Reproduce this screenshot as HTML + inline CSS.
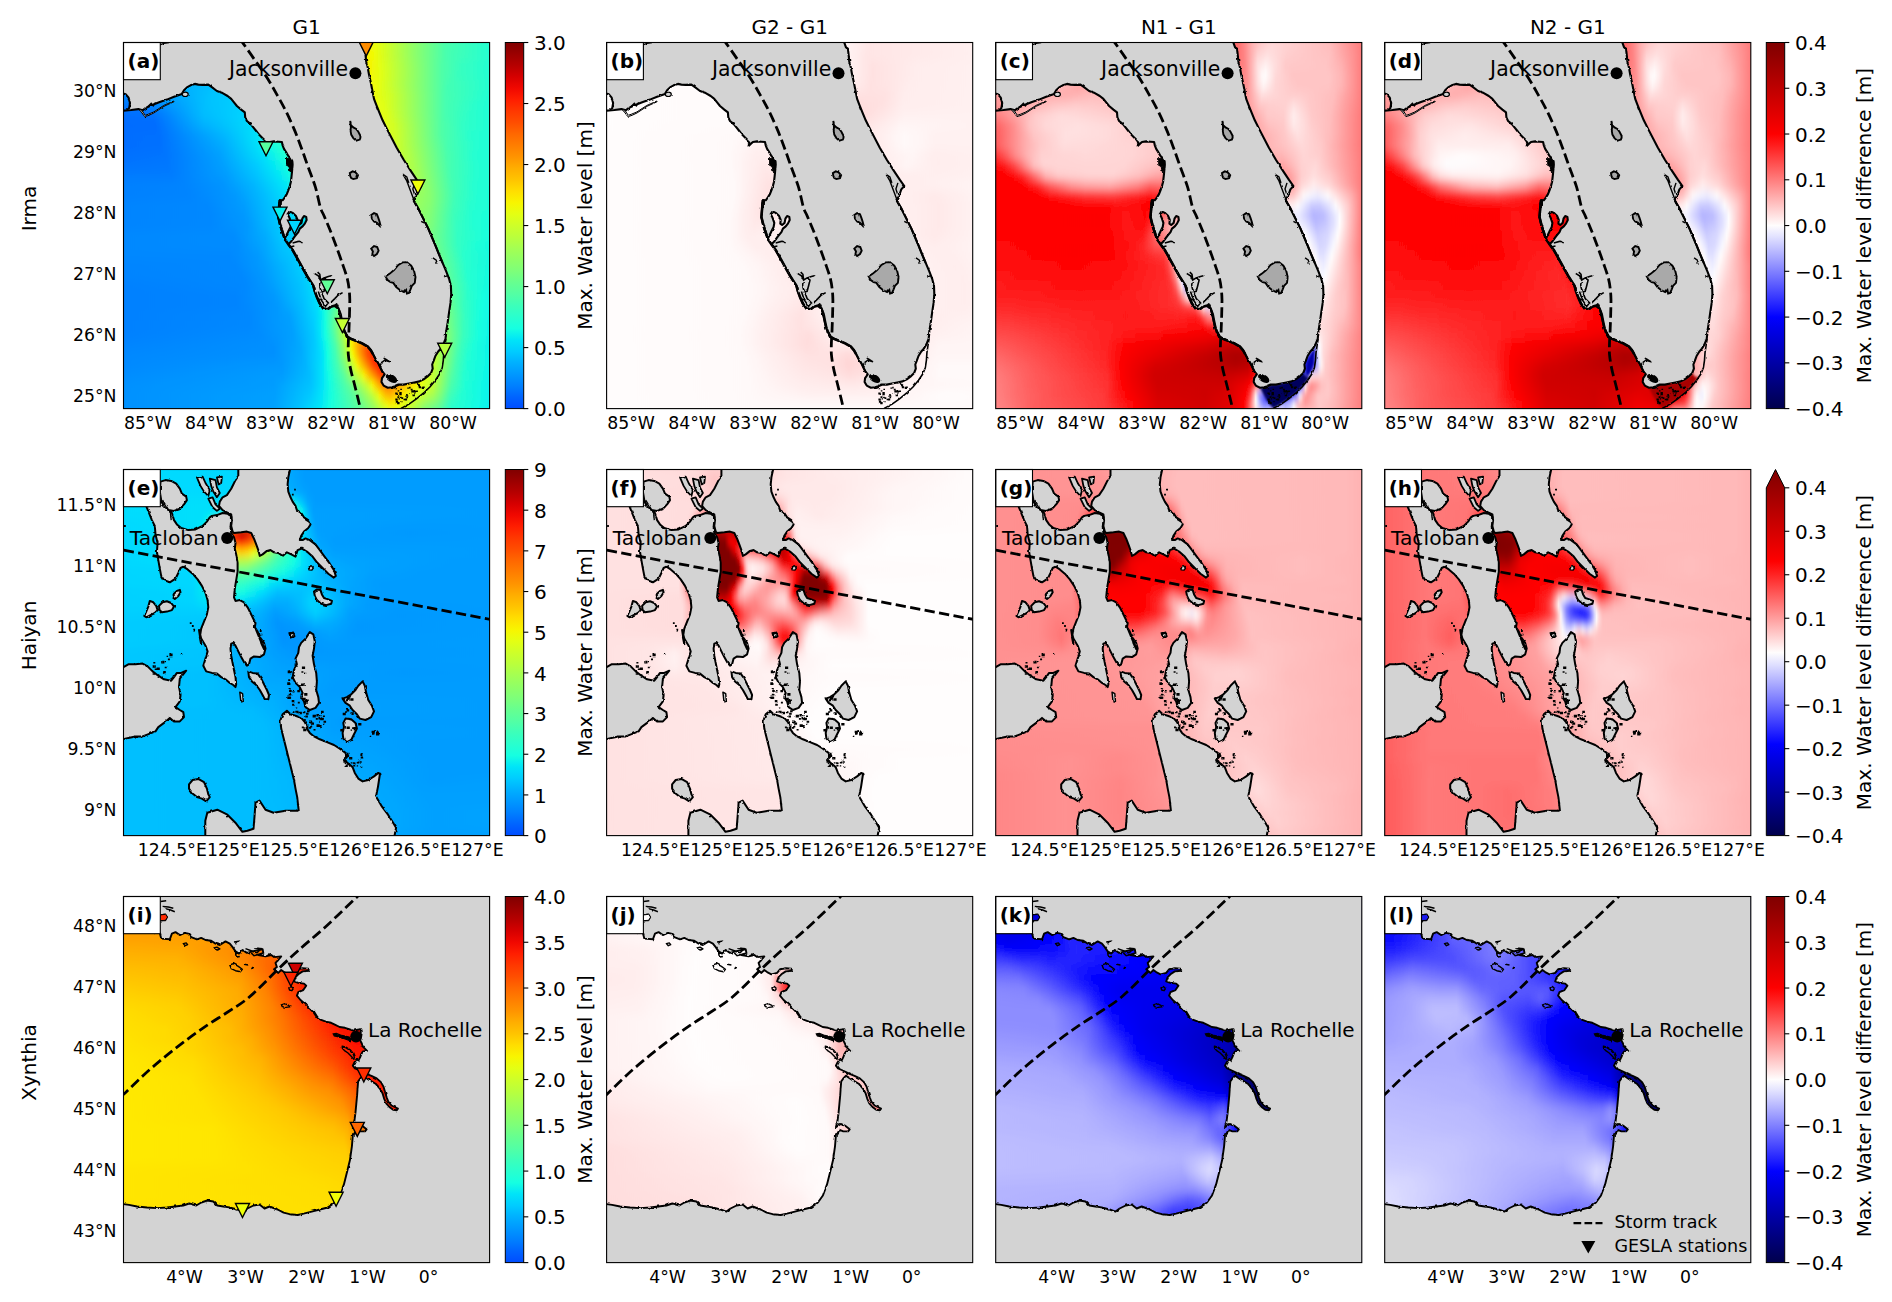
<!DOCTYPE html>
<html><head><meta charset="utf-8"><title>Max water level comparison</title>
<style>html,body{margin:0;padding:0;background:#fff}svg{display:block}text{font-family:"DejaVu Sans","Liberation Sans",sans-serif;fill:#000}</style></head><body>
<svg width="1892" height="1302" viewBox="0 0 1892 1302">
<rect width="1892" height="1302" fill="#fff"/>
<defs>
<linearGradient id="gjet" x1="0" y1="1" x2="0" y2="0"><stop offset="0.0000" stop-color="#004cff"/><stop offset="0.0312" stop-color="#0064ff"/><stop offset="0.0625" stop-color="#0080ff"/><stop offset="0.0938" stop-color="#0098ff"/><stop offset="0.1250" stop-color="#00b0ff"/><stop offset="0.1562" stop-color="#00ccff"/><stop offset="0.1875" stop-color="#00e4f8"/><stop offset="0.2188" stop-color="#16ffe1"/><stop offset="0.2500" stop-color="#29ffce"/><stop offset="0.2812" stop-color="#3cffba"/><stop offset="0.3125" stop-color="#53ffa4"/><stop offset="0.3438" stop-color="#66ff90"/><stop offset="0.3750" stop-color="#7dff7a"/><stop offset="0.4062" stop-color="#90ff66"/><stop offset="0.4375" stop-color="#a4ff53"/><stop offset="0.4688" stop-color="#baff3c"/><stop offset="0.5000" stop-color="#ceff29"/><stop offset="0.5312" stop-color="#e4ff13"/><stop offset="0.5625" stop-color="#f8f500"/><stop offset="0.5938" stop-color="#ffde00"/><stop offset="0.6250" stop-color="#ffc400"/><stop offset="0.6562" stop-color="#ffae00"/><stop offset="0.6875" stop-color="#ff9400"/><stop offset="0.7188" stop-color="#ff7e00"/><stop offset="0.7500" stop-color="#ff6800"/><stop offset="0.7812" stop-color="#ff4e00"/><stop offset="0.8125" stop-color="#ff3800"/><stop offset="0.8438" stop-color="#ff1e00"/><stop offset="0.8750" stop-color="#f10800"/><stop offset="0.9062" stop-color="#d60000"/><stop offset="0.9375" stop-color="#b60000"/><stop offset="0.9688" stop-color="#9b0000"/><stop offset="1.0000" stop-color="#800000"/></linearGradient>
<linearGradient id="gseis" x1="0" y1="1" x2="0" y2="0"><stop offset="0.0000" stop-color="#00004c"/><stop offset="0.0312" stop-color="#000063"/><stop offset="0.0625" stop-color="#000079"/><stop offset="0.0938" stop-color="#000090"/><stop offset="0.1250" stop-color="#0000a6"/><stop offset="0.1562" stop-color="#0000bc"/><stop offset="0.1875" stop-color="#0000d3"/><stop offset="0.2188" stop-color="#0000e9"/><stop offset="0.2500" stop-color="#0101ff"/><stop offset="0.2812" stop-color="#2121ff"/><stop offset="0.3125" stop-color="#4141ff"/><stop offset="0.3438" stop-color="#6161ff"/><stop offset="0.3750" stop-color="#8181ff"/><stop offset="0.4062" stop-color="#a1a1ff"/><stop offset="0.4375" stop-color="#c1c1ff"/><stop offset="0.4688" stop-color="#e1e1ff"/><stop offset="0.5000" stop-color="#fffdfd"/><stop offset="0.5312" stop-color="#ffdddd"/><stop offset="0.5625" stop-color="#ffbdbd"/><stop offset="0.5938" stop-color="#ff9d9d"/><stop offset="0.6250" stop-color="#ff7d7d"/><stop offset="0.6562" stop-color="#ff5d5d"/><stop offset="0.6875" stop-color="#ff3d3d"/><stop offset="0.7188" stop-color="#ff1d1d"/><stop offset="0.7500" stop-color="#fe0000"/><stop offset="0.7812" stop-color="#ee0000"/><stop offset="0.8125" stop-color="#de0000"/><stop offset="0.8438" stop-color="#ce0000"/><stop offset="0.8750" stop-color="#be0000"/><stop offset="0.9062" stop-color="#ae0000"/><stop offset="0.9375" stop-color="#9e0000"/><stop offset="0.9688" stop-color="#8e0000"/><stop offset="1.0000" stop-color="#800000"/></linearGradient>
<filter id="vb" x="-10%" y="-10%" width="120%" height="120%"><feGaussianBlur stdDeviation="0 4"/></filter>
<filter id="b1" x="-20%" y="-20%" width="140%" height="140%"><feGaussianBlur stdDeviation="1"/></filter>
<clipPath id="pc"><rect x="0" y="0" width="366.1" height="366.1"/></clipPath>
<filter id="rough" x="-5%" y="-5%" width="110%" height="110%"><feTurbulence type="fractalNoise" baseFrequency="0.2" numOctaves="2" seed="4"/><feDisplacementMap in="SourceGraphic" scale="2.4" xChannelSelector="R" yChannelSelector="G"/></filter><g id="fl_land"><g filter="url(#rough)"><path d="M-5 -5 237.7 -2.2 237.7 0.1 239.4 4.9 241.3 6.1 242 12.1 242.7 19.2 244.1 24.2 245.5 32.1 247.4 40.6 249.1 49.2 250.5 56.4 252.7 62.1 255.5 69.2 259.1 77.8 263.4 86.4 273.2 105.2 280.2 117.3 287.3 128.4 293.3 137.4 297.7 143.5 294.7 146.9 292.7 152.5 289.8 157.5 294.8 166.1 299.8 176.1 304.8 186.1 308.4 194.6 312 203.2 315.5 211.8 319.1 220.4 322.7 228.9 325.5 236.1 327.4 243.2 327.7 251.8 327 260.4 325.5 270.4 324.1 280.4 322.7 288.9 322 296.8 321.9 296.6 319.8 301.9 317.2 306.1 314.5 309.3 311.9 313.5 310.3 317.8 308.7 322 309.2 326.2 307.6 330.4 304.5 333.6 300.2 336.8 296 338.9 290.7 340 285.5 341 280.2 342.1 275.9 342.1 271.7 343.7 268.5 344.7 264.3 345.2 260.1 343.1 258 339.4 258.5 335.7 261.1 332 259 329.4 256.9 325.2 254.8 320.9 252.2 316.7 249.5 311.4 247.4 307.7 244.2 304 238.9 300.8 233.7 298.7 228.4 296.6 224.1 294.5 221 289.2 218.9 282.9 217.3 275.5 215.7 268.1 213 261.7 211.3 263.2 207.7 263.9 204.1 266.8 199.8 266.1 196.3 261.1 193.4 254.6 191.3 248.9 189.8 243.2 187 238.9 183.4 233.2 179.8 226.8 176.3 220.4 172.7 213.9 169.1 207.5 164.8 201.8 167.7 198.9 171.3 193.9 174.8 189.6 176.3 186.1 179.1 183.9 181.3 181.1 183.1 177.5 182.7 174.4 180.5 173.5 178.8 176.1 178 180.4 175.5 182.5 173.7 181.1 174.1 177.5 172.3 173.2 169.1 170.4 166 168.9 164.1 171.5 166 175.4 167.7 180.4 167 184.6 165.1 188.2 163.1 192.5 161.3 196.1 159.8 191.8 157 183.2 154.8 174.6 155.5 166.1 156.3 157.5 159.1 157.8 161.3 154.9 163.4 151.4 164.8 147.8 166.3 143.5 167.4 139.2 168 134.2 168.5 129.2 169.1 122.1 168.8 118.5 167 115.6 164.8 113.5 162.7 109.9 160.5 106.4 159.1 102.8 158.4 99.5 154.8 99.2 150.5 98.9 146.3 99.5 144.1 101.4 142 103.5 142.7 100.6 141.3 97.8 138.4 94.9 135.5 92.1 132.7 88.5 129.8 84.9 127 81.4 123.4 78.5 121.7 74.9 121.3 69.9 117.7 67.1 113.4 63.5 110.5 59.9 107.7 56.4 104.1 53.5 99.1 50.6 93.4 48.5 87.7 44.2 84.8 42.1 79.1 42.4 74.8 42.1 71.3 41.4 67 42.8 63.4 44.9 60.5 47.8 58.4 51.4 50.5 54.2 43.4 57.1 36.3 59.5 30.5 61.8 26.3 63.5 22 65.6 19.1 67.8 14.8 66.6 7.7 67.5 -0 68.1 -5 69ZM-2.3 50.6 2.3 51.8 5.1 55.2 6.5 60.6 5.7 65.6 3.4 67.8 -2.3 68.4Z" fill="#d3d3d3" stroke="#000" stroke-width="2.1" stroke-linejoin="round" fill-rule="evenodd"/><path d="M14.8 66.6 17 68.5 21.3 74.2 25.5 72.8 30.5 70.4 40.5 63.8 50.5 59.2 50.3 58.5 40.3 62.9 30.3 69.4 25.1 71.6 21.7 72.8 18.3 67.8Z" fill="#d3d3d3" stroke="#000" stroke-width="1"/><path d="M226.7 78.5 227.7 82.8 229.8 84.9 232.7 86.4 234.8 89.2 237 93.5 236.3 97.1 232.7 98.1 229.8 95.6 227.7 92.1 227 87.8 227.4 84.9Z" fill="#a9a9a9" stroke="#000" stroke-width="1.9"/><path d="M226.3 130.6 229.1 128.9 232 129.9 234.5 132.8 233.4 135.6 229.8 136.6 227.7 135.6 226.7 133.5Z" fill="#a9a9a9" stroke="#000" stroke-width="1.9"/><path d="M247.7 172.5 250.5 170.6 253.4 171.8 254.8 175.4 256 178.9 257.4 184.6 255.5 182.5 253.4 180.4 250.5 178.9 248.4 176.1Z" fill="#a9a9a9" stroke="#000" stroke-width="1.9"/><path d="M247.7 206.1 250.5 203.5 253.7 204.6 255.1 208.2 253.4 211.5 250.5 213.5 248.8 211.8 249.4 208.9Z" fill="#a9a9a9" stroke="#000" stroke-width="1.9"/><path d="M262 233.9 266.3 231.1 270.5 227.5 274.8 222.5 279.1 219.9 283.4 219.6 287.7 223.2 290.5 228.2 292 234.6 291.3 240.4 288.4 243.2 287 246.8 285.5 250.4 283.4 251.1 282.7 247.5 280.5 249.6 276.3 247.5 272.7 244.6 269.8 240.4 267 239.6 264.1 237.5Z" fill="#a9a9a9" stroke="#000" stroke-width="1.9"/><path d="M277.5 365.9 285.5 361.6 292.9 356.3 300.2 350.5 306.6 344.2 311.9 337.8 316.1 331.5 318.7 325.2 319.8 317.8 320.3 310.4 321.4 303 322.4 296.6" fill="none" stroke="#000" stroke-width="1.6"/><ellipse cx="268.0" cy="335.9" rx="6.3" ry="3.6" transform="rotate(32 268.0 335.9)" fill="#000"/><path d="M221 289.2 224.1 294.5 228.4 296.8 233.7 298.9 238.9 301.1 244.2 304.2 247.4 307.9 249.5 311.6" fill="none" stroke="#000" stroke-width="2.6" stroke-linejoin="round"/><path d="M249.5 311.6 252.2 316.7 254.8 320.9 256.9 325.2 259 329.4 261.1 332" fill="none" stroke="#000" stroke-width="1.8"/><path d="M256.9 320.9 261.1 317.8 266.4 319.3 262.2 316.7 260.1 315.6" fill="none" stroke="#000" stroke-width="1.5"/><path d="M156.3 157.5 155.5 166.1 154.8 174.6 157 183.2 159.8 191.8 161.3 196.8 164.8 201.8 169.1 207.5 172.7 213.9 176.3 220.4 179.8 226.8 183.4 233.2 187 238.9 189.8 243.2 191.3 248.9 193.4 254.6 196.3 261.1 199.8 266.1 204.1 266.8 207.7 263.9 211.3 263.2 214.8 266.1 217 271.8 218.4 278.9 219.8 285.4 222 291.1 224.1 295.4" fill="none" stroke="#000" stroke-width="2.6" stroke-linejoin="round"/><path d="M207.7 259.6 211.3 256.1 214.8 252.5 219.1 250.1M190.5 230.6 194.8 233.2 197 237.5 200.5 235.4 203.4 237.5 202 243.2 200.5 248.9 197.7 249.6 196.3 244.6 197.7 239.6M194.8 248.9 197.7 257.5 202 263.9 204.8 260.4 200.5 256.1 198.4 250.4M200.5 235.4 204.8 233.9 207.7 233.2M197 237.5 196.3 231.8 194.1 229.6" fill="none" stroke="#000" stroke-width="1.6"/><path d="M162 116.4 167 115.2 169.1 119.2 168.8 127.8 166.5 129.2 165.5 124.2 162 122.1Z" fill="#000" stroke="#000" stroke-width="1"/><path d="M154.8 174.6 156.3 183.2 159.1 191.8 162 198.2M169.1 200.4 174.8 198.9 179.1 200.4M166.3 204.6 170.8 203.5M157 157.8 155.5 160.6 156.3 164.2" fill="none" stroke="#000" stroke-width="1.5"/><path d="M279.2 131.4 283.3 138.4 286.3 146.5 289.3 154.5 292.3 162.6M291.3 140.4 289.3 146.5 291.3 152.5M280.2 132.4 283.3 134.4 285.3 140.4" fill="none" stroke="#000" stroke-width="1.4"/><path d="M289.8 157.5 294.8 166.1 299.8 176.1 304.8 186.1 308.4 194.6 312 203.2 315.5 211.8 319.1 220.4" fill="none" stroke="#000" stroke-width="2"/><path d="M309.4 215.4 313.4 218.2 312 221.1M297.7 178.9 300.5 180.4M320.5 234.6 324.1 233.2" fill="none" stroke="#000" stroke-width="1.4"/><path d="M276.0 351.4h1.6v1.3h-1.6zM272.2 345.8h1.3v1.0h-1.3zM277.8 358.7h1.3v1.0h-1.3zM295.2 343.8h2.4v2.0h-2.4zM285.5 344.7h1.6v1.3h-1.6zM274.2 347.7h1.6v1.3h-1.6zM271.8 356.1h2.4v2.0h-2.4zM290.0 348.0h1.9v1.6h-1.9zM272.4 358.5h1.6v1.3h-1.6zM293.7 341.2h1.9v1.6h-1.9zM292.5 347.9h1.9v1.6h-1.9zM287.2 346.3h1.9v1.6h-1.9zM275.8 350.7h2.4v2.0h-2.4zM289.0 351.8h2.4v2.0h-2.4zM289.9 347.5h1.6v1.3h-1.6zM290.7 348.5h1.9v1.6h-1.9zM293.8 341.3h1.9v1.6h-1.9zM281.2 355.9h2.4v2.0h-2.4zM280.0 356.2h1.9v1.6h-1.9zM273.3 351.5h1.3v1.0h-1.3zM283.8 345.0h1.6v1.3h-1.6zM273.1 351.3h1.6v1.3h-1.6zM271.7 350.0h2.4v2.0h-2.4zM295.1 343.1h1.3v1.0h-1.3zM285.8 344.2h1.3v1.0h-1.3zM286.0 350.6h1.3v1.0h-1.3zM290.6 350.2h1.3v1.0h-1.3zM282.6 351.6h1.6v1.3h-1.6zM282.9 354.5h1.6v1.3h-1.6zM283.2 352.9h1.6v1.3h-1.6zM283.0 352.8h1.3v1.0h-1.3zM294.2 341.8h2.4v2.0h-2.4zM272.3 358.3h2.4v2.0h-2.4zM274.2 359.6h1.9v1.6h-1.9zM290.6 348.4h1.3v1.0h-1.3zM273.6 359.7h2.4v2.0h-2.4zM298.8 344.0h2.4v2.0h-2.4zM277.8 354.8h1.9v1.6h-1.9zM275.8 349.4h2.4v2.0h-2.4zM273.9 353.8h1.9v1.6h-1.9zM288.1 348.0h2.4v2.0h-2.4zM298.2 344.4h2.4v2.0h-2.4zM281.7 353.3h1.3v1.0h-1.3zM276.8 346.2h1.6v1.3h-1.6zM275.0 355.8h1.6v1.3h-1.6zM276.5 354.2h1.6v1.3h-1.6zM272.8 357.1h1.3v1.0h-1.3z" fill="#000"/><path d="M27 0.9 29.1 3.8 31.7 4.9 34.8 2.4 36.3 0.4M36.3 2.4 40.5 0.9 45.5 0.1" fill="none" stroke="#000" stroke-width="1.2"/><ellipse cx="61.7" cy="51.8" rx="3" ry="2.2" fill="#d3d3d3" stroke="#000" stroke-width="1.2"/><path d="M23.4 64.9 27.7 60.6 29.8 63.5 32 59.9" fill="none" stroke="#000" stroke-width="1.2"/></g></g><g id="fl_over"><path d="M116.3 -4.2C116.7 -3.5 116.7 -3.4 119.1 0.1C121.5 3.5 126.5 10.5 130.5 16.4C134.6 22.2 139.6 29.0 143.4 34.9C147.2 40.9 150.3 46.6 153.4 52.1C156.5 57.5 159.1 62.1 162.0 67.8C164.8 73.5 167.9 80.2 170.5 86.4C173.2 92.5 175.3 98.5 177.7 104.9C180.1 111.4 182.4 118.3 184.8 124.9C187.2 131.6 189.9 138.2 192.0 144.9C194.0 151.7 195.5 160.6 197.0 165.4C198.4 170.1 198.8 169.0 200.5 173.2C202.3 177.4 205.4 184.6 207.7 190.4C209.9 196.1 212.2 202.3 214.1 207.5C216.0 212.7 217.6 217.3 219.1 221.8C220.7 226.3 222.3 230.6 223.4 234.6C224.5 238.7 225.1 242.3 225.5 246.1C226.0 249.9 226.2 253.2 226.3 257.5C226.3 261.8 226.1 267.0 226.0 271.8C225.9 276.5 225.7 281.3 225.5 286.1C225.4 290.8 224.9 296.1 224.8 300.4C224.7 304.6 224.5 307.5 224.8 311.8C225.2 316.1 226.0 321.4 227.0 326.1C227.9 330.8 229.3 335.2 230.5 340.0C231.7 344.7 233.0 350.1 234.2 354.8C235.3 359.4 236.8 365.8 237.4 368.0" fill="none" stroke="#000" stroke-width="2.78" stroke-dasharray="10.3 4.4"/><circle cx="231.9" cy="30.7" r="6" fill="#000"/></g>
<g id="hy_land"><g filter="url(#rough2)"><path d="M37 12.1 42 10.6 47.7 11.4 52.7 14.2 56.3 19.2 58.4 24.2 62.7 27.1 63.4 30.6 60.5 34.9 56.3 39.2 50.5 41.4 44.8 40.6 40.5 36.4 37.7 30.6 36.3 22.1ZM22.7 36.4 25.5 43.5 28.4 50.6 31.3 56.4 32 64.9 34.1 73.5 33.4 82.1 34.8 90.6 36.3 99.2 37.7 106.4 40.5 110.6 46.3 112.8 52 109.2 54.8 103.5 57 98.5 59.8 97.1 64.1 99.9 69.1 104.2 74.1 109.9 78.4 116.4 82 123.5 84.1 130.6 84.8 137.8 83.4 144.9 80.5 152.1 77.7 159.2 76.3 167.8 77.7 174.9 75.5 160.5 77.7 169.1 82 176.2 84.1 181.9 82 189.1 79.8 196.2 82.7 201.9 88.4 203.4 93.4 204.1 97.7 207.6 102 209.8 106.3 213.4 109.8 215.5 112 217.6 112.7 214.8 112 207.6 110.5 200.5 109.1 193.4 107.7 186.2 107 179.1 107.7 174.1 109.8 173.4 112 176.2 114.8 181.9 117.7 187.6 120.5 192.6 123.4 196.2 125.5 194.8 127 189.1 130.5 186.9 136.3 187.6 140.5 184.8 142 179.1 140.5 173.4 136.3 167.6 132.7 160.5 140.5 179.5 137.7 173.5 136.3 167.8 134.1 162.1 131.3 157.8 132 153.5 129.8 149.2 127 143.5 124.1 137.8 120.5 132.8 116.3 130.6 112 131.4 110.5 127.8 111.3 119.2 112.7 110.6 114.1 102.1 114.1 93.5 112.7 84.9 111.3 79.2 112 73.5 110.5 67.8 107.7 63.5 107 57.8 107.7 50.6 107 46.4 104.1 44.2 99.1 43.5 93.4 45.6 88.4 46.4 86.3 47.8 83.4 52.1 79.1 56.4 72 59.9 64.8 60.6 57.7 58.5 53.4 54.9 50.5 50.6 48.4 43.5 44.8 40.6 40.5 36.4 36.3 32.1 29.1 34.9ZM114.8 -2.2 114.8 6.4 112 10.6 107.7 19.2 103.4 25.6 99.1 27.8 96.3 32.1 95.5 36.4 99.1 40.6 103.4 42.8 107.7 44.9 108.4 50.6 107.7 56.4 109.1 62.1 110.5 63.5 117.7 62.8 123.4 62.1 127.7 63.5 130.5 69.2 132.7 74.9 134.8 80.6 136.3 86.4 139.1 84.9 143.4 81.4 147 80.6 150.5 82.8 154.8 83.5 159.1 86.4 163.4 82.8 167.7 84.9 172 87.1 174.1 80.6 177.7 79.2 178.4 79.2 183.4 82.1 189.1 87.1 193.4 92.8 199.1 98.5 204.8 104.2 210.3 108.1 212.3 106.4 210.5 100.6 206.3 94.2 200.5 86.4 196.3 80.6 192 74.9 186.3 70.6 182 68.9 179.1 70.6 176.3 70.6 177.7 66.4 180.5 62.1 184.8 58.5 187 54.9 184.8 50.6 180.5 47.8 177.7 43.5 173.4 40.6 172 36.4 169.1 32.1 167 27.8 164.8 22.1 164.1 14.9 164.8 7.8 167 -2.2ZM190.5 122.1 193.4 119.9 197 120.6 198.4 124.9 200.5 128.5 204.8 129.9 208.4 131.4 207.7 134.2 202.7 135.6 197.7 134.2 193.4 130.6 191.3 126.4ZM124.8 201.9 129.1 203.4 134.1 204.1 137.7 209.1 140.5 214.8 143.4 220.5 145.5 225.5 144.8 229.8 141.3 229.8 139.1 225.5 136.3 220.5 132.7 215.5 128.4 211.9 125.5 207.6ZM-3.7 198.4 -0 197.6 4.8 194.8 12 194.8 19.1 194.1 24.1 196.9 29.1 201.9 34.8 206.2 40.5 209.8 47.7 211.2 50.5 207.6 53.4 203.4 57.7 203.4 62.7 201.2 56.3 209.1 55.5 217.6 57 224.8 56.3 231.9 52 237.6 56.3 240.5 59.8 242.6 60.5 247.6 56.3 251.9 50.5 251.9 46.3 248.4 40.5 253.4 34.8 257.6 32 261.9 26.3 264.1 19.1 266.9 12 266.9 4.8 268.4 -3.7 270.5ZM177.7 173.4 182 169.1 186.3 162.6 189.8 164.8 191.3 171.9 190.5 179.1 189.1 186.2 190.5 194.8 192.7 203.4 193.4 211.9 192.7 220.5 194.8 227.6 195.5 233.4 192 238.4 186.3 240.5 182 237.6 180.5 231.9 177.7 227.6 179.1 223.4 176.3 217.6 172 213.4 169.1 207.6 170.5 200.5 173.4 194.8 172 189.1 174.8 183.4 175.5 177.6ZM239.1 211.9 241.3 216.2 242.7 223.4 244.8 230.5 248.4 236.2 250.5 241.9 247.7 247.6 242 250.5 236.3 249.1 233.4 244.8 229.1 240.5 226.3 236.2 222 233.4 219.1 229.1 223.4 227.6 227.7 224.8 232 220.5 234.8 216.2ZM222 249.1 227.7 249.8 232 253.4 233.4 259.1 230.5 264.8 227.7 270.5 223.4 272.6 219.8 269.1 219.1 263.4 220.5 257.6 219.8 253.4ZM65.5 314.8 69.1 310.5 74.8 309.4 80.5 312.6 83.4 319.1 84.8 324.8 86.3 327.6 82.7 331.9 78.4 329.1 73.4 327.6 68.4 323.4 65.5 319.1ZM163.4 241.2 167 244.8 172 246.2 177.7 248.4 182 253.4 183.4 259.1 186.3 263.4 190.5 266.9 196.3 269.8 203.4 272.6 210.5 275.5 216.3 279.1 222 283.4 223.4 287.6 220.5 290.5 224.8 294.1 229.1 297.6 231.3 303.4 234.8 309.1 239.1 311.9 244.8 310.5 250.5 306.9 254.8 303.4 257 304.8 256.5 304 254.5 317.1 252.5 327.1 258.5 337.2 264.5 345.2 269.6 353.2 272.6 358.2 270.6 368.3 81.8 368.3 81.8 351.2 83.8 343.2 93.8 340.2 103.9 345.2 111.9 353.2 118.9 362.3 123.9 361.3 130 359.3 131 347.2 132 333.1 136 331.1 142 340.2 150.1 343.2 162.1 341.2 173.2 341.2 175.2 341.2 173.7 327.6 172 319.1 170.5 310.5 168.4 301.9 166.3 293.4 164.1 284.8 162 276.2 159.8 267.6 157.7 259.1 157 250.5 159.1 244.8ZM26.3 131.4 29.8 132.8 32.7 136.4 34.1 140.6 31.3 143.5 27 145.6 22.7 147.8 20.8 146.4 22.7 142.1 24.8 137.1ZM35.5 136.4 39.1 132.8 43.4 131.8 47.7 133.5 50.5 137.1 48.4 140.6 43.4 142.1 38.4 142.8 36 140.6ZM49.1 127.8 50.5 124.2 53.4 121.4 56.3 120.4 57 122.8 54.8 126.4 51.3 129.5Z" fill="#d3d3d3" stroke="#000" stroke-width="2" stroke-linejoin="round"/><path d="M184.8 97.1 187.7 96.1 189.8 98.5 188.4 100.6 185.5 100.4ZM165.5 163.4 169.8 162.6 171.3 166.9 167 168.4ZM116.3 222.6 119.1 224.1 119.8 231.9 117.4 232.6ZM167 163.5 170.5 164.2 170.3 167.8 167.4 167.5Z" fill="#d3d3d3" stroke="#000" stroke-width="1.4" stroke-linejoin="round"/><path d="M73.4 7.8 79.1 7.1 82 13.5 86.3 20.6 84.8 26.4 80.5 22.1 77 16.4Z" fill="#d3d3d3" stroke="#000" stroke-width="1.8" stroke-linejoin="round"/><path d="M86.3 9.2 92 10.6 93.4 17.8 96.3 23.5 93.4 27.8 89.8 22.1 87.7 16.4Z" fill="#d3d3d3" stroke="#000" stroke-width="1.8" stroke-linejoin="round"/><path d="M84.8 29.2 89.1 27.8 92 34.9 96.3 39.2 93.4 41.4 89.1 37.8Z" fill="#d3d3d3" stroke="#000" stroke-width="1.8" stroke-linejoin="round"/><path d="M93.4 7.8 98.4 7.1 97.7 13.5 95.1 14.9Z" fill="#d3d3d3" stroke="#000" stroke-width="1.8" stroke-linejoin="round"/><path d="M39.1 30.6 47 43.5 47.7 50.6" fill="none" stroke="#000" stroke-width="1.3"/><path d="M29.1 195.7h3.2v2.6h-3.2zM29.1 203.7h2.0v1.6h-2.0zM39.8 202.0h1.5v1.2h-1.5zM34.3 204.7h1.5v1.2h-1.5zM37.7 191.3h3.2v2.6h-3.2zM41.2 197.2h2.0v1.6h-2.0zM39.4 203.1h1.5v1.2h-1.5zM29.8 192.5h2.0v1.6h-2.0zM33.1 197.9h3.2v2.6h-3.2zM41.3 191.5h1.5v1.2h-1.5zM44.4 189.1h2.0v1.6h-2.0zM43.1 186.3h1.5v1.2h-1.5zM39.7 201.6h2.6v2.1h-2.6zM57.3 184.2h1.5v1.2h-1.5zM31.2 199.0h2.0v1.6h-2.0zM45.9 184.1h3.2v2.6h-3.2zM167.7 207.6h2.6v2.1h-2.6zM167.1 246.0h1.5v1.2h-1.5zM164.2 201.1h3.2v2.6h-3.2zM168.6 234.2h2.6v2.1h-2.6zM180.0 213.8h1.5v1.2h-1.5zM165.2 224.2h2.0v1.6h-2.0zM163.7 212.8h3.2v2.6h-3.2zM165.9 224.4h2.0v1.6h-2.0zM180.7 203.0h2.0v1.6h-2.0zM169.6 205.4h2.0v1.6h-2.0zM177.9 201.7h2.0v1.6h-2.0zM177.1 213.9h3.2v2.6h-3.2zM175.5 215.6h1.5v1.2h-1.5zM165.6 220.4h2.6v2.1h-2.6zM168.2 230.6h2.6v2.1h-2.6zM171.8 241.2h3.2v2.6h-3.2zM169.3 202.6h1.5v1.2h-1.5zM165.9 218.7h1.5v1.2h-1.5zM169.0 241.8h2.0v1.6h-2.0zM178.4 197.0h3.2v2.6h-3.2zM172.3 196.6h2.0v1.6h-2.0zM169.0 221.4h2.0v1.6h-2.0zM165.2 200.7h3.2v2.6h-3.2zM177.2 224.2h2.0v1.6h-2.0zM175.2 242.2h3.2v2.6h-3.2zM181.6 230.4h1.5v1.2h-1.5zM163.8 227.0h3.2v2.6h-3.2zM164.7 209.8h2.0v1.6h-2.0zM174.3 232.3h2.0v1.6h-2.0zM179.3 241.7h2.6v2.1h-2.6zM165.1 218.4h1.5v1.2h-1.5zM180.8 215.4h1.5v1.2h-1.5zM180.7 223.6h3.2v2.6h-3.2zM171.0 194.0h1.5v1.2h-1.5zM165.0 227.2h2.6v2.1h-2.6zM181.0 231.8h3.2v2.6h-3.2zM182.1 230.0h3.2v2.6h-3.2zM172.2 237.7h1.5v1.2h-1.5zM173.8 220.6h2.6v2.1h-2.6zM175.4 218.8h2.0v1.6h-2.0zM179.0 228.2h3.2v2.6h-3.2zM183.5 240.7h2.6v2.1h-2.6zM181.0 252.7h2.0v1.6h-2.0zM194.9 247.4h3.2v2.6h-3.2zM189.1 245.3h3.2v2.6h-3.2zM192.9 244.5h3.2v2.6h-3.2zM196.1 255.6h2.0v1.6h-2.0zM197.8 248.2h2.6v2.1h-2.6zM182.5 243.2h2.6v2.1h-2.6zM196.8 257.5h1.5v1.2h-1.5zM199.4 246.0h2.0v1.6h-2.0zM180.3 249.9h2.0v1.6h-2.0zM196.7 248.2h3.2v2.6h-3.2zM193.0 254.8h3.2v2.6h-3.2zM185.0 257.1h2.6v2.1h-2.6zM197.6 241.3h2.6v2.1h-2.6zM190.7 246.7h1.5v1.2h-1.5zM192.3 248.6h2.0v1.6h-2.0zM178.3 257.1h2.0v1.6h-2.0zM195.5 256.4h1.5v1.2h-1.5zM187.9 253.1h2.6v2.1h-2.6zM199.6 254.2h2.0v1.6h-2.0zM196.5 245.6h1.5v1.2h-1.5zM194.9 251.2h1.5v1.2h-1.5zM181.8 245.9h2.6v2.1h-2.6zM190.0 259.4h2.0v1.6h-2.0zM186.7 256.3h2.0v1.6h-2.0zM179.7 259.2h3.2v2.6h-3.2zM180.7 249.6h1.5v1.2h-1.5zM186.3 251.9h2.6v2.1h-2.6zM188.3 253.5h2.0v1.6h-2.0zM179.9 257.8h1.5v1.2h-1.5zM182.6 258.5h1.5v1.2h-1.5zM200.0 251.2h2.6v2.1h-2.6zM183.7 254.9h1.5v1.2h-1.5zM223.2 227.7h3.2v2.6h-3.2zM223.1 239.8h2.6v2.1h-2.6zM226.0 225.8h1.5v1.2h-1.5zM224.8 226.0h2.6v2.1h-2.6zM230.0 257.5h3.2v2.6h-3.2zM219.2 243.2h3.2v2.6h-3.2zM220.7 243.6h2.6v2.1h-2.6zM219.5 243.2h2.6v2.1h-2.6zM222.5 238.4h2.0v1.6h-2.0zM222.3 229.8h2.6v2.1h-2.6zM227.0 242.8h3.2v2.6h-3.2zM216.8 259.4h3.2v2.6h-3.2zM227.1 260.1h1.5v1.2h-1.5zM226.1 249.5h1.5v1.2h-1.5zM234.7 253.4h3.2v2.6h-3.2zM221.6 241.7h2.0v1.6h-2.0zM223.1 257.0h3.2v2.6h-3.2zM226.8 228.7h3.2v2.6h-3.2zM228.6 257.8h2.0v1.6h-2.0zM230.3 259.7h1.5v1.2h-1.5zM223.0 285.5h2.6v2.1h-2.6zM225.6 287.5h3.2v2.6h-3.2zM221.2 293.4h1.5v1.2h-1.5zM236.2 291.7h2.0v1.6h-2.0zM233.1 295.7h1.5v1.2h-1.5zM226.6 288.4h2.0v1.6h-2.0zM229.9 295.5h2.0v1.6h-2.0zM229.7 295.3h2.0v1.6h-2.0zM223.8 293.6h2.6v2.1h-2.6zM237.2 286.9h2.6v2.1h-2.6zM236.9 285.0h2.0v1.6h-2.0zM236.9 284.0h2.0v1.6h-2.0zM221.8 283.3h3.2v2.6h-3.2zM221.1 295.0h3.2v2.6h-3.2zM230.0 293.0h2.0v1.6h-2.0zM227.2 292.7h1.5v1.2h-1.5zM221.0 290.9h2.6v2.1h-2.6zM237.3 297.1h1.5v1.2h-1.5zM233.2 291.9h2.6v2.1h-2.6zM229.2 292.7h2.0v1.6h-2.0zM235.2 289.5h1.5v1.2h-1.5zM219.9 290.6h3.2v2.6h-3.2zM222.0 284.8h2.0v1.6h-2.0zM222.6 284.4h2.6v2.1h-2.6zM237.7 283.4h1.5v1.2h-1.5zM246.2 266.3h1.5v1.2h-1.5zM252.5 263.3h3.2v2.6h-3.2zM249.1 263.5h2.0v1.6h-2.0zM250.8 260.6h1.5v1.2h-1.5zM253.3 262.1h3.2v2.6h-3.2zM248.4 263.7h2.0v1.6h-2.0zM250.9 261.3h1.5v1.2h-1.5zM248.1 261.2h3.2v2.6h-3.2z" fill="#000"/><path d="M66.3 152.8h1.8v1.8h-1.8zM68.4 155.6h1.8v1.8h-1.8zM69.8 159.2h1.8v1.8h-1.8zM136.3 160.6h1.8v1.8h-1.8zM137.0 164.2h1.8v1.8h-1.8zM168.4 24.2h1.8v1.8h-1.8zM170.5 19.2h1.8v1.8h-1.8zM0.5 55.6h1.8v1.8h-1.8z" fill="#000"/></g></g><filter id="rough2" x="-5%" y="-5%" width="110%" height="110%"><feTurbulence type="fractalNoise" baseFrequency="0.2" numOctaves="2" seed="9"/><feDisplacementMap in="SourceGraphic" scale="2.4" xChannelSelector="R" yChannelSelector="G"/></filter><g id="hy_over"><path d="M0.2 80.7L367 149.9" fill="none" stroke="#000" stroke-width="2.78" stroke-dasharray="10.3 4.4"/><circle cx="103.7" cy="68.4" r="6" fill="#000"/></g>
<filter id="rough3" x="-5%" y="-5%" width="110%" height="110%"><feTurbulence type="fractalNoise" baseFrequency="0.2" numOctaves="2" seed="2"/><feDisplacementMap in="SourceGraphic" scale="2.5" xChannelSelector="R" yChannelSelector="G"/></filter><g id="xy_land"><g filter="url(#rough3)"><path d="M-5 -5 371 -5 371 371 -5 371 -6.6 307.2 0 307.6 5.5 308.4 13.5 310 23.5 311 33.6 311.6 43.6 311 51.6 310 59.7 309 65.7 307 72.7 309 77.8 306 83.8 304 89.8 305 93.8 309 99.8 310 105.9 311 113.9 313 119.9 315.1 123.9 312 130 309 136 308 141 312 146 310 154.1 313 160.1 316.1 166.1 317.7 174.2 318.5 180.2 317.1 188.2 315.1 196.3 313 204.3 311 211.3 306 216.3 299 220.4 287.9 223.4 275.9 226.4 263.8 228.4 249.8 229.4 237.7 230.9 237 233 233.3 236.7 234.9 241.5 234.9 243.1 232.8 238.3 229.1 234.1 227.5 229.3 230.7 230.9 224.3 232 215.8 232.8 207.4 233.6 198.9 234.1 191.5 234.6 185.1 236.7 181.9 239.4 179.3 242.6 181.4 246.8 184.1 252.1 187.2 256.3 192 259 196.8 260.6 202.1 262.7 206.8 265.9 210.5 269.6 213.2 273.3 213.7 274.4 212.1 271.2 210.5 268 209 264.8 205.2 263.2 201 261.6 195.7 260.1 190.4 257.4 185.6 253.2 181.9 247.9 179.3 243.6 177.7 239.4 175.6 235.1 173.5 231.4 171.9 229.3 169.2 230.9 166 233 162.9 235.1 163.9 236.7 160.7 237.8 157.6 239.4 154.9 243.6 154.4 239.4 150.1 238.3 147 236.7 143.8 237.8 139.5 238.3 135.3 237.8 132.6 234.1 133.2 229.8 134.2 225.6 132.6 221.4 131.3 216.1 130.5 211.8 128.4 207.6 126.3 202.3 125.2 197 123.1 193.8 120.5 190.6 115.2 193.4 120.6 190.5 116.4 186.3 112.1 182 107.8 177 103.5 173.4 99.2 174.8 95.6 179.8 93.5 182.7 89.2 180.5 87.1 174.8 86.4 170.5 84.9 172 80.6 174.8 77.8 179.1 74.9 185.5 74.2 184.8 72.1 179.1 71.8 173.4 72.8 170.5 76.4 164.8 77.8 160.5 75.6 157.7 73.5 154.8 76.4 150.5 72.8 153.4 70.6 152 66.4 154.8 63.5 157.7 59.9 150.5 60.6 147.7 58.5 142 59.9 134.8 58.5 139.8 56.4 139.1 52.8 134.8 53.5 129.1 54.9 123.4 56.4 119.1 53.5 115.5 57.1 112 54.9 109.1 50.6 106.3 47.1 102 44.9 96.3 48.5 92 47.1 87.7 44.2 82 43.5 77.7 41.4 73.4 42.8 67.7 40.6 64.8 37.1 61.3 36.4 56.3 38.5 52 35.6 48.4 37.1 46.3 42.8 37.7 42.1 36.3 36.4 -5 30Z" fill="#d3d3d3" stroke="#000" stroke-width="1.9" stroke-linejoin="round"/><path d="M106.3 68.5 109.8 67.1 114.8 69.9 118.8 72.8 117 75.2 112 74.2 107.7 72.1ZM90.5 51.4 93.4 50.6 96.3 52.4 94.1 53.5 91.3 52.8ZM59.8 47.1 62.7 46.4 64.1 48.1 61.7 49.2ZM165.3 91.4 167.7 89.9 169.8 92.1 168.4 94.2 166 93.5ZM157.8 108.3 161.5 107.2 165.2 108.8 166.3 110.4 162.5 110.9 158.8 110.1ZM218.7 149.6 222.4 150.7 226.7 153.3 229.3 156.5 230.9 160.7 230.4 162.9 227.7 159.7 224.5 156.5 221.4 154.4 219.3 152.3Z" fill="none" stroke="#000" stroke-width="1.4" stroke-linejoin="round"/><path d="M209.7 137.4 212.9 136.9 217.1 138.5 221.4 139.5 225.6 140.6 228.3 142.2 226.7 144.3 222.4 142.7 218.2 141.1 214 140.1 210.8 139.5Z" fill="#000" stroke="#000" stroke-width="1.2"/><path d="M37 4.9 42.7 4.2M39.1 9.9 44.8 10.6 49.8 11.8M42 12.1 47 13.5 51.3 15.2M37 18.5 42 17.8 43.7 20.6 42 23.8 37.4 24.2M112 47.8 114.8 44.9 110.5 45.6M122 52.1 127.7 54.2 133.4 56.4 137.7 52.1 130.5 51.4M112 54.9 112.7 60.6 116.3 59.9M127.7 56.4 130.5 59.2 136.3 57.8M120.5 67.8 124.8 68.5M127.7 70.6 130.5 71.4" fill="none" stroke="#000" stroke-width="1.5"/></g></g><g id="xy_over"><path d="M240.3 -5.0C238.8 -3.8 237.8 -3.5 231.4 2.4C224.9 8.4 211.1 22.1 201.6 30.7C192.2 39.2 182.8 46.8 174.9 53.9C167.0 60.9 160.5 67.0 154.1 73.2C147.6 79.4 141.7 85.9 136.2 91.0C130.8 96.2 126.8 100.0 121.4 104.1C115.9 108.3 110.0 111.8 103.5 116.0C97.1 120.2 89.6 124.7 82.7 129.4C75.8 134.1 68.8 139.1 61.9 144.3C55.0 149.5 48.0 154.9 41.1 160.6C34.1 166.3 26.7 172.6 20.3 178.5C13.8 184.3 6.6 191.7 2.4 195.7C-1.8 199.7 -3.8 201.4 -5.0 202.5" fill="none" stroke="#000" stroke-width="2.78" stroke-dasharray="10.3 4.4"/><circle cx="232.5" cy="140.1" r="5.8" fill="#000"/></g>
</defs>
<g transform="translate(123.5,42.5)"><g clip-path="url(#pc)">
<defs><linearGradient id="fa1"><stop offset="0" stop-color="#009cff"/><stop offset="0.143" stop-color="#00a8ff"/><stop offset="0.184" stop-color="#00b0ff"/><stop offset="0.291" stop-color="#00bcff"/><stop offset="0.342" stop-color="#00e0fb"/><stop offset="0.388" stop-color="#1cffdb"/><stop offset="0.434" stop-color="#3cffba"/><stop offset="0.449" stop-color="#5aff9d"/><stop offset="0.469" stop-color="#94ff63"/><stop offset="0.49" stop-color="#adff49"/><stop offset="0.592" stop-color="#f1fc06"/><stop offset="0.628" stop-color="#ffe200"/><stop offset="0.653" stop-color="#feed00"/><stop offset="0.679" stop-color="#e7ff0f"/><stop offset="0.755" stop-color="#9dff5a"/><stop offset="0.837" stop-color="#56ffa0"/><stop offset="0.893" stop-color="#39ffbe"/><stop offset="0.99" stop-color="#1cffdb"/><stop offset="1" stop-color="#19ffde"/></linearGradient><linearGradient id="fa2"><stop offset="0" stop-color="#009cff"/><stop offset="0.291" stop-color="#00bcff"/><stop offset="0.337" stop-color="#00dcfe"/><stop offset="0.367" stop-color="#16ffe1"/><stop offset="0.607" stop-color="#eeff09"/><stop offset="0.628" stop-color="#feed00"/><stop offset="0.648" stop-color="#feed00"/><stop offset="0.673" stop-color="#ebff0c"/><stop offset="0.765" stop-color="#94ff63"/><stop offset="0.852" stop-color="#49ffad"/><stop offset="0.995" stop-color="#1cffdb"/><stop offset="1" stop-color="#1cffdb"/></linearGradient><linearGradient id="fa3"><stop offset="0" stop-color="#0098ff"/><stop offset="0.0663" stop-color="#00a0ff"/><stop offset="0.281" stop-color="#00bcff"/><stop offset="0.337" stop-color="#00d0ff"/><stop offset="0.367" stop-color="#09f0ee"/><stop offset="0.388" stop-color="#1cffdb"/><stop offset="0.612" stop-color="#ebff0c"/><stop offset="0.638" stop-color="#feed00"/><stop offset="0.668" stop-color="#f1fc06"/><stop offset="0.776" stop-color="#8aff6d"/><stop offset="0.857" stop-color="#46ffb1"/><stop offset="1" stop-color="#1cffdb"/></linearGradient><linearGradient id="fa4"><stop offset="0" stop-color="#008cff"/><stop offset="0.138" stop-color="#00acff"/><stop offset="0.291" stop-color="#00c0ff"/><stop offset="0.347" stop-color="#00d0ff"/><stop offset="0.372" stop-color="#02e8f4"/><stop offset="0.393" stop-color="#16ffe1"/><stop offset="0.587" stop-color="#caff2c"/><stop offset="0.628" stop-color="#f1fc06"/><stop offset="0.653" stop-color="#fbf100"/><stop offset="0.684" stop-color="#e4ff13"/><stop offset="0.842" stop-color="#50ffa7"/><stop offset="0.893" stop-color="#36ffc1"/><stop offset="1" stop-color="#1cffdb"/></linearGradient><linearGradient id="fa5"><stop offset="0" stop-color="#0084ff"/><stop offset="0.143" stop-color="#00acff"/><stop offset="0.347" stop-color="#00ccff"/><stop offset="0.378" stop-color="#00e0fb"/><stop offset="0.408" stop-color="#19ffde"/><stop offset="0.638" stop-color="#f1fc06"/><stop offset="0.653" stop-color="#f8f500"/><stop offset="0.689" stop-color="#e1ff16"/><stop offset="0.842" stop-color="#50ffa7"/><stop offset="0.883" stop-color="#39ffbe"/><stop offset="1" stop-color="#1cffdb"/></linearGradient><linearGradient id="fa6"><stop offset="0" stop-color="#0084ff"/><stop offset="0.199" stop-color="#00b4ff"/><stop offset="0.311" stop-color="#00c8ff"/><stop offset="0.378" stop-color="#00d8ff"/><stop offset="0.398" stop-color="#06ecf1"/><stop offset="0.423" stop-color="#1cffdb"/><stop offset="0.648" stop-color="#f1fc06"/><stop offset="0.673" stop-color="#eeff09"/><stop offset="0.776" stop-color="#8dff6a"/><stop offset="0.857" stop-color="#43ffb4"/><stop offset="1" stop-color="#1cffdb"/></linearGradient><linearGradient id="fa7"><stop offset="0" stop-color="#0080ff"/><stop offset="0.0663" stop-color="#0088ff"/><stop offset="0.255" stop-color="#00c4ff"/><stop offset="0.372" stop-color="#00d4ff"/><stop offset="0.398" stop-color="#00e4f8"/><stop offset="0.423" stop-color="#19ffde"/><stop offset="0.638" stop-color="#e4ff13"/><stop offset="0.663" stop-color="#f1fc06"/><stop offset="0.714" stop-color="#ceff29"/><stop offset="0.852" stop-color="#46ffb1"/><stop offset="0.974" stop-color="#1fffd7"/><stop offset="1" stop-color="#19ffde"/></linearGradient><linearGradient id="fa8"><stop offset="0" stop-color="#0078ff"/><stop offset="0.0765" stop-color="#0078ff"/><stop offset="0.179" stop-color="#00a4ff"/><stop offset="0.24" stop-color="#00c0ff"/><stop offset="0.332" stop-color="#00d0ff"/><stop offset="0.383" stop-color="#00dcfe"/><stop offset="0.403" stop-color="#09f0ee"/><stop offset="0.423" stop-color="#1cffdb"/><stop offset="0.587" stop-color="#b7ff40"/><stop offset="0.663" stop-color="#ebff0c"/><stop offset="0.694" stop-color="#e1ff16"/><stop offset="0.77" stop-color="#97ff60"/><stop offset="0.852" stop-color="#46ffb1"/><stop offset="0.929" stop-color="#29ffce"/><stop offset="1" stop-color="#19ffde"/></linearGradient><linearGradient id="fa9"><stop offset="0" stop-color="#006cff"/><stop offset="0.107" stop-color="#0070ff"/><stop offset="0.235" stop-color="#00bcff"/><stop offset="0.342" stop-color="#00d4ff"/><stop offset="0.372" stop-color="#00dcfe"/><stop offset="0.398" stop-color="#0cf4eb"/><stop offset="0.413" stop-color="#19ffde"/><stop offset="0.531" stop-color="#87ff70"/><stop offset="0.663" stop-color="#e1ff16"/><stop offset="0.699" stop-color="#e1ff16"/><stop offset="0.781" stop-color="#8dff6a"/><stop offset="0.852" stop-color="#46ffb1"/><stop offset="0.913" stop-color="#2cffca"/><stop offset="1" stop-color="#19ffde"/></linearGradient><linearGradient id="fa10"><stop offset="0" stop-color="#006cff"/><stop offset="0.112" stop-color="#006cff"/><stop offset="0.235" stop-color="#00b0ff"/><stop offset="0.372" stop-color="#00e0fb"/><stop offset="0.403" stop-color="#16ffe1"/><stop offset="0.505" stop-color="#6dff8a"/><stop offset="0.689" stop-color="#e1ff16"/><stop offset="0.719" stop-color="#d4ff23"/><stop offset="0.842" stop-color="#50ffa7"/><stop offset="0.898" stop-color="#30ffc7"/><stop offset="1" stop-color="#19ffde"/></linearGradient><linearGradient id="fa11"><stop offset="0" stop-color="#006cff"/><stop offset="0.122" stop-color="#0070ff"/><stop offset="0.291" stop-color="#00b8ff"/><stop offset="0.367" stop-color="#00e0fb"/><stop offset="0.403" stop-color="#19ffde"/><stop offset="0.607" stop-color="#a4ff53"/><stop offset="0.699" stop-color="#dbff1c"/><stop offset="0.724" stop-color="#d1ff26"/><stop offset="0.842" stop-color="#50ffa7"/><stop offset="0.913" stop-color="#29ffce"/><stop offset="1" stop-color="#19ffde"/></linearGradient><linearGradient id="fa12"><stop offset="0" stop-color="#006cff"/><stop offset="0.122" stop-color="#0070ff"/><stop offset="0.286" stop-color="#00acff"/><stop offset="0.372" stop-color="#00e0fb"/><stop offset="0.408" stop-color="#16ffe1"/><stop offset="0.699" stop-color="#d1ff26"/><stop offset="0.73" stop-color="#caff2c"/><stop offset="0.857" stop-color="#46ffb1"/><stop offset="0.929" stop-color="#26ffd1"/><stop offset="1" stop-color="#19ffde"/></linearGradient><linearGradient id="fa13"><stop offset="0" stop-color="#0070ff"/><stop offset="0.133" stop-color="#0074ff"/><stop offset="0.276" stop-color="#00a0ff"/><stop offset="0.388" stop-color="#00e0fb"/><stop offset="0.434" stop-color="#1cffdb"/><stop offset="0.663" stop-color="#adff49"/><stop offset="0.73" stop-color="#c7ff30"/><stop offset="0.76" stop-color="#b1ff46"/><stop offset="0.857" stop-color="#49ffad"/><stop offset="0.923" stop-color="#26ffd1"/><stop offset="1" stop-color="#19ffde"/></linearGradient><linearGradient id="fa14"><stop offset="0" stop-color="#0074ff"/><stop offset="0.143" stop-color="#0078ff"/><stop offset="0.245" stop-color="#0094ff"/><stop offset="0.286" stop-color="#00a0ff"/><stop offset="0.372" stop-color="#00ccff"/><stop offset="0.408" stop-color="#00e4f8"/><stop offset="0.449" stop-color="#19ffde"/><stop offset="0.617" stop-color="#83ff73"/><stop offset="0.74" stop-color="#baff3c"/><stop offset="0.77" stop-color="#aaff4d"/><stop offset="0.862" stop-color="#46ffb1"/><stop offset="0.929" stop-color="#26ffd1"/><stop offset="1" stop-color="#19ffde"/></linearGradient><linearGradient id="fa15"><stop offset="0" stop-color="#007cff"/><stop offset="0.153" stop-color="#007cff"/><stop offset="0.235" stop-color="#0090ff"/><stop offset="0.291" stop-color="#009cff"/><stop offset="0.372" stop-color="#00c4ff"/><stop offset="0.423" stop-color="#00e4f8"/><stop offset="0.464" stop-color="#19ffde"/><stop offset="0.597" stop-color="#66ff90"/><stop offset="0.755" stop-color="#adff49"/><stop offset="0.781" stop-color="#a4ff53"/><stop offset="0.867" stop-color="#43ffb4"/><stop offset="0.929" stop-color="#26ffd1"/><stop offset="1" stop-color="#19ffde"/></linearGradient><linearGradient id="fa16"><stop offset="0" stop-color="#0080ff"/><stop offset="0.184" stop-color="#0084ff"/><stop offset="0.286" stop-color="#0094ff"/><stop offset="0.362" stop-color="#00b4ff"/><stop offset="0.434" stop-color="#00e0fb"/><stop offset="0.485" stop-color="#19ffde"/><stop offset="0.765" stop-color="#a0ff56"/><stop offset="0.796" stop-color="#97ff60"/><stop offset="0.867" stop-color="#46ffb1"/><stop offset="0.923" stop-color="#26ffd1"/><stop offset="1" stop-color="#19ffde"/></linearGradient><linearGradient id="fa17"><stop offset="0" stop-color="#0080ff"/><stop offset="0.199" stop-color="#0084ff"/><stop offset="0.316" stop-color="#0098ff"/><stop offset="0.388" stop-color="#00bcff"/><stop offset="0.449" stop-color="#00e0fb"/><stop offset="0.505" stop-color="#16ffe1"/><stop offset="0.781" stop-color="#9aff5d"/><stop offset="0.811" stop-color="#8aff6d"/><stop offset="0.878" stop-color="#3cffba"/><stop offset="0.934" stop-color="#23ffd4"/><stop offset="1" stop-color="#19ffde"/></linearGradient><linearGradient id="fa18"><stop offset="0" stop-color="#0084ff"/><stop offset="0.245" stop-color="#0088ff"/><stop offset="0.337" stop-color="#009cff"/><stop offset="0.388" stop-color="#00b8ff"/><stop offset="0.459" stop-color="#00e0fb"/><stop offset="0.49" stop-color="#09f0ee"/><stop offset="0.526" stop-color="#19ffde"/><stop offset="0.786" stop-color="#94ff63"/><stop offset="0.811" stop-color="#87ff70"/><stop offset="0.872" stop-color="#40ffb7"/><stop offset="0.918" stop-color="#26ffd1"/><stop offset="1" stop-color="#19ffde"/></linearGradient><linearGradient id="fa19"><stop offset="0" stop-color="#0084ff"/><stop offset="0.25" stop-color="#0088ff"/><stop offset="0.337" stop-color="#0098ff"/><stop offset="0.403" stop-color="#00bcff"/><stop offset="0.444" stop-color="#00d4ff"/><stop offset="0.49" stop-color="#02e8f4"/><stop offset="0.536" stop-color="#19ffde"/><stop offset="0.791" stop-color="#8dff6a"/><stop offset="0.816" stop-color="#7dff7a"/><stop offset="0.872" stop-color="#3cffba"/><stop offset="0.923" stop-color="#23ffd4"/><stop offset="1" stop-color="#16ffe1"/></linearGradient><linearGradient id="fa20"><stop offset="0" stop-color="#0084ff"/><stop offset="0.255" stop-color="#0088ff"/><stop offset="0.347" stop-color="#0098ff"/><stop offset="0.413" stop-color="#00c0ff"/><stop offset="0.454" stop-color="#00d0ff"/><stop offset="0.495" stop-color="#00e4f8"/><stop offset="0.546" stop-color="#19ffde"/><stop offset="0.796" stop-color="#87ff70"/><stop offset="0.816" stop-color="#7aff7d"/><stop offset="0.878" stop-color="#36ffc1"/><stop offset="0.923" stop-color="#23ffd4"/><stop offset="1" stop-color="#13fce4"/></linearGradient><linearGradient id="fa21"><stop offset="0" stop-color="#0088ff"/><stop offset="0.311" stop-color="#008cff"/><stop offset="0.393" stop-color="#00acff"/><stop offset="0.434" stop-color="#00c8ff"/><stop offset="0.48" stop-color="#00d4ff"/><stop offset="0.52" stop-color="#06ecf1"/><stop offset="0.561" stop-color="#19ffde"/><stop offset="0.801" stop-color="#80ff77"/><stop offset="0.842" stop-color="#5aff9d"/><stop offset="0.883" stop-color="#33ffc4"/><stop offset="0.974" stop-color="#16ffe1"/><stop offset="1" stop-color="#13fce4"/></linearGradient><linearGradient id="fa22"><stop offset="0" stop-color="#0088ff"/><stop offset="0.321" stop-color="#008cff"/><stop offset="0.393" stop-color="#00a8ff"/><stop offset="0.439" stop-color="#00c4ff"/><stop offset="0.485" stop-color="#00d0ff"/><stop offset="0.526" stop-color="#02e8f4"/><stop offset="0.577" stop-color="#19ffde"/><stop offset="0.796" stop-color="#7dff7a"/><stop offset="0.816" stop-color="#77ff80"/><stop offset="0.883" stop-color="#33ffc4"/><stop offset="0.929" stop-color="#1fffd7"/><stop offset="1" stop-color="#0ff8e7"/></linearGradient><linearGradient id="fa23"><stop offset="0" stop-color="#0088ff"/><stop offset="0.301" stop-color="#0088ff"/><stop offset="0.372" stop-color="#0098ff"/><stop offset="0.434" stop-color="#00bcff"/><stop offset="0.48" stop-color="#00ccff"/><stop offset="0.526" stop-color="#02e8f4"/><stop offset="0.577" stop-color="#19ffde"/><stop offset="0.73" stop-color="#63ff94"/><stop offset="0.786" stop-color="#87ff70"/><stop offset="0.821" stop-color="#77ff80"/><stop offset="0.898" stop-color="#29ffce"/><stop offset="1" stop-color="#0ff8e7"/></linearGradient><linearGradient id="fa24"><stop offset="0" stop-color="#0084ff"/><stop offset="0.316" stop-color="#0088ff"/><stop offset="0.388" stop-color="#009cff"/><stop offset="0.444" stop-color="#00b8ff"/><stop offset="0.495" stop-color="#00d4ff"/><stop offset="0.541" stop-color="#09f0ee"/><stop offset="0.582" stop-color="#1cffdb"/><stop offset="0.679" stop-color="#4dffaa"/><stop offset="0.75" stop-color="#8dff6a"/><stop offset="0.791" stop-color="#8aff6d"/><stop offset="0.837" stop-color="#6dff8a"/><stop offset="0.903" stop-color="#29ffce"/><stop offset="0.99" stop-color="#0ff8e7"/><stop offset="1" stop-color="#0cf4eb"/></linearGradient><linearGradient id="fa25"><stop offset="0" stop-color="#0084ff"/><stop offset="0.332" stop-color="#0088ff"/><stop offset="0.388" stop-color="#0098ff"/><stop offset="0.49" stop-color="#00ccff"/><stop offset="0.52" stop-color="#00e4f8"/><stop offset="0.577" stop-color="#19ffde"/><stop offset="0.643" stop-color="#43ffb4"/><stop offset="0.719" stop-color="#90ff66"/><stop offset="0.75" stop-color="#9aff5d"/><stop offset="0.842" stop-color="#6dff8a"/><stop offset="0.908" stop-color="#26ffd1"/><stop offset="0.974" stop-color="#13fce4"/><stop offset="1" stop-color="#0cf4eb"/></linearGradient><linearGradient id="fa26"><stop offset="0" stop-color="#0080ff"/><stop offset="0.342" stop-color="#0088ff"/><stop offset="0.398" stop-color="#0098ff"/><stop offset="0.485" stop-color="#00c4ff"/><stop offset="0.526" stop-color="#00e4f8"/><stop offset="0.566" stop-color="#19ffde"/><stop offset="0.643" stop-color="#63ff94"/><stop offset="0.699" stop-color="#9dff5a"/><stop offset="0.724" stop-color="#a7ff50"/><stop offset="0.842" stop-color="#70ff87"/><stop offset="0.913" stop-color="#26ffd1"/><stop offset="0.98" stop-color="#0ff8e7"/><stop offset="1" stop-color="#09f0ee"/></linearGradient><linearGradient id="fa27"><stop offset="0" stop-color="#0080ff"/><stop offset="0.316" stop-color="#0084ff"/><stop offset="0.413" stop-color="#0098ff"/><stop offset="0.495" stop-color="#00c8ff"/><stop offset="0.526" stop-color="#00e0fb"/><stop offset="0.546" stop-color="#16ffe1"/><stop offset="0.668" stop-color="#a4ff53"/><stop offset="0.699" stop-color="#b1ff46"/><stop offset="0.837" stop-color="#7dff7a"/><stop offset="0.908" stop-color="#2cffca"/><stop offset="0.949" stop-color="#16ffe1"/><stop offset="1" stop-color="#09f0ee"/></linearGradient><linearGradient id="fa28"><stop offset="0" stop-color="#0080ff"/><stop offset="0.321" stop-color="#0084ff"/><stop offset="0.423" stop-color="#0098ff"/><stop offset="0.485" stop-color="#00bcff"/><stop offset="0.526" stop-color="#00e0fb"/><stop offset="0.541" stop-color="#13fce4"/><stop offset="0.577" stop-color="#5dff9a"/><stop offset="0.643" stop-color="#adff49"/><stop offset="0.673" stop-color="#baff3c"/><stop offset="0.755" stop-color="#aaff4d"/><stop offset="0.806" stop-color="#a7ff50"/><stop offset="0.837" stop-color="#8dff6a"/><stop offset="0.898" stop-color="#36ffc1"/><stop offset="0.944" stop-color="#16ffe1"/><stop offset="1" stop-color="#09f0ee"/></linearGradient><linearGradient id="fa29"><stop offset="0" stop-color="#0080ff"/><stop offset="0.352" stop-color="#0088ff"/><stop offset="0.454" stop-color="#00a0ff"/><stop offset="0.52" stop-color="#00d4ff"/><stop offset="0.536" stop-color="#06ecf1"/><stop offset="0.546" stop-color="#1cffdb"/><stop offset="0.582" stop-color="#83ff73"/><stop offset="0.617" stop-color="#b4ff43"/><stop offset="0.653" stop-color="#caff2c"/><stop offset="0.709" stop-color="#caff2c"/><stop offset="0.765" stop-color="#e1ff16"/><stop offset="0.796" stop-color="#ceff29"/><stop offset="0.852" stop-color="#7dff7a"/><stop offset="0.903" stop-color="#33ffc4"/><stop offset="0.944" stop-color="#16ffe1"/><stop offset="1" stop-color="#06ecf1"/></linearGradient><linearGradient id="fa30"><stop offset="0" stop-color="#0080ff"/><stop offset="0.352" stop-color="#0088ff"/><stop offset="0.459" stop-color="#00a0ff"/><stop offset="0.515" stop-color="#00ccff"/><stop offset="0.531" stop-color="#00e4f8"/><stop offset="0.546" stop-color="#19ffde"/><stop offset="0.566" stop-color="#5aff9d"/><stop offset="0.592" stop-color="#adff49"/><stop offset="0.612" stop-color="#d1ff26"/><stop offset="0.663" stop-color="#f1fc06"/><stop offset="0.694" stop-color="#ffe200"/><stop offset="0.73" stop-color="#ffc800"/><stop offset="0.765" stop-color="#ffe200"/><stop offset="0.781" stop-color="#f1fc06"/><stop offset="0.898" stop-color="#39ffbe"/><stop offset="0.934" stop-color="#19ffde"/><stop offset="1" stop-color="#06ecf1"/></linearGradient><linearGradient id="fa31"><stop offset="0" stop-color="#0080ff"/><stop offset="0.378" stop-color="#008cff"/><stop offset="0.464" stop-color="#00a0ff"/><stop offset="0.515" stop-color="#00c8ff"/><stop offset="0.531" stop-color="#00e0fb"/><stop offset="0.546" stop-color="#16ffe1"/><stop offset="0.566" stop-color="#4dffaa"/><stop offset="0.607" stop-color="#e4ff13"/><stop offset="0.612" stop-color="#f4f802"/><stop offset="0.617" stop-color="#ffea00"/><stop offset="0.643" stop-color="#ffb200"/><stop offset="0.679" stop-color="#ff8900"/><stop offset="0.704" stop-color="#ff8200"/><stop offset="0.735" stop-color="#ff9f00"/><stop offset="0.781" stop-color="#feed00"/><stop offset="0.791" stop-color="#eeff09"/><stop offset="0.852" stop-color="#8aff6d"/><stop offset="0.898" stop-color="#39ffbe"/><stop offset="0.939" stop-color="#16ffe1"/><stop offset="1" stop-color="#06ecf1"/></linearGradient><linearGradient id="fa32"><stop offset="0" stop-color="#0084ff"/><stop offset="0.413" stop-color="#0090ff"/><stop offset="0.48" stop-color="#00a8ff"/><stop offset="0.52" stop-color="#00ccff"/><stop offset="0.536" stop-color="#00e4f8"/><stop offset="0.551" stop-color="#19ffde"/><stop offset="0.571" stop-color="#49ffad"/><stop offset="0.592" stop-color="#97ff60"/><stop offset="0.607" stop-color="#e1ff16"/><stop offset="0.612" stop-color="#fbf100"/><stop offset="0.628" stop-color="#ffa300"/><stop offset="0.648" stop-color="#ff5d00"/><stop offset="0.663" stop-color="#ff3f00"/><stop offset="0.689" stop-color="#ff3f00"/><stop offset="0.745" stop-color="#ff9100"/><stop offset="0.796" stop-color="#feed00"/><stop offset="0.806" stop-color="#ebff0c"/><stop offset="0.857" stop-color="#80ff77"/><stop offset="0.893" stop-color="#39ffbe"/><stop offset="0.923" stop-color="#1cffdb"/><stop offset="1" stop-color="#02e8f4"/></linearGradient><linearGradient id="fa33"><stop offset="0" stop-color="#0088ff"/><stop offset="0.413" stop-color="#0090ff"/><stop offset="0.485" stop-color="#00acff"/><stop offset="0.531" stop-color="#00d8ff"/><stop offset="0.541" stop-color="#02e8f4"/><stop offset="0.551" stop-color="#16ffe1"/><stop offset="0.571" stop-color="#40ffb7"/><stop offset="0.597" stop-color="#9aff5d"/><stop offset="0.612" stop-color="#e1ff16"/><stop offset="0.617" stop-color="#f8f500"/><stop offset="0.633" stop-color="#ffa300"/><stop offset="0.653" stop-color="#ff4a00"/><stop offset="0.673" stop-color="#ff1600"/><stop offset="0.694" stop-color="#ff1600"/><stop offset="0.73" stop-color="#ff5200"/><stop offset="0.786" stop-color="#ffcc00"/><stop offset="0.801" stop-color="#fbf100"/><stop offset="0.806" stop-color="#eeff09"/><stop offset="0.852" stop-color="#87ff70"/><stop offset="0.883" stop-color="#43ffb4"/><stop offset="0.908" stop-color="#23ffd4"/><stop offset="0.959" stop-color="#0ff8e7"/><stop offset="1" stop-color="#02e8f4"/></linearGradient><linearGradient id="fa34"><stop offset="0" stop-color="#0088ff"/><stop offset="0.434" stop-color="#0098ff"/><stop offset="0.495" stop-color="#00b4ff"/><stop offset="0.536" stop-color="#00e0fb"/><stop offset="0.551" stop-color="#13fce4"/><stop offset="0.577" stop-color="#46ffb1"/><stop offset="0.597" stop-color="#80ff77"/><stop offset="0.622" stop-color="#e4ff13"/><stop offset="0.628" stop-color="#fbf100"/><stop offset="0.668" stop-color="#ff3f00"/><stop offset="0.684" stop-color="#ff1300"/><stop offset="0.694" stop-color="#f60b00"/><stop offset="0.709" stop-color="#ff1e00"/><stop offset="0.796" stop-color="#fbf100"/><stop offset="0.806" stop-color="#e4ff13"/><stop offset="0.847" stop-color="#8dff6a"/><stop offset="0.878" stop-color="#46ffb1"/><stop offset="0.908" stop-color="#1fffd7"/><stop offset="0.959" stop-color="#0ff8e7"/><stop offset="1" stop-color="#02e8f4"/></linearGradient><linearGradient id="fa35"><stop offset="0" stop-color="#008cff"/><stop offset="0.434" stop-color="#009cff"/><stop offset="0.505" stop-color="#00bcff"/><stop offset="0.536" stop-color="#00e0fb"/><stop offset="0.556" stop-color="#16ffe1"/><stop offset="0.592" stop-color="#56ffa0"/><stop offset="0.638" stop-color="#e1ff16"/><stop offset="0.643" stop-color="#f4f802"/><stop offset="0.648" stop-color="#ffe200"/><stop offset="0.684" stop-color="#ff4e00"/><stop offset="0.694" stop-color="#ff3400"/><stop offset="0.704" stop-color="#ff3000"/><stop offset="0.719" stop-color="#ff4e00"/><stop offset="0.786" stop-color="#fbf100"/><stop offset="0.796" stop-color="#ebff0c"/><stop offset="0.837" stop-color="#a0ff56"/><stop offset="0.867" stop-color="#53ffa4"/><stop offset="0.898" stop-color="#26ffd1"/><stop offset="0.954" stop-color="#0ff8e7"/><stop offset="1" stop-color="#02e8f4"/></linearGradient><linearGradient id="fa36"><stop offset="0" stop-color="#0090ff"/><stop offset="0.413" stop-color="#009cff"/><stop offset="0.51" stop-color="#00c4ff"/><stop offset="0.536" stop-color="#00e0fb"/><stop offset="0.556" stop-color="#13fce4"/><stop offset="0.607" stop-color="#5dff9a"/><stop offset="0.648" stop-color="#beff39"/><stop offset="0.663" stop-color="#eeff09"/><stop offset="0.668" stop-color="#feed00"/><stop offset="0.689" stop-color="#ff9400"/><stop offset="0.704" stop-color="#ff7300"/><stop offset="0.719" stop-color="#ff8600"/><stop offset="0.75" stop-color="#ffc800"/><stop offset="0.776" stop-color="#f8f500"/><stop offset="0.791" stop-color="#e4ff13"/><stop offset="0.821" stop-color="#beff39"/><stop offset="0.842" stop-color="#8aff6d"/><stop offset="0.867" stop-color="#49ffad"/><stop offset="0.903" stop-color="#1fffd7"/><stop offset="0.949" stop-color="#0ff8e7"/><stop offset="1" stop-color="#02e8f4"/></linearGradient><linearGradient id="fa37"><stop offset="0" stop-color="#0090ff"/><stop offset="0.418" stop-color="#00a0ff"/><stop offset="0.505" stop-color="#00c8ff"/><stop offset="0.531" stop-color="#00e0fb"/><stop offset="0.561" stop-color="#19ffde"/><stop offset="0.622" stop-color="#60ff97"/><stop offset="0.663" stop-color="#b4ff43"/><stop offset="0.679" stop-color="#e4ff13"/><stop offset="0.684" stop-color="#f8f500"/><stop offset="0.699" stop-color="#ffc100"/><stop offset="0.709" stop-color="#ffb600"/><stop offset="0.724" stop-color="#ffcc00"/><stop offset="0.745" stop-color="#fbf100"/><stop offset="0.765" stop-color="#e4ff13"/><stop offset="0.821" stop-color="#a4ff53"/><stop offset="0.842" stop-color="#77ff80"/><stop offset="0.862" stop-color="#43ffb4"/><stop offset="0.888" stop-color="#26ffd1"/><stop offset="0.949" stop-color="#0ff8e7"/><stop offset="1" stop-color="#00e4f8"/></linearGradient><linearGradient id="fa38"><stop offset="0" stop-color="#0090ff"/><stop offset="0.413" stop-color="#00a0ff"/><stop offset="0.485" stop-color="#00c4ff"/><stop offset="0.531" stop-color="#00e4f8"/><stop offset="0.556" stop-color="#16ffe1"/><stop offset="0.628" stop-color="#5aff9d"/><stop offset="0.668" stop-color="#9aff5d"/><stop offset="0.699" stop-color="#e7ff0f"/><stop offset="0.709" stop-color="#f8f500"/><stop offset="0.73" stop-color="#f1fc06"/><stop offset="0.77" stop-color="#beff39"/><stop offset="0.801" stop-color="#8dff6a"/><stop offset="0.832" stop-color="#6dff8a"/><stop offset="0.867" stop-color="#2cffca"/><stop offset="0.934" stop-color="#13fce4"/><stop offset="1" stop-color="#00e4f8"/></linearGradient><linearGradient id="fa39"><stop offset="0" stop-color="#0090ff"/><stop offset="0.219" stop-color="#0098ff"/><stop offset="0.423" stop-color="#00a4ff"/><stop offset="0.474" stop-color="#00c4ff"/><stop offset="0.505" stop-color="#00dcfe"/><stop offset="0.536" stop-color="#09f0ee"/><stop offset="0.566" stop-color="#1fffd7"/><stop offset="0.653" stop-color="#66ff90"/><stop offset="0.694" stop-color="#a4ff53"/><stop offset="0.719" stop-color="#caff2c"/><stop offset="0.74" stop-color="#caff2c"/><stop offset="0.76" stop-color="#b7ff40"/><stop offset="0.791" stop-color="#70ff87"/><stop offset="0.862" stop-color="#29ffce"/><stop offset="0.923" stop-color="#13fce4"/><stop offset="1" stop-color="#00e4f8"/></linearGradient><linearGradient id="fa40"><stop offset="0" stop-color="#0090ff"/><stop offset="0.204" stop-color="#0094ff"/><stop offset="0.245" stop-color="#00a0ff"/><stop offset="0.429" stop-color="#00a4ff"/><stop offset="0.454" stop-color="#00acff"/><stop offset="0.495" stop-color="#00e0fb"/><stop offset="0.541" stop-color="#09f0ee"/><stop offset="0.561" stop-color="#1cffdb"/><stop offset="0.648" stop-color="#5aff9d"/><stop offset="0.694" stop-color="#8aff6d"/><stop offset="0.719" stop-color="#baff3c"/><stop offset="0.74" stop-color="#c1ff36"/><stop offset="0.76" stop-color="#adff49"/><stop offset="0.791" stop-color="#60ff97"/><stop offset="0.842" stop-color="#30ffc7"/><stop offset="0.913" stop-color="#1cffdb"/><stop offset="0.944" stop-color="#06ecf1"/><stop offset="1" stop-color="#00e4f8"/></linearGradient></defs><g filter="url(#vb)"><rect x="-12" y="-12" width="392" height="10.5" fill="url(#fa1)"/><rect x="-12" y="-2" width="392" height="10.5" fill="url(#fa2)"/><rect x="-12" y="8" width="392" height="10.5" fill="url(#fa3)"/><rect x="-12" y="18" width="392" height="10.5" fill="url(#fa4)"/><rect x="-12" y="28" width="392" height="10.5" fill="url(#fa5)"/><rect x="-12" y="38" width="392" height="10.5" fill="url(#fa6)"/><rect x="-12" y="48" width="392" height="10.5" fill="url(#fa7)"/><rect x="-12" y="58" width="392" height="10.5" fill="url(#fa8)"/><rect x="-12" y="68" width="392" height="10.5" fill="url(#fa9)"/><rect x="-12" y="78" width="392" height="10.5" fill="url(#fa10)"/><rect x="-12" y="88" width="392" height="10.5" fill="url(#fa11)"/><rect x="-12" y="98" width="392" height="10.5" fill="url(#fa12)"/><rect x="-12" y="108" width="392" height="10.5" fill="url(#fa13)"/><rect x="-12" y="118" width="392" height="10.5" fill="url(#fa14)"/><rect x="-12" y="128" width="392" height="10.5" fill="url(#fa15)"/><rect x="-12" y="138" width="392" height="10.5" fill="url(#fa16)"/><rect x="-12" y="148" width="392" height="10.5" fill="url(#fa17)"/><rect x="-12" y="158" width="392" height="10.5" fill="url(#fa18)"/><rect x="-12" y="168" width="392" height="10.5" fill="url(#fa19)"/><rect x="-12" y="178" width="392" height="10.5" fill="url(#fa20)"/><rect x="-12" y="188" width="392" height="10.5" fill="url(#fa21)"/><rect x="-12" y="198" width="392" height="10.5" fill="url(#fa22)"/><rect x="-12" y="208" width="392" height="10.5" fill="url(#fa23)"/><rect x="-12" y="218" width="392" height="10.5" fill="url(#fa24)"/><rect x="-12" y="228" width="392" height="10.5" fill="url(#fa25)"/><rect x="-12" y="238" width="392" height="10.5" fill="url(#fa26)"/><rect x="-12" y="248" width="392" height="10.5" fill="url(#fa27)"/><rect x="-12" y="258" width="392" height="10.5" fill="url(#fa28)"/><rect x="-12" y="268" width="392" height="10.5" fill="url(#fa29)"/><rect x="-12" y="278" width="392" height="10.5" fill="url(#fa30)"/><rect x="-12" y="288" width="392" height="10.5" fill="url(#fa31)"/><rect x="-12" y="298" width="392" height="10.5" fill="url(#fa32)"/><rect x="-12" y="308" width="392" height="10.5" fill="url(#fa33)"/><rect x="-12" y="318" width="392" height="10.5" fill="url(#fa34)"/><rect x="-12" y="328" width="392" height="10.5" fill="url(#fa35)"/><rect x="-12" y="338" width="392" height="10.5" fill="url(#fa36)"/><rect x="-12" y="348" width="392" height="10.5" fill="url(#fa37)"/><rect x="-12" y="358" width="392" height="10.5" fill="url(#fa38)"/><rect x="-12" y="368" width="392" height="10.5" fill="url(#fa39)"/><rect x="-12" y="378" width="392" height="2.5" fill="url(#fa40)"/></g><use href="#fl_land"/><path d="M235.7 -0.4h14l-7 14z" fill="#ff8d00" stroke="#000" stroke-width="1.4" stroke-linejoin="miter"/><path d="M135.5 99.2h14l-7 14z" fill="#56ffa0" stroke="#000" stroke-width="1.4" stroke-linejoin="miter"/><path d="M287.4 137.5h14l-7 14z" fill="#eeff09" stroke="#000" stroke-width="1.4" stroke-linejoin="miter"/><path d="M149.5 164.6h14l-7 14z" fill="#09f0ee" stroke="#000" stroke-width="1.4" stroke-linejoin="miter"/><path d="M164.0 177.7h14l-7 14z" fill="#00d8ff" stroke="#000" stroke-width="1.4" stroke-linejoin="miter"/><path d="M196.8 237.3h14l-7 14z" fill="#60ff97" stroke="#000" stroke-width="1.4" stroke-linejoin="miter"/><path d="M211.9 276.0h14l-7 14z" fill="#c4ff33" stroke="#000" stroke-width="1.4" stroke-linejoin="miter"/><path d="M314.2 300.7h14l-7 14z" fill="#b7ff40" stroke="#000" stroke-width="1.4" stroke-linejoin="miter"/><use href="#fl_over"/><text x="224.6" y="33.4" font-size="20.4" text-anchor="end">Jacksonville</text>
</g>
<rect x="0" y="0" width="36.8" height="37.2" fill="#fff" stroke="#000" stroke-width="1.1"/>
<text x="4.0" y="25.8" font-size="20" font-weight="bold">(a)</text>
<rect x="0" y="0" width="366.1" height="366.1" fill="none" stroke="#000" stroke-width="1.1"/>
</g>
<g transform="translate(606.6,42.5)"><g clip-path="url(#pc)">
<defs><linearGradient id="fb41"><stop offset="0" stop-color="#fffdfd"/><stop offset="0.622" stop-color="#fff9f9"/><stop offset="0.704" stop-color="#ffe5e5"/><stop offset="0.898" stop-color="#ffeded"/><stop offset="1" stop-color="#fff1f1"/></linearGradient><linearGradient id="fb42"><stop offset="0" stop-color="#fffdfd"/><stop offset="0.622" stop-color="#fff9f9"/><stop offset="0.704" stop-color="#ffe5e5"/><stop offset="0.898" stop-color="#ffeded"/><stop offset="1" stop-color="#fff1f1"/></linearGradient><linearGradient id="fb43"><stop offset="0" stop-color="#fffdfd"/><stop offset="0.622" stop-color="#fff9f9"/><stop offset="0.694" stop-color="#ffe5e5"/><stop offset="0.918" stop-color="#ffeded"/><stop offset="1" stop-color="#fff1f1"/></linearGradient><linearGradient id="fb44"><stop offset="0" stop-color="#fffdfd"/><stop offset="0.622" stop-color="#fff9f9"/><stop offset="0.709" stop-color="#ffe1e1"/><stop offset="0.821" stop-color="#ffeded"/><stop offset="1" stop-color="#fff1f1"/></linearGradient><linearGradient id="fb45"><stop offset="0" stop-color="#fffdfd"/><stop offset="0.622" stop-color="#fff9f9"/><stop offset="0.709" stop-color="#ffe1e1"/><stop offset="0.821" stop-color="#ffeded"/><stop offset="1" stop-color="#fff1f1"/></linearGradient><linearGradient id="fb46"><stop offset="0" stop-color="#fffdfd"/><stop offset="0.617" stop-color="#fff9f9"/><stop offset="0.704" stop-color="#ffe1e1"/><stop offset="0.75" stop-color="#ffe5e5"/><stop offset="0.806" stop-color="#ffeded"/><stop offset="1" stop-color="#fff1f1"/></linearGradient><linearGradient id="fb47"><stop offset="0" stop-color="#fffdfd"/><stop offset="0.612" stop-color="#fff9f9"/><stop offset="0.673" stop-color="#ffe1e1"/><stop offset="0.74" stop-color="#ffe1e1"/><stop offset="0.791" stop-color="#ffeded"/><stop offset="1" stop-color="#fff1f1"/></linearGradient><linearGradient id="fb48"><stop offset="0" stop-color="#fffdfd"/><stop offset="0.612" stop-color="#fff9f9"/><stop offset="0.679" stop-color="#ffdddd"/><stop offset="0.735" stop-color="#ffe1e1"/><stop offset="0.786" stop-color="#ffeded"/><stop offset="1" stop-color="#fff1f1"/></linearGradient><linearGradient id="fb49"><stop offset="0" stop-color="#fffdfd"/><stop offset="0.617" stop-color="#fff9f9"/><stop offset="0.689" stop-color="#ffdddd"/><stop offset="0.791" stop-color="#fff1f1"/><stop offset="1" stop-color="#fff1f1"/></linearGradient><linearGradient id="fb50"><stop offset="0" stop-color="#fffdfd"/><stop offset="0.52" stop-color="#fff9f9"/><stop offset="0.638" stop-color="#fff5f5"/><stop offset="0.689" stop-color="#ffe5e5"/><stop offset="0.74" stop-color="#ffeded"/><stop offset="0.781" stop-color="#fff5f5"/><stop offset="1" stop-color="#fff1f1"/></linearGradient><linearGradient id="fb51"><stop offset="0" stop-color="#fffdfd"/><stop offset="0.352" stop-color="#fff9f9"/><stop offset="0.566" stop-color="#fff5f5"/><stop offset="0.643" stop-color="#fff5f5"/><stop offset="0.694" stop-color="#ffe9e9"/><stop offset="0.791" stop-color="#fff9f9"/><stop offset="0.872" stop-color="#fff1f1"/><stop offset="1" stop-color="#fff1f1"/></linearGradient><linearGradient id="fb52"><stop offset="0" stop-color="#fffdfd"/><stop offset="0.347" stop-color="#fff9f9"/><stop offset="0.413" stop-color="#fff1f1"/><stop offset="0.561" stop-color="#fff1f1"/><stop offset="0.628" stop-color="#fff9f9"/><stop offset="0.709" stop-color="#ffe9e9"/><stop offset="0.791" stop-color="#fff9f9"/><stop offset="0.872" stop-color="#fff1f1"/><stop offset="1" stop-color="#fff1f1"/></linearGradient><linearGradient id="fb53"><stop offset="0" stop-color="#fffdfd"/><stop offset="0.347" stop-color="#fff9f9"/><stop offset="0.413" stop-color="#ffeded"/><stop offset="0.561" stop-color="#fff1f1"/><stop offset="0.633" stop-color="#fff9f9"/><stop offset="0.719" stop-color="#ffeded"/><stop offset="0.811" stop-color="#fff5f5"/><stop offset="0.867" stop-color="#ffeded"/><stop offset="1" stop-color="#fff1f1"/></linearGradient><linearGradient id="fb54"><stop offset="0" stop-color="#fffdfd"/><stop offset="0.347" stop-color="#fff9f9"/><stop offset="0.429" stop-color="#ffe9e9"/><stop offset="0.536" stop-color="#ffeded"/><stop offset="0.638" stop-color="#fff9f9"/><stop offset="0.74" stop-color="#ffeded"/><stop offset="0.796" stop-color="#fff5f5"/><stop offset="0.878" stop-color="#ffeded"/><stop offset="1" stop-color="#fff1f1"/></linearGradient><linearGradient id="fb55"><stop offset="0" stop-color="#fffdfd"/><stop offset="0.352" stop-color="#fff9f9"/><stop offset="0.439" stop-color="#ffe5e5"/><stop offset="0.536" stop-color="#ffeded"/><stop offset="0.638" stop-color="#fff9f9"/><stop offset="0.76" stop-color="#ffeded"/><stop offset="1" stop-color="#fff1f1"/></linearGradient><linearGradient id="fb56"><stop offset="0" stop-color="#fffdfd"/><stop offset="0.357" stop-color="#fff9f9"/><stop offset="0.444" stop-color="#ffe1e1"/><stop offset="0.638" stop-color="#fff9f9"/><stop offset="0.781" stop-color="#ffeded"/><stop offset="1" stop-color="#fff5f5"/></linearGradient><linearGradient id="fb57"><stop offset="0" stop-color="#fffdfd"/><stop offset="0.357" stop-color="#fff9f9"/><stop offset="0.439" stop-color="#ffe1e1"/><stop offset="0.638" stop-color="#fff9f9"/><stop offset="0.867" stop-color="#ffe9e9"/><stop offset="1" stop-color="#fff5f5"/></linearGradient><linearGradient id="fb58"><stop offset="0" stop-color="#fffdfd"/><stop offset="0.352" stop-color="#fff9f9"/><stop offset="0.418" stop-color="#ffe5e5"/><stop offset="0.592" stop-color="#fff5f5"/><stop offset="0.714" stop-color="#fff5f5"/><stop offset="0.878" stop-color="#ffe9e9"/><stop offset="1" stop-color="#fff5f5"/></linearGradient><linearGradient id="fb59"><stop offset="0" stop-color="#fffdfd"/><stop offset="0.347" stop-color="#fff9f9"/><stop offset="0.418" stop-color="#ffe5e5"/><stop offset="0.5" stop-color="#ffeded"/><stop offset="0.663" stop-color="#fff9f9"/><stop offset="0.878" stop-color="#ffe9e9"/><stop offset="1" stop-color="#fff5f5"/></linearGradient><linearGradient id="fb60"><stop offset="0" stop-color="#fffdfd"/><stop offset="0.342" stop-color="#fff9f9"/><stop offset="0.408" stop-color="#ffe9e9"/><stop offset="0.52" stop-color="#fff1f1"/><stop offset="0.663" stop-color="#fff9f9"/><stop offset="0.878" stop-color="#ffe9e9"/><stop offset="1" stop-color="#fff5f5"/></linearGradient><linearGradient id="fb61"><stop offset="0" stop-color="#fffdfd"/><stop offset="0.342" stop-color="#fff9f9"/><stop offset="0.393" stop-color="#ffeded"/><stop offset="0.668" stop-color="#fff9f9"/><stop offset="0.867" stop-color="#ffe9e9"/><stop offset="1" stop-color="#fff5f5"/></linearGradient><linearGradient id="fb62"><stop offset="0" stop-color="#fffdfd"/><stop offset="0.347" stop-color="#fff9f9"/><stop offset="0.413" stop-color="#ffeded"/><stop offset="0.679" stop-color="#fff9f9"/><stop offset="0.867" stop-color="#ffeded"/><stop offset="1" stop-color="#fff5f5"/></linearGradient><linearGradient id="fb63"><stop offset="0" stop-color="#fffdfd"/><stop offset="0.362" stop-color="#fff9f9"/><stop offset="0.449" stop-color="#ffeded"/><stop offset="0.689" stop-color="#fff9f9"/><stop offset="0.898" stop-color="#ffeded"/><stop offset="1" stop-color="#fff5f5"/></linearGradient><linearGradient id="fb64"><stop offset="0" stop-color="#fffdfd"/><stop offset="0.378" stop-color="#fff9f9"/><stop offset="0.48" stop-color="#ffeded"/><stop offset="0.689" stop-color="#fff9f9"/><stop offset="0.918" stop-color="#ffeded"/><stop offset="1" stop-color="#fff5f5"/></linearGradient><linearGradient id="fb65"><stop offset="0" stop-color="#fffdfd"/><stop offset="0.388" stop-color="#fff9f9"/><stop offset="0.51" stop-color="#ffe9e9"/><stop offset="0.643" stop-color="#fff9f9"/><stop offset="0.939" stop-color="#ffeded"/><stop offset="1" stop-color="#fff5f5"/></linearGradient><linearGradient id="fb66"><stop offset="0" stop-color="#fffdfd"/><stop offset="0.393" stop-color="#fff9f9"/><stop offset="0.531" stop-color="#ffe9e9"/><stop offset="0.633" stop-color="#fff9f9"/><stop offset="0.944" stop-color="#ffeded"/><stop offset="1" stop-color="#fff5f5"/></linearGradient><linearGradient id="fb67"><stop offset="0" stop-color="#fffdfd"/><stop offset="0.393" stop-color="#fff9f9"/><stop offset="0.526" stop-color="#ffe9e9"/><stop offset="0.638" stop-color="#fff9f9"/><stop offset="0.944" stop-color="#ffeded"/><stop offset="1" stop-color="#fff5f5"/></linearGradient><linearGradient id="fb68"><stop offset="0" stop-color="#fffdfd"/><stop offset="0.388" stop-color="#fff9f9"/><stop offset="0.531" stop-color="#ffe5e5"/><stop offset="0.622" stop-color="#fff9f9"/><stop offset="0.944" stop-color="#ffeded"/><stop offset="1" stop-color="#fff5f5"/></linearGradient><linearGradient id="fb69"><stop offset="0" stop-color="#fffdfd"/><stop offset="0.383" stop-color="#fff9f9"/><stop offset="0.526" stop-color="#ffe1e1"/><stop offset="0.622" stop-color="#fff9f9"/><stop offset="0.837" stop-color="#ffeded"/><stop offset="0.98" stop-color="#fff1f1"/><stop offset="1" stop-color="#fff5f5"/></linearGradient><linearGradient id="fb70"><stop offset="0" stop-color="#fffdfd"/><stop offset="0.372" stop-color="#fff9f9"/><stop offset="0.526" stop-color="#ffe1e1"/><stop offset="0.571" stop-color="#ffe9e9"/><stop offset="0.628" stop-color="#fff9f9"/><stop offset="0.791" stop-color="#ffe9e9"/><stop offset="0.913" stop-color="#fff1f1"/><stop offset="1" stop-color="#fff5f5"/></linearGradient><linearGradient id="fb71"><stop offset="0" stop-color="#fffdfd"/><stop offset="0.367" stop-color="#fff9f9"/><stop offset="0.546" stop-color="#ffdddd"/><stop offset="0.617" stop-color="#fff1f1"/><stop offset="0.699" stop-color="#ffeded"/><stop offset="0.821" stop-color="#ffeded"/><stop offset="0.878" stop-color="#fff1f1"/><stop offset="1" stop-color="#fff5f5"/></linearGradient><linearGradient id="fb72"><stop offset="0" stop-color="#fffdfd"/><stop offset="0.372" stop-color="#fff9f9"/><stop offset="0.541" stop-color="#ffdddd"/><stop offset="0.628" stop-color="#ffe9e9"/><stop offset="0.786" stop-color="#ffe9e9"/><stop offset="0.883" stop-color="#fff5f5"/><stop offset="1" stop-color="#fff5f5"/></linearGradient><linearGradient id="fb73"><stop offset="0" stop-color="#fffdfd"/><stop offset="0.383" stop-color="#fff9f9"/><stop offset="0.546" stop-color="#ffe1e1"/><stop offset="0.612" stop-color="#ffe1e1"/><stop offset="0.643" stop-color="#ffd9d9"/><stop offset="0.872" stop-color="#fff5f5"/><stop offset="1" stop-color="#fff5f5"/></linearGradient><linearGradient id="fb74"><stop offset="0" stop-color="#fffdfd"/><stop offset="0.388" stop-color="#fff9f9"/><stop offset="0.536" stop-color="#ffe5e5"/><stop offset="0.607" stop-color="#ffe1e1"/><stop offset="0.648" stop-color="#ffd5d5"/><stop offset="0.714" stop-color="#ffe1e1"/><stop offset="0.883" stop-color="#fff9f9"/><stop offset="1" stop-color="#fff9f9"/></linearGradient><linearGradient id="fb75"><stop offset="0" stop-color="#fffdfd"/><stop offset="0.393" stop-color="#fff9f9"/><stop offset="0.531" stop-color="#ffe9e9"/><stop offset="0.607" stop-color="#ffe5e5"/><stop offset="0.648" stop-color="#ffdddd"/><stop offset="0.878" stop-color="#fff9f9"/><stop offset="1" stop-color="#fff9f9"/></linearGradient><linearGradient id="fb76"><stop offset="0" stop-color="#fffdfd"/><stop offset="0.393" stop-color="#fff9f9"/><stop offset="0.531" stop-color="#ffeded"/><stop offset="0.663" stop-color="#ffe9e9"/><stop offset="0.816" stop-color="#fff5f5"/><stop offset="1" stop-color="#fff9f9"/></linearGradient><linearGradient id="fb77"><stop offset="0" stop-color="#fffdfd"/><stop offset="0.393" stop-color="#fff9f9"/><stop offset="0.561" stop-color="#fff1f1"/><stop offset="0.74" stop-color="#fff1f1"/><stop offset="0.898" stop-color="#fffdfd"/><stop offset="1" stop-color="#fff9f9"/></linearGradient><linearGradient id="fb78"><stop offset="0" stop-color="#fffdfd"/><stop offset="0.418" stop-color="#fff9f9"/><stop offset="0.796" stop-color="#fff9f9"/><stop offset="1" stop-color="#fff9f9"/></linearGradient><linearGradient id="fb79"><stop offset="0" stop-color="#fffdfd"/><stop offset="0.464" stop-color="#fff9f9"/><stop offset="1" stop-color="#fff9f9"/></linearGradient><linearGradient id="fb80"><stop offset="0" stop-color="#fffdfd"/><stop offset="0.423" stop-color="#fff9f9"/><stop offset="0.694" stop-color="#fff9f9"/><stop offset="1" stop-color="#fff9f9"/></linearGradient></defs><g filter="url(#vb)"><rect x="-12" y="-12" width="392" height="10.5" fill="url(#fb41)"/><rect x="-12" y="-2" width="392" height="10.5" fill="url(#fb42)"/><rect x="-12" y="8" width="392" height="10.5" fill="url(#fb43)"/><rect x="-12" y="18" width="392" height="10.5" fill="url(#fb44)"/><rect x="-12" y="28" width="392" height="10.5" fill="url(#fb45)"/><rect x="-12" y="38" width="392" height="10.5" fill="url(#fb46)"/><rect x="-12" y="48" width="392" height="10.5" fill="url(#fb47)"/><rect x="-12" y="58" width="392" height="10.5" fill="url(#fb48)"/><rect x="-12" y="68" width="392" height="10.5" fill="url(#fb49)"/><rect x="-12" y="78" width="392" height="10.5" fill="url(#fb50)"/><rect x="-12" y="88" width="392" height="10.5" fill="url(#fb51)"/><rect x="-12" y="98" width="392" height="10.5" fill="url(#fb52)"/><rect x="-12" y="108" width="392" height="10.5" fill="url(#fb53)"/><rect x="-12" y="118" width="392" height="10.5" fill="url(#fb54)"/><rect x="-12" y="128" width="392" height="10.5" fill="url(#fb55)"/><rect x="-12" y="138" width="392" height="10.5" fill="url(#fb56)"/><rect x="-12" y="148" width="392" height="10.5" fill="url(#fb57)"/><rect x="-12" y="158" width="392" height="10.5" fill="url(#fb58)"/><rect x="-12" y="168" width="392" height="10.5" fill="url(#fb59)"/><rect x="-12" y="178" width="392" height="10.5" fill="url(#fb60)"/><rect x="-12" y="188" width="392" height="10.5" fill="url(#fb61)"/><rect x="-12" y="198" width="392" height="10.5" fill="url(#fb62)"/><rect x="-12" y="208" width="392" height="10.5" fill="url(#fb63)"/><rect x="-12" y="218" width="392" height="10.5" fill="url(#fb64)"/><rect x="-12" y="228" width="392" height="10.5" fill="url(#fb65)"/><rect x="-12" y="238" width="392" height="10.5" fill="url(#fb66)"/><rect x="-12" y="248" width="392" height="10.5" fill="url(#fb67)"/><rect x="-12" y="258" width="392" height="10.5" fill="url(#fb68)"/><rect x="-12" y="268" width="392" height="10.5" fill="url(#fb69)"/><rect x="-12" y="278" width="392" height="10.5" fill="url(#fb70)"/><rect x="-12" y="288" width="392" height="10.5" fill="url(#fb71)"/><rect x="-12" y="298" width="392" height="10.5" fill="url(#fb72)"/><rect x="-12" y="308" width="392" height="10.5" fill="url(#fb73)"/><rect x="-12" y="318" width="392" height="10.5" fill="url(#fb74)"/><rect x="-12" y="328" width="392" height="10.5" fill="url(#fb75)"/><rect x="-12" y="338" width="392" height="10.5" fill="url(#fb76)"/><rect x="-12" y="348" width="392" height="10.5" fill="url(#fb77)"/><rect x="-12" y="358" width="392" height="10.5" fill="url(#fb78)"/><rect x="-12" y="368" width="392" height="10.5" fill="url(#fb79)"/><rect x="-12" y="378" width="392" height="2.5" fill="url(#fb80)"/></g><use href="#fl_land"/><use href="#fl_over"/><text x="224.6" y="33.4" font-size="20.4" text-anchor="end">Jacksonville</text>
</g>
<rect x="0" y="0" width="36.8" height="37.2" fill="#fff" stroke="#000" stroke-width="1.1"/>
<text x="4.0" y="25.8" font-size="20" font-weight="bold">(b)</text>
<rect x="0" y="0" width="366.1" height="366.1" fill="none" stroke="#000" stroke-width="1.1"/>
</g>
<g transform="translate(995.7,42.5)"><g clip-path="url(#pc)">
<defs><linearGradient id="fc81"><stop offset="0" stop-color="#ff9999"/><stop offset="0.0561" stop-color="#ff9d9d"/><stop offset="0.0816" stop-color="#ffb1b1"/><stop offset="0.117" stop-color="#ffb9b9"/><stop offset="0.143" stop-color="#ffd9d9"/><stop offset="0.388" stop-color="#ffd9d9"/><stop offset="0.403" stop-color="#ffc5c5"/><stop offset="0.429" stop-color="#ff7575"/><stop offset="0.449" stop-color="#ff6565"/><stop offset="0.648" stop-color="#ff6d6d"/><stop offset="0.668" stop-color="#ff8d8d"/><stop offset="0.689" stop-color="#ffb9b9"/><stop offset="0.73" stop-color="#ffd5d5"/><stop offset="0.872" stop-color="#ffc1c1"/><stop offset="0.974" stop-color="#ff7171"/><stop offset="1" stop-color="#ff5d5d"/></linearGradient><linearGradient id="fc82"><stop offset="0" stop-color="#ff9999"/><stop offset="0.0561" stop-color="#ff9d9d"/><stop offset="0.0816" stop-color="#ffb1b1"/><stop offset="0.117" stop-color="#ffb9b9"/><stop offset="0.143" stop-color="#ffd9d9"/><stop offset="0.281" stop-color="#ffdddd"/><stop offset="0.311" stop-color="#ffdddd"/><stop offset="0.408" stop-color="#ffd5d5"/><stop offset="0.418" stop-color="#ffc5c5"/><stop offset="0.444" stop-color="#ff7575"/><stop offset="0.459" stop-color="#ff6969"/><stop offset="0.587" stop-color="#ff7575"/><stop offset="0.648" stop-color="#ff6d6d"/><stop offset="0.668" stop-color="#ff8d8d"/><stop offset="0.684" stop-color="#ffb1b1"/><stop offset="0.709" stop-color="#ffcdcd"/><stop offset="0.735" stop-color="#ffd9d9"/><stop offset="0.883" stop-color="#ffbdbd"/><stop offset="0.954" stop-color="#ff8585"/><stop offset="0.995" stop-color="#ff5d5d"/><stop offset="1" stop-color="#ff5d5d"/></linearGradient><linearGradient id="fc83"><stop offset="0" stop-color="#ff9999"/><stop offset="0.0561" stop-color="#ff9d9d"/><stop offset="0.0816" stop-color="#ffb1b1"/><stop offset="0.117" stop-color="#ffb9b9"/><stop offset="0.143" stop-color="#ffd9d9"/><stop offset="0.27" stop-color="#ffdddd"/><stop offset="0.291" stop-color="#ffe5e5"/><stop offset="0.332" stop-color="#ffd9d9"/><stop offset="0.398" stop-color="#ffcdcd"/><stop offset="0.423" stop-color="#ffb9b9"/><stop offset="0.454" stop-color="#ff7d7d"/><stop offset="0.48" stop-color="#ff7d7d"/><stop offset="0.546" stop-color="#ff8585"/><stop offset="0.648" stop-color="#ff7171"/><stop offset="0.663" stop-color="#ff8181"/><stop offset="0.699" stop-color="#ffd5d5"/><stop offset="0.724" stop-color="#ffe1e1"/><stop offset="0.776" stop-color="#ffcdcd"/><stop offset="0.883" stop-color="#ffc1c1"/><stop offset="0.944" stop-color="#ff9191"/><stop offset="0.995" stop-color="#ff5d5d"/><stop offset="1" stop-color="#ff5d5d"/></linearGradient><linearGradient id="fc84"><stop offset="0" stop-color="#ff9999"/><stop offset="0.0561" stop-color="#ff9d9d"/><stop offset="0.0816" stop-color="#ffb1b1"/><stop offset="0.117" stop-color="#ffb9b9"/><stop offset="0.143" stop-color="#ffd9d9"/><stop offset="0.265" stop-color="#ffdddd"/><stop offset="0.296" stop-color="#ffdddd"/><stop offset="0.398" stop-color="#ff9d9d"/><stop offset="0.48" stop-color="#ff9595"/><stop offset="0.561" stop-color="#ff8989"/><stop offset="0.653" stop-color="#ff7979"/><stop offset="0.668" stop-color="#ff8989"/><stop offset="0.699" stop-color="#ffe1e1"/><stop offset="0.719" stop-color="#fff1f1"/><stop offset="0.77" stop-color="#ffc9c9"/><stop offset="0.872" stop-color="#ffc5c5"/><stop offset="0.913" stop-color="#ffb1b1"/><stop offset="0.995" stop-color="#ff5d5d"/><stop offset="1" stop-color="#ff5d5d"/></linearGradient><linearGradient id="fc85"><stop offset="0" stop-color="#ff9999"/><stop offset="0.0561" stop-color="#ff9d9d"/><stop offset="0.0816" stop-color="#ffb1b1"/><stop offset="0.117" stop-color="#ffb9b9"/><stop offset="0.143" stop-color="#ffd9d9"/><stop offset="0.23" stop-color="#ffd1d1"/><stop offset="0.301" stop-color="#ffadad"/><stop offset="0.347" stop-color="#ff9d9d"/><stop offset="0.495" stop-color="#ff9d9d"/><stop offset="0.638" stop-color="#ff8181"/><stop offset="0.663" stop-color="#ff8585"/><stop offset="0.673" stop-color="#ff9595"/><stop offset="0.699" stop-color="#ffe1e1"/><stop offset="0.709" stop-color="#fff9f9"/><stop offset="0.719" stop-color="#fffdfd"/><stop offset="0.745" stop-color="#ffd9d9"/><stop offset="0.786" stop-color="#ffc5c5"/><stop offset="0.883" stop-color="#ffc5c5"/><stop offset="0.913" stop-color="#ffb5b5"/><stop offset="0.99" stop-color="#ff6161"/><stop offset="1" stop-color="#ff5d5d"/></linearGradient><linearGradient id="fc86"><stop offset="0" stop-color="#ff9999"/><stop offset="0.0561" stop-color="#ff9d9d"/><stop offset="0.0816" stop-color="#ffb1b1"/><stop offset="0.117" stop-color="#ffb9b9"/><stop offset="0.138" stop-color="#ffd1d1"/><stop offset="0.179" stop-color="#ffc1c1"/><stop offset="0.24" stop-color="#ffa5a5"/><stop offset="0.321" stop-color="#ffadad"/><stop offset="0.434" stop-color="#ffadad"/><stop offset="0.658" stop-color="#ff8585"/><stop offset="0.673" stop-color="#ff9595"/><stop offset="0.699" stop-color="#ffdddd"/><stop offset="0.714" stop-color="#fff5f5"/><stop offset="0.745" stop-color="#ffd5d5"/><stop offset="0.801" stop-color="#ffc5c5"/><stop offset="0.878" stop-color="#ffc5c5"/><stop offset="0.913" stop-color="#ffb5b5"/><stop offset="0.99" stop-color="#ff6161"/><stop offset="1" stop-color="#ff5d5d"/></linearGradient><linearGradient id="fc87"><stop offset="0" stop-color="#ff9999"/><stop offset="0.0561" stop-color="#ff9d9d"/><stop offset="0.0867" stop-color="#ffadad"/><stop offset="0.209" stop-color="#ffadad"/><stop offset="0.276" stop-color="#ffbdbd"/><stop offset="0.403" stop-color="#ffb9b9"/><stop offset="0.658" stop-color="#ff8d8d"/><stop offset="0.673" stop-color="#ff9999"/><stop offset="0.709" stop-color="#ffdddd"/><stop offset="0.781" stop-color="#ffcdcd"/><stop offset="0.806" stop-color="#ffcdcd"/><stop offset="0.893" stop-color="#ffbdbd"/><stop offset="0.944" stop-color="#ff9191"/><stop offset="0.995" stop-color="#ff5d5d"/><stop offset="1" stop-color="#ff5d5d"/></linearGradient><linearGradient id="fc88"><stop offset="0" stop-color="#ff9595"/><stop offset="0.0561" stop-color="#ff9999"/><stop offset="0.179" stop-color="#ffc5c5"/><stop offset="0.235" stop-color="#ffcdcd"/><stop offset="0.418" stop-color="#ffbdbd"/><stop offset="0.612" stop-color="#ff9999"/><stop offset="0.673" stop-color="#ff9999"/><stop offset="0.704" stop-color="#ffc5c5"/><stop offset="0.73" stop-color="#ffcdcd"/><stop offset="0.77" stop-color="#ffd1d1"/><stop offset="0.791" stop-color="#ffe1e1"/><stop offset="0.832" stop-color="#ffc9c9"/><stop offset="0.888" stop-color="#ffbdbd"/><stop offset="0.954" stop-color="#ff8585"/><stop offset="0.995" stop-color="#ff5d5d"/><stop offset="1" stop-color="#ff5d5d"/></linearGradient><linearGradient id="fc89"><stop offset="0" stop-color="#ff8181"/><stop offset="0.0408" stop-color="#ff8585"/><stop offset="0.0969" stop-color="#ffb1b1"/><stop offset="0.133" stop-color="#ffcdcd"/><stop offset="0.199" stop-color="#ffdddd"/><stop offset="0.408" stop-color="#ffc5c5"/><stop offset="0.592" stop-color="#ffa1a1"/><stop offset="0.684" stop-color="#ffa1a1"/><stop offset="0.724" stop-color="#ffc9c9"/><stop offset="0.765" stop-color="#ffcdcd"/><stop offset="0.791" stop-color="#ffeded"/><stop offset="0.811" stop-color="#ffdddd"/><stop offset="0.837" stop-color="#ffc9c9"/><stop offset="0.883" stop-color="#ffbdbd"/><stop offset="0.974" stop-color="#ff7171"/><stop offset="1" stop-color="#ff5d5d"/></linearGradient><linearGradient id="fc90"><stop offset="0" stop-color="#ff6161"/><stop offset="0.0408" stop-color="#ff6969"/><stop offset="0.0765" stop-color="#ff8d8d"/><stop offset="0.117" stop-color="#ffc5c5"/><stop offset="0.158" stop-color="#ffd9d9"/><stop offset="0.24" stop-color="#ffe1e1"/><stop offset="0.327" stop-color="#ffd9d9"/><stop offset="0.556" stop-color="#ffadad"/><stop offset="0.694" stop-color="#ffa5a5"/><stop offset="0.73" stop-color="#ffc1c1"/><stop offset="0.765" stop-color="#ffc9c9"/><stop offset="0.791" stop-color="#ffe9e9"/><stop offset="0.816" stop-color="#ffdddd"/><stop offset="0.837" stop-color="#ffcdcd"/><stop offset="0.883" stop-color="#ffbdbd"/><stop offset="0.974" stop-color="#ff7171"/><stop offset="1" stop-color="#ff5d5d"/></linearGradient><linearGradient id="fc91"><stop offset="0" stop-color="#ff5d5d"/><stop offset="0.0408" stop-color="#ff6565"/><stop offset="0.128" stop-color="#ffc5c5"/><stop offset="0.209" stop-color="#ffe1e1"/><stop offset="0.301" stop-color="#ffdddd"/><stop offset="0.541" stop-color="#ffb5b5"/><stop offset="0.704" stop-color="#ffa9a9"/><stop offset="0.745" stop-color="#ffbdbd"/><stop offset="0.77" stop-color="#ffc9c9"/><stop offset="0.801" stop-color="#ffe1e1"/><stop offset="0.888" stop-color="#ffb9b9"/><stop offset="0.974" stop-color="#ff7171"/><stop offset="1" stop-color="#ff5d5d"/></linearGradient><linearGradient id="fc92"><stop offset="0" stop-color="#ff5555"/><stop offset="0.0357" stop-color="#ff6161"/><stop offset="0.102" stop-color="#ffa9a9"/><stop offset="0.143" stop-color="#ffc9c9"/><stop offset="0.204" stop-color="#ffdddd"/><stop offset="0.378" stop-color="#ffd5d5"/><stop offset="0.5" stop-color="#ffc1c1"/><stop offset="0.714" stop-color="#ffb1b1"/><stop offset="0.77" stop-color="#ffc5c5"/><stop offset="0.811" stop-color="#ffd9d9"/><stop offset="0.862" stop-color="#ffc9c9"/><stop offset="0.974" stop-color="#ff7171"/><stop offset="1" stop-color="#ff5d5d"/></linearGradient><linearGradient id="fc93"><stop offset="0" stop-color="#ff2525"/><stop offset="0.0306" stop-color="#ff3131"/><stop offset="0.051" stop-color="#ff5151"/><stop offset="0.0816" stop-color="#ff8d8d"/><stop offset="0.112" stop-color="#ffb5b5"/><stop offset="0.148" stop-color="#ffd1d1"/><stop offset="0.26" stop-color="#ffd9d9"/><stop offset="0.378" stop-color="#ffd5d5"/><stop offset="0.48" stop-color="#ffc5c5"/><stop offset="0.714" stop-color="#ffb1b1"/><stop offset="0.76" stop-color="#ffb5b5"/><stop offset="0.816" stop-color="#ffd5d5"/><stop offset="0.857" stop-color="#ffcdcd"/><stop offset="0.898" stop-color="#ffb1b1"/><stop offset="1" stop-color="#ff5d5d"/></linearGradient><linearGradient id="fc94"><stop offset="0" stop-color="#ff0101"/><stop offset="0.0459" stop-color="#ff0d0d"/><stop offset="0.0765" stop-color="#ff4141"/><stop offset="0.107" stop-color="#ff9191"/><stop offset="0.128" stop-color="#ffc1c1"/><stop offset="0.153" stop-color="#ffd5d5"/><stop offset="0.357" stop-color="#ffd5d5"/><stop offset="0.464" stop-color="#ffbdbd"/><stop offset="0.587" stop-color="#ffa9a9"/><stop offset="0.638" stop-color="#ff9d9d"/><stop offset="0.684" stop-color="#ffa5a5"/><stop offset="0.714" stop-color="#ffadad"/><stop offset="0.765" stop-color="#ffa5a5"/><stop offset="0.811" stop-color="#ffd1d1"/><stop offset="0.847" stop-color="#ffd9d9"/><stop offset="0.949" stop-color="#ff8989"/><stop offset="0.995" stop-color="#ff5d5d"/><stop offset="1" stop-color="#ff5d5d"/></linearGradient><linearGradient id="fc95"><stop offset="0" stop-color="#ff0101"/><stop offset="0.0765" stop-color="#ff0505"/><stop offset="0.0969" stop-color="#ff1d1d"/><stop offset="0.138" stop-color="#ff8585"/><stop offset="0.158" stop-color="#ffb5b5"/><stop offset="0.189" stop-color="#ffcdcd"/><stop offset="0.27" stop-color="#ffd5d5"/><stop offset="0.332" stop-color="#ffd5d5"/><stop offset="0.398" stop-color="#ffc1c1"/><stop offset="0.439" stop-color="#ffa9a9"/><stop offset="0.515" stop-color="#ff9191"/><stop offset="0.587" stop-color="#ff7979"/><stop offset="0.617" stop-color="#ff8585"/><stop offset="0.668" stop-color="#ffa9a9"/><stop offset="0.709" stop-color="#ffa5a5"/><stop offset="0.765" stop-color="#ff9595"/><stop offset="0.781" stop-color="#ff9d9d"/><stop offset="0.811" stop-color="#ffcdcd"/><stop offset="0.842" stop-color="#ffdddd"/><stop offset="0.883" stop-color="#ffc9c9"/><stop offset="0.995" stop-color="#ff5d5d"/><stop offset="1" stop-color="#ff5d5d"/></linearGradient><linearGradient id="fc96"><stop offset="0" stop-color="#ff0101"/><stop offset="0.112" stop-color="#ff0505"/><stop offset="0.138" stop-color="#ff1d1d"/><stop offset="0.168" stop-color="#ff5959"/><stop offset="0.224" stop-color="#ff9595"/><stop offset="0.26" stop-color="#ffa5a5"/><stop offset="0.321" stop-color="#ffadad"/><stop offset="0.393" stop-color="#ff8585"/><stop offset="0.423" stop-color="#ff6161"/><stop offset="0.449" stop-color="#ff6969"/><stop offset="0.474" stop-color="#ff6565"/><stop offset="0.526" stop-color="#ff5555"/><stop offset="0.556" stop-color="#ff6161"/><stop offset="0.628" stop-color="#ffa9a9"/><stop offset="0.668" stop-color="#ffa9a9"/><stop offset="0.75" stop-color="#ff9191"/><stop offset="0.776" stop-color="#ff9191"/><stop offset="0.791" stop-color="#ffa9a9"/><stop offset="0.811" stop-color="#ffd5d5"/><stop offset="0.842" stop-color="#ffeded"/><stop offset="0.883" stop-color="#ffd5d5"/><stop offset="0.959" stop-color="#ff8181"/><stop offset="0.995" stop-color="#ff5d5d"/><stop offset="1" stop-color="#ff5d5d"/></linearGradient><linearGradient id="fc97"><stop offset="0" stop-color="#ff0101"/><stop offset="0.163" stop-color="#ff0505"/><stop offset="0.26" stop-color="#ff3131"/><stop offset="0.332" stop-color="#ff3939"/><stop offset="0.423" stop-color="#ff0d0d"/><stop offset="0.444" stop-color="#ff1d1d"/><stop offset="0.464" stop-color="#ff2d2d"/><stop offset="0.505" stop-color="#ff4141"/><stop offset="0.577" stop-color="#ffa1a1"/><stop offset="0.602" stop-color="#ffadad"/><stop offset="0.704" stop-color="#ffa1a1"/><stop offset="0.765" stop-color="#ffb1b1"/><stop offset="0.791" stop-color="#ffc5c5"/><stop offset="0.816" stop-color="#fff9f9"/><stop offset="0.827" stop-color="#f9f9ff"/><stop offset="0.852" stop-color="#ededff"/><stop offset="0.878" stop-color="#fffdfd"/><stop offset="0.939" stop-color="#ffadad"/><stop offset="0.969" stop-color="#ff7575"/><stop offset="1" stop-color="#ff5d5d"/></linearGradient><linearGradient id="fc98"><stop offset="0" stop-color="#ff0101"/><stop offset="0.321" stop-color="#ff0505"/><stop offset="0.372" stop-color="#ff0d0d"/><stop offset="0.423" stop-color="#ff0101"/><stop offset="0.449" stop-color="#ff1d1d"/><stop offset="0.536" stop-color="#ffa1a1"/><stop offset="0.561" stop-color="#ffb1b1"/><stop offset="0.653" stop-color="#ffb5b5"/><stop offset="0.791" stop-color="#fff5f5"/><stop offset="0.801" stop-color="#fdfdff"/><stop offset="0.837" stop-color="#c9c9ff"/><stop offset="0.857" stop-color="#c9c9ff"/><stop offset="0.883" stop-color="#e5e5ff"/><stop offset="0.898" stop-color="#fdfdff"/><stop offset="0.929" stop-color="#ffcdcd"/><stop offset="0.964" stop-color="#ff7d7d"/><stop offset="0.995" stop-color="#ff5d5d"/><stop offset="1" stop-color="#ff5d5d"/></linearGradient><linearGradient id="fc99"><stop offset="0" stop-color="#ff0101"/><stop offset="0.306" stop-color="#fe0000"/><stop offset="0.362" stop-color="#ff1515"/><stop offset="0.413" stop-color="#ff0505"/><stop offset="0.429" stop-color="#ff1515"/><stop offset="0.459" stop-color="#ff7171"/><stop offset="0.485" stop-color="#ff9595"/><stop offset="0.515" stop-color="#ffb5b5"/><stop offset="0.643" stop-color="#ffd9d9"/><stop offset="0.74" stop-color="#fffdfd"/><stop offset="0.806" stop-color="#e5e5ff"/><stop offset="0.842" stop-color="#b1b1ff"/><stop offset="0.867" stop-color="#b9b9ff"/><stop offset="0.903" stop-color="#f1f1ff"/><stop offset="0.908" stop-color="#fdfdff"/><stop offset="0.964" stop-color="#ff7d7d"/><stop offset="0.995" stop-color="#ff5d5d"/><stop offset="1" stop-color="#ff5d5d"/></linearGradient><linearGradient id="fc100"><stop offset="0" stop-color="#ff0101"/><stop offset="0.306" stop-color="#fe0000"/><stop offset="0.362" stop-color="#ff1515"/><stop offset="0.408" stop-color="#ff0d0d"/><stop offset="0.423" stop-color="#ff2525"/><stop offset="0.454" stop-color="#ff8d8d"/><stop offset="0.469" stop-color="#ffadad"/><stop offset="0.5" stop-color="#ffd1d1"/><stop offset="0.689" stop-color="#ffe9e9"/><stop offset="0.791" stop-color="#fdfdff"/><stop offset="0.821" stop-color="#e5e5ff"/><stop offset="0.847" stop-color="#bdbdff"/><stop offset="0.872" stop-color="#c9c9ff"/><stop offset="0.893" stop-color="#e1e1ff"/><stop offset="0.908" stop-color="#fffdfd"/><stop offset="0.959" stop-color="#ff8585"/><stop offset="0.99" stop-color="#ff6161"/><stop offset="1" stop-color="#ff5d5d"/></linearGradient><linearGradient id="fc101"><stop offset="0" stop-color="#ff0505"/><stop offset="0.327" stop-color="#ff0505"/><stop offset="0.367" stop-color="#ff1515"/><stop offset="0.403" stop-color="#ff1515"/><stop offset="0.418" stop-color="#ff3131"/><stop offset="0.439" stop-color="#ff6969"/><stop offset="0.469" stop-color="#ff9595"/><stop offset="0.48" stop-color="#ffb5b5"/><stop offset="0.495" stop-color="#fff5f5"/><stop offset="0.5" stop-color="#fdfdff"/><stop offset="0.51" stop-color="#ededff"/><stop offset="0.643" stop-color="#fffdfd"/><stop offset="0.796" stop-color="#fff5f5"/><stop offset="0.816" stop-color="#fff9f9"/><stop offset="0.821" stop-color="#fdfdff"/><stop offset="0.852" stop-color="#cdcdff"/><stop offset="0.878" stop-color="#d9d9ff"/><stop offset="0.903" stop-color="#fffdfd"/><stop offset="0.959" stop-color="#ff8585"/><stop offset="0.99" stop-color="#ff6161"/><stop offset="1" stop-color="#ff5d5d"/></linearGradient><linearGradient id="fc102"><stop offset="0" stop-color="#ff0909"/><stop offset="0.281" stop-color="#fe0000"/><stop offset="0.327" stop-color="#ff0505"/><stop offset="0.383" stop-color="#ff1515"/><stop offset="0.408" stop-color="#ff2929"/><stop offset="0.434" stop-color="#ff5151"/><stop offset="0.459" stop-color="#ff5d5d"/><stop offset="0.469" stop-color="#ff7171"/><stop offset="0.48" stop-color="#ffa1a1"/><stop offset="0.49" stop-color="#ffe5e5"/><stop offset="0.495" stop-color="#f9f9ff"/><stop offset="0.505" stop-color="#c5c5ff"/><stop offset="0.515" stop-color="#adadff"/><stop offset="0.556" stop-color="#adadff"/><stop offset="0.74" stop-color="#d5d5ff"/><stop offset="0.781" stop-color="#ededff"/><stop offset="0.801" stop-color="#fffdfd"/><stop offset="0.816" stop-color="#fff1f1"/><stop offset="0.832" stop-color="#fffdfd"/><stop offset="0.857" stop-color="#d5d5ff"/><stop offset="0.872" stop-color="#d9d9ff"/><stop offset="0.893" stop-color="#f9f9ff"/><stop offset="0.903" stop-color="#fff1f1"/><stop offset="0.959" stop-color="#ff8181"/><stop offset="0.995" stop-color="#ff5d5d"/><stop offset="1" stop-color="#ff5d5d"/></linearGradient><linearGradient id="fc103"><stop offset="0" stop-color="#ff0d0d"/><stop offset="0.23" stop-color="#fe0000"/><stop offset="0.332" stop-color="#ff0505"/><stop offset="0.403" stop-color="#ff2121"/><stop offset="0.459" stop-color="#ff3939"/><stop offset="0.469" stop-color="#ff5555"/><stop offset="0.485" stop-color="#ffb5b5"/><stop offset="0.49" stop-color="#ffdddd"/><stop offset="0.495" stop-color="#f9f9ff"/><stop offset="0.505" stop-color="#b1b1ff"/><stop offset="0.515" stop-color="#8181ff"/><stop offset="0.526" stop-color="#6969ff"/><stop offset="0.566" stop-color="#6969ff"/><stop offset="0.684" stop-color="#8585ff"/><stop offset="0.75" stop-color="#b9b9ff"/><stop offset="0.801" stop-color="#fdfdff"/><stop offset="0.827" stop-color="#ffe9e9"/><stop offset="0.837" stop-color="#fff1f1"/><stop offset="0.847" stop-color="#f9f9ff"/><stop offset="0.857" stop-color="#e1e1ff"/><stop offset="0.867" stop-color="#e1e1ff"/><stop offset="0.888" stop-color="#fffdfd"/><stop offset="0.939" stop-color="#ffa9a9"/><stop offset="0.959" stop-color="#ff8181"/><stop offset="0.995" stop-color="#ff5d5d"/><stop offset="1" stop-color="#ff5d5d"/></linearGradient><linearGradient id="fc104"><stop offset="0" stop-color="#ff1111"/><stop offset="0.219" stop-color="#ff0505"/><stop offset="0.337" stop-color="#ff0909"/><stop offset="0.408" stop-color="#ff1d1d"/><stop offset="0.459" stop-color="#ff2929"/><stop offset="0.469" stop-color="#ff4141"/><stop offset="0.48" stop-color="#ff7979"/><stop offset="0.495" stop-color="#fff9f9"/><stop offset="0.505" stop-color="#b1b1ff"/><stop offset="0.515" stop-color="#6969ff"/><stop offset="0.526" stop-color="#3939ff"/><stop offset="0.541" stop-color="#2121ff"/><stop offset="0.628" stop-color="#3535ff"/><stop offset="0.684" stop-color="#6161ff"/><stop offset="0.765" stop-color="#e1e1ff"/><stop offset="0.781" stop-color="#fdfdff"/><stop offset="0.811" stop-color="#ffd9d9"/><stop offset="0.827" stop-color="#ffd9d9"/><stop offset="0.837" stop-color="#ffe1e1"/><stop offset="0.847" stop-color="#fff9f9"/><stop offset="0.867" stop-color="#ededff"/><stop offset="0.883" stop-color="#fff9f9"/><stop offset="0.939" stop-color="#ffa9a9"/><stop offset="0.974" stop-color="#ff7171"/><stop offset="1" stop-color="#ff5d5d"/></linearGradient><linearGradient id="fc105"><stop offset="0" stop-color="#ff1515"/><stop offset="0.255" stop-color="#ff0909"/><stop offset="0.332" stop-color="#ff0d0d"/><stop offset="0.398" stop-color="#ff1d1d"/><stop offset="0.464" stop-color="#ff2929"/><stop offset="0.474" stop-color="#ff3d3d"/><stop offset="0.485" stop-color="#ff7575"/><stop offset="0.49" stop-color="#ff9d9d"/><stop offset="0.495" stop-color="#ffd1d1"/><stop offset="0.5" stop-color="#f9f9ff"/><stop offset="0.51" stop-color="#9191ff"/><stop offset="0.526" stop-color="#1919ff"/><stop offset="0.531" stop-color="#0101ff"/><stop offset="0.546" stop-color="#0000e9"/><stop offset="0.597" stop-color="#0000fa"/><stop offset="0.622" stop-color="#1919ff"/><stop offset="0.673" stop-color="#7171ff"/><stop offset="0.74" stop-color="#fffdfd"/><stop offset="0.77" stop-color="#ffc5c5"/><stop offset="0.796" stop-color="#ffb9b9"/><stop offset="0.832" stop-color="#ffd9d9"/><stop offset="0.852" stop-color="#fffdfd"/><stop offset="0.862" stop-color="#f5f5ff"/><stop offset="0.872" stop-color="#fdfdff"/><stop offset="0.903" stop-color="#ffd5d5"/><stop offset="0.929" stop-color="#ffb9b9"/><stop offset="0.974" stop-color="#ff7171"/><stop offset="1" stop-color="#ff5d5d"/></linearGradient><linearGradient id="fc106"><stop offset="0" stop-color="#ff1d1d"/><stop offset="0.245" stop-color="#ff0d0d"/><stop offset="0.327" stop-color="#ff1111"/><stop offset="0.393" stop-color="#ff1d1d"/><stop offset="0.469" stop-color="#ff2d2d"/><stop offset="0.48" stop-color="#ff3939"/><stop offset="0.49" stop-color="#ff6161"/><stop offset="0.5" stop-color="#ffb9b9"/><stop offset="0.505" stop-color="#fff1f1"/><stop offset="0.51" stop-color="#d1d1ff"/><stop offset="0.52" stop-color="#6565ff"/><stop offset="0.526" stop-color="#3939ff"/><stop offset="0.536" stop-color="#0000fd"/><stop offset="0.551" stop-color="#0000e9"/><stop offset="0.571" stop-color="#0000f4"/><stop offset="0.582" stop-color="#0505ff"/><stop offset="0.689" stop-color="#f9f9ff"/><stop offset="0.694" stop-color="#fff9f9"/><stop offset="0.735" stop-color="#ffa5a5"/><stop offset="0.76" stop-color="#ff9999"/><stop offset="0.801" stop-color="#ffb9b9"/><stop offset="0.857" stop-color="#fffdfd"/><stop offset="0.878" stop-color="#ffeded"/><stop offset="0.903" stop-color="#ffcdcd"/><stop offset="0.929" stop-color="#ffb9b9"/><stop offset="0.969" stop-color="#ff7979"/><stop offset="1" stop-color="#ff6161"/></linearGradient><linearGradient id="fc107"><stop offset="0" stop-color="#ff2121"/><stop offset="0.245" stop-color="#ff1515"/><stop offset="0.347" stop-color="#ff1919"/><stop offset="0.474" stop-color="#ff2d2d"/><stop offset="0.49" stop-color="#ff3d3d"/><stop offset="0.5" stop-color="#ff6969"/><stop offset="0.515" stop-color="#ffd5d5"/><stop offset="0.52" stop-color="#fff1f1"/><stop offset="0.526" stop-color="#f5f5ff"/><stop offset="0.541" stop-color="#b9b9ff"/><stop offset="0.556" stop-color="#6565ff"/><stop offset="0.566" stop-color="#5555ff"/><stop offset="0.582" stop-color="#6d6dff"/><stop offset="0.643" stop-color="#fdfdff"/><stop offset="0.694" stop-color="#ff9191"/><stop offset="0.714" stop-color="#ff7979"/><stop offset="0.745" stop-color="#ff8181"/><stop offset="0.857" stop-color="#fff5f5"/><stop offset="0.872" stop-color="#ffe9e9"/><stop offset="0.898" stop-color="#ffcdcd"/><stop offset="0.923" stop-color="#ffc1c1"/><stop offset="0.974" stop-color="#ff7575"/><stop offset="1" stop-color="#ff6161"/></linearGradient><linearGradient id="fc108"><stop offset="0" stop-color="#ff2929"/><stop offset="0.235" stop-color="#ff1d1d"/><stop offset="0.383" stop-color="#ff1d1d"/><stop offset="0.495" stop-color="#ff3131"/><stop offset="0.536" stop-color="#ff5555"/><stop offset="0.541" stop-color="#ff6565"/><stop offset="0.551" stop-color="#ffa5a5"/><stop offset="0.561" stop-color="#fff5f5"/><stop offset="0.571" stop-color="#ddddff"/><stop offset="0.587" stop-color="#e9e9ff"/><stop offset="0.597" stop-color="#fffdfd"/><stop offset="0.653" stop-color="#ff7d7d"/><stop offset="0.679" stop-color="#ff5959"/><stop offset="0.699" stop-color="#ff5959"/><stop offset="0.857" stop-color="#ffeded"/><stop offset="0.872" stop-color="#ffe1e1"/><stop offset="0.898" stop-color="#ffcdcd"/><stop offset="0.923" stop-color="#ffc1c1"/><stop offset="0.974" stop-color="#ff7575"/><stop offset="1" stop-color="#ff6161"/></linearGradient><linearGradient id="fc109"><stop offset="0" stop-color="#ff3535"/><stop offset="0.214" stop-color="#ff2525"/><stop offset="0.362" stop-color="#ff1919"/><stop offset="0.495" stop-color="#ff2525"/><stop offset="0.541" stop-color="#ff1919"/><stop offset="0.551" stop-color="#ff2929"/><stop offset="0.571" stop-color="#ff8585"/><stop offset="0.582" stop-color="#ff9d9d"/><stop offset="0.592" stop-color="#ff9595"/><stop offset="0.633" stop-color="#ff4545"/><stop offset="0.653" stop-color="#ff3535"/><stop offset="0.679" stop-color="#ff4141"/><stop offset="0.765" stop-color="#ff8181"/><stop offset="0.806" stop-color="#ff9595"/><stop offset="0.857" stop-color="#ffe1e1"/><stop offset="0.872" stop-color="#ffdddd"/><stop offset="0.893" stop-color="#ffcdcd"/><stop offset="0.918" stop-color="#ffc1c1"/><stop offset="0.98" stop-color="#ff7171"/><stop offset="1" stop-color="#ff6161"/></linearGradient><linearGradient id="fc110"><stop offset="0" stop-color="#ff4141"/><stop offset="0.0663" stop-color="#ff3d3d"/><stop offset="0.189" stop-color="#ff2d2d"/><stop offset="0.357" stop-color="#ff1d1d"/><stop offset="0.495" stop-color="#ff1919"/><stop offset="0.561" stop-color="#ff0505"/><stop offset="0.587" stop-color="#ff2929"/><stop offset="0.622" stop-color="#ff0d0d"/><stop offset="0.653" stop-color="#ff1515"/><stop offset="0.724" stop-color="#ff3131"/><stop offset="0.77" stop-color="#ff4141"/><stop offset="0.796" stop-color="#ff6565"/><stop offset="0.837" stop-color="#ffb9b9"/><stop offset="0.857" stop-color="#ffdddd"/><stop offset="0.883" stop-color="#ffd1d1"/><stop offset="0.929" stop-color="#ffadad"/><stop offset="0.99" stop-color="#ff6969"/><stop offset="1" stop-color="#ff6161"/></linearGradient><linearGradient id="fc111"><stop offset="0" stop-color="#ff5151"/><stop offset="0.0714" stop-color="#ff4949"/><stop offset="0.23" stop-color="#ff2d2d"/><stop offset="0.321" stop-color="#ff2121"/><stop offset="0.423" stop-color="#ff0909"/><stop offset="0.536" stop-color="#f80000"/><stop offset="0.633" stop-color="#e80000"/><stop offset="0.74" stop-color="#f80000"/><stop offset="0.755" stop-color="#ff0505"/><stop offset="0.796" stop-color="#ff5d5d"/><stop offset="0.842" stop-color="#ffe1e1"/><stop offset="0.852" stop-color="#ffeded"/><stop offset="0.964" stop-color="#ff8181"/><stop offset="1" stop-color="#ff6161"/></linearGradient><linearGradient id="fc112"><stop offset="0" stop-color="#ff6161"/><stop offset="0.0816" stop-color="#ff5151"/><stop offset="0.255" stop-color="#ff2d2d"/><stop offset="0.316" stop-color="#ff2121"/><stop offset="0.362" stop-color="#ff0101"/><stop offset="0.566" stop-color="#da0000"/><stop offset="0.633" stop-color="#c30000"/><stop offset="0.699" stop-color="#cc0000"/><stop offset="0.735" stop-color="#ee0000"/><stop offset="0.745" stop-color="#fc0000"/><stop offset="0.755" stop-color="#ff1919"/><stop offset="0.786" stop-color="#ff8989"/><stop offset="0.811" stop-color="#fff5f5"/><stop offset="0.816" stop-color="#f5f5ff"/><stop offset="0.827" stop-color="#cdcdff"/><stop offset="0.837" stop-color="#b9b9ff"/><stop offset="0.842" stop-color="#bdbdff"/><stop offset="0.852" stop-color="#e5e5ff"/><stop offset="0.857" stop-color="#fdfdff"/><stop offset="0.867" stop-color="#ffdddd"/><stop offset="0.893" stop-color="#ffc1c1"/><stop offset="1" stop-color="#ff6161"/></linearGradient><linearGradient id="fc113"><stop offset="0" stop-color="#ff7171"/><stop offset="0.0867" stop-color="#ff5959"/><stop offset="0.311" stop-color="#ff2525"/><stop offset="0.357" stop-color="#fc0000"/><stop offset="0.485" stop-color="#da0000"/><stop offset="0.571" stop-color="#c30000"/><stop offset="0.643" stop-color="#aa0000"/><stop offset="0.673" stop-color="#ae0000"/><stop offset="0.704" stop-color="#de0000"/><stop offset="0.719" stop-color="#fe0000"/><stop offset="0.776" stop-color="#fffdfd"/><stop offset="0.816" stop-color="#4d4dff"/><stop offset="0.821" stop-color="#3d3dff"/><stop offset="0.827" stop-color="#3939ff"/><stop offset="0.832" stop-color="#4141ff"/><stop offset="0.842" stop-color="#7979ff"/><stop offset="0.857" stop-color="#f9f9ff"/><stop offset="0.867" stop-color="#ffd9d9"/><stop offset="0.888" stop-color="#ffbdbd"/><stop offset="0.964" stop-color="#ff8181"/><stop offset="1" stop-color="#ff6161"/></linearGradient><linearGradient id="fc114"><stop offset="0" stop-color="#ff7d7d"/><stop offset="0.173" stop-color="#ff4949"/><stop offset="0.311" stop-color="#ff2929"/><stop offset="0.342" stop-color="#ff0909"/><stop offset="0.357" stop-color="#fa0000"/><stop offset="0.439" stop-color="#d60000"/><stop offset="0.556" stop-color="#c20000"/><stop offset="0.643" stop-color="#b30000"/><stop offset="0.673" stop-color="#bc0000"/><stop offset="0.694" stop-color="#e20000"/><stop offset="0.704" stop-color="#fc0000"/><stop offset="0.719" stop-color="#ff4d4d"/><stop offset="0.75" stop-color="#ffeded"/><stop offset="0.755" stop-color="#f5f5ff"/><stop offset="0.801" stop-color="#0909ff"/><stop offset="0.811" stop-color="#0000ef"/><stop offset="0.821" stop-color="#0000f4"/><stop offset="0.827" stop-color="#0505ff"/><stop offset="0.837" stop-color="#3d3dff"/><stop offset="0.847" stop-color="#8d8dff"/><stop offset="0.857" stop-color="#e9e9ff"/><stop offset="0.862" stop-color="#fff1f1"/><stop offset="0.872" stop-color="#ffcdcd"/><stop offset="1" stop-color="#ff6161"/></linearGradient><linearGradient id="fc115"><stop offset="0" stop-color="#ff8989"/><stop offset="0.117" stop-color="#ff5d5d"/><stop offset="0.316" stop-color="#ff2d2d"/><stop offset="0.352" stop-color="#fe0000"/><stop offset="0.434" stop-color="#d00000"/><stop offset="0.607" stop-color="#c60000"/><stop offset="0.673" stop-color="#d80000"/><stop offset="0.694" stop-color="#f80000"/><stop offset="0.699" stop-color="#ff0d0d"/><stop offset="0.74" stop-color="#ffe9e9"/><stop offset="0.745" stop-color="#f9f9ff"/><stop offset="0.791" stop-color="#0505ff"/><stop offset="0.801" stop-color="#0000e9"/><stop offset="0.806" stop-color="#0000ec"/><stop offset="0.811" stop-color="#0000fd"/><stop offset="0.816" stop-color="#3131ff"/><stop offset="0.827" stop-color="#c1c1ff"/><stop offset="0.832" stop-color="#f9f9ff"/><stop offset="0.837" stop-color="#ffe5e5"/><stop offset="0.847" stop-color="#ffdddd"/><stop offset="0.964" stop-color="#ff8181"/><stop offset="1" stop-color="#ff6161"/></linearGradient><linearGradient id="fc116"><stop offset="0" stop-color="#ff8d8d"/><stop offset="0.0612" stop-color="#ff7575"/><stop offset="0.122" stop-color="#ff5d5d"/><stop offset="0.316" stop-color="#ff3131"/><stop offset="0.357" stop-color="#fe0000"/><stop offset="0.444" stop-color="#d00000"/><stop offset="0.602" stop-color="#ce0000"/><stop offset="0.663" stop-color="#ec0000"/><stop offset="0.679" stop-color="#fe0000"/><stop offset="0.684" stop-color="#ff1515"/><stop offset="0.694" stop-color="#ff6565"/><stop offset="0.709" stop-color="#ffdddd"/><stop offset="0.714" stop-color="#fffdfd"/><stop offset="0.735" stop-color="#a9a9ff"/><stop offset="0.755" stop-color="#6565ff"/><stop offset="0.781" stop-color="#0000fd"/><stop offset="0.791" stop-color="#0000ef"/><stop offset="0.796" stop-color="#0000f2"/><stop offset="0.801" stop-color="#0505ff"/><stop offset="0.806" stop-color="#3131ff"/><stop offset="0.811" stop-color="#7171ff"/><stop offset="0.816" stop-color="#bdbdff"/><stop offset="0.821" stop-color="#fff1f1"/><stop offset="0.827" stop-color="#ffb1b1"/><stop offset="0.832" stop-color="#ff8d8d"/><stop offset="0.837" stop-color="#ff8181"/><stop offset="0.847" stop-color="#ff9191"/><stop offset="0.862" stop-color="#ffbdbd"/><stop offset="0.878" stop-color="#ffc9c9"/><stop offset="1" stop-color="#ff6161"/></linearGradient><linearGradient id="fc117"><stop offset="0" stop-color="#ff9191"/><stop offset="0.0816" stop-color="#ff6d6d"/><stop offset="0.173" stop-color="#ff5151"/><stop offset="0.306" stop-color="#ff3939"/><stop offset="0.367" stop-color="#ff0101"/><stop offset="0.444" stop-color="#d60000"/><stop offset="0.566" stop-color="#ce0000"/><stop offset="0.633" stop-color="#de0000"/><stop offset="0.668" stop-color="#fe0000"/><stop offset="0.673" stop-color="#ff1919"/><stop offset="0.679" stop-color="#ff3d3d"/><stop offset="0.689" stop-color="#ffb5b5"/><stop offset="0.694" stop-color="#fff5f5"/><stop offset="0.699" stop-color="#c9c9ff"/><stop offset="0.704" stop-color="#9191ff"/><stop offset="0.714" stop-color="#4949ff"/><stop offset="0.724" stop-color="#2525ff"/><stop offset="0.77" stop-color="#0909ff"/><stop offset="0.781" stop-color="#1515ff"/><stop offset="0.786" stop-color="#2929ff"/><stop offset="0.796" stop-color="#7979ff"/><stop offset="0.806" stop-color="#ededff"/><stop offset="0.811" stop-color="#ffdddd"/><stop offset="0.816" stop-color="#ffb1b1"/><stop offset="0.821" stop-color="#ff9999"/><stop offset="0.827" stop-color="#ff9595"/><stop offset="0.852" stop-color="#ffc9c9"/><stop offset="0.878" stop-color="#ffc9c9"/><stop offset="1" stop-color="#ff6161"/></linearGradient><linearGradient id="fc118"><stop offset="0" stop-color="#ff9191"/><stop offset="0.0561" stop-color="#ff7d7d"/><stop offset="0.128" stop-color="#ff5d5d"/><stop offset="0.245" stop-color="#ff4949"/><stop offset="0.311" stop-color="#ff3939"/><stop offset="0.383" stop-color="#ff0505"/><stop offset="0.444" stop-color="#dc0000"/><stop offset="0.566" stop-color="#d20000"/><stop offset="0.633" stop-color="#e30000"/><stop offset="0.663" stop-color="#ff0101"/><stop offset="0.673" stop-color="#ff3d3d"/><stop offset="0.694" stop-color="#fff5f5"/><stop offset="0.699" stop-color="#e1e1ff"/><stop offset="0.709" stop-color="#a1a1ff"/><stop offset="0.714" stop-color="#8989ff"/><stop offset="0.719" stop-color="#7d7dff"/><stop offset="0.73" stop-color="#8585ff"/><stop offset="0.745" stop-color="#b1b1ff"/><stop offset="0.755" stop-color="#bdbdff"/><stop offset="0.77" stop-color="#b1b1ff"/><stop offset="0.781" stop-color="#c9c9ff"/><stop offset="0.791" stop-color="#fff9f9"/><stop offset="0.801" stop-color="#ffbdbd"/><stop offset="0.806" stop-color="#ffa9a9"/><stop offset="0.821" stop-color="#ff9d9d"/><stop offset="0.857" stop-color="#ffc9c9"/><stop offset="0.898" stop-color="#ffb5b5"/><stop offset="1" stop-color="#ff6161"/></linearGradient><linearGradient id="fc119"><stop offset="0" stop-color="#ff9595"/><stop offset="0.0612" stop-color="#ff7d7d"/><stop offset="0.0867" stop-color="#ff6d6d"/><stop offset="0.128" stop-color="#ff5d5d"/><stop offset="0.189" stop-color="#ff5151"/><stop offset="0.327" stop-color="#ff3939"/><stop offset="0.383" stop-color="#ff1515"/><stop offset="0.398" stop-color="#fe0000"/><stop offset="0.429" stop-color="#e60000"/><stop offset="0.551" stop-color="#d20000"/><stop offset="0.633" stop-color="#e60000"/><stop offset="0.658" stop-color="#fe0000"/><stop offset="0.668" stop-color="#ff1919"/><stop offset="0.689" stop-color="#ff7979"/><stop offset="0.709" stop-color="#fff1f1"/><stop offset="0.714" stop-color="#f9f9ff"/><stop offset="0.724" stop-color="#fffdfd"/><stop offset="0.735" stop-color="#ffd5d5"/><stop offset="0.745" stop-color="#ffc5c5"/><stop offset="0.755" stop-color="#ffe5e5"/><stop offset="0.76" stop-color="#fffdfd"/><stop offset="0.77" stop-color="#ddddff"/><stop offset="0.781" stop-color="#ddddff"/><stop offset="0.791" stop-color="#f5f5ff"/><stop offset="0.796" stop-color="#fff9f9"/><stop offset="0.811" stop-color="#ffe1e1"/><stop offset="0.842" stop-color="#ffc9c9"/><stop offset="0.883" stop-color="#ffc1c1"/><stop offset="0.923" stop-color="#ff9595"/><stop offset="0.969" stop-color="#ff7d7d"/><stop offset="0.995" stop-color="#ff6161"/><stop offset="1" stop-color="#ff6161"/></linearGradient><linearGradient id="fc120"><stop offset="0" stop-color="#ff9999"/><stop offset="0.0561" stop-color="#ff8585"/><stop offset="0.0867" stop-color="#ff6d6d"/><stop offset="0.122" stop-color="#ff6161"/><stop offset="0.153" stop-color="#ff5151"/><stop offset="0.235" stop-color="#ff4d4d"/><stop offset="0.265" stop-color="#ff4141"/><stop offset="0.337" stop-color="#ff3939"/><stop offset="0.367" stop-color="#ff2525"/><stop offset="0.388" stop-color="#ff1919"/><stop offset="0.398" stop-color="#ff0101"/><stop offset="0.418" stop-color="#e80000"/><stop offset="0.485" stop-color="#de0000"/><stop offset="0.52" stop-color="#d20000"/><stop offset="0.577" stop-color="#d80000"/><stop offset="0.633" stop-color="#e60000"/><stop offset="0.658" stop-color="#fe0000"/><stop offset="0.668" stop-color="#ff0909"/><stop offset="0.679" stop-color="#ff2121"/><stop offset="0.694" stop-color="#ff6969"/><stop offset="0.704" stop-color="#ffb5b5"/><stop offset="0.709" stop-color="#ffd1d1"/><stop offset="0.714" stop-color="#ffe1e1"/><stop offset="0.719" stop-color="#ffe1e1"/><stop offset="0.735" stop-color="#ffadad"/><stop offset="0.74" stop-color="#ffa9a9"/><stop offset="0.745" stop-color="#ffbdbd"/><stop offset="0.75" stop-color="#ffe1e1"/><stop offset="0.755" stop-color="#f1f1ff"/><stop offset="0.765" stop-color="#a9a9ff"/><stop offset="0.77" stop-color="#9999ff"/><stop offset="0.776" stop-color="#9595ff"/><stop offset="0.786" stop-color="#a9a9ff"/><stop offset="0.806" stop-color="#f9f9ff"/><stop offset="0.816" stop-color="#fff9f9"/><stop offset="0.842" stop-color="#ffd1d1"/><stop offset="0.888" stop-color="#ffc1c1"/><stop offset="0.913" stop-color="#ff9191"/><stop offset="0.939" stop-color="#ff8989"/><stop offset="0.969" stop-color="#ff7d7d"/><stop offset="0.995" stop-color="#ff6161"/><stop offset="1" stop-color="#ff6161"/></linearGradient></defs><g filter="url(#vb)"><rect x="-12" y="-12" width="392" height="10.5" fill="url(#fc81)"/><rect x="-12" y="-2" width="392" height="10.5" fill="url(#fc82)"/><rect x="-12" y="8" width="392" height="10.5" fill="url(#fc83)"/><rect x="-12" y="18" width="392" height="10.5" fill="url(#fc84)"/><rect x="-12" y="28" width="392" height="10.5" fill="url(#fc85)"/><rect x="-12" y="38" width="392" height="10.5" fill="url(#fc86)"/><rect x="-12" y="48" width="392" height="10.5" fill="url(#fc87)"/><rect x="-12" y="58" width="392" height="10.5" fill="url(#fc88)"/><rect x="-12" y="68" width="392" height="10.5" fill="url(#fc89)"/><rect x="-12" y="78" width="392" height="10.5" fill="url(#fc90)"/><rect x="-12" y="88" width="392" height="10.5" fill="url(#fc91)"/><rect x="-12" y="98" width="392" height="10.5" fill="url(#fc92)"/><rect x="-12" y="108" width="392" height="10.5" fill="url(#fc93)"/><rect x="-12" y="118" width="392" height="10.5" fill="url(#fc94)"/><rect x="-12" y="128" width="392" height="10.5" fill="url(#fc95)"/><rect x="-12" y="138" width="392" height="10.5" fill="url(#fc96)"/><rect x="-12" y="148" width="392" height="10.5" fill="url(#fc97)"/><rect x="-12" y="158" width="392" height="10.5" fill="url(#fc98)"/><rect x="-12" y="168" width="392" height="10.5" fill="url(#fc99)"/><rect x="-12" y="178" width="392" height="10.5" fill="url(#fc100)"/><rect x="-12" y="188" width="392" height="10.5" fill="url(#fc101)"/><rect x="-12" y="198" width="392" height="10.5" fill="url(#fc102)"/><rect x="-12" y="208" width="392" height="10.5" fill="url(#fc103)"/><rect x="-12" y="218" width="392" height="10.5" fill="url(#fc104)"/><rect x="-12" y="228" width="392" height="10.5" fill="url(#fc105)"/><rect x="-12" y="238" width="392" height="10.5" fill="url(#fc106)"/><rect x="-12" y="248" width="392" height="10.5" fill="url(#fc107)"/><rect x="-12" y="258" width="392" height="10.5" fill="url(#fc108)"/><rect x="-12" y="268" width="392" height="10.5" fill="url(#fc109)"/><rect x="-12" y="278" width="392" height="10.5" fill="url(#fc110)"/><rect x="-12" y="288" width="392" height="10.5" fill="url(#fc111)"/><rect x="-12" y="298" width="392" height="10.5" fill="url(#fc112)"/><rect x="-12" y="308" width="392" height="10.5" fill="url(#fc113)"/><rect x="-12" y="318" width="392" height="10.5" fill="url(#fc114)"/><rect x="-12" y="328" width="392" height="10.5" fill="url(#fc115)"/><rect x="-12" y="338" width="392" height="10.5" fill="url(#fc116)"/><rect x="-12" y="348" width="392" height="10.5" fill="url(#fc117)"/><rect x="-12" y="358" width="392" height="10.5" fill="url(#fc118)"/><rect x="-12" y="368" width="392" height="10.5" fill="url(#fc119)"/><rect x="-12" y="378" width="392" height="2.5" fill="url(#fc120)"/></g><g filter="url(#b1)"><path d="M264.3 345.2 268.5 344.7 271.7 343.7 275.9 342.1 280.2 342.1 285.5 341 290.7 340 296 338.9 300.2 336.8 304.5 333.6 307.6 330.4 310.8 334.7 314 333.6 311.9 337.8 306.6 344.2 300.2 350.5 292.9 356.3 285.5 361.6 277.5 365.9 271.7 359 267.5 351.6Z" fill="#00005c"/><path d="M320.9 301.9 319.3 307.2 318.7 314.6 318.4 320.9 316.6 327.3 314 331.5 310.8 334.7 309.8 330.4 310 326.2 310.8 320.9 312.4 316.7 315 311.4 317.7 307.2Z" fill="#0000a8"/></g><use href="#fl_land"/><use href="#fl_over"/><text x="224.6" y="33.4" font-size="20.4" text-anchor="end">Jacksonville</text>
</g>
<rect x="0" y="0" width="36.8" height="37.2" fill="#fff" stroke="#000" stroke-width="1.1"/>
<text x="4.0" y="25.8" font-size="20" font-weight="bold">(c)</text>
<rect x="0" y="0" width="366.1" height="366.1" fill="none" stroke="#000" stroke-width="1.1"/>
</g>
<g transform="translate(1384.7,42.5)"><g clip-path="url(#pc)">
<defs><linearGradient id="fd121"><stop offset="0" stop-color="#ff9999"/><stop offset="0.0561" stop-color="#ff9d9d"/><stop offset="0.0816" stop-color="#ffb1b1"/><stop offset="0.117" stop-color="#ffb9b9"/><stop offset="0.143" stop-color="#ffd9d9"/><stop offset="0.388" stop-color="#ffd9d9"/><stop offset="0.403" stop-color="#ffc5c5"/><stop offset="0.429" stop-color="#ff7575"/><stop offset="0.449" stop-color="#ff6565"/><stop offset="0.648" stop-color="#ff6d6d"/><stop offset="0.668" stop-color="#ff8d8d"/><stop offset="0.689" stop-color="#ffb9b9"/><stop offset="0.73" stop-color="#ffd5d5"/><stop offset="0.872" stop-color="#ffc1c1"/><stop offset="0.974" stop-color="#ff7171"/><stop offset="1" stop-color="#ff5d5d"/></linearGradient><linearGradient id="fd122"><stop offset="0" stop-color="#ff9999"/><stop offset="0.0561" stop-color="#ff9d9d"/><stop offset="0.0816" stop-color="#ffb1b1"/><stop offset="0.117" stop-color="#ffb9b9"/><stop offset="0.143" stop-color="#ffd9d9"/><stop offset="0.281" stop-color="#ffdddd"/><stop offset="0.311" stop-color="#ffdddd"/><stop offset="0.408" stop-color="#ffd5d5"/><stop offset="0.418" stop-color="#ffc5c5"/><stop offset="0.444" stop-color="#ff7575"/><stop offset="0.459" stop-color="#ff6969"/><stop offset="0.587" stop-color="#ff7575"/><stop offset="0.648" stop-color="#ff6d6d"/><stop offset="0.668" stop-color="#ff8d8d"/><stop offset="0.684" stop-color="#ffb1b1"/><stop offset="0.709" stop-color="#ffcdcd"/><stop offset="0.735" stop-color="#ffd9d9"/><stop offset="0.883" stop-color="#ffbdbd"/><stop offset="0.954" stop-color="#ff8585"/><stop offset="0.995" stop-color="#ff5d5d"/><stop offset="1" stop-color="#ff5d5d"/></linearGradient><linearGradient id="fd123"><stop offset="0" stop-color="#ff9999"/><stop offset="0.0561" stop-color="#ff9d9d"/><stop offset="0.0816" stop-color="#ffb1b1"/><stop offset="0.117" stop-color="#ffb9b9"/><stop offset="0.143" stop-color="#ffd9d9"/><stop offset="0.27" stop-color="#ffdddd"/><stop offset="0.291" stop-color="#ffe5e5"/><stop offset="0.332" stop-color="#ffd9d9"/><stop offset="0.398" stop-color="#ffcdcd"/><stop offset="0.423" stop-color="#ffb9b9"/><stop offset="0.454" stop-color="#ff7d7d"/><stop offset="0.48" stop-color="#ff7d7d"/><stop offset="0.546" stop-color="#ff8585"/><stop offset="0.648" stop-color="#ff7171"/><stop offset="0.663" stop-color="#ff8181"/><stop offset="0.699" stop-color="#ffd5d5"/><stop offset="0.724" stop-color="#ffe1e1"/><stop offset="0.776" stop-color="#ffcdcd"/><stop offset="0.883" stop-color="#ffc1c1"/><stop offset="0.944" stop-color="#ff9191"/><stop offset="0.995" stop-color="#ff5d5d"/><stop offset="1" stop-color="#ff5d5d"/></linearGradient><linearGradient id="fd124"><stop offset="0" stop-color="#ff9999"/><stop offset="0.0561" stop-color="#ff9d9d"/><stop offset="0.0816" stop-color="#ffb1b1"/><stop offset="0.117" stop-color="#ffb9b9"/><stop offset="0.143" stop-color="#ffd9d9"/><stop offset="0.265" stop-color="#ffdddd"/><stop offset="0.296" stop-color="#ffdddd"/><stop offset="0.398" stop-color="#ff9d9d"/><stop offset="0.48" stop-color="#ff9595"/><stop offset="0.561" stop-color="#ff8989"/><stop offset="0.653" stop-color="#ff7979"/><stop offset="0.668" stop-color="#ff8989"/><stop offset="0.699" stop-color="#ffe1e1"/><stop offset="0.719" stop-color="#fff1f1"/><stop offset="0.77" stop-color="#ffc9c9"/><stop offset="0.872" stop-color="#ffc5c5"/><stop offset="0.913" stop-color="#ffb1b1"/><stop offset="0.995" stop-color="#ff5d5d"/><stop offset="1" stop-color="#ff5d5d"/></linearGradient><linearGradient id="fd125"><stop offset="0" stop-color="#ff9999"/><stop offset="0.0561" stop-color="#ff9d9d"/><stop offset="0.0816" stop-color="#ffb1b1"/><stop offset="0.117" stop-color="#ffb9b9"/><stop offset="0.143" stop-color="#ffd9d9"/><stop offset="0.23" stop-color="#ffd1d1"/><stop offset="0.301" stop-color="#ffadad"/><stop offset="0.347" stop-color="#ff9d9d"/><stop offset="0.495" stop-color="#ff9d9d"/><stop offset="0.638" stop-color="#ff8181"/><stop offset="0.663" stop-color="#ff8585"/><stop offset="0.673" stop-color="#ff9595"/><stop offset="0.699" stop-color="#ffe1e1"/><stop offset="0.709" stop-color="#fff9f9"/><stop offset="0.719" stop-color="#fffdfd"/><stop offset="0.745" stop-color="#ffd9d9"/><stop offset="0.786" stop-color="#ffc5c5"/><stop offset="0.883" stop-color="#ffc5c5"/><stop offset="0.913" stop-color="#ffb5b5"/><stop offset="0.99" stop-color="#ff6161"/><stop offset="1" stop-color="#ff5d5d"/></linearGradient><linearGradient id="fd126"><stop offset="0" stop-color="#ff9999"/><stop offset="0.0561" stop-color="#ff9d9d"/><stop offset="0.0816" stop-color="#ffb1b1"/><stop offset="0.117" stop-color="#ffb9b9"/><stop offset="0.138" stop-color="#ffd1d1"/><stop offset="0.179" stop-color="#ffc1c1"/><stop offset="0.24" stop-color="#ffa5a5"/><stop offset="0.321" stop-color="#ffadad"/><stop offset="0.434" stop-color="#ffadad"/><stop offset="0.658" stop-color="#ff8585"/><stop offset="0.673" stop-color="#ff9595"/><stop offset="0.699" stop-color="#ffdddd"/><stop offset="0.714" stop-color="#fff5f5"/><stop offset="0.745" stop-color="#ffd5d5"/><stop offset="0.801" stop-color="#ffc5c5"/><stop offset="0.878" stop-color="#ffc5c5"/><stop offset="0.913" stop-color="#ffb5b5"/><stop offset="0.99" stop-color="#ff6161"/><stop offset="1" stop-color="#ff5d5d"/></linearGradient><linearGradient id="fd127"><stop offset="0" stop-color="#ff9999"/><stop offset="0.0561" stop-color="#ff9d9d"/><stop offset="0.0867" stop-color="#ffadad"/><stop offset="0.209" stop-color="#ffadad"/><stop offset="0.276" stop-color="#ffbdbd"/><stop offset="0.403" stop-color="#ffb9b9"/><stop offset="0.658" stop-color="#ff8d8d"/><stop offset="0.673" stop-color="#ff9999"/><stop offset="0.709" stop-color="#ffdddd"/><stop offset="0.781" stop-color="#ffcdcd"/><stop offset="0.806" stop-color="#ffcdcd"/><stop offset="0.893" stop-color="#ffbdbd"/><stop offset="0.944" stop-color="#ff9191"/><stop offset="0.995" stop-color="#ff5d5d"/><stop offset="1" stop-color="#ff5d5d"/></linearGradient><linearGradient id="fd128"><stop offset="0" stop-color="#ff9595"/><stop offset="0.0561" stop-color="#ff9999"/><stop offset="0.179" stop-color="#ffc5c5"/><stop offset="0.235" stop-color="#ffcdcd"/><stop offset="0.418" stop-color="#ffbdbd"/><stop offset="0.612" stop-color="#ff9999"/><stop offset="0.673" stop-color="#ff9999"/><stop offset="0.704" stop-color="#ffc5c5"/><stop offset="0.73" stop-color="#ffcdcd"/><stop offset="0.77" stop-color="#ffd1d1"/><stop offset="0.791" stop-color="#ffe1e1"/><stop offset="0.832" stop-color="#ffc9c9"/><stop offset="0.888" stop-color="#ffbdbd"/><stop offset="0.954" stop-color="#ff8585"/><stop offset="0.995" stop-color="#ff5d5d"/><stop offset="1" stop-color="#ff5d5d"/></linearGradient><linearGradient id="fd129"><stop offset="0" stop-color="#ff8181"/><stop offset="0.0408" stop-color="#ff8585"/><stop offset="0.0969" stop-color="#ffb1b1"/><stop offset="0.133" stop-color="#ffcdcd"/><stop offset="0.199" stop-color="#ffdddd"/><stop offset="0.408" stop-color="#ffc5c5"/><stop offset="0.592" stop-color="#ffa1a1"/><stop offset="0.684" stop-color="#ffa1a1"/><stop offset="0.724" stop-color="#ffc9c9"/><stop offset="0.765" stop-color="#ffcdcd"/><stop offset="0.791" stop-color="#ffeded"/><stop offset="0.811" stop-color="#ffdddd"/><stop offset="0.837" stop-color="#ffc9c9"/><stop offset="0.883" stop-color="#ffbdbd"/><stop offset="0.974" stop-color="#ff7171"/><stop offset="1" stop-color="#ff5d5d"/></linearGradient><linearGradient id="fd130"><stop offset="0" stop-color="#ff6161"/><stop offset="0.0408" stop-color="#ff6969"/><stop offset="0.0765" stop-color="#ff8d8d"/><stop offset="0.117" stop-color="#ffc9c9"/><stop offset="0.153" stop-color="#ffdddd"/><stop offset="0.25" stop-color="#ffe5e5"/><stop offset="0.464" stop-color="#ffbdbd"/><stop offset="0.561" stop-color="#ffadad"/><stop offset="0.694" stop-color="#ffa5a5"/><stop offset="0.73" stop-color="#ffc1c1"/><stop offset="0.765" stop-color="#ffc9c9"/><stop offset="0.791" stop-color="#ffe9e9"/><stop offset="0.816" stop-color="#ffdddd"/><stop offset="0.837" stop-color="#ffcdcd"/><stop offset="0.883" stop-color="#ffbdbd"/><stop offset="0.974" stop-color="#ff7171"/><stop offset="1" stop-color="#ff5d5d"/></linearGradient><linearGradient id="fd131"><stop offset="0" stop-color="#ff5d5d"/><stop offset="0.0408" stop-color="#ff6565"/><stop offset="0.0918" stop-color="#ffa1a1"/><stop offset="0.122" stop-color="#ffd1d1"/><stop offset="0.148" stop-color="#ffe1e1"/><stop offset="0.235" stop-color="#ffeded"/><stop offset="0.347" stop-color="#ffe1e1"/><stop offset="0.423" stop-color="#ffc9c9"/><stop offset="0.541" stop-color="#ffb5b5"/><stop offset="0.704" stop-color="#ffa9a9"/><stop offset="0.745" stop-color="#ffbdbd"/><stop offset="0.77" stop-color="#ffc9c9"/><stop offset="0.801" stop-color="#ffe1e1"/><stop offset="0.888" stop-color="#ffb9b9"/><stop offset="0.974" stop-color="#ff7171"/><stop offset="1" stop-color="#ff5d5d"/></linearGradient><linearGradient id="fd132"><stop offset="0" stop-color="#ff5555"/><stop offset="0.0357" stop-color="#ff6161"/><stop offset="0.0969" stop-color="#ffadad"/><stop offset="0.122" stop-color="#ffd1d1"/><stop offset="0.168" stop-color="#ffeded"/><stop offset="0.347" stop-color="#ffeded"/><stop offset="0.434" stop-color="#ffc9c9"/><stop offset="0.714" stop-color="#ffb1b1"/><stop offset="0.77" stop-color="#ffc5c5"/><stop offset="0.811" stop-color="#ffd9d9"/><stop offset="0.862" stop-color="#ffc9c9"/><stop offset="0.974" stop-color="#ff7171"/><stop offset="1" stop-color="#ff5d5d"/></linearGradient><linearGradient id="fd133"><stop offset="0" stop-color="#ff2525"/><stop offset="0.0306" stop-color="#ff3131"/><stop offset="0.051" stop-color="#ff5151"/><stop offset="0.107" stop-color="#ffbdbd"/><stop offset="0.133" stop-color="#ffd9d9"/><stop offset="0.173" stop-color="#fff5f5"/><stop offset="0.23" stop-color="#fffdfd"/><stop offset="0.362" stop-color="#fff1f1"/><stop offset="0.439" stop-color="#ffcdcd"/><stop offset="0.663" stop-color="#ffb5b5"/><stop offset="0.74" stop-color="#ffadad"/><stop offset="0.821" stop-color="#ffd5d5"/><stop offset="0.857" stop-color="#ffcdcd"/><stop offset="0.898" stop-color="#ffb1b1"/><stop offset="1" stop-color="#ff5d5d"/></linearGradient><linearGradient id="fd134"><stop offset="0" stop-color="#ff0101"/><stop offset="0.0459" stop-color="#ff0d0d"/><stop offset="0.0765" stop-color="#ff4141"/><stop offset="0.102" stop-color="#ff8989"/><stop offset="0.128" stop-color="#ffcdcd"/><stop offset="0.158" stop-color="#fff1f1"/><stop offset="0.189" stop-color="#fdfdff"/><stop offset="0.352" stop-color="#fff5f5"/><stop offset="0.454" stop-color="#ffcdcd"/><stop offset="0.556" stop-color="#ffbdbd"/><stop offset="0.673" stop-color="#ff9595"/><stop offset="0.76" stop-color="#ffa1a1"/><stop offset="0.811" stop-color="#ffd1d1"/><stop offset="0.847" stop-color="#ffd9d9"/><stop offset="0.949" stop-color="#ff8989"/><stop offset="0.995" stop-color="#ff5d5d"/><stop offset="1" stop-color="#ff5d5d"/></linearGradient><linearGradient id="fd135"><stop offset="0" stop-color="#ff0101"/><stop offset="0.0765" stop-color="#ff0505"/><stop offset="0.0969" stop-color="#ff2121"/><stop offset="0.117" stop-color="#ff5151"/><stop offset="0.153" stop-color="#ffc1c1"/><stop offset="0.173" stop-color="#ffe1e1"/><stop offset="0.204" stop-color="#fff1f1"/><stop offset="0.321" stop-color="#fff5f5"/><stop offset="0.393" stop-color="#ffe1e1"/><stop offset="0.439" stop-color="#ffc1c1"/><stop offset="0.469" stop-color="#ffb9b9"/><stop offset="0.602" stop-color="#ff7575"/><stop offset="0.648" stop-color="#ff7575"/><stop offset="0.77" stop-color="#ff9191"/><stop offset="0.811" stop-color="#ffcdcd"/><stop offset="0.842" stop-color="#ffdddd"/><stop offset="0.883" stop-color="#ffc9c9"/><stop offset="0.995" stop-color="#ff5d5d"/><stop offset="1" stop-color="#ff5d5d"/></linearGradient><linearGradient id="fd136"><stop offset="0" stop-color="#ff0101"/><stop offset="0.112" stop-color="#ff0505"/><stop offset="0.138" stop-color="#ff2121"/><stop offset="0.173" stop-color="#ff7171"/><stop offset="0.23" stop-color="#ffadad"/><stop offset="0.255" stop-color="#ffbdbd"/><stop offset="0.316" stop-color="#ffc9c9"/><stop offset="0.388" stop-color="#ffa1a1"/><stop offset="0.423" stop-color="#ff7171"/><stop offset="0.459" stop-color="#ff7d7d"/><stop offset="0.531" stop-color="#ff5151"/><stop offset="0.587" stop-color="#ff5151"/><stop offset="0.673" stop-color="#ff6969"/><stop offset="0.75" stop-color="#ff7d7d"/><stop offset="0.781" stop-color="#ff9595"/><stop offset="0.796" stop-color="#ffb1b1"/><stop offset="0.811" stop-color="#ffd5d5"/><stop offset="0.842" stop-color="#ffeded"/><stop offset="0.883" stop-color="#ffd5d5"/><stop offset="0.959" stop-color="#ff8181"/><stop offset="0.995" stop-color="#ff5d5d"/><stop offset="1" stop-color="#ff5d5d"/></linearGradient><linearGradient id="fd137"><stop offset="0" stop-color="#ff0101"/><stop offset="0.158" stop-color="#ff0505"/><stop offset="0.214" stop-color="#ff2121"/><stop offset="0.26" stop-color="#ff3939"/><stop offset="0.321" stop-color="#ff4545"/><stop offset="0.408" stop-color="#ff1919"/><stop offset="0.429" stop-color="#ff1111"/><stop offset="0.454" stop-color="#ff2d2d"/><stop offset="0.531" stop-color="#ff2d2d"/><stop offset="0.622" stop-color="#ff4d4d"/><stop offset="0.699" stop-color="#ff6969"/><stop offset="0.765" stop-color="#ffa1a1"/><stop offset="0.791" stop-color="#ffc1c1"/><stop offset="0.816" stop-color="#fff9f9"/><stop offset="0.827" stop-color="#f9f9ff"/><stop offset="0.852" stop-color="#ededff"/><stop offset="0.878" stop-color="#fffdfd"/><stop offset="0.939" stop-color="#ffadad"/><stop offset="0.969" stop-color="#ff7575"/><stop offset="1" stop-color="#ff5d5d"/></linearGradient><linearGradient id="fd138"><stop offset="0" stop-color="#ff0101"/><stop offset="0.321" stop-color="#ff0505"/><stop offset="0.372" stop-color="#ff0d0d"/><stop offset="0.434" stop-color="#ff0101"/><stop offset="0.49" stop-color="#ff1111"/><stop offset="0.628" stop-color="#ff4d4d"/><stop offset="0.704" stop-color="#ff9191"/><stop offset="0.796" stop-color="#fff5f5"/><stop offset="0.801" stop-color="#fffdfd"/><stop offset="0.837" stop-color="#c9c9ff"/><stop offset="0.857" stop-color="#c9c9ff"/><stop offset="0.883" stop-color="#e5e5ff"/><stop offset="0.898" stop-color="#fdfdff"/><stop offset="0.929" stop-color="#ffcdcd"/><stop offset="0.964" stop-color="#ff7d7d"/><stop offset="0.995" stop-color="#ff5d5d"/><stop offset="1" stop-color="#ff5d5d"/></linearGradient><linearGradient id="fd139"><stop offset="0" stop-color="#ff0101"/><stop offset="0.306" stop-color="#fe0000"/><stop offset="0.362" stop-color="#ff1515"/><stop offset="0.444" stop-color="#ff0101"/><stop offset="0.485" stop-color="#ff0505"/><stop offset="0.582" stop-color="#ff4141"/><stop offset="0.781" stop-color="#fffdfd"/><stop offset="0.801" stop-color="#ededff"/><stop offset="0.842" stop-color="#b1b1ff"/><stop offset="0.867" stop-color="#b9b9ff"/><stop offset="0.903" stop-color="#f1f1ff"/><stop offset="0.908" stop-color="#fdfdff"/><stop offset="0.964" stop-color="#ff7d7d"/><stop offset="0.995" stop-color="#ff5d5d"/><stop offset="1" stop-color="#ff5d5d"/></linearGradient><linearGradient id="fd140"><stop offset="0" stop-color="#ff0101"/><stop offset="0.306" stop-color="#fe0000"/><stop offset="0.362" stop-color="#ff1515"/><stop offset="0.469" stop-color="#ff0101"/><stop offset="0.51" stop-color="#ff1111"/><stop offset="0.801" stop-color="#fffdfd"/><stop offset="0.827" stop-color="#ddddff"/><stop offset="0.847" stop-color="#bdbdff"/><stop offset="0.872" stop-color="#c9c9ff"/><stop offset="0.893" stop-color="#e1e1ff"/><stop offset="0.908" stop-color="#fffdfd"/><stop offset="0.959" stop-color="#ff8585"/><stop offset="0.99" stop-color="#ff6161"/><stop offset="1" stop-color="#ff5d5d"/></linearGradient><linearGradient id="fd141"><stop offset="0" stop-color="#ff0505"/><stop offset="0.327" stop-color="#ff0505"/><stop offset="0.367" stop-color="#ff1515"/><stop offset="0.454" stop-color="#ff0909"/><stop offset="0.485" stop-color="#ff0909"/><stop offset="0.505" stop-color="#ff0909"/><stop offset="0.75" stop-color="#ffbdbd"/><stop offset="0.816" stop-color="#fff5f5"/><stop offset="0.821" stop-color="#fffdfd"/><stop offset="0.852" stop-color="#cdcdff"/><stop offset="0.878" stop-color="#d9d9ff"/><stop offset="0.903" stop-color="#fffdfd"/><stop offset="0.959" stop-color="#ff8585"/><stop offset="0.99" stop-color="#ff6161"/><stop offset="1" stop-color="#ff5d5d"/></linearGradient><linearGradient id="fd142"><stop offset="0" stop-color="#ff0909"/><stop offset="0.281" stop-color="#fe0000"/><stop offset="0.327" stop-color="#ff0505"/><stop offset="0.383" stop-color="#ff1515"/><stop offset="0.48" stop-color="#ff1111"/><stop offset="0.51" stop-color="#ff0505"/><stop offset="0.816" stop-color="#ffe1e1"/><stop offset="0.832" stop-color="#fff9f9"/><stop offset="0.837" stop-color="#f9f9ff"/><stop offset="0.857" stop-color="#d5d5ff"/><stop offset="0.872" stop-color="#d9d9ff"/><stop offset="0.893" stop-color="#f9f9ff"/><stop offset="0.903" stop-color="#fff1f1"/><stop offset="0.959" stop-color="#ff8181"/><stop offset="0.995" stop-color="#ff5d5d"/><stop offset="1" stop-color="#ff5d5d"/></linearGradient><linearGradient id="fd143"><stop offset="0" stop-color="#ff0d0d"/><stop offset="0.23" stop-color="#fe0000"/><stop offset="0.332" stop-color="#ff0505"/><stop offset="0.403" stop-color="#ff1919"/><stop offset="0.474" stop-color="#ff1d1d"/><stop offset="0.515" stop-color="#ff0505"/><stop offset="0.582" stop-color="#ff3131"/><stop offset="0.765" stop-color="#ffb1b1"/><stop offset="0.827" stop-color="#ffd9d9"/><stop offset="0.842" stop-color="#fff9f9"/><stop offset="0.847" stop-color="#f9f9ff"/><stop offset="0.857" stop-color="#e1e1ff"/><stop offset="0.867" stop-color="#e1e1ff"/><stop offset="0.888" stop-color="#fffdfd"/><stop offset="0.939" stop-color="#ffa9a9"/><stop offset="0.959" stop-color="#ff8181"/><stop offset="0.995" stop-color="#ff5d5d"/><stop offset="1" stop-color="#ff5d5d"/></linearGradient><linearGradient id="fd144"><stop offset="0" stop-color="#ff1111"/><stop offset="0.219" stop-color="#ff0505"/><stop offset="0.337" stop-color="#ff0909"/><stop offset="0.393" stop-color="#ff1919"/><stop offset="0.469" stop-color="#ff2525"/><stop offset="0.526" stop-color="#ff0505"/><stop offset="0.607" stop-color="#ff3d3d"/><stop offset="0.811" stop-color="#ffc1c1"/><stop offset="0.837" stop-color="#ffe1e1"/><stop offset="0.847" stop-color="#fff9f9"/><stop offset="0.867" stop-color="#ededff"/><stop offset="0.883" stop-color="#fff9f9"/><stop offset="0.939" stop-color="#ffa9a9"/><stop offset="0.974" stop-color="#ff7171"/><stop offset="1" stop-color="#ff5d5d"/></linearGradient><linearGradient id="fd145"><stop offset="0" stop-color="#ff1515"/><stop offset="0.255" stop-color="#ff0909"/><stop offset="0.332" stop-color="#ff0d0d"/><stop offset="0.398" stop-color="#ff1d1d"/><stop offset="0.474" stop-color="#ff2929"/><stop offset="0.531" stop-color="#ff0505"/><stop offset="0.592" stop-color="#ff2929"/><stop offset="0.786" stop-color="#ffa9a9"/><stop offset="0.837" stop-color="#ffe1e1"/><stop offset="0.852" stop-color="#fffdfd"/><stop offset="0.862" stop-color="#f5f5ff"/><stop offset="0.872" stop-color="#fdfdff"/><stop offset="0.903" stop-color="#ffd5d5"/><stop offset="0.929" stop-color="#ffb9b9"/><stop offset="0.974" stop-color="#ff7171"/><stop offset="1" stop-color="#ff5d5d"/></linearGradient><linearGradient id="fd146"><stop offset="0" stop-color="#ff1d1d"/><stop offset="0.245" stop-color="#ff0d0d"/><stop offset="0.327" stop-color="#ff1111"/><stop offset="0.393" stop-color="#ff1d1d"/><stop offset="0.49" stop-color="#ff2929"/><stop offset="0.541" stop-color="#ff0505"/><stop offset="0.597" stop-color="#ff2121"/><stop offset="0.755" stop-color="#ff8989"/><stop offset="0.847" stop-color="#ffeded"/><stop offset="0.857" stop-color="#fffdfd"/><stop offset="0.878" stop-color="#ffeded"/><stop offset="0.903" stop-color="#ffcdcd"/><stop offset="0.929" stop-color="#ffb9b9"/><stop offset="0.969" stop-color="#ff7979"/><stop offset="1" stop-color="#ff6161"/></linearGradient><linearGradient id="fd147"><stop offset="0" stop-color="#ff2121"/><stop offset="0.245" stop-color="#ff1515"/><stop offset="0.347" stop-color="#ff1919"/><stop offset="0.495" stop-color="#ff2d2d"/><stop offset="0.561" stop-color="#ff0505"/><stop offset="0.602" stop-color="#ff1919"/><stop offset="0.714" stop-color="#ff6565"/><stop offset="0.832" stop-color="#ffdddd"/><stop offset="0.862" stop-color="#fff5f5"/><stop offset="0.893" stop-color="#ffd1d1"/><stop offset="0.929" stop-color="#ffbdbd"/><stop offset="0.974" stop-color="#ff7575"/><stop offset="1" stop-color="#ff6161"/></linearGradient><linearGradient id="fd148"><stop offset="0" stop-color="#ff2929"/><stop offset="0.235" stop-color="#ff1d1d"/><stop offset="0.383" stop-color="#ff1d1d"/><stop offset="0.5" stop-color="#ff2d2d"/><stop offset="0.541" stop-color="#ff1919"/><stop offset="0.566" stop-color="#ff0101"/><stop offset="0.597" stop-color="#ff0909"/><stop offset="0.694" stop-color="#ff4d4d"/><stop offset="0.796" stop-color="#ffb5b5"/><stop offset="0.857" stop-color="#ffeded"/><stop offset="0.872" stop-color="#ffe1e1"/><stop offset="0.898" stop-color="#ffcdcd"/><stop offset="0.923" stop-color="#ffc1c1"/><stop offset="0.974" stop-color="#ff7575"/><stop offset="1" stop-color="#ff6161"/></linearGradient><linearGradient id="fd149"><stop offset="0" stop-color="#ff3535"/><stop offset="0.214" stop-color="#ff2525"/><stop offset="0.362" stop-color="#ff1919"/><stop offset="0.495" stop-color="#ff2525"/><stop offset="0.556" stop-color="#ff0909"/><stop offset="0.577" stop-color="#fc0000"/><stop offset="0.607" stop-color="#ff0505"/><stop offset="0.679" stop-color="#ff3d3d"/><stop offset="0.765" stop-color="#ff8181"/><stop offset="0.806" stop-color="#ff9595"/><stop offset="0.857" stop-color="#ffe1e1"/><stop offset="0.872" stop-color="#ffdddd"/><stop offset="0.893" stop-color="#ffcdcd"/><stop offset="0.918" stop-color="#ffc1c1"/><stop offset="0.98" stop-color="#ff7171"/><stop offset="1" stop-color="#ff6161"/></linearGradient><linearGradient id="fd150"><stop offset="0" stop-color="#ff4141"/><stop offset="0.0663" stop-color="#ff3d3d"/><stop offset="0.189" stop-color="#ff2d2d"/><stop offset="0.357" stop-color="#ff1d1d"/><stop offset="0.495" stop-color="#ff1919"/><stop offset="0.566" stop-color="#fc0000"/><stop offset="0.612" stop-color="#fc0000"/><stop offset="0.704" stop-color="#ff2d2d"/><stop offset="0.77" stop-color="#ff4141"/><stop offset="0.796" stop-color="#ff6565"/><stop offset="0.852" stop-color="#ffd5d5"/><stop offset="0.867" stop-color="#ffdddd"/><stop offset="0.929" stop-color="#ffadad"/><stop offset="0.99" stop-color="#ff6969"/><stop offset="1" stop-color="#ff6161"/></linearGradient><linearGradient id="fd151"><stop offset="0" stop-color="#ff5151"/><stop offset="0.0714" stop-color="#ff4949"/><stop offset="0.23" stop-color="#ff2d2d"/><stop offset="0.321" stop-color="#ff2121"/><stop offset="0.423" stop-color="#ff0909"/><stop offset="0.536" stop-color="#f80000"/><stop offset="0.617" stop-color="#e80000"/><stop offset="0.735" stop-color="#f60000"/><stop offset="0.755" stop-color="#ff0505"/><stop offset="0.786" stop-color="#ff4141"/><stop offset="0.847" stop-color="#ffc9c9"/><stop offset="0.857" stop-color="#ffd9d9"/><stop offset="0.883" stop-color="#ffd1d1"/><stop offset="0.995" stop-color="#ff6565"/><stop offset="1" stop-color="#ff6161"/></linearGradient><linearGradient id="fd152"><stop offset="0" stop-color="#ff6161"/><stop offset="0.0816" stop-color="#ff5151"/><stop offset="0.255" stop-color="#ff2d2d"/><stop offset="0.316" stop-color="#ff2121"/><stop offset="0.362" stop-color="#ff0101"/><stop offset="0.566" stop-color="#da0000"/><stop offset="0.633" stop-color="#c30000"/><stop offset="0.699" stop-color="#ca0000"/><stop offset="0.745" stop-color="#f00000"/><stop offset="0.76" stop-color="#ff0505"/><stop offset="0.847" stop-color="#ffd5d5"/><stop offset="0.857" stop-color="#ffdddd"/><stop offset="0.949" stop-color="#ff9191"/><stop offset="1" stop-color="#ff6161"/></linearGradient><linearGradient id="fd153"><stop offset="0" stop-color="#ff7171"/><stop offset="0.0867" stop-color="#ff5959"/><stop offset="0.311" stop-color="#ff2525"/><stop offset="0.357" stop-color="#fc0000"/><stop offset="0.485" stop-color="#da0000"/><stop offset="0.571" stop-color="#c30000"/><stop offset="0.643" stop-color="#aa0000"/><stop offset="0.679" stop-color="#ae0000"/><stop offset="0.755" stop-color="#ff0505"/><stop offset="0.837" stop-color="#ffcdcd"/><stop offset="0.852" stop-color="#ffdddd"/><stop offset="1" stop-color="#ff6161"/></linearGradient><linearGradient id="fd154"><stop offset="0" stop-color="#ff7d7d"/><stop offset="0.173" stop-color="#ff4949"/><stop offset="0.311" stop-color="#ff2929"/><stop offset="0.342" stop-color="#ff0909"/><stop offset="0.357" stop-color="#fa0000"/><stop offset="0.439" stop-color="#d60000"/><stop offset="0.556" stop-color="#c20000"/><stop offset="0.643" stop-color="#b30000"/><stop offset="0.673" stop-color="#ba0000"/><stop offset="0.735" stop-color="#fe0000"/><stop offset="0.77" stop-color="#ff4d4d"/><stop offset="0.811" stop-color="#ffa1a1"/><stop offset="0.842" stop-color="#ffc9c9"/><stop offset="0.872" stop-color="#ffc9c9"/><stop offset="0.964" stop-color="#ff8181"/><stop offset="1" stop-color="#ff6161"/></linearGradient><linearGradient id="fd155"><stop offset="0" stop-color="#ff8989"/><stop offset="0.117" stop-color="#ff5d5d"/><stop offset="0.316" stop-color="#ff2d2d"/><stop offset="0.352" stop-color="#fe0000"/><stop offset="0.434" stop-color="#d00000"/><stop offset="0.607" stop-color="#c60000"/><stop offset="0.679" stop-color="#d60000"/><stop offset="0.724" stop-color="#ff0101"/><stop offset="0.816" stop-color="#ffa9a9"/><stop offset="0.837" stop-color="#ffc1c1"/><stop offset="0.852" stop-color="#ffdddd"/><stop offset="1" stop-color="#ff6161"/></linearGradient><linearGradient id="fd156"><stop offset="0" stop-color="#ff8d8d"/><stop offset="0.0612" stop-color="#ff7575"/><stop offset="0.122" stop-color="#ff5d5d"/><stop offset="0.316" stop-color="#ff3131"/><stop offset="0.357" stop-color="#fe0000"/><stop offset="0.444" stop-color="#d00000"/><stop offset="0.602" stop-color="#ce0000"/><stop offset="0.689" stop-color="#de0000"/><stop offset="0.75" stop-color="#f00000"/><stop offset="0.776" stop-color="#ff0505"/><stop offset="0.791" stop-color="#ff1d1d"/><stop offset="0.801" stop-color="#ff3d3d"/><stop offset="0.821" stop-color="#ffb9b9"/><stop offset="0.832" stop-color="#ffe1e1"/><stop offset="0.842" stop-color="#fff9f9"/><stop offset="0.857" stop-color="#ffeded"/><stop offset="0.883" stop-color="#ffc5c5"/><stop offset="1" stop-color="#ff6161"/></linearGradient><linearGradient id="fd157"><stop offset="0" stop-color="#ff9191"/><stop offset="0.0816" stop-color="#ff6d6d"/><stop offset="0.173" stop-color="#ff5151"/><stop offset="0.306" stop-color="#ff3939"/><stop offset="0.367" stop-color="#ff0101"/><stop offset="0.444" stop-color="#d60000"/><stop offset="0.566" stop-color="#ce0000"/><stop offset="0.633" stop-color="#de0000"/><stop offset="0.679" stop-color="#e60000"/><stop offset="0.74" stop-color="#d60000"/><stop offset="0.786" stop-color="#ea0000"/><stop offset="0.796" stop-color="#ff0505"/><stop offset="0.801" stop-color="#ff2929"/><stop offset="0.816" stop-color="#ffb5b5"/><stop offset="0.821" stop-color="#ffdddd"/><stop offset="0.827" stop-color="#fff9f9"/><stop offset="0.837" stop-color="#f1f1ff"/><stop offset="0.842" stop-color="#f1f1ff"/><stop offset="0.847" stop-color="#fdfdff"/><stop offset="0.872" stop-color="#ffcdcd"/><stop offset="1" stop-color="#ff6161"/></linearGradient><linearGradient id="fd158"><stop offset="0" stop-color="#ff9191"/><stop offset="0.0561" stop-color="#ff7d7d"/><stop offset="0.128" stop-color="#ff5d5d"/><stop offset="0.245" stop-color="#ff4949"/><stop offset="0.311" stop-color="#ff3939"/><stop offset="0.383" stop-color="#ff0505"/><stop offset="0.444" stop-color="#dc0000"/><stop offset="0.566" stop-color="#d20000"/><stop offset="0.633" stop-color="#e30000"/><stop offset="0.673" stop-color="#f00000"/><stop offset="0.709" stop-color="#ee0000"/><stop offset="0.735" stop-color="#e30000"/><stop offset="0.755" stop-color="#fe0000"/><stop offset="0.765" stop-color="#ff2121"/><stop offset="0.791" stop-color="#ff4545"/><stop offset="0.796" stop-color="#ff5555"/><stop offset="0.821" stop-color="#ffeded"/><stop offset="0.827" stop-color="#fffdfd"/><stop offset="0.842" stop-color="#fff9f9"/><stop offset="0.867" stop-color="#ffc9c9"/><stop offset="1" stop-color="#ff6161"/></linearGradient><linearGradient id="fd159"><stop offset="0" stop-color="#ff9595"/><stop offset="0.0612" stop-color="#ff7d7d"/><stop offset="0.0867" stop-color="#ff6d6d"/><stop offset="0.128" stop-color="#ff5d5d"/><stop offset="0.189" stop-color="#ff5151"/><stop offset="0.327" stop-color="#ff3939"/><stop offset="0.383" stop-color="#ff1515"/><stop offset="0.398" stop-color="#fe0000"/><stop offset="0.429" stop-color="#e60000"/><stop offset="0.551" stop-color="#d20000"/><stop offset="0.633" stop-color="#e60000"/><stop offset="0.673" stop-color="#ff0101"/><stop offset="0.694" stop-color="#ff1515"/><stop offset="0.714" stop-color="#fc0000"/><stop offset="0.735" stop-color="#fc0000"/><stop offset="0.74" stop-color="#ff0909"/><stop offset="0.745" stop-color="#ff2525"/><stop offset="0.76" stop-color="#ffa5a5"/><stop offset="0.765" stop-color="#ffc5c5"/><stop offset="0.77" stop-color="#ffd9d9"/><stop offset="0.781" stop-color="#ffe1e1"/><stop offset="0.801" stop-color="#ffd5d5"/><stop offset="0.821" stop-color="#fff1f1"/><stop offset="0.837" stop-color="#ffe5e5"/><stop offset="0.862" stop-color="#ffc9c9"/><stop offset="0.888" stop-color="#ffbdbd"/><stop offset="0.918" stop-color="#ff9999"/><stop offset="0.969" stop-color="#ff7d7d"/><stop offset="0.995" stop-color="#ff6161"/><stop offset="1" stop-color="#ff6161"/></linearGradient><linearGradient id="fd160"><stop offset="0" stop-color="#ff9999"/><stop offset="0.0561" stop-color="#ff8585"/><stop offset="0.0867" stop-color="#ff6d6d"/><stop offset="0.122" stop-color="#ff6161"/><stop offset="0.153" stop-color="#ff5151"/><stop offset="0.235" stop-color="#ff4d4d"/><stop offset="0.265" stop-color="#ff4141"/><stop offset="0.337" stop-color="#ff3939"/><stop offset="0.367" stop-color="#ff2525"/><stop offset="0.388" stop-color="#ff1919"/><stop offset="0.398" stop-color="#ff0101"/><stop offset="0.418" stop-color="#e80000"/><stop offset="0.485" stop-color="#de0000"/><stop offset="0.52" stop-color="#d20000"/><stop offset="0.577" stop-color="#d80000"/><stop offset="0.633" stop-color="#e60000"/><stop offset="0.663" stop-color="#ff0101"/><stop offset="0.689" stop-color="#ff2525"/><stop offset="0.694" stop-color="#ff2929"/><stop offset="0.719" stop-color="#ff0101"/><stop offset="0.73" stop-color="#ff0101"/><stop offset="0.735" stop-color="#ff0909"/><stop offset="0.74" stop-color="#ff1d1d"/><stop offset="0.745" stop-color="#ff4141"/><stop offset="0.76" stop-color="#ffe9e9"/><stop offset="0.765" stop-color="#ededff"/><stop offset="0.77" stop-color="#d9d9ff"/><stop offset="0.776" stop-color="#d1d1ff"/><stop offset="0.786" stop-color="#d9d9ff"/><stop offset="0.806" stop-color="#fffdfd"/><stop offset="0.827" stop-color="#ffeded"/><stop offset="0.847" stop-color="#ffcdcd"/><stop offset="0.888" stop-color="#ffc1c1"/><stop offset="0.913" stop-color="#ff9191"/><stop offset="0.939" stop-color="#ff8989"/><stop offset="0.969" stop-color="#ff7d7d"/><stop offset="0.995" stop-color="#ff6161"/><stop offset="1" stop-color="#ff6161"/></linearGradient></defs><g filter="url(#vb)"><rect x="-12" y="-12" width="392" height="10.5" fill="url(#fd121)"/><rect x="-12" y="-2" width="392" height="10.5" fill="url(#fd122)"/><rect x="-12" y="8" width="392" height="10.5" fill="url(#fd123)"/><rect x="-12" y="18" width="392" height="10.5" fill="url(#fd124)"/><rect x="-12" y="28" width="392" height="10.5" fill="url(#fd125)"/><rect x="-12" y="38" width="392" height="10.5" fill="url(#fd126)"/><rect x="-12" y="48" width="392" height="10.5" fill="url(#fd127)"/><rect x="-12" y="58" width="392" height="10.5" fill="url(#fd128)"/><rect x="-12" y="68" width="392" height="10.5" fill="url(#fd129)"/><rect x="-12" y="78" width="392" height="10.5" fill="url(#fd130)"/><rect x="-12" y="88" width="392" height="10.5" fill="url(#fd131)"/><rect x="-12" y="98" width="392" height="10.5" fill="url(#fd132)"/><rect x="-12" y="108" width="392" height="10.5" fill="url(#fd133)"/><rect x="-12" y="118" width="392" height="10.5" fill="url(#fd134)"/><rect x="-12" y="128" width="392" height="10.5" fill="url(#fd135)"/><rect x="-12" y="138" width="392" height="10.5" fill="url(#fd136)"/><rect x="-12" y="148" width="392" height="10.5" fill="url(#fd137)"/><rect x="-12" y="158" width="392" height="10.5" fill="url(#fd138)"/><rect x="-12" y="168" width="392" height="10.5" fill="url(#fd139)"/><rect x="-12" y="178" width="392" height="10.5" fill="url(#fd140)"/><rect x="-12" y="188" width="392" height="10.5" fill="url(#fd141)"/><rect x="-12" y="198" width="392" height="10.5" fill="url(#fd142)"/><rect x="-12" y="208" width="392" height="10.5" fill="url(#fd143)"/><rect x="-12" y="218" width="392" height="10.5" fill="url(#fd144)"/><rect x="-12" y="228" width="392" height="10.5" fill="url(#fd145)"/><rect x="-12" y="238" width="392" height="10.5" fill="url(#fd146)"/><rect x="-12" y="248" width="392" height="10.5" fill="url(#fd147)"/><rect x="-12" y="258" width="392" height="10.5" fill="url(#fd148)"/><rect x="-12" y="268" width="392" height="10.5" fill="url(#fd149)"/><rect x="-12" y="278" width="392" height="10.5" fill="url(#fd150)"/><rect x="-12" y="288" width="392" height="10.5" fill="url(#fd151)"/><rect x="-12" y="298" width="392" height="10.5" fill="url(#fd152)"/><rect x="-12" y="308" width="392" height="10.5" fill="url(#fd153)"/><rect x="-12" y="318" width="392" height="10.5" fill="url(#fd154)"/><rect x="-12" y="328" width="392" height="10.5" fill="url(#fd155)"/><rect x="-12" y="338" width="392" height="10.5" fill="url(#fd156)"/><rect x="-12" y="348" width="392" height="10.5" fill="url(#fd157)"/><rect x="-12" y="358" width="392" height="10.5" fill="url(#fd158)"/><rect x="-12" y="368" width="392" height="10.5" fill="url(#fd159)"/><rect x="-12" y="378" width="392" height="2.5" fill="url(#fd160)"/></g><g filter="url(#b1)"><path d="M264.3 345.2 268.5 344.7 271.7 343.7 275.9 342.1 280.2 342.1 285.5 341 290.7 340 296 338.9 300.2 336.8 304.5 333.6 307.6 330.4 310.8 334.7 314 333.6 311.9 337.8 306.6 344.2 300.2 350.5 292.9 356.3 285.5 361.6 277.5 365.9 271.7 359 267.5 351.6Z" fill="#a80000"/></g><use href="#fl_land"/><use href="#fl_over"/><text x="224.6" y="33.4" font-size="20.4" text-anchor="end">Jacksonville</text>
</g>
<rect x="0" y="0" width="36.8" height="37.2" fill="#fff" stroke="#000" stroke-width="1.1"/>
<text x="4.0" y="25.8" font-size="20" font-weight="bold">(d)</text>
<rect x="0" y="0" width="366.1" height="366.1" fill="none" stroke="#000" stroke-width="1.1"/>
</g>
<g transform="translate(123.5,469.5)"><g clip-path="url(#pc)">
<defs><linearGradient id="he161"><stop offset="0" stop-color="#00dcfe"/><stop offset="0.286" stop-color="#00d8ff"/><stop offset="0.5" stop-color="#009cff"/><stop offset="1" stop-color="#009cff"/></linearGradient><linearGradient id="he162"><stop offset="0" stop-color="#00dcfe"/><stop offset="0.306" stop-color="#00d8ff"/><stop offset="0.49" stop-color="#009cff"/><stop offset="1" stop-color="#009cff"/></linearGradient><linearGradient id="he163"><stop offset="0" stop-color="#00dcfe"/><stop offset="0.321" stop-color="#00d8ff"/><stop offset="0.495" stop-color="#009cff"/><stop offset="1" stop-color="#009cff"/></linearGradient><linearGradient id="he164"><stop offset="0" stop-color="#00dcfe"/><stop offset="0.342" stop-color="#00d8ff"/><stop offset="0.51" stop-color="#009cff"/><stop offset="1" stop-color="#009cff"/></linearGradient><linearGradient id="he165"><stop offset="0" stop-color="#00dcfe"/><stop offset="0.296" stop-color="#00e0fb"/><stop offset="0.306" stop-color="#06ecf1"/><stop offset="0.311" stop-color="#13fce4"/><stop offset="0.327" stop-color="#33ffc4"/><stop offset="0.367" stop-color="#30ffc7"/><stop offset="0.454" stop-color="#13fce4"/><stop offset="0.474" stop-color="#00dcfe"/><stop offset="0.5" stop-color="#00a8ff"/><stop offset="0.52" stop-color="#009cff"/><stop offset="1" stop-color="#009cff"/></linearGradient><linearGradient id="he166"><stop offset="0" stop-color="#00dcfe"/><stop offset="0.27" stop-color="#00e0fb"/><stop offset="0.291" stop-color="#09f0ee"/><stop offset="0.301" stop-color="#26ffd1"/><stop offset="0.311" stop-color="#63ff94"/><stop offset="0.321" stop-color="#a7ff50"/><stop offset="0.332" stop-color="#c7ff30"/><stop offset="0.413" stop-color="#b1ff46"/><stop offset="0.439" stop-color="#90ff66"/><stop offset="0.464" stop-color="#50ffa7"/><stop offset="0.485" stop-color="#0ff8e7"/><stop offset="0.49" stop-color="#00e4f8"/><stop offset="0.505" stop-color="#00b0ff"/><stop offset="0.515" stop-color="#00a0ff"/><stop offset="1" stop-color="#009cff"/></linearGradient><linearGradient id="he167"><stop offset="0" stop-color="#00d8ff"/><stop offset="0.23" stop-color="#00e0fb"/><stop offset="0.24" stop-color="#09f0ee"/><stop offset="0.25" stop-color="#1fffd7"/><stop offset="0.291" stop-color="#9dff5a"/><stop offset="0.306" stop-color="#deff19"/><stop offset="0.311" stop-color="#fbf100"/><stop offset="0.327" stop-color="#ff8d00"/><stop offset="0.332" stop-color="#ff7a00"/><stop offset="0.342" stop-color="#ff7300"/><stop offset="0.388" stop-color="#ff9800"/><stop offset="0.408" stop-color="#ffc400"/><stop offset="0.423" stop-color="#f8f500"/><stop offset="0.429" stop-color="#e7ff0f"/><stop offset="0.485" stop-color="#1cffdb"/><stop offset="0.49" stop-color="#09f0ee"/><stop offset="0.495" stop-color="#00dcfe"/><stop offset="0.51" stop-color="#00b0ff"/><stop offset="0.52" stop-color="#00a0ff"/><stop offset="0.811" stop-color="#009cff"/><stop offset="1" stop-color="#009cff"/></linearGradient><linearGradient id="he168"><stop offset="0" stop-color="#00d8ff"/><stop offset="0.214" stop-color="#00dcfe"/><stop offset="0.224" stop-color="#06ecf1"/><stop offset="0.23" stop-color="#13fce4"/><stop offset="0.24" stop-color="#39ffbe"/><stop offset="0.27" stop-color="#e1ff16"/><stop offset="0.276" stop-color="#fbf100"/><stop offset="0.301" stop-color="#ff5200"/><stop offset="0.311" stop-color="#ff1a00"/><stop offset="0.316" stop-color="#ed0400"/><stop offset="0.327" stop-color="#c80000"/><stop offset="0.337" stop-color="#bb0000"/><stop offset="0.357" stop-color="#ed0400"/><stop offset="0.367" stop-color="#ff1e00"/><stop offset="0.388" stop-color="#ff6800"/><stop offset="0.413" stop-color="#ffdb00"/><stop offset="0.418" stop-color="#f8f500"/><stop offset="0.423" stop-color="#e1ff16"/><stop offset="0.464" stop-color="#39ffbe"/><stop offset="0.474" stop-color="#19ffde"/><stop offset="0.485" stop-color="#00e4f8"/><stop offset="0.5" stop-color="#00c0ff"/><stop offset="0.526" stop-color="#00a0ff"/><stop offset="0.76" stop-color="#0098ff"/><stop offset="1" stop-color="#009cff"/></linearGradient><linearGradient id="he169"><stop offset="0" stop-color="#00d8ff"/><stop offset="0.204" stop-color="#00dcfe"/><stop offset="0.214" stop-color="#09f0ee"/><stop offset="0.219" stop-color="#16ffe1"/><stop offset="0.245" stop-color="#8aff6d"/><stop offset="0.265" stop-color="#e7ff0f"/><stop offset="0.27" stop-color="#fbf100"/><stop offset="0.291" stop-color="#ff9800"/><stop offset="0.316" stop-color="#ff3f00"/><stop offset="0.332" stop-color="#ff2500"/><stop offset="0.347" stop-color="#ff4700"/><stop offset="0.378" stop-color="#ff9800"/><stop offset="0.393" stop-color="#ffd300"/><stop offset="0.398" stop-color="#feed00"/><stop offset="0.403" stop-color="#e7ff0f"/><stop offset="0.439" stop-color="#56ffa0"/><stop offset="0.459" stop-color="#23ffd4"/><stop offset="0.474" stop-color="#09f0ee"/><stop offset="0.495" stop-color="#00d0ff"/><stop offset="0.531" stop-color="#00a4ff"/><stop offset="0.571" stop-color="#009cff"/><stop offset="1" stop-color="#009cff"/></linearGradient><linearGradient id="he170"><stop offset="0" stop-color="#00d8ff"/><stop offset="0.199" stop-color="#00dcfe"/><stop offset="0.209" stop-color="#02e8f4"/><stop offset="0.219" stop-color="#19ffde"/><stop offset="0.301" stop-color="#e4ff13"/><stop offset="0.306" stop-color="#eeff09"/><stop offset="0.316" stop-color="#ffe200"/><stop offset="0.332" stop-color="#ffd000"/><stop offset="0.347" stop-color="#ffde00"/><stop offset="0.357" stop-color="#f8f500"/><stop offset="0.362" stop-color="#eeff09"/><stop offset="0.398" stop-color="#9dff5a"/><stop offset="0.423" stop-color="#56ffa0"/><stop offset="0.454" stop-color="#26ffd1"/><stop offset="0.474" stop-color="#0ff8e7"/><stop offset="0.49" stop-color="#00e0fb"/><stop offset="0.531" stop-color="#00acff"/><stop offset="0.571" stop-color="#00a0ff"/><stop offset="1" stop-color="#009cff"/></linearGradient><linearGradient id="he171"><stop offset="0" stop-color="#00d8ff"/><stop offset="0.209" stop-color="#00dcfe"/><stop offset="0.235" stop-color="#0cf4eb"/><stop offset="0.25" stop-color="#1fffd7"/><stop offset="0.296" stop-color="#70ff87"/><stop offset="0.327" stop-color="#aaff4d"/><stop offset="0.347" stop-color="#a4ff53"/><stop offset="0.393" stop-color="#63ff94"/><stop offset="0.418" stop-color="#40ffb7"/><stop offset="0.464" stop-color="#16ffe1"/><stop offset="0.49" stop-color="#00e0fb"/><stop offset="0.546" stop-color="#00acff"/><stop offset="0.602" stop-color="#00a4ff"/><stop offset="0.867" stop-color="#009cff"/><stop offset="1" stop-color="#009cff"/></linearGradient><linearGradient id="he172"><stop offset="0" stop-color="#00d4ff"/><stop offset="0.209" stop-color="#00d8ff"/><stop offset="0.25" stop-color="#0cf4eb"/><stop offset="0.276" stop-color="#1fffd7"/><stop offset="0.321" stop-color="#5dff9a"/><stop offset="0.342" stop-color="#60ff97"/><stop offset="0.393" stop-color="#36ffc1"/><stop offset="0.439" stop-color="#13fce4"/><stop offset="0.48" stop-color="#00dcfe"/><stop offset="0.546" stop-color="#00b0ff"/><stop offset="0.668" stop-color="#00a0ff"/><stop offset="0.786" stop-color="#009cff"/><stop offset="1" stop-color="#009cff"/></linearGradient><linearGradient id="he173"><stop offset="0" stop-color="#00d4ff"/><stop offset="0.209" stop-color="#00d8ff"/><stop offset="0.245" stop-color="#09f0ee"/><stop offset="0.281" stop-color="#1cffdb"/><stop offset="0.327" stop-color="#36ffc1"/><stop offset="0.388" stop-color="#13fce4"/><stop offset="0.408" stop-color="#00e4f8"/><stop offset="0.459" stop-color="#00d0ff"/><stop offset="0.592" stop-color="#00a8ff"/><stop offset="0.673" stop-color="#009cff"/><stop offset="1" stop-color="#009cff"/></linearGradient><linearGradient id="he174"><stop offset="0" stop-color="#00d0ff"/><stop offset="0.204" stop-color="#00d4ff"/><stop offset="0.25" stop-color="#09f0ee"/><stop offset="0.286" stop-color="#19ffde"/><stop offset="0.337" stop-color="#13fce4"/><stop offset="0.383" stop-color="#00dcfe"/><stop offset="0.423" stop-color="#00bcff"/><stop offset="0.485" stop-color="#00c0ff"/><stop offset="0.515" stop-color="#00ccff"/><stop offset="0.612" stop-color="#00a4ff"/><stop offset="0.694" stop-color="#009cff"/><stop offset="1" stop-color="#009cff"/></linearGradient><linearGradient id="he175"><stop offset="0" stop-color="#00d0ff"/><stop offset="0.209" stop-color="#00d4ff"/><stop offset="0.25" stop-color="#00e4f8"/><stop offset="0.327" stop-color="#00dcfe"/><stop offset="0.367" stop-color="#00c8ff"/><stop offset="0.413" stop-color="#00acff"/><stop offset="0.449" stop-color="#00acff"/><stop offset="0.48" stop-color="#00bcff"/><stop offset="0.51" stop-color="#00d4ff"/><stop offset="0.541" stop-color="#00ccff"/><stop offset="0.597" stop-color="#00acff"/><stop offset="0.653" stop-color="#009cff"/><stop offset="1" stop-color="#009cff"/></linearGradient><linearGradient id="he176"><stop offset="0" stop-color="#00d0ff"/><stop offset="0.255" stop-color="#00ccff"/><stop offset="0.378" stop-color="#00b0ff"/><stop offset="0.418" stop-color="#009cff"/><stop offset="0.469" stop-color="#00acff"/><stop offset="0.52" stop-color="#00d0ff"/><stop offset="0.561" stop-color="#00bcff"/><stop offset="0.607" stop-color="#00a0ff"/><stop offset="0.73" stop-color="#0098ff"/><stop offset="1" stop-color="#009cff"/></linearGradient><linearGradient id="he177"><stop offset="0" stop-color="#00ccff"/><stop offset="0.24" stop-color="#00c8ff"/><stop offset="0.383" stop-color="#00a8ff"/><stop offset="0.423" stop-color="#0094ff"/><stop offset="0.474" stop-color="#009cff"/><stop offset="0.52" stop-color="#00b4ff"/><stop offset="0.571" stop-color="#00a8ff"/><stop offset="0.628" stop-color="#0098ff"/><stop offset="1" stop-color="#009cff"/></linearGradient><linearGradient id="he178"><stop offset="0" stop-color="#00ccff"/><stop offset="0.23" stop-color="#00c8ff"/><stop offset="0.393" stop-color="#00a4ff"/><stop offset="0.434" stop-color="#0094ff"/><stop offset="0.5" stop-color="#0098ff"/><stop offset="0.556" stop-color="#00a4ff"/><stop offset="0.617" stop-color="#0098ff"/><stop offset="1" stop-color="#009cff"/></linearGradient><linearGradient id="he179"><stop offset="0" stop-color="#00ccff"/><stop offset="0.224" stop-color="#00c8ff"/><stop offset="0.398" stop-color="#00a4ff"/><stop offset="0.439" stop-color="#0094ff"/><stop offset="0.561" stop-color="#009cff"/><stop offset="1" stop-color="#009cff"/></linearGradient><linearGradient id="he180"><stop offset="0" stop-color="#00c8ff"/><stop offset="0.235" stop-color="#00c4ff"/><stop offset="0.408" stop-color="#00a0ff"/><stop offset="0.464" stop-color="#0098ff"/><stop offset="1" stop-color="#009cff"/></linearGradient><linearGradient id="he181"><stop offset="0" stop-color="#00c8ff"/><stop offset="0.23" stop-color="#00c4ff"/><stop offset="0.434" stop-color="#00a0ff"/><stop offset="0.561" stop-color="#009cff"/><stop offset="1" stop-color="#009cff"/></linearGradient><linearGradient id="he182"><stop offset="0" stop-color="#00c4ff"/><stop offset="0.245" stop-color="#00c0ff"/><stop offset="0.418" stop-color="#00a4ff"/><stop offset="0.536" stop-color="#00a0ff"/><stop offset="0.745" stop-color="#0098ff"/><stop offset="1" stop-color="#009cff"/></linearGradient><linearGradient id="he183"><stop offset="0" stop-color="#00c4ff"/><stop offset="0.245" stop-color="#00c0ff"/><stop offset="0.398" stop-color="#00a8ff"/><stop offset="0.474" stop-color="#00a8ff"/><stop offset="0.571" stop-color="#009cff"/><stop offset="1" stop-color="#009cff"/></linearGradient><linearGradient id="he184"><stop offset="0" stop-color="#00c4ff"/><stop offset="0.24" stop-color="#00c0ff"/><stop offset="0.378" stop-color="#00b0ff"/><stop offset="0.454" stop-color="#00a8ff"/><stop offset="0.556" stop-color="#009cff"/><stop offset="1" stop-color="#009cff"/></linearGradient><linearGradient id="he185"><stop offset="0" stop-color="#00c4ff"/><stop offset="0.245" stop-color="#00c0ff"/><stop offset="0.413" stop-color="#00b0ff"/><stop offset="0.48" stop-color="#00a0ff"/><stop offset="1" stop-color="#009cff"/></linearGradient><linearGradient id="he186"><stop offset="0" stop-color="#00c0ff"/><stop offset="0.357" stop-color="#00bcff"/><stop offset="0.515" stop-color="#00a0ff"/><stop offset="1" stop-color="#009cff"/></linearGradient><linearGradient id="he187"><stop offset="0" stop-color="#00c0ff"/><stop offset="0.378" stop-color="#00bcff"/><stop offset="0.582" stop-color="#009cff"/><stop offset="1" stop-color="#009cff"/></linearGradient><linearGradient id="he188"><stop offset="0" stop-color="#00c0ff"/><stop offset="0.388" stop-color="#00bcff"/><stop offset="0.566" stop-color="#00a0ff"/><stop offset="1" stop-color="#009cff"/></linearGradient><linearGradient id="he189"><stop offset="0" stop-color="#00c0ff"/><stop offset="0.388" stop-color="#00bcff"/><stop offset="0.556" stop-color="#00a4ff"/><stop offset="0.791" stop-color="#009cff"/><stop offset="1" stop-color="#009cff"/></linearGradient><linearGradient id="he190"><stop offset="0" stop-color="#00c0ff"/><stop offset="0.388" stop-color="#00bcff"/><stop offset="0.536" stop-color="#00a8ff"/><stop offset="0.791" stop-color="#009cff"/><stop offset="1" stop-color="#009cff"/></linearGradient><linearGradient id="he191"><stop offset="0" stop-color="#00c0ff"/><stop offset="0.393" stop-color="#00bcff"/><stop offset="0.526" stop-color="#00acff"/><stop offset="0.816" stop-color="#009cff"/><stop offset="1" stop-color="#009cff"/></linearGradient><linearGradient id="he192"><stop offset="0" stop-color="#00c0ff"/><stop offset="0.393" stop-color="#00bcff"/><stop offset="0.566" stop-color="#00acff"/><stop offset="0.816" stop-color="#009cff"/><stop offset="1" stop-color="#009cff"/></linearGradient><linearGradient id="he193"><stop offset="0" stop-color="#00c0ff"/><stop offset="0.398" stop-color="#00bcff"/><stop offset="0.821" stop-color="#009cff"/><stop offset="1" stop-color="#00a0ff"/></linearGradient><linearGradient id="he194"><stop offset="0" stop-color="#00c0ff"/><stop offset="0.398" stop-color="#00bcff"/><stop offset="0.796" stop-color="#00a0ff"/><stop offset="1" stop-color="#00a0ff"/></linearGradient><linearGradient id="he195"><stop offset="0" stop-color="#00c0ff"/><stop offset="0.408" stop-color="#00bcff"/><stop offset="0.811" stop-color="#00a0ff"/><stop offset="1" stop-color="#00a0ff"/></linearGradient><linearGradient id="he196"><stop offset="0" stop-color="#00c0ff"/><stop offset="0.418" stop-color="#00bcff"/><stop offset="0.827" stop-color="#00a0ff"/><stop offset="1" stop-color="#00a4ff"/></linearGradient><linearGradient id="he197"><stop offset="0" stop-color="#00c0ff"/><stop offset="0.423" stop-color="#00bcff"/><stop offset="0.827" stop-color="#00a0ff"/><stop offset="1" stop-color="#00a4ff"/></linearGradient><linearGradient id="he198"><stop offset="0" stop-color="#00c0ff"/><stop offset="0.418" stop-color="#00bcff"/><stop offset="0.811" stop-color="#00a0ff"/><stop offset="1" stop-color="#00a0ff"/></linearGradient><linearGradient id="he199"><stop offset="0" stop-color="#00c0ff"/><stop offset="0.383" stop-color="#00bcff"/><stop offset="0.832" stop-color="#009cff"/><stop offset="1" stop-color="#00a0ff"/></linearGradient><linearGradient id="he200"><stop offset="0" stop-color="#00c0ff"/><stop offset="0.352" stop-color="#00bcff"/><stop offset="0.827" stop-color="#009cff"/><stop offset="1" stop-color="#00a0ff"/></linearGradient></defs><g filter="url(#vb)"><rect x="-12" y="-12" width="392" height="10.5" fill="url(#he161)"/><rect x="-12" y="-2" width="392" height="10.5" fill="url(#he162)"/><rect x="-12" y="8" width="392" height="10.5" fill="url(#he163)"/><rect x="-12" y="18" width="392" height="10.5" fill="url(#he164)"/><rect x="-12" y="28" width="392" height="10.5" fill="url(#he165)"/><rect x="-12" y="38" width="392" height="10.5" fill="url(#he166)"/><rect x="-12" y="48" width="392" height="10.5" fill="url(#he167)"/><rect x="-12" y="58" width="392" height="10.5" fill="url(#he168)"/><rect x="-12" y="68" width="392" height="10.5" fill="url(#he169)"/><rect x="-12" y="78" width="392" height="10.5" fill="url(#he170)"/><rect x="-12" y="88" width="392" height="10.5" fill="url(#he171)"/><rect x="-12" y="98" width="392" height="10.5" fill="url(#he172)"/><rect x="-12" y="108" width="392" height="10.5" fill="url(#he173)"/><rect x="-12" y="118" width="392" height="10.5" fill="url(#he174)"/><rect x="-12" y="128" width="392" height="10.5" fill="url(#he175)"/><rect x="-12" y="138" width="392" height="10.5" fill="url(#he176)"/><rect x="-12" y="148" width="392" height="10.5" fill="url(#he177)"/><rect x="-12" y="158" width="392" height="10.5" fill="url(#he178)"/><rect x="-12" y="168" width="392" height="10.5" fill="url(#he179)"/><rect x="-12" y="178" width="392" height="10.5" fill="url(#he180)"/><rect x="-12" y="188" width="392" height="10.5" fill="url(#he181)"/><rect x="-12" y="198" width="392" height="10.5" fill="url(#he182)"/><rect x="-12" y="208" width="392" height="10.5" fill="url(#he183)"/><rect x="-12" y="218" width="392" height="10.5" fill="url(#he184)"/><rect x="-12" y="228" width="392" height="10.5" fill="url(#he185)"/><rect x="-12" y="238" width="392" height="10.5" fill="url(#he186)"/><rect x="-12" y="248" width="392" height="10.5" fill="url(#he187)"/><rect x="-12" y="258" width="392" height="10.5" fill="url(#he188)"/><rect x="-12" y="268" width="392" height="10.5" fill="url(#he189)"/><rect x="-12" y="278" width="392" height="10.5" fill="url(#he190)"/><rect x="-12" y="288" width="392" height="10.5" fill="url(#he191)"/><rect x="-12" y="298" width="392" height="10.5" fill="url(#he192)"/><rect x="-12" y="308" width="392" height="10.5" fill="url(#he193)"/><rect x="-12" y="318" width="392" height="10.5" fill="url(#he194)"/><rect x="-12" y="328" width="392" height="10.5" fill="url(#he195)"/><rect x="-12" y="338" width="392" height="10.5" fill="url(#he196)"/><rect x="-12" y="348" width="392" height="10.5" fill="url(#he197)"/><rect x="-12" y="358" width="392" height="10.5" fill="url(#he198)"/><rect x="-12" y="368" width="392" height="10.5" fill="url(#he199)"/><rect x="-12" y="378" width="392" height="2.5" fill="url(#he200)"/></g><use href="#hy_land"/><use href="#hy_over"/><text x="95" y="75.4" font-size="20.3" text-anchor="end">Tacloban</text>
</g>
<rect x="0" y="0" width="36.8" height="37.2" fill="#fff" stroke="#000" stroke-width="1.1"/>
<text x="4.0" y="25.8" font-size="20" font-weight="bold">(e)</text>
<rect x="0" y="0" width="366.1" height="366.1" fill="none" stroke="#000" stroke-width="1.1"/>
</g>
<g transform="translate(606.6,469.5)"><g clip-path="url(#pc)">
<defs><linearGradient id="hf201"><stop offset="0" stop-color="#ffe1e1"/><stop offset="0.26" stop-color="#ffd9d9"/><stop offset="0.418" stop-color="#ffd9d9"/><stop offset="0.495" stop-color="#ffe5e5"/><stop offset="1" stop-color="#fffdfd"/></linearGradient><linearGradient id="hf202"><stop offset="0" stop-color="#ffe1e1"/><stop offset="0.255" stop-color="#ffd9d9"/><stop offset="0.296" stop-color="#ffcdcd"/><stop offset="0.408" stop-color="#ffd5d5"/><stop offset="0.49" stop-color="#ffe5e5"/><stop offset="1" stop-color="#fffdfd"/></linearGradient><linearGradient id="hf203"><stop offset="0" stop-color="#ffe1e1"/><stop offset="0.219" stop-color="#ffdddd"/><stop offset="0.265" stop-color="#ffd5d5"/><stop offset="0.306" stop-color="#ffc5c5"/><stop offset="0.439" stop-color="#ffdddd"/><stop offset="0.505" stop-color="#ffe5e5"/><stop offset="0.832" stop-color="#fff5f5"/><stop offset="1" stop-color="#fffdfd"/></linearGradient><linearGradient id="hf204"><stop offset="0" stop-color="#ffe1e1"/><stop offset="0.224" stop-color="#ffdddd"/><stop offset="0.27" stop-color="#ffd5d5"/><stop offset="0.306" stop-color="#ffc5c5"/><stop offset="0.485" stop-color="#ffe9e9"/><stop offset="0.617" stop-color="#ffe9e9"/><stop offset="0.776" stop-color="#fff5f5"/><stop offset="1" stop-color="#fffdfd"/></linearGradient><linearGradient id="hf205"><stop offset="0" stop-color="#ffe1e1"/><stop offset="0.265" stop-color="#ffd9d9"/><stop offset="0.316" stop-color="#ffc9c9"/><stop offset="0.505" stop-color="#ffe9e9"/><stop offset="0.612" stop-color="#ffe9e9"/><stop offset="0.75" stop-color="#fff5f5"/><stop offset="1" stop-color="#fffdfd"/></linearGradient><linearGradient id="hf206"><stop offset="0" stop-color="#ffe1e1"/><stop offset="0.255" stop-color="#ffdddd"/><stop offset="0.306" stop-color="#ffbdbd"/><stop offset="0.327" stop-color="#ffa5a5"/><stop offset="0.459" stop-color="#ffbdbd"/><stop offset="0.485" stop-color="#ffd9d9"/><stop offset="0.505" stop-color="#ffe9e9"/><stop offset="0.602" stop-color="#ffe9e9"/><stop offset="0.75" stop-color="#fff5f5"/><stop offset="1" stop-color="#fffdfd"/></linearGradient><linearGradient id="hf207"><stop offset="0" stop-color="#ffe1e1"/><stop offset="0.25" stop-color="#ffdddd"/><stop offset="0.265" stop-color="#ffcdcd"/><stop offset="0.316" stop-color="#ff7171"/><stop offset="0.332" stop-color="#ff5151"/><stop offset="0.352" stop-color="#ff4949"/><stop offset="0.434" stop-color="#ff5d5d"/><stop offset="0.454" stop-color="#ff7979"/><stop offset="0.469" stop-color="#ff9d9d"/><stop offset="0.495" stop-color="#ffe5e5"/><stop offset="0.52" stop-color="#ffeded"/><stop offset="0.561" stop-color="#ffe9e9"/><stop offset="0.832" stop-color="#fff9f9"/><stop offset="1" stop-color="#fffdfd"/></linearGradient><linearGradient id="hf208"><stop offset="0" stop-color="#ffe1e1"/><stop offset="0.24" stop-color="#ffdddd"/><stop offset="0.25" stop-color="#ffd1d1"/><stop offset="0.27" stop-color="#ff8989"/><stop offset="0.281" stop-color="#ff6161"/><stop offset="0.291" stop-color="#ff4949"/><stop offset="0.316" stop-color="#ff2d2d"/><stop offset="0.332" stop-color="#ff0101"/><stop offset="0.352" stop-color="#f20000"/><stop offset="0.418" stop-color="#ff0505"/><stop offset="0.434" stop-color="#ff2121"/><stop offset="0.495" stop-color="#ffe1e1"/><stop offset="0.515" stop-color="#fff1f1"/><stop offset="0.577" stop-color="#ffe9e9"/><stop offset="0.76" stop-color="#fff9f9"/><stop offset="1" stop-color="#fffdfd"/></linearGradient><linearGradient id="hf209"><stop offset="0" stop-color="#ffe1e1"/><stop offset="0.235" stop-color="#ffdddd"/><stop offset="0.25" stop-color="#ffadad"/><stop offset="0.281" stop-color="#ff1111"/><stop offset="0.286" stop-color="#fe0000"/><stop offset="0.301" stop-color="#ea0000"/><stop offset="0.327" stop-color="#e60000"/><stop offset="0.352" stop-color="#c20000"/><stop offset="0.388" stop-color="#cc0000"/><stop offset="0.423" stop-color="#fc0000"/><stop offset="0.439" stop-color="#ff2929"/><stop offset="0.469" stop-color="#ff8181"/><stop offset="0.495" stop-color="#ffbdbd"/><stop offset="0.51" stop-color="#ffe9e9"/><stop offset="0.526" stop-color="#fff1f1"/><stop offset="0.643" stop-color="#fff1f1"/><stop offset="0.755" stop-color="#fff9f9"/><stop offset="1" stop-color="#fffdfd"/></linearGradient><linearGradient id="hf210"><stop offset="0" stop-color="#ffe1e1"/><stop offset="0.23" stop-color="#ffdddd"/><stop offset="0.235" stop-color="#ffd5d5"/><stop offset="0.25" stop-color="#ff9191"/><stop offset="0.276" stop-color="#fe0000"/><stop offset="0.306" stop-color="#ae0000"/><stop offset="0.321" stop-color="#a80000"/><stop offset="0.337" stop-color="#c20000"/><stop offset="0.347" stop-color="#bc0000"/><stop offset="0.362" stop-color="#aa0000"/><stop offset="0.393" stop-color="#d00000"/><stop offset="0.429" stop-color="#fa0000"/><stop offset="0.485" stop-color="#ff3131"/><stop offset="0.49" stop-color="#ff4545"/><stop offset="0.5" stop-color="#ff8d8d"/><stop offset="0.51" stop-color="#ffd5d5"/><stop offset="0.515" stop-color="#ffe9e9"/><stop offset="0.526" stop-color="#fff1f1"/><stop offset="0.622" stop-color="#fff1f1"/><stop offset="0.77" stop-color="#fffdfd"/><stop offset="1" stop-color="#fffdfd"/></linearGradient><linearGradient id="hf211"><stop offset="0" stop-color="#ffe1e1"/><stop offset="0.224" stop-color="#ffdddd"/><stop offset="0.235" stop-color="#ffc5c5"/><stop offset="0.255" stop-color="#ff5555"/><stop offset="0.265" stop-color="#ff1111"/><stop offset="0.27" stop-color="#f40000"/><stop offset="0.296" stop-color="#880000"/><stop offset="0.306" stop-color="#800000"/><stop offset="0.332" stop-color="#800000"/><stop offset="0.342" stop-color="#e60000"/><stop offset="0.347" stop-color="#fe0000"/><stop offset="0.352" stop-color="#ff0101"/><stop offset="0.367" stop-color="#de0000"/><stop offset="0.469" stop-color="#da0000"/><stop offset="0.48" stop-color="#dc0000"/><stop offset="0.485" stop-color="#e30000"/><stop offset="0.49" stop-color="#f80000"/><stop offset="0.495" stop-color="#ff2929"/><stop offset="0.505" stop-color="#ffa1a1"/><stop offset="0.51" stop-color="#ffc9c9"/><stop offset="0.515" stop-color="#ffe1e1"/><stop offset="0.526" stop-color="#fff1f1"/><stop offset="0.643" stop-color="#fff5f5"/><stop offset="0.755" stop-color="#fffdfd"/><stop offset="1" stop-color="#fffdfd"/></linearGradient><linearGradient id="hf212"><stop offset="0" stop-color="#ffe1e1"/><stop offset="0.219" stop-color="#ffdddd"/><stop offset="0.224" stop-color="#ffd5d5"/><stop offset="0.235" stop-color="#ffa5a5"/><stop offset="0.245" stop-color="#ff5959"/><stop offset="0.255" stop-color="#fe0000"/><stop offset="0.281" stop-color="#800000"/><stop offset="0.342" stop-color="#800000"/><stop offset="0.357" stop-color="#f60000"/><stop offset="0.367" stop-color="#ff3939"/><stop offset="0.372" stop-color="#ff4545"/><stop offset="0.434" stop-color="#ff1111"/><stop offset="0.444" stop-color="#fe0000"/><stop offset="0.464" stop-color="#d60000"/><stop offset="0.474" stop-color="#be0000"/><stop offset="0.48" stop-color="#ba0000"/><stop offset="0.485" stop-color="#c30000"/><stop offset="0.495" stop-color="#f80000"/><stop offset="0.5" stop-color="#ff2d2d"/><stop offset="0.505" stop-color="#ff6565"/><stop offset="0.515" stop-color="#ffadad"/><stop offset="0.526" stop-color="#ffd5d5"/><stop offset="0.536" stop-color="#ffe5e5"/><stop offset="0.561" stop-color="#fff1f1"/><stop offset="0.745" stop-color="#fffdfd"/><stop offset="1" stop-color="#fffdfd"/></linearGradient><linearGradient id="hf213"><stop offset="0" stop-color="#ffe1e1"/><stop offset="0.214" stop-color="#ffe1e1"/><stop offset="0.224" stop-color="#ffc9c9"/><stop offset="0.23" stop-color="#ffadad"/><stop offset="0.235" stop-color="#ff8585"/><stop offset="0.245" stop-color="#ff1d1d"/><stop offset="0.25" stop-color="#f20000"/><stop offset="0.27" stop-color="#860000"/><stop offset="0.301" stop-color="#800000"/><stop offset="0.357" stop-color="#800000"/><stop offset="0.362" stop-color="#a80000"/><stop offset="0.367" stop-color="#e60000"/><stop offset="0.372" stop-color="#ff3d3d"/><stop offset="0.378" stop-color="#ff8d8d"/><stop offset="0.383" stop-color="#ffb9b9"/><stop offset="0.388" stop-color="#ffc5c5"/><stop offset="0.418" stop-color="#ffadad"/><stop offset="0.434" stop-color="#ff8585"/><stop offset="0.454" stop-color="#ff3131"/><stop offset="0.464" stop-color="#fa0000"/><stop offset="0.48" stop-color="#ce0000"/><stop offset="0.49" stop-color="#d30000"/><stop offset="0.5" stop-color="#f60000"/><stop offset="0.51" stop-color="#ff2121"/><stop offset="0.536" stop-color="#ff9191"/><stop offset="0.556" stop-color="#ffc1c1"/><stop offset="0.577" stop-color="#ffe9e9"/><stop offset="0.648" stop-color="#fffdfd"/><stop offset="1" stop-color="#fffdfd"/></linearGradient><linearGradient id="hf214"><stop offset="0" stop-color="#ffe1e1"/><stop offset="0.214" stop-color="#ffe1e1"/><stop offset="0.224" stop-color="#ffc9c9"/><stop offset="0.23" stop-color="#ffadad"/><stop offset="0.24" stop-color="#ff4d4d"/><stop offset="0.245" stop-color="#ff1515"/><stop offset="0.25" stop-color="#ee0000"/><stop offset="0.27" stop-color="#800000"/><stop offset="0.367" stop-color="#800000"/><stop offset="0.372" stop-color="#ce0000"/><stop offset="0.378" stop-color="#ff3131"/><stop offset="0.383" stop-color="#ff9999"/><stop offset="0.388" stop-color="#ffd5d5"/><stop offset="0.393" stop-color="#ffeded"/><stop offset="0.403" stop-color="#fff5f5"/><stop offset="0.429" stop-color="#ffe9e9"/><stop offset="0.444" stop-color="#ffcdcd"/><stop offset="0.454" stop-color="#ffadad"/><stop offset="0.464" stop-color="#ff7575"/><stop offset="0.48" stop-color="#ff1111"/><stop offset="0.485" stop-color="#fe0000"/><stop offset="0.495" stop-color="#fa0000"/><stop offset="0.51" stop-color="#fc0000"/><stop offset="0.526" stop-color="#f20000"/><stop offset="0.551" stop-color="#ec0000"/><stop offset="0.561" stop-color="#ff0101"/><stop offset="0.577" stop-color="#ff8181"/><stop offset="0.587" stop-color="#ffbdbd"/><stop offset="0.597" stop-color="#ffdddd"/><stop offset="0.607" stop-color="#ffeded"/><stop offset="0.638" stop-color="#fff9f9"/><stop offset="1" stop-color="#fffdfd"/></linearGradient><linearGradient id="hf215"><stop offset="0" stop-color="#ffe1e1"/><stop offset="0.214" stop-color="#ffe1e1"/><stop offset="0.224" stop-color="#ffc9c9"/><stop offset="0.23" stop-color="#ffadad"/><stop offset="0.24" stop-color="#ff4d4d"/><stop offset="0.245" stop-color="#ff1515"/><stop offset="0.25" stop-color="#ee0000"/><stop offset="0.27" stop-color="#800000"/><stop offset="0.362" stop-color="#800000"/><stop offset="0.367" stop-color="#880000"/><stop offset="0.372" stop-color="#ca0000"/><stop offset="0.378" stop-color="#ff1111"/><stop offset="0.383" stop-color="#ff7575"/><stop offset="0.388" stop-color="#ffb9b9"/><stop offset="0.393" stop-color="#ffdddd"/><stop offset="0.403" stop-color="#ffeded"/><stop offset="0.429" stop-color="#ffdddd"/><stop offset="0.469" stop-color="#ff8989"/><stop offset="0.505" stop-color="#ff2d2d"/><stop offset="0.515" stop-color="#fa0000"/><stop offset="0.526" stop-color="#ca0000"/><stop offset="0.536" stop-color="#800000"/><stop offset="0.566" stop-color="#820000"/><stop offset="0.587" stop-color="#f00000"/><stop offset="0.592" stop-color="#ff1919"/><stop offset="0.602" stop-color="#ff7979"/><stop offset="0.607" stop-color="#ff9d9d"/><stop offset="0.617" stop-color="#ffc5c5"/><stop offset="0.653" stop-color="#fff9f9"/><stop offset="1" stop-color="#fffdfd"/></linearGradient><linearGradient id="hf216"><stop offset="0" stop-color="#ffe1e1"/><stop offset="0.214" stop-color="#ffe1e1"/><stop offset="0.224" stop-color="#ffc9c9"/><stop offset="0.23" stop-color="#ffadad"/><stop offset="0.24" stop-color="#ff4d4d"/><stop offset="0.245" stop-color="#ff1515"/><stop offset="0.25" stop-color="#ee0000"/><stop offset="0.27" stop-color="#800000"/><stop offset="0.352" stop-color="#800000"/><stop offset="0.357" stop-color="#8e0000"/><stop offset="0.367" stop-color="#f20000"/><stop offset="0.372" stop-color="#ff4545"/><stop offset="0.378" stop-color="#ff8d8d"/><stop offset="0.383" stop-color="#ffbdbd"/><stop offset="0.388" stop-color="#ffd5d5"/><stop offset="0.398" stop-color="#ffdddd"/><stop offset="0.408" stop-color="#ffd5d5"/><stop offset="0.449" stop-color="#ff9595"/><stop offset="0.474" stop-color="#ff8d8d"/><stop offset="0.485" stop-color="#ff8989"/><stop offset="0.495" stop-color="#ff6969"/><stop offset="0.505" stop-color="#ff3939"/><stop offset="0.51" stop-color="#ff1515"/><stop offset="0.515" stop-color="#f20000"/><stop offset="0.52" stop-color="#d00000"/><stop offset="0.526" stop-color="#a00000"/><stop offset="0.531" stop-color="#800000"/><stop offset="0.587" stop-color="#800000"/><stop offset="0.602" stop-color="#f00000"/><stop offset="0.607" stop-color="#ff2121"/><stop offset="0.612" stop-color="#ff5555"/><stop offset="0.617" stop-color="#ff7d7d"/><stop offset="0.628" stop-color="#ffb1b1"/><stop offset="0.653" stop-color="#ffeded"/><stop offset="0.673" stop-color="#fffdfd"/><stop offset="1" stop-color="#fffdfd"/></linearGradient><linearGradient id="hf217"><stop offset="0" stop-color="#ffe1e1"/><stop offset="0.214" stop-color="#ffe1e1"/><stop offset="0.224" stop-color="#ffc9c9"/><stop offset="0.23" stop-color="#ffadad"/><stop offset="0.25" stop-color="#fe0000"/><stop offset="0.27" stop-color="#b60000"/><stop offset="0.296" stop-color="#800000"/><stop offset="0.337" stop-color="#800000"/><stop offset="0.347" stop-color="#be0000"/><stop offset="0.352" stop-color="#e30000"/><stop offset="0.357" stop-color="#ff0d0d"/><stop offset="0.367" stop-color="#ff8585"/><stop offset="0.372" stop-color="#ffb1b1"/><stop offset="0.378" stop-color="#ffc9c9"/><stop offset="0.383" stop-color="#ffd5d5"/><stop offset="0.393" stop-color="#ffcdcd"/><stop offset="0.423" stop-color="#ff9d9d"/><stop offset="0.439" stop-color="#ff9595"/><stop offset="0.474" stop-color="#ffb9b9"/><stop offset="0.485" stop-color="#ffb1b1"/><stop offset="0.49" stop-color="#ffa1a1"/><stop offset="0.495" stop-color="#ff8585"/><stop offset="0.5" stop-color="#ff5d5d"/><stop offset="0.505" stop-color="#ff2929"/><stop offset="0.51" stop-color="#f20000"/><stop offset="0.52" stop-color="#9c0000"/><stop offset="0.526" stop-color="#800000"/><stop offset="0.592" stop-color="#840000"/><stop offset="0.602" stop-color="#da0000"/><stop offset="0.607" stop-color="#fa0000"/><stop offset="0.622" stop-color="#ff7979"/><stop offset="0.638" stop-color="#ffc1c1"/><stop offset="0.663" stop-color="#fff1f1"/><stop offset="0.694" stop-color="#fffdfd"/><stop offset="1" stop-color="#fffdfd"/></linearGradient><linearGradient id="hf218"><stop offset="0" stop-color="#ffe1e1"/><stop offset="0.219" stop-color="#ffdddd"/><stop offset="0.23" stop-color="#ffc9c9"/><stop offset="0.265" stop-color="#ff3d3d"/><stop offset="0.281" stop-color="#ff0909"/><stop offset="0.291" stop-color="#f40000"/><stop offset="0.321" stop-color="#c00000"/><stop offset="0.332" stop-color="#c30000"/><stop offset="0.342" stop-color="#e60000"/><stop offset="0.347" stop-color="#fe0000"/><stop offset="0.357" stop-color="#ff5959"/><stop offset="0.367" stop-color="#ff9999"/><stop offset="0.372" stop-color="#ffa9a9"/><stop offset="0.383" stop-color="#ffadad"/><stop offset="0.408" stop-color="#ff9191"/><stop offset="0.439" stop-color="#ffa9a9"/><stop offset="0.469" stop-color="#ffd9d9"/><stop offset="0.48" stop-color="#ffdddd"/><stop offset="0.485" stop-color="#ffd5d5"/><stop offset="0.49" stop-color="#ffc1c1"/><stop offset="0.495" stop-color="#ff9d9d"/><stop offset="0.505" stop-color="#ff2d2d"/><stop offset="0.51" stop-color="#f60000"/><stop offset="0.52" stop-color="#bc0000"/><stop offset="0.536" stop-color="#8a0000"/><stop offset="0.546" stop-color="#800000"/><stop offset="0.592" stop-color="#840000"/><stop offset="0.602" stop-color="#e80000"/><stop offset="0.607" stop-color="#ff1d1d"/><stop offset="0.612" stop-color="#ff5151"/><stop offset="0.622" stop-color="#ff9191"/><stop offset="0.638" stop-color="#ffc5c5"/><stop offset="0.663" stop-color="#ffe5e5"/><stop offset="0.699" stop-color="#fffdfd"/><stop offset="1" stop-color="#fffdfd"/></linearGradient><linearGradient id="hf219"><stop offset="0" stop-color="#ffe1e1"/><stop offset="0.224" stop-color="#ffdddd"/><stop offset="0.24" stop-color="#ffc1c1"/><stop offset="0.311" stop-color="#ff0101"/><stop offset="0.332" stop-color="#e80000"/><stop offset="0.352" stop-color="#f80000"/><stop offset="0.357" stop-color="#ff0909"/><stop offset="0.372" stop-color="#ff5d5d"/><stop offset="0.383" stop-color="#ff7979"/><stop offset="0.413" stop-color="#ff8181"/><stop offset="0.464" stop-color="#ffc9c9"/><stop offset="0.485" stop-color="#ffd1d1"/><stop offset="0.5" stop-color="#ffb9b9"/><stop offset="0.536" stop-color="#ff0505"/><stop offset="0.556" stop-color="#e30000"/><stop offset="0.582" stop-color="#d80000"/><stop offset="0.592" stop-color="#ee0000"/><stop offset="0.597" stop-color="#ff1515"/><stop offset="0.602" stop-color="#ff4d4d"/><stop offset="0.607" stop-color="#ff7979"/><stop offset="0.612" stop-color="#ff9595"/><stop offset="0.628" stop-color="#ffb9b9"/><stop offset="0.668" stop-color="#ffe5e5"/><stop offset="0.699" stop-color="#fffdfd"/><stop offset="1" stop-color="#fffdfd"/></linearGradient><linearGradient id="hf220"><stop offset="0" stop-color="#ffe1e1"/><stop offset="0.224" stop-color="#ffdddd"/><stop offset="0.245" stop-color="#ffb5b5"/><stop offset="0.306" stop-color="#ff1d1d"/><stop offset="0.332" stop-color="#fe0000"/><stop offset="0.357" stop-color="#f80000"/><stop offset="0.362" stop-color="#fe0000"/><stop offset="0.383" stop-color="#ff5151"/><stop offset="0.403" stop-color="#ff7979"/><stop offset="0.439" stop-color="#ff8d8d"/><stop offset="0.49" stop-color="#ffa5a5"/><stop offset="0.505" stop-color="#ffadad"/><stop offset="0.515" stop-color="#ffa1a1"/><stop offset="0.536" stop-color="#ff5d5d"/><stop offset="0.541" stop-color="#ff5555"/><stop offset="0.551" stop-color="#ff5d5d"/><stop offset="0.577" stop-color="#ff9999"/><stop offset="0.612" stop-color="#ffc1c1"/><stop offset="0.653" stop-color="#ffd5d5"/><stop offset="0.699" stop-color="#fffdfd"/><stop offset="1" stop-color="#fffdfd"/></linearGradient><linearGradient id="hf221"><stop offset="0" stop-color="#ffe1e1"/><stop offset="0.224" stop-color="#ffdddd"/><stop offset="0.245" stop-color="#ffb5b5"/><stop offset="0.286" stop-color="#ff5555"/><stop offset="0.316" stop-color="#ff3535"/><stop offset="0.357" stop-color="#ff2d2d"/><stop offset="0.367" stop-color="#ff3535"/><stop offset="0.393" stop-color="#ff7979"/><stop offset="0.413" stop-color="#ffa9a9"/><stop offset="0.423" stop-color="#ffa9a9"/><stop offset="0.459" stop-color="#ff7171"/><stop offset="0.48" stop-color="#ff6565"/><stop offset="0.505" stop-color="#ff8181"/><stop offset="0.536" stop-color="#ffa9a9"/><stop offset="0.561" stop-color="#ffe5e5"/><stop offset="0.577" stop-color="#ffeded"/><stop offset="0.612" stop-color="#ffd5d5"/><stop offset="0.653" stop-color="#ffd9d9"/><stop offset="0.699" stop-color="#fffdfd"/><stop offset="1" stop-color="#fffdfd"/></linearGradient><linearGradient id="hf222"><stop offset="0" stop-color="#ffe1e1"/><stop offset="0.224" stop-color="#ffdddd"/><stop offset="0.265" stop-color="#ff8d8d"/><stop offset="0.301" stop-color="#ff7979"/><stop offset="0.367" stop-color="#ff7d7d"/><stop offset="0.383" stop-color="#ff8d8d"/><stop offset="0.408" stop-color="#ffcdcd"/><stop offset="0.423" stop-color="#ffcdcd"/><stop offset="0.444" stop-color="#ff9d9d"/><stop offset="0.469" stop-color="#ff4545"/><stop offset="0.48" stop-color="#ff2d2d"/><stop offset="0.49" stop-color="#ff2929"/><stop offset="0.505" stop-color="#ff5959"/><stop offset="0.526" stop-color="#ffa9a9"/><stop offset="0.551" stop-color="#fff1f1"/><stop offset="0.566" stop-color="#fffdfd"/><stop offset="0.592" stop-color="#fff5f5"/><stop offset="0.622" stop-color="#ffe5e5"/><stop offset="0.668" stop-color="#ffe9e9"/><stop offset="0.704" stop-color="#fffdfd"/><stop offset="1" stop-color="#fffdfd"/></linearGradient><linearGradient id="hf223"><stop offset="0" stop-color="#ffe1e1"/><stop offset="0.224" stop-color="#ffe1e1"/><stop offset="0.255" stop-color="#ffc1c1"/><stop offset="0.352" stop-color="#ffc9c9"/><stop offset="0.388" stop-color="#ffd5d5"/><stop offset="0.408" stop-color="#fff1f1"/><stop offset="0.429" stop-color="#ffe9e9"/><stop offset="0.444" stop-color="#ffc1c1"/><stop offset="0.454" stop-color="#ff9191"/><stop offset="0.474" stop-color="#ff1919"/><stop offset="0.48" stop-color="#ff0101"/><stop offset="0.49" stop-color="#f80000"/><stop offset="0.495" stop-color="#fc0000"/><stop offset="0.5" stop-color="#ff1111"/><stop offset="0.526" stop-color="#ffb5b5"/><stop offset="0.536" stop-color="#ffdddd"/><stop offset="0.546" stop-color="#fff5f5"/><stop offset="0.571" stop-color="#fffdfd"/><stop offset="0.673" stop-color="#fff5f5"/><stop offset="0.73" stop-color="#fffdfd"/><stop offset="1" stop-color="#fffdfd"/></linearGradient><linearGradient id="hf224"><stop offset="0" stop-color="#ffe1e1"/><stop offset="0.158" stop-color="#ffe5e5"/><stop offset="0.23" stop-color="#ffe5e5"/><stop offset="0.281" stop-color="#ffe5e5"/><stop offset="0.418" stop-color="#fffdfd"/><stop offset="0.439" stop-color="#ffe9e9"/><stop offset="0.454" stop-color="#ffb5b5"/><stop offset="0.48" stop-color="#ff2d2d"/><stop offset="0.485" stop-color="#ff2121"/><stop offset="0.49" stop-color="#ff2121"/><stop offset="0.5" stop-color="#ff4141"/><stop offset="0.526" stop-color="#ffcdcd"/><stop offset="0.541" stop-color="#fff5f5"/><stop offset="0.566" stop-color="#fffdfd"/><stop offset="1" stop-color="#fffdfd"/></linearGradient><linearGradient id="hf225"><stop offset="0" stop-color="#ffe1e1"/><stop offset="0.143" stop-color="#ffe5e5"/><stop offset="0.204" stop-color="#fff1f1"/><stop offset="0.235" stop-color="#ffe5e5"/><stop offset="0.383" stop-color="#fff5f5"/><stop offset="0.423" stop-color="#fff5f5"/><stop offset="0.464" stop-color="#ffc1c1"/><stop offset="0.48" stop-color="#ffa9a9"/><stop offset="0.49" stop-color="#ffa9a9"/><stop offset="0.52" stop-color="#ffe5e5"/><stop offset="0.551" stop-color="#fff9f9"/><stop offset="1" stop-color="#fffdfd"/></linearGradient><linearGradient id="hf226"><stop offset="0" stop-color="#ffe1e1"/><stop offset="0.143" stop-color="#ffe5e5"/><stop offset="0.204" stop-color="#fff1f1"/><stop offset="0.235" stop-color="#ffe5e5"/><stop offset="0.413" stop-color="#fff5f5"/><stop offset="0.449" stop-color="#ffe1e1"/><stop offset="0.51" stop-color="#fff1f1"/><stop offset="0.607" stop-color="#fffdfd"/><stop offset="1" stop-color="#fffdfd"/></linearGradient><linearGradient id="hf227"><stop offset="0" stop-color="#ffe1e1"/><stop offset="0.148" stop-color="#ffe5e5"/><stop offset="0.204" stop-color="#ffeded"/><stop offset="0.26" stop-color="#ffe5e5"/><stop offset="0.423" stop-color="#fff1f1"/><stop offset="0.485" stop-color="#fff1f1"/><stop offset="0.607" stop-color="#fffdfd"/><stop offset="1" stop-color="#fffdfd"/></linearGradient><linearGradient id="hf228"><stop offset="0" stop-color="#ffe1e1"/><stop offset="0.179" stop-color="#ffe5e5"/><stop offset="0.321" stop-color="#ffe9e9"/><stop offset="0.546" stop-color="#fff9f9"/><stop offset="1" stop-color="#fffdfd"/></linearGradient><linearGradient id="hf229"><stop offset="0" stop-color="#ffe1e1"/><stop offset="0.276" stop-color="#ffe5e5"/><stop offset="0.612" stop-color="#fffdfd"/><stop offset="1" stop-color="#fffdfd"/></linearGradient><linearGradient id="hf230"><stop offset="0" stop-color="#ffe1e1"/><stop offset="0.291" stop-color="#ffe5e5"/><stop offset="0.597" stop-color="#fffdfd"/><stop offset="1" stop-color="#fffdfd"/></linearGradient><linearGradient id="hf231"><stop offset="0" stop-color="#ffe1e1"/><stop offset="0.321" stop-color="#ffe5e5"/><stop offset="0.577" stop-color="#fffdfd"/><stop offset="1" stop-color="#fffdfd"/></linearGradient><linearGradient id="hf232"><stop offset="0" stop-color="#ffe1e1"/><stop offset="0.357" stop-color="#ffe5e5"/><stop offset="0.561" stop-color="#fffdfd"/><stop offset="1" stop-color="#fffdfd"/></linearGradient><linearGradient id="hf233"><stop offset="0" stop-color="#ffe1e1"/><stop offset="0.423" stop-color="#ffe9e9"/><stop offset="0.541" stop-color="#fffdfd"/><stop offset="1" stop-color="#fffdfd"/></linearGradient><linearGradient id="hf234"><stop offset="0" stop-color="#ffe1e1"/><stop offset="0.439" stop-color="#ffe9e9"/><stop offset="0.546" stop-color="#fffdfd"/><stop offset="1" stop-color="#fffdfd"/></linearGradient><linearGradient id="hf235"><stop offset="0" stop-color="#ffe1e1"/><stop offset="0.449" stop-color="#ffe9e9"/><stop offset="0.556" stop-color="#fffdfd"/><stop offset="1" stop-color="#fffdfd"/></linearGradient><linearGradient id="hf236"><stop offset="0" stop-color="#ffe1e1"/><stop offset="0.454" stop-color="#ffe9e9"/><stop offset="0.566" stop-color="#fffdfd"/><stop offset="1" stop-color="#fffdfd"/></linearGradient><linearGradient id="hf237"><stop offset="0" stop-color="#ffe1e1"/><stop offset="0.454" stop-color="#ffe9e9"/><stop offset="0.556" stop-color="#fff9f9"/><stop offset="1" stop-color="#fffdfd"/></linearGradient><linearGradient id="hf238"><stop offset="0" stop-color="#ffe1e1"/><stop offset="0.459" stop-color="#ffe9e9"/><stop offset="0.546" stop-color="#fff5f5"/><stop offset="0.77" stop-color="#fffdfd"/><stop offset="1" stop-color="#fffdfd"/></linearGradient><linearGradient id="hf239"><stop offset="0" stop-color="#ffe1e1"/><stop offset="0.464" stop-color="#ffe9e9"/><stop offset="0.587" stop-color="#fff5f5"/><stop offset="0.781" stop-color="#fffdfd"/><stop offset="1" stop-color="#fffdfd"/></linearGradient><linearGradient id="hf240"><stop offset="0" stop-color="#ffe1e1"/><stop offset="0.474" stop-color="#ffe9e9"/><stop offset="0.724" stop-color="#fffdfd"/><stop offset="1" stop-color="#fffdfd"/></linearGradient><linearGradient id="hf241"><stop offset="0" stop-color="#ffe1e1"/><stop offset="0.505" stop-color="#ffe9e9"/><stop offset="0.714" stop-color="#fffdfd"/><stop offset="1" stop-color="#fffdfd"/></linearGradient><linearGradient id="hf242"><stop offset="0" stop-color="#ffe1e1"/><stop offset="0.474" stop-color="#ffe5e5"/><stop offset="0.709" stop-color="#fffdfd"/><stop offset="1" stop-color="#fffdfd"/></linearGradient><linearGradient id="hf243"><stop offset="0" stop-color="#ffe1e1"/><stop offset="0.474" stop-color="#ffe5e5"/><stop offset="0.709" stop-color="#fffdfd"/><stop offset="1" stop-color="#fffdfd"/></linearGradient><linearGradient id="hf244"><stop offset="0" stop-color="#ffe1e1"/><stop offset="0.469" stop-color="#ffe5e5"/><stop offset="0.714" stop-color="#fffdfd"/><stop offset="1" stop-color="#fffdfd"/></linearGradient><linearGradient id="hf245"><stop offset="0" stop-color="#ffe1e1"/><stop offset="0.459" stop-color="#ffe5e5"/><stop offset="0.714" stop-color="#fffdfd"/><stop offset="1" stop-color="#fffdfd"/></linearGradient><linearGradient id="hf246"><stop offset="0" stop-color="#ffe1e1"/><stop offset="0.454" stop-color="#ffe5e5"/><stop offset="0.719" stop-color="#fffdfd"/><stop offset="1" stop-color="#fffdfd"/></linearGradient><linearGradient id="hf247"><stop offset="0" stop-color="#ffe1e1"/><stop offset="0.444" stop-color="#ffe5e5"/><stop offset="0.719" stop-color="#fffdfd"/><stop offset="1" stop-color="#fffdfd"/></linearGradient><linearGradient id="hf248"><stop offset="0" stop-color="#ffe1e1"/><stop offset="0.434" stop-color="#ffe5e5"/><stop offset="0.724" stop-color="#fffdfd"/><stop offset="1" stop-color="#fffdfd"/></linearGradient><linearGradient id="hf249"><stop offset="0" stop-color="#ffe1e1"/><stop offset="0.393" stop-color="#ffe5e5"/><stop offset="0.735" stop-color="#fffdfd"/><stop offset="1" stop-color="#fffdfd"/></linearGradient></defs><g filter="url(#vb)"><rect x="-12" y="-12" width="392" height="8.5" fill="url(#hf201)"/><rect x="-12" y="-4" width="392" height="8.5" fill="url(#hf202)"/><rect x="-12" y="4" width="392" height="8.5" fill="url(#hf203)"/><rect x="-12" y="12" width="392" height="8.5" fill="url(#hf204)"/><rect x="-12" y="20" width="392" height="8.5" fill="url(#hf205)"/><rect x="-12" y="28" width="392" height="8.5" fill="url(#hf206)"/><rect x="-12" y="36" width="392" height="8.5" fill="url(#hf207)"/><rect x="-12" y="44" width="392" height="8.5" fill="url(#hf208)"/><rect x="-12" y="52" width="392" height="8.5" fill="url(#hf209)"/><rect x="-12" y="60" width="392" height="8.5" fill="url(#hf210)"/><rect x="-12" y="68" width="392" height="8.5" fill="url(#hf211)"/><rect x="-12" y="76" width="392" height="8.5" fill="url(#hf212)"/><rect x="-12" y="84" width="392" height="8.5" fill="url(#hf213)"/><rect x="-12" y="92" width="392" height="8.5" fill="url(#hf214)"/><rect x="-12" y="100" width="392" height="8.5" fill="url(#hf215)"/><rect x="-12" y="108" width="392" height="8.5" fill="url(#hf216)"/><rect x="-12" y="116" width="392" height="8.5" fill="url(#hf217)"/><rect x="-12" y="124" width="392" height="8.5" fill="url(#hf218)"/><rect x="-12" y="132" width="392" height="8.5" fill="url(#hf219)"/><rect x="-12" y="140" width="392" height="8.5" fill="url(#hf220)"/><rect x="-12" y="148" width="392" height="8.5" fill="url(#hf221)"/><rect x="-12" y="156" width="392" height="8.5" fill="url(#hf222)"/><rect x="-12" y="164" width="392" height="8.5" fill="url(#hf223)"/><rect x="-12" y="172" width="392" height="8.5" fill="url(#hf224)"/><rect x="-12" y="180" width="392" height="8.5" fill="url(#hf225)"/><rect x="-12" y="188" width="392" height="8.5" fill="url(#hf226)"/><rect x="-12" y="196" width="392" height="8.5" fill="url(#hf227)"/><rect x="-12" y="204" width="392" height="8.5" fill="url(#hf228)"/><rect x="-12" y="212" width="392" height="8.5" fill="url(#hf229)"/><rect x="-12" y="220" width="392" height="8.5" fill="url(#hf230)"/><rect x="-12" y="228" width="392" height="8.5" fill="url(#hf231)"/><rect x="-12" y="236" width="392" height="8.5" fill="url(#hf232)"/><rect x="-12" y="244" width="392" height="8.5" fill="url(#hf233)"/><rect x="-12" y="252" width="392" height="8.5" fill="url(#hf234)"/><rect x="-12" y="260" width="392" height="8.5" fill="url(#hf235)"/><rect x="-12" y="268" width="392" height="8.5" fill="url(#hf236)"/><rect x="-12" y="276" width="392" height="8.5" fill="url(#hf237)"/><rect x="-12" y="284" width="392" height="8.5" fill="url(#hf238)"/><rect x="-12" y="292" width="392" height="8.5" fill="url(#hf239)"/><rect x="-12" y="300" width="392" height="8.5" fill="url(#hf240)"/><rect x="-12" y="308" width="392" height="8.5" fill="url(#hf241)"/><rect x="-12" y="316" width="392" height="8.5" fill="url(#hf242)"/><rect x="-12" y="324" width="392" height="8.5" fill="url(#hf243)"/><rect x="-12" y="332" width="392" height="8.5" fill="url(#hf244)"/><rect x="-12" y="340" width="392" height="8.5" fill="url(#hf245)"/><rect x="-12" y="348" width="392" height="8.5" fill="url(#hf246)"/><rect x="-12" y="356" width="392" height="8.5" fill="url(#hf247)"/><rect x="-12" y="364" width="392" height="8.5" fill="url(#hf248)"/><rect x="-12" y="372" width="392" height="8.5" fill="url(#hf249)"/></g><use href="#hy_land"/><use href="#hy_over"/><text x="95" y="75.4" font-size="20.3" text-anchor="end">Tacloban</text>
</g>
<rect x="0" y="0" width="36.8" height="37.2" fill="#fff" stroke="#000" stroke-width="1.1"/>
<text x="4.0" y="25.8" font-size="20" font-weight="bold">(f)</text>
<rect x="0" y="0" width="366.1" height="366.1" fill="none" stroke="#000" stroke-width="1.1"/>
</g>
<g transform="translate(995.7,469.5)"><g clip-path="url(#pc)">
<defs><linearGradient id="hg250"><stop offset="0" stop-color="#ff9191"/><stop offset="0.276" stop-color="#ff9595"/><stop offset="0.495" stop-color="#ffbdbd"/><stop offset="0.923" stop-color="#ffb9b9"/><stop offset="1" stop-color="#ffadad"/></linearGradient><linearGradient id="hg251"><stop offset="0" stop-color="#ff9191"/><stop offset="0.286" stop-color="#ff9595"/><stop offset="0.449" stop-color="#ffb5b5"/><stop offset="0.505" stop-color="#ffbdbd"/><stop offset="0.923" stop-color="#ffb9b9"/><stop offset="1" stop-color="#ffadad"/></linearGradient><linearGradient id="hg252"><stop offset="0" stop-color="#ff9191"/><stop offset="0.301" stop-color="#ff9595"/><stop offset="0.434" stop-color="#ffb1b1"/><stop offset="0.495" stop-color="#ffbdbd"/><stop offset="0.923" stop-color="#ffb9b9"/><stop offset="1" stop-color="#ffadad"/></linearGradient><linearGradient id="hg253"><stop offset="0" stop-color="#ff9191"/><stop offset="0.321" stop-color="#ff9595"/><stop offset="0.49" stop-color="#ffbdbd"/><stop offset="0.923" stop-color="#ffb9b9"/><stop offset="1" stop-color="#ffadad"/></linearGradient><linearGradient id="hg254"><stop offset="0" stop-color="#ff9191"/><stop offset="0.347" stop-color="#ff9595"/><stop offset="0.5" stop-color="#ffbdbd"/><stop offset="0.923" stop-color="#ffb9b9"/><stop offset="1" stop-color="#ffadad"/></linearGradient><linearGradient id="hg255"><stop offset="0" stop-color="#ff9191"/><stop offset="0.276" stop-color="#ff8d8d"/><stop offset="0.306" stop-color="#ff7575"/><stop offset="0.327" stop-color="#ff6565"/><stop offset="0.469" stop-color="#ff9191"/><stop offset="0.505" stop-color="#ffbdbd"/><stop offset="0.923" stop-color="#ffb9b9"/><stop offset="1" stop-color="#ffadad"/></linearGradient><linearGradient id="hg256"><stop offset="0" stop-color="#ff9191"/><stop offset="0.255" stop-color="#ff8d8d"/><stop offset="0.27" stop-color="#ff7575"/><stop offset="0.311" stop-color="#ff0d0d"/><stop offset="0.327" stop-color="#ff0101"/><stop offset="0.383" stop-color="#ff1515"/><stop offset="0.439" stop-color="#ff2929"/><stop offset="0.459" stop-color="#ff4141"/><stop offset="0.49" stop-color="#ff9191"/><stop offset="0.505" stop-color="#ffb5b5"/><stop offset="0.515" stop-color="#ffbdbd"/><stop offset="0.923" stop-color="#ffb9b9"/><stop offset="1" stop-color="#ffadad"/></linearGradient><linearGradient id="hg257"><stop offset="0" stop-color="#ff9191"/><stop offset="0.24" stop-color="#ff8d8d"/><stop offset="0.255" stop-color="#ff7171"/><stop offset="0.281" stop-color="#ff0101"/><stop offset="0.311" stop-color="#ce0000"/><stop offset="0.332" stop-color="#ca0000"/><stop offset="0.429" stop-color="#e30000"/><stop offset="0.449" stop-color="#fc0000"/><stop offset="0.464" stop-color="#ff2929"/><stop offset="0.505" stop-color="#ffa9a9"/><stop offset="0.52" stop-color="#ffbdbd"/><stop offset="0.923" stop-color="#ffb9b9"/><stop offset="1" stop-color="#ffadad"/></linearGradient><linearGradient id="hg258"><stop offset="0" stop-color="#ff9191"/><stop offset="0.23" stop-color="#ff8d8d"/><stop offset="0.24" stop-color="#ff7d7d"/><stop offset="0.25" stop-color="#ff5555"/><stop offset="0.265" stop-color="#ff0505"/><stop offset="0.306" stop-color="#a00000"/><stop offset="0.327" stop-color="#8e0000"/><stop offset="0.367" stop-color="#a00000"/><stop offset="0.408" stop-color="#b20000"/><stop offset="0.454" stop-color="#fa0000"/><stop offset="0.459" stop-color="#ff0909"/><stop offset="0.49" stop-color="#ff7575"/><stop offset="0.515" stop-color="#ffb1b1"/><stop offset="0.531" stop-color="#ffbdbd"/><stop offset="0.923" stop-color="#ffb9b9"/><stop offset="1" stop-color="#ffadad"/></linearGradient><linearGradient id="hg259"><stop offset="0" stop-color="#ff9191"/><stop offset="0.224" stop-color="#ff8d8d"/><stop offset="0.235" stop-color="#ff8181"/><stop offset="0.25" stop-color="#ff3939"/><stop offset="0.26" stop-color="#fe0000"/><stop offset="0.301" stop-color="#860000"/><stop offset="0.332" stop-color="#800000"/><stop offset="0.383" stop-color="#800000"/><stop offset="0.423" stop-color="#c80000"/><stop offset="0.449" stop-color="#ff0101"/><stop offset="0.469" stop-color="#ff4d4d"/><stop offset="0.505" stop-color="#ff8989"/><stop offset="0.531" stop-color="#ffbdbd"/><stop offset="0.923" stop-color="#ffb9b9"/><stop offset="1" stop-color="#ffadad"/></linearGradient><linearGradient id="hg260"><stop offset="0" stop-color="#ff9191"/><stop offset="0.219" stop-color="#ff8d8d"/><stop offset="0.23" stop-color="#ff8181"/><stop offset="0.24" stop-color="#ff5959"/><stop offset="0.255" stop-color="#ff0101"/><stop offset="0.296" stop-color="#880000"/><stop offset="0.306" stop-color="#800000"/><stop offset="0.378" stop-color="#800000"/><stop offset="0.418" stop-color="#d80000"/><stop offset="0.434" stop-color="#fa0000"/><stop offset="0.459" stop-color="#ff3939"/><stop offset="0.49" stop-color="#ff5151"/><stop offset="0.531" stop-color="#ffadad"/><stop offset="0.551" stop-color="#ffbdbd"/><stop offset="0.923" stop-color="#ffb9b9"/><stop offset="1" stop-color="#ffadad"/></linearGradient><linearGradient id="hg261"><stop offset="0" stop-color="#ff9191"/><stop offset="0.219" stop-color="#ff8d8d"/><stop offset="0.224" stop-color="#ff8989"/><stop offset="0.24" stop-color="#ff4d4d"/><stop offset="0.255" stop-color="#fa0000"/><stop offset="0.301" stop-color="#800000"/><stop offset="0.362" stop-color="#820000"/><stop offset="0.383" stop-color="#b30000"/><stop offset="0.429" stop-color="#ff0101"/><stop offset="0.454" stop-color="#ff1515"/><stop offset="0.474" stop-color="#ff1919"/><stop offset="0.52" stop-color="#ff6d6d"/><stop offset="0.541" stop-color="#ffa5a5"/><stop offset="0.566" stop-color="#ffb9b9"/><stop offset="0.622" stop-color="#ffb9b9"/><stop offset="0.923" stop-color="#ffb9b9"/><stop offset="1" stop-color="#ffadad"/></linearGradient><linearGradient id="hg262"><stop offset="0" stop-color="#ff9191"/><stop offset="0.219" stop-color="#ff8d8d"/><stop offset="0.235" stop-color="#ff7575"/><stop offset="0.25" stop-color="#ff3939"/><stop offset="0.26" stop-color="#fe0000"/><stop offset="0.301" stop-color="#800000"/><stop offset="0.347" stop-color="#800000"/><stop offset="0.352" stop-color="#880000"/><stop offset="0.372" stop-color="#d60000"/><stop offset="0.388" stop-color="#ee0000"/><stop offset="0.444" stop-color="#fc0000"/><stop offset="0.49" stop-color="#ff0101"/><stop offset="0.51" stop-color="#ff2121"/><stop offset="0.556" stop-color="#ff9d9d"/><stop offset="0.577" stop-color="#ffadad"/><stop offset="0.617" stop-color="#ffb5b5"/><stop offset="0.811" stop-color="#ffbdbd"/><stop offset="0.954" stop-color="#ffb5b5"/><stop offset="1" stop-color="#ffadad"/></linearGradient><linearGradient id="hg263"><stop offset="0" stop-color="#ff9191"/><stop offset="0.224" stop-color="#ff8d8d"/><stop offset="0.245" stop-color="#ff6d6d"/><stop offset="0.26" stop-color="#ff4545"/><stop offset="0.276" stop-color="#fe0000"/><stop offset="0.311" stop-color="#800000"/><stop offset="0.332" stop-color="#800000"/><stop offset="0.352" stop-color="#be0000"/><stop offset="0.378" stop-color="#f40000"/><stop offset="0.403" stop-color="#fc0000"/><stop offset="0.459" stop-color="#f80000"/><stop offset="0.51" stop-color="#f80000"/><stop offset="0.52" stop-color="#ff0101"/><stop offset="0.546" stop-color="#ff4141"/><stop offset="0.571" stop-color="#ff7d7d"/><stop offset="0.597" stop-color="#ffa1a1"/><stop offset="0.622" stop-color="#ffb5b5"/><stop offset="0.811" stop-color="#ffbdbd"/><stop offset="0.954" stop-color="#ffb5b5"/><stop offset="1" stop-color="#ffadad"/></linearGradient><linearGradient id="hg264"><stop offset="0" stop-color="#ff9191"/><stop offset="0.224" stop-color="#ff8d8d"/><stop offset="0.265" stop-color="#ff4d4d"/><stop offset="0.286" stop-color="#ff1919"/><stop offset="0.291" stop-color="#ff0505"/><stop offset="0.306" stop-color="#d80000"/><stop offset="0.321" stop-color="#ac0000"/><stop offset="0.332" stop-color="#b60000"/><stop offset="0.347" stop-color="#d60000"/><stop offset="0.398" stop-color="#fe0000"/><stop offset="0.48" stop-color="#f60000"/><stop offset="0.536" stop-color="#f60000"/><stop offset="0.546" stop-color="#fe0000"/><stop offset="0.577" stop-color="#ff4141"/><stop offset="0.607" stop-color="#ff9d9d"/><stop offset="0.617" stop-color="#ffadad"/><stop offset="0.643" stop-color="#ffb5b5"/><stop offset="0.811" stop-color="#ffbdbd"/><stop offset="0.954" stop-color="#ffb5b5"/><stop offset="1" stop-color="#ffadad"/></linearGradient><linearGradient id="hg265"><stop offset="0" stop-color="#ff9191"/><stop offset="0.224" stop-color="#ff8d8d"/><stop offset="0.27" stop-color="#ff4545"/><stop offset="0.306" stop-color="#ff0101"/><stop offset="0.327" stop-color="#ea0000"/><stop offset="0.418" stop-color="#ff0101"/><stop offset="0.5" stop-color="#f60000"/><stop offset="0.546" stop-color="#ee0000"/><stop offset="0.571" stop-color="#fc0000"/><stop offset="0.582" stop-color="#ff1919"/><stop offset="0.607" stop-color="#ff8585"/><stop offset="0.622" stop-color="#ffa9a9"/><stop offset="0.653" stop-color="#ffb9b9"/><stop offset="0.923" stop-color="#ffb9b9"/><stop offset="1" stop-color="#ffadad"/></linearGradient><linearGradient id="hg266"><stop offset="0" stop-color="#ff9191"/><stop offset="0.224" stop-color="#ff8d8d"/><stop offset="0.301" stop-color="#ff1515"/><stop offset="0.316" stop-color="#fe0000"/><stop offset="0.347" stop-color="#fa0000"/><stop offset="0.423" stop-color="#ff0505"/><stop offset="0.454" stop-color="#ff1111"/><stop offset="0.48" stop-color="#ff3939"/><stop offset="0.49" stop-color="#ff3131"/><stop offset="0.526" stop-color="#ff0101"/><stop offset="0.571" stop-color="#f80000"/><stop offset="0.582" stop-color="#ff0101"/><stop offset="0.612" stop-color="#ff7575"/><stop offset="0.638" stop-color="#ffa9a9"/><stop offset="0.663" stop-color="#ffbdbd"/><stop offset="0.954" stop-color="#ffb5b5"/><stop offset="1" stop-color="#ffadad"/></linearGradient><linearGradient id="hg267"><stop offset="0" stop-color="#ff9191"/><stop offset="0.224" stop-color="#ff8d8d"/><stop offset="0.316" stop-color="#ff0505"/><stop offset="0.413" stop-color="#ff0505"/><stop offset="0.444" stop-color="#ff2525"/><stop offset="0.454" stop-color="#ff3535"/><stop offset="0.474" stop-color="#ff8181"/><stop offset="0.485" stop-color="#ff9191"/><stop offset="0.495" stop-color="#ff8989"/><stop offset="0.526" stop-color="#ff6161"/><stop offset="0.541" stop-color="#ff5555"/><stop offset="0.577" stop-color="#ff2525"/><stop offset="0.587" stop-color="#ff2929"/><stop offset="0.612" stop-color="#ff7171"/><stop offset="0.653" stop-color="#ffb9b9"/><stop offset="0.923" stop-color="#ffb9b9"/><stop offset="1" stop-color="#ffadad"/></linearGradient><linearGradient id="hg268"><stop offset="0" stop-color="#ff9191"/><stop offset="0.143" stop-color="#ff8d8d"/><stop offset="0.23" stop-color="#ff8585"/><stop offset="0.301" stop-color="#ff1d1d"/><stop offset="0.337" stop-color="#ff0101"/><stop offset="0.413" stop-color="#ff0505"/><stop offset="0.439" stop-color="#ff2525"/><stop offset="0.459" stop-color="#ff5555"/><stop offset="0.485" stop-color="#ffb1b1"/><stop offset="0.505" stop-color="#ffd1d1"/><stop offset="0.531" stop-color="#ffd5d5"/><stop offset="0.551" stop-color="#ffadad"/><stop offset="0.577" stop-color="#ff6565"/><stop offset="0.582" stop-color="#ff6161"/><stop offset="0.617" stop-color="#ff9999"/><stop offset="0.663" stop-color="#ffbdbd"/><stop offset="0.954" stop-color="#ffb5b5"/><stop offset="1" stop-color="#ffadad"/></linearGradient><linearGradient id="hg269"><stop offset="0" stop-color="#ff9191"/><stop offset="0.138" stop-color="#ff8d8d"/><stop offset="0.179" stop-color="#ff8585"/><stop offset="0.23" stop-color="#ff8585"/><stop offset="0.291" stop-color="#ff3131"/><stop offset="0.352" stop-color="#ff0505"/><stop offset="0.408" stop-color="#ff0505"/><stop offset="0.439" stop-color="#ff1d1d"/><stop offset="0.464" stop-color="#ff4d4d"/><stop offset="0.505" stop-color="#ffe9e9"/><stop offset="0.515" stop-color="#fffdfd"/><stop offset="0.531" stop-color="#f1f1ff"/><stop offset="0.541" stop-color="#fdfdff"/><stop offset="0.551" stop-color="#ffe5e5"/><stop offset="0.571" stop-color="#ff9191"/><stop offset="0.587" stop-color="#ff8585"/><stop offset="0.673" stop-color="#ffc1c1"/><stop offset="0.954" stop-color="#ffb5b5"/><stop offset="1" stop-color="#ffadad"/></linearGradient><linearGradient id="hg270"><stop offset="0" stop-color="#ff9191"/><stop offset="0.138" stop-color="#ff8d8d"/><stop offset="0.189" stop-color="#ff7d7d"/><stop offset="0.23" stop-color="#ff8585"/><stop offset="0.281" stop-color="#ff4545"/><stop offset="0.347" stop-color="#ff1d1d"/><stop offset="0.398" stop-color="#ff2121"/><stop offset="0.439" stop-color="#ff4d4d"/><stop offset="0.48" stop-color="#ffa5a5"/><stop offset="0.505" stop-color="#ffc1c1"/><stop offset="0.526" stop-color="#ffc9c9"/><stop offset="0.541" stop-color="#ffd9d9"/><stop offset="0.546" stop-color="#ffd5d5"/><stop offset="0.566" stop-color="#ff9595"/><stop offset="0.582" stop-color="#ff8989"/><stop offset="0.633" stop-color="#ffa5a5"/><stop offset="0.679" stop-color="#ffc1c1"/><stop offset="0.954" stop-color="#ffb5b5"/><stop offset="1" stop-color="#ffadad"/></linearGradient><linearGradient id="hg271"><stop offset="0" stop-color="#ff9191"/><stop offset="0.138" stop-color="#ff8d8d"/><stop offset="0.194" stop-color="#ff7979"/><stop offset="0.23" stop-color="#ff8585"/><stop offset="0.281" stop-color="#ff5555"/><stop offset="0.337" stop-color="#ff4d4d"/><stop offset="0.388" stop-color="#ff5151"/><stop offset="0.444" stop-color="#ff8585"/><stop offset="0.495" stop-color="#ff9191"/><stop offset="0.526" stop-color="#ff8181"/><stop offset="0.546" stop-color="#ffa1a1"/><stop offset="0.571" stop-color="#ff8d8d"/><stop offset="0.643" stop-color="#ffa9a9"/><stop offset="0.684" stop-color="#ffc1c1"/><stop offset="0.954" stop-color="#ffb5b5"/><stop offset="1" stop-color="#ffadad"/></linearGradient><linearGradient id="hg272"><stop offset="0" stop-color="#ff9191"/><stop offset="0.138" stop-color="#ff8d8d"/><stop offset="0.199" stop-color="#ff7575"/><stop offset="0.23" stop-color="#ff8989"/><stop offset="0.276" stop-color="#ff7979"/><stop offset="0.403" stop-color="#ff8585"/><stop offset="0.429" stop-color="#ff9191"/><stop offset="0.49" stop-color="#ff8989"/><stop offset="0.515" stop-color="#ff8989"/><stop offset="0.531" stop-color="#ff8181"/><stop offset="0.556" stop-color="#ff9595"/><stop offset="0.643" stop-color="#ffa9a9"/><stop offset="0.684" stop-color="#ffc1c1"/><stop offset="0.954" stop-color="#ffb5b5"/><stop offset="1" stop-color="#ffadad"/></linearGradient><linearGradient id="hg273"><stop offset="0" stop-color="#ff9191"/><stop offset="0.153" stop-color="#ff8d8d"/><stop offset="0.199" stop-color="#ff7d7d"/><stop offset="0.224" stop-color="#ff8d8d"/><stop offset="0.423" stop-color="#ff9d9d"/><stop offset="0.474" stop-color="#ff8d8d"/><stop offset="0.526" stop-color="#ffa5a5"/><stop offset="0.622" stop-color="#ffa9a9"/><stop offset="0.709" stop-color="#ffc5c5"/><stop offset="0.893" stop-color="#ffb9b9"/><stop offset="1" stop-color="#ffadad"/></linearGradient><linearGradient id="hg274"><stop offset="0" stop-color="#ff9191"/><stop offset="0.265" stop-color="#ff9191"/><stop offset="0.429" stop-color="#ff9d9d"/><stop offset="0.469" stop-color="#ff9595"/><stop offset="0.536" stop-color="#ffbdbd"/><stop offset="0.612" stop-color="#ffb5b5"/><stop offset="0.719" stop-color="#ffc5c5"/><stop offset="0.862" stop-color="#ffb9b9"/><stop offset="0.98" stop-color="#ffb1b1"/><stop offset="1" stop-color="#ffadad"/></linearGradient><linearGradient id="hg275"><stop offset="0" stop-color="#ff9191"/><stop offset="0.311" stop-color="#ff9595"/><stop offset="0.444" stop-color="#ff9d9d"/><stop offset="0.469" stop-color="#ffa1a1"/><stop offset="0.541" stop-color="#ffc9c9"/><stop offset="0.719" stop-color="#ffc5c5"/><stop offset="0.862" stop-color="#ffb9b9"/><stop offset="0.98" stop-color="#ffb1b1"/><stop offset="1" stop-color="#ffadad"/></linearGradient><linearGradient id="hg276"><stop offset="0" stop-color="#ff9191"/><stop offset="0.316" stop-color="#ff9595"/><stop offset="0.454" stop-color="#ffa1a1"/><stop offset="0.566" stop-color="#ffcdcd"/><stop offset="0.648" stop-color="#ffd1d1"/><stop offset="0.786" stop-color="#ffbdbd"/><stop offset="0.954" stop-color="#ffb5b5"/><stop offset="1" stop-color="#ffadad"/></linearGradient><linearGradient id="hg277"><stop offset="0" stop-color="#ff9191"/><stop offset="0.327" stop-color="#ff9595"/><stop offset="0.449" stop-color="#ffa1a1"/><stop offset="0.592" stop-color="#ffd1d1"/><stop offset="0.658" stop-color="#ffd1d1"/><stop offset="0.776" stop-color="#ffbdbd"/><stop offset="0.954" stop-color="#ffb5b5"/><stop offset="1" stop-color="#ffadad"/></linearGradient><linearGradient id="hg278"><stop offset="0" stop-color="#ff9191"/><stop offset="0.352" stop-color="#ff9595"/><stop offset="0.449" stop-color="#ffa1a1"/><stop offset="0.587" stop-color="#ffcdcd"/><stop offset="0.673" stop-color="#ffcdcd"/><stop offset="0.791" stop-color="#ffbdbd"/><stop offset="0.954" stop-color="#ffb5b5"/><stop offset="1" stop-color="#ffadad"/></linearGradient><linearGradient id="hg279"><stop offset="0" stop-color="#ff9191"/><stop offset="0.388" stop-color="#ff9595"/><stop offset="0.474" stop-color="#ffa9a9"/><stop offset="0.587" stop-color="#ffcdcd"/><stop offset="0.719" stop-color="#ffc5c5"/><stop offset="0.862" stop-color="#ffb9b9"/><stop offset="0.98" stop-color="#ffb1b1"/><stop offset="1" stop-color="#ffadad"/></linearGradient><linearGradient id="hg280"><stop offset="0" stop-color="#ff9191"/><stop offset="0.408" stop-color="#ff9595"/><stop offset="0.582" stop-color="#ffcdcd"/><stop offset="0.75" stop-color="#ffc1c1"/><stop offset="0.954" stop-color="#ffb5b5"/><stop offset="1" stop-color="#ffadad"/></linearGradient><linearGradient id="hg281"><stop offset="0" stop-color="#ff9191"/><stop offset="0.418" stop-color="#ff9595"/><stop offset="0.577" stop-color="#ffcdcd"/><stop offset="0.724" stop-color="#ffc5c5"/><stop offset="0.867" stop-color="#ffb9b9"/><stop offset="0.98" stop-color="#ffb1b1"/><stop offset="1" stop-color="#ffadad"/></linearGradient><linearGradient id="hg282"><stop offset="0" stop-color="#ff9191"/><stop offset="0.429" stop-color="#ff9595"/><stop offset="0.571" stop-color="#ffcdcd"/><stop offset="0.73" stop-color="#ffc5c5"/><stop offset="0.852" stop-color="#ffb9b9"/><stop offset="0.954" stop-color="#ffb5b5"/><stop offset="1" stop-color="#ffadad"/></linearGradient><linearGradient id="hg283"><stop offset="0" stop-color="#ff9191"/><stop offset="0.423" stop-color="#ff9191"/><stop offset="0.561" stop-color="#ffc9c9"/><stop offset="0.704" stop-color="#ffc9c9"/><stop offset="0.801" stop-color="#ffbdbd"/><stop offset="0.954" stop-color="#ffb5b5"/><stop offset="1" stop-color="#ffadad"/></linearGradient><linearGradient id="hg284"><stop offset="0" stop-color="#ff8d8d"/><stop offset="0.429" stop-color="#ff9191"/><stop offset="0.566" stop-color="#ffc9c9"/><stop offset="0.709" stop-color="#ffc9c9"/><stop offset="0.796" stop-color="#ffbdbd"/><stop offset="0.954" stop-color="#ffb5b5"/><stop offset="1" stop-color="#ffadad"/></linearGradient><linearGradient id="hg285"><stop offset="0" stop-color="#ff8d8d"/><stop offset="0.429" stop-color="#ff9191"/><stop offset="0.551" stop-color="#ffc1c1"/><stop offset="0.628" stop-color="#ffcdcd"/><stop offset="0.73" stop-color="#ffc5c5"/><stop offset="0.852" stop-color="#ffb9b9"/><stop offset="0.954" stop-color="#ffb5b5"/><stop offset="1" stop-color="#ffadad"/></linearGradient><linearGradient id="hg286"><stop offset="0" stop-color="#ff8d8d"/><stop offset="0.327" stop-color="#ff8d8d"/><stop offset="0.434" stop-color="#ff9191"/><stop offset="0.546" stop-color="#ffbdbd"/><stop offset="0.643" stop-color="#ffcdcd"/><stop offset="0.709" stop-color="#ffc9c9"/><stop offset="0.796" stop-color="#ffbdbd"/><stop offset="0.954" stop-color="#ffb5b5"/><stop offset="1" stop-color="#ffadad"/></linearGradient><linearGradient id="hg287"><stop offset="0" stop-color="#ff8989"/><stop offset="0.224" stop-color="#ff9191"/><stop offset="0.347" stop-color="#ff8989"/><stop offset="0.434" stop-color="#ff9191"/><stop offset="0.515" stop-color="#ffb1b1"/><stop offset="0.668" stop-color="#ffd1d1"/><stop offset="0.796" stop-color="#ffbdbd"/><stop offset="0.954" stop-color="#ffb5b5"/><stop offset="1" stop-color="#ffadad"/></linearGradient><linearGradient id="hg288"><stop offset="0" stop-color="#ff8989"/><stop offset="0.224" stop-color="#ff9191"/><stop offset="0.321" stop-color="#ff8989"/><stop offset="0.439" stop-color="#ff9191"/><stop offset="0.51" stop-color="#ffadad"/><stop offset="0.684" stop-color="#ffd1d1"/><stop offset="0.806" stop-color="#ffbdbd"/><stop offset="0.954" stop-color="#ffb5b5"/><stop offset="1" stop-color="#ffadad"/></linearGradient><linearGradient id="hg289"><stop offset="0" stop-color="#ff8585"/><stop offset="0.209" stop-color="#ff9191"/><stop offset="0.347" stop-color="#ff8989"/><stop offset="0.439" stop-color="#ff9191"/><stop offset="0.515" stop-color="#ffa9a9"/><stop offset="0.694" stop-color="#ffd5d5"/><stop offset="0.786" stop-color="#ffc1c1"/><stop offset="0.954" stop-color="#ffb5b5"/><stop offset="1" stop-color="#ffadad"/></linearGradient><linearGradient id="hg290"><stop offset="0" stop-color="#ff8585"/><stop offset="0.209" stop-color="#ff9191"/><stop offset="0.347" stop-color="#ff8585"/><stop offset="0.454" stop-color="#ff9595"/><stop offset="0.699" stop-color="#ffd9d9"/><stop offset="0.77" stop-color="#ffc5c5"/><stop offset="0.923" stop-color="#ffb9b9"/><stop offset="1" stop-color="#ffadad"/></linearGradient><linearGradient id="hg291"><stop offset="0" stop-color="#ff8585"/><stop offset="0.209" stop-color="#ff9191"/><stop offset="0.347" stop-color="#ff8585"/><stop offset="0.464" stop-color="#ff9595"/><stop offset="0.699" stop-color="#ffdddd"/><stop offset="0.781" stop-color="#ffc5c5"/><stop offset="0.898" stop-color="#ffbdbd"/><stop offset="1" stop-color="#ffadad"/></linearGradient><linearGradient id="hg292"><stop offset="0" stop-color="#ff8585"/><stop offset="0.209" stop-color="#ff9191"/><stop offset="0.347" stop-color="#ff8585"/><stop offset="0.469" stop-color="#ff9595"/><stop offset="0.709" stop-color="#ffd9d9"/><stop offset="0.776" stop-color="#ffc9c9"/><stop offset="1" stop-color="#ffadad"/></linearGradient><linearGradient id="hg293"><stop offset="0" stop-color="#ff8585"/><stop offset="0.209" stop-color="#ff9191"/><stop offset="0.347" stop-color="#ff8585"/><stop offset="0.454" stop-color="#ff9191"/><stop offset="0.719" stop-color="#ffd5d5"/><stop offset="1" stop-color="#ffadad"/></linearGradient><linearGradient id="hg294"><stop offset="0" stop-color="#ff8585"/><stop offset="0.209" stop-color="#ff9191"/><stop offset="0.347" stop-color="#ff8585"/><stop offset="0.454" stop-color="#ff9191"/><stop offset="0.73" stop-color="#ffd1d1"/><stop offset="1" stop-color="#ffadad"/></linearGradient><linearGradient id="hg295"><stop offset="0" stop-color="#ff8585"/><stop offset="0.209" stop-color="#ff9191"/><stop offset="0.347" stop-color="#ff8585"/><stop offset="0.423" stop-color="#ff8989"/><stop offset="0.75" stop-color="#ffd1d1"/><stop offset="1" stop-color="#ffadad"/></linearGradient><linearGradient id="hg296"><stop offset="0" stop-color="#ff8585"/><stop offset="0.209" stop-color="#ff9191"/><stop offset="0.378" stop-color="#ff8585"/><stop offset="0.444" stop-color="#ff8d8d"/><stop offset="0.755" stop-color="#ffcdcd"/><stop offset="1" stop-color="#ffadad"/></linearGradient><linearGradient id="hg297"><stop offset="0" stop-color="#ff8585"/><stop offset="0.209" stop-color="#ff9191"/><stop offset="0.398" stop-color="#ff8585"/><stop offset="0.77" stop-color="#ffc9c9"/><stop offset="1" stop-color="#ffadad"/></linearGradient><linearGradient id="hg298"><stop offset="0" stop-color="#ff8585"/><stop offset="0.209" stop-color="#ff9191"/><stop offset="0.362" stop-color="#ff8989"/><stop offset="0.607" stop-color="#ffa5a5"/><stop offset="0.776" stop-color="#ffc5c5"/><stop offset="0.923" stop-color="#ffb9b9"/><stop offset="1" stop-color="#ffadad"/></linearGradient></defs><g filter="url(#vb)"><rect x="-12" y="-12" width="392" height="8.5" fill="url(#hg250)"/><rect x="-12" y="-4" width="392" height="8.5" fill="url(#hg251)"/><rect x="-12" y="4" width="392" height="8.5" fill="url(#hg252)"/><rect x="-12" y="12" width="392" height="8.5" fill="url(#hg253)"/><rect x="-12" y="20" width="392" height="8.5" fill="url(#hg254)"/><rect x="-12" y="28" width="392" height="8.5" fill="url(#hg255)"/><rect x="-12" y="36" width="392" height="8.5" fill="url(#hg256)"/><rect x="-12" y="44" width="392" height="8.5" fill="url(#hg257)"/><rect x="-12" y="52" width="392" height="8.5" fill="url(#hg258)"/><rect x="-12" y="60" width="392" height="8.5" fill="url(#hg259)"/><rect x="-12" y="68" width="392" height="8.5" fill="url(#hg260)"/><rect x="-12" y="76" width="392" height="8.5" fill="url(#hg261)"/><rect x="-12" y="84" width="392" height="8.5" fill="url(#hg262)"/><rect x="-12" y="92" width="392" height="8.5" fill="url(#hg263)"/><rect x="-12" y="100" width="392" height="8.5" fill="url(#hg264)"/><rect x="-12" y="108" width="392" height="8.5" fill="url(#hg265)"/><rect x="-12" y="116" width="392" height="8.5" fill="url(#hg266)"/><rect x="-12" y="124" width="392" height="8.5" fill="url(#hg267)"/><rect x="-12" y="132" width="392" height="8.5" fill="url(#hg268)"/><rect x="-12" y="140" width="392" height="8.5" fill="url(#hg269)"/><rect x="-12" y="148" width="392" height="8.5" fill="url(#hg270)"/><rect x="-12" y="156" width="392" height="8.5" fill="url(#hg271)"/><rect x="-12" y="164" width="392" height="8.5" fill="url(#hg272)"/><rect x="-12" y="172" width="392" height="8.5" fill="url(#hg273)"/><rect x="-12" y="180" width="392" height="8.5" fill="url(#hg274)"/><rect x="-12" y="188" width="392" height="8.5" fill="url(#hg275)"/><rect x="-12" y="196" width="392" height="8.5" fill="url(#hg276)"/><rect x="-12" y="204" width="392" height="8.5" fill="url(#hg277)"/><rect x="-12" y="212" width="392" height="8.5" fill="url(#hg278)"/><rect x="-12" y="220" width="392" height="8.5" fill="url(#hg279)"/><rect x="-12" y="228" width="392" height="8.5" fill="url(#hg280)"/><rect x="-12" y="236" width="392" height="8.5" fill="url(#hg281)"/><rect x="-12" y="244" width="392" height="8.5" fill="url(#hg282)"/><rect x="-12" y="252" width="392" height="8.5" fill="url(#hg283)"/><rect x="-12" y="260" width="392" height="8.5" fill="url(#hg284)"/><rect x="-12" y="268" width="392" height="8.5" fill="url(#hg285)"/><rect x="-12" y="276" width="392" height="8.5" fill="url(#hg286)"/><rect x="-12" y="284" width="392" height="8.5" fill="url(#hg287)"/><rect x="-12" y="292" width="392" height="8.5" fill="url(#hg288)"/><rect x="-12" y="300" width="392" height="8.5" fill="url(#hg289)"/><rect x="-12" y="308" width="392" height="8.5" fill="url(#hg290)"/><rect x="-12" y="316" width="392" height="8.5" fill="url(#hg291)"/><rect x="-12" y="324" width="392" height="8.5" fill="url(#hg292)"/><rect x="-12" y="332" width="392" height="8.5" fill="url(#hg293)"/><rect x="-12" y="340" width="392" height="8.5" fill="url(#hg294)"/><rect x="-12" y="348" width="392" height="8.5" fill="url(#hg295)"/><rect x="-12" y="356" width="392" height="8.5" fill="url(#hg296)"/><rect x="-12" y="364" width="392" height="8.5" fill="url(#hg297)"/><rect x="-12" y="372" width="392" height="8.5" fill="url(#hg298)"/></g><use href="#hy_land"/><use href="#hy_over"/><text x="95" y="75.4" font-size="20.3" text-anchor="end">Tacloban</text>
</g>
<rect x="0" y="0" width="36.8" height="37.2" fill="#fff" stroke="#000" stroke-width="1.1"/>
<text x="4.0" y="25.8" font-size="20" font-weight="bold">(g)</text>
<rect x="0" y="0" width="366.1" height="366.1" fill="none" stroke="#000" stroke-width="1.1"/>
</g>
<g transform="translate(1384.7,469.5)"><g clip-path="url(#pc)">
<defs><linearGradient id="hh299"><stop offset="0" stop-color="#ff5d5d"/><stop offset="0.148" stop-color="#ff7979"/><stop offset="0.26" stop-color="#ff7d7d"/><stop offset="0.469" stop-color="#ffb9b9"/><stop offset="0.923" stop-color="#ffb9b9"/><stop offset="1" stop-color="#ffadad"/></linearGradient><linearGradient id="hh300"><stop offset="0" stop-color="#ff5d5d"/><stop offset="0.148" stop-color="#ff7979"/><stop offset="0.27" stop-color="#ff7d7d"/><stop offset="0.439" stop-color="#ffadad"/><stop offset="0.49" stop-color="#ffbdbd"/><stop offset="0.923" stop-color="#ffb9b9"/><stop offset="1" stop-color="#ffadad"/></linearGradient><linearGradient id="hh301"><stop offset="0" stop-color="#ff5d5d"/><stop offset="0.148" stop-color="#ff7979"/><stop offset="0.281" stop-color="#ff7d7d"/><stop offset="0.413" stop-color="#ffa1a1"/><stop offset="0.485" stop-color="#ffbdbd"/><stop offset="0.923" stop-color="#ffb9b9"/><stop offset="1" stop-color="#ffadad"/></linearGradient><linearGradient id="hh302"><stop offset="0" stop-color="#ff5d5d"/><stop offset="0.148" stop-color="#ff7979"/><stop offset="0.301" stop-color="#ff7d7d"/><stop offset="0.383" stop-color="#ff9595"/><stop offset="0.485" stop-color="#ffbdbd"/><stop offset="0.923" stop-color="#ffb9b9"/><stop offset="1" stop-color="#ffadad"/></linearGradient><linearGradient id="hh303"><stop offset="0" stop-color="#ff5d5d"/><stop offset="0.148" stop-color="#ff7979"/><stop offset="0.332" stop-color="#ff7d7d"/><stop offset="0.495" stop-color="#ffbdbd"/><stop offset="0.923" stop-color="#ffb9b9"/><stop offset="1" stop-color="#ffadad"/></linearGradient><linearGradient id="hh304"><stop offset="0" stop-color="#ff5d5d"/><stop offset="0.148" stop-color="#ff7979"/><stop offset="0.281" stop-color="#ff7575"/><stop offset="0.321" stop-color="#ff5959"/><stop offset="0.464" stop-color="#ff9595"/><stop offset="0.495" stop-color="#ffb5b5"/><stop offset="0.505" stop-color="#ffbdbd"/><stop offset="0.923" stop-color="#ffb9b9"/><stop offset="1" stop-color="#ffadad"/></linearGradient><linearGradient id="hh305"><stop offset="0" stop-color="#ff5d5d"/><stop offset="0.148" stop-color="#ff7979"/><stop offset="0.255" stop-color="#ff7575"/><stop offset="0.27" stop-color="#ff6565"/><stop offset="0.311" stop-color="#ff1515"/><stop offset="0.321" stop-color="#ff0d0d"/><stop offset="0.434" stop-color="#ff3d3d"/><stop offset="0.459" stop-color="#ff5555"/><stop offset="0.505" stop-color="#ffb9b9"/><stop offset="0.923" stop-color="#ffb9b9"/><stop offset="1" stop-color="#ffadad"/></linearGradient><linearGradient id="hh306"><stop offset="0" stop-color="#ff5d5d"/><stop offset="0.148" stop-color="#ff7979"/><stop offset="0.24" stop-color="#ff7575"/><stop offset="0.255" stop-color="#ff6161"/><stop offset="0.286" stop-color="#fe0000"/><stop offset="0.316" stop-color="#dc0000"/><stop offset="0.423" stop-color="#f60000"/><stop offset="0.439" stop-color="#ff0505"/><stop offset="0.49" stop-color="#ff8585"/><stop offset="0.51" stop-color="#ffb5b5"/><stop offset="0.536" stop-color="#ffbdbd"/><stop offset="0.923" stop-color="#ffb9b9"/><stop offset="1" stop-color="#ffadad"/></linearGradient><linearGradient id="hh307"><stop offset="0" stop-color="#ff5d5d"/><stop offset="0.148" stop-color="#ff7979"/><stop offset="0.235" stop-color="#ff7575"/><stop offset="0.245" stop-color="#ff5d5d"/><stop offset="0.265" stop-color="#ff0d0d"/><stop offset="0.27" stop-color="#fc0000"/><stop offset="0.306" stop-color="#bc0000"/><stop offset="0.327" stop-color="#ae0000"/><stop offset="0.403" stop-color="#cc0000"/><stop offset="0.444" stop-color="#fc0000"/><stop offset="0.469" stop-color="#ff4545"/><stop offset="0.495" stop-color="#ff8989"/><stop offset="0.52" stop-color="#ffb9b9"/><stop offset="0.923" stop-color="#ffb9b9"/><stop offset="1" stop-color="#ffadad"/></linearGradient><linearGradient id="hh308"><stop offset="0" stop-color="#ff5d5d"/><stop offset="0.148" stop-color="#ff7979"/><stop offset="0.23" stop-color="#ff7575"/><stop offset="0.24" stop-color="#ff5d5d"/><stop offset="0.25" stop-color="#ff3535"/><stop offset="0.26" stop-color="#ff0909"/><stop offset="0.27" stop-color="#ec0000"/><stop offset="0.311" stop-color="#930000"/><stop offset="0.327" stop-color="#860000"/><stop offset="0.383" stop-color="#a60000"/><stop offset="0.444" stop-color="#ff0505"/><stop offset="0.469" stop-color="#ff5555"/><stop offset="0.5" stop-color="#ff7d7d"/><stop offset="0.526" stop-color="#ffb5b5"/><stop offset="0.536" stop-color="#ffbdbd"/><stop offset="0.923" stop-color="#ffb9b9"/><stop offset="1" stop-color="#ffadad"/></linearGradient><linearGradient id="hh309"><stop offset="0" stop-color="#ff5d5d"/><stop offset="0.148" stop-color="#ff7979"/><stop offset="0.224" stop-color="#ff7575"/><stop offset="0.24" stop-color="#ff5151"/><stop offset="0.255" stop-color="#ff0d0d"/><stop offset="0.26" stop-color="#fa0000"/><stop offset="0.316" stop-color="#820000"/><stop offset="0.357" stop-color="#840000"/><stop offset="0.413" stop-color="#de0000"/><stop offset="0.434" stop-color="#ff0505"/><stop offset="0.454" stop-color="#ff3535"/><stop offset="0.49" stop-color="#ff5151"/><stop offset="0.531" stop-color="#ffadad"/><stop offset="0.551" stop-color="#ffbdbd"/><stop offset="0.923" stop-color="#ffb9b9"/><stop offset="1" stop-color="#ffadad"/></linearGradient><linearGradient id="hh310"><stop offset="0" stop-color="#ff5d5d"/><stop offset="0.148" stop-color="#ff7979"/><stop offset="0.219" stop-color="#ff7575"/><stop offset="0.23" stop-color="#ff6969"/><stop offset="0.245" stop-color="#ff3535"/><stop offset="0.255" stop-color="#ff0909"/><stop offset="0.265" stop-color="#ee0000"/><stop offset="0.321" stop-color="#800000"/><stop offset="0.352" stop-color="#860000"/><stop offset="0.372" stop-color="#ba0000"/><stop offset="0.423" stop-color="#fe0000"/><stop offset="0.449" stop-color="#ff1515"/><stop offset="0.474" stop-color="#ff1919"/><stop offset="0.52" stop-color="#ff6d6d"/><stop offset="0.541" stop-color="#ffa5a5"/><stop offset="0.566" stop-color="#ffb9b9"/><stop offset="0.622" stop-color="#ffb9b9"/><stop offset="0.923" stop-color="#ffb9b9"/><stop offset="1" stop-color="#ffadad"/></linearGradient><linearGradient id="hh311"><stop offset="0" stop-color="#ff5d5d"/><stop offset="0.148" stop-color="#ff7979"/><stop offset="0.224" stop-color="#ff7575"/><stop offset="0.25" stop-color="#ff4141"/><stop offset="0.27" stop-color="#fc0000"/><stop offset="0.321" stop-color="#980000"/><stop offset="0.342" stop-color="#920000"/><stop offset="0.352" stop-color="#9e0000"/><stop offset="0.378" stop-color="#e80000"/><stop offset="0.413" stop-color="#fa0000"/><stop offset="0.49" stop-color="#ff0101"/><stop offset="0.51" stop-color="#ff2121"/><stop offset="0.556" stop-color="#ff9d9d"/><stop offset="0.577" stop-color="#ffadad"/><stop offset="0.617" stop-color="#ffb5b5"/><stop offset="0.811" stop-color="#ffbdbd"/><stop offset="0.954" stop-color="#ffb5b5"/><stop offset="1" stop-color="#ffadad"/></linearGradient><linearGradient id="hh312"><stop offset="0" stop-color="#ff5d5d"/><stop offset="0.148" stop-color="#ff7979"/><stop offset="0.224" stop-color="#ff7575"/><stop offset="0.25" stop-color="#ff5555"/><stop offset="0.286" stop-color="#fe0000"/><stop offset="0.327" stop-color="#ba0000"/><stop offset="0.347" stop-color="#bc0000"/><stop offset="0.378" stop-color="#f40000"/><stop offset="0.403" stop-color="#fc0000"/><stop offset="0.459" stop-color="#f80000"/><stop offset="0.51" stop-color="#f80000"/><stop offset="0.52" stop-color="#ff0101"/><stop offset="0.546" stop-color="#ff4141"/><stop offset="0.571" stop-color="#ff7d7d"/><stop offset="0.597" stop-color="#ffa1a1"/><stop offset="0.622" stop-color="#ffb5b5"/><stop offset="0.811" stop-color="#ffbdbd"/><stop offset="0.954" stop-color="#ffb5b5"/><stop offset="1" stop-color="#ffadad"/></linearGradient><linearGradient id="hh313"><stop offset="0" stop-color="#ff5d5d"/><stop offset="0.148" stop-color="#ff7979"/><stop offset="0.224" stop-color="#ff7575"/><stop offset="0.25" stop-color="#ff5555"/><stop offset="0.291" stop-color="#ff1111"/><stop offset="0.301" stop-color="#fc0000"/><stop offset="0.332" stop-color="#d60000"/><stop offset="0.362" stop-color="#e20000"/><stop offset="0.398" stop-color="#fe0000"/><stop offset="0.48" stop-color="#f60000"/><stop offset="0.536" stop-color="#f60000"/><stop offset="0.546" stop-color="#fe0000"/><stop offset="0.577" stop-color="#ff4141"/><stop offset="0.607" stop-color="#ff9d9d"/><stop offset="0.617" stop-color="#ffadad"/><stop offset="0.643" stop-color="#ffb5b5"/><stop offset="0.811" stop-color="#ffbdbd"/><stop offset="0.954" stop-color="#ffb5b5"/><stop offset="1" stop-color="#ffadad"/></linearGradient><linearGradient id="hh314"><stop offset="0" stop-color="#ff5d5d"/><stop offset="0.148" stop-color="#ff7979"/><stop offset="0.224" stop-color="#ff7575"/><stop offset="0.25" stop-color="#ff5555"/><stop offset="0.306" stop-color="#ff0101"/><stop offset="0.337" stop-color="#ee0000"/><stop offset="0.423" stop-color="#ff0101"/><stop offset="0.495" stop-color="#fa0000"/><stop offset="0.551" stop-color="#f00000"/><stop offset="0.571" stop-color="#fc0000"/><stop offset="0.582" stop-color="#ff1919"/><stop offset="0.607" stop-color="#ff8585"/><stop offset="0.622" stop-color="#ffa9a9"/><stop offset="0.653" stop-color="#ffb9b9"/><stop offset="0.923" stop-color="#ffb9b9"/><stop offset="1" stop-color="#ffadad"/></linearGradient><linearGradient id="hh315"><stop offset="0" stop-color="#ff5d5d"/><stop offset="0.148" stop-color="#ff7979"/><stop offset="0.224" stop-color="#ff7575"/><stop offset="0.25" stop-color="#ff5555"/><stop offset="0.311" stop-color="#ff0101"/><stop offset="0.342" stop-color="#fa0000"/><stop offset="0.423" stop-color="#ff0505"/><stop offset="0.454" stop-color="#ff1515"/><stop offset="0.469" stop-color="#ff4545"/><stop offset="0.474" stop-color="#ff5959"/><stop offset="0.485" stop-color="#ff6161"/><stop offset="0.51" stop-color="#ff5959"/><stop offset="0.546" stop-color="#ff1919"/><stop offset="0.577" stop-color="#fe0000"/><stop offset="0.587" stop-color="#ff1111"/><stop offset="0.612" stop-color="#ff7575"/><stop offset="0.638" stop-color="#ffa9a9"/><stop offset="0.663" stop-color="#ffbdbd"/><stop offset="0.954" stop-color="#ffb5b5"/><stop offset="1" stop-color="#ffadad"/></linearGradient><linearGradient id="hh316"><stop offset="0" stop-color="#ff5d5d"/><stop offset="0.148" stop-color="#ff7979"/><stop offset="0.224" stop-color="#ff7575"/><stop offset="0.281" stop-color="#ff2d2d"/><stop offset="0.316" stop-color="#ff0101"/><stop offset="0.413" stop-color="#ff0505"/><stop offset="0.439" stop-color="#ff2121"/><stop offset="0.449" stop-color="#ff3131"/><stop offset="0.454" stop-color="#ff4141"/><stop offset="0.464" stop-color="#ff8181"/><stop offset="0.474" stop-color="#ffc9c9"/><stop offset="0.485" stop-color="#fff5f5"/><stop offset="0.49" stop-color="#f9f9ff"/><stop offset="0.505" stop-color="#d5d5ff"/><stop offset="0.51" stop-color="#d1d1ff"/><stop offset="0.531" stop-color="#f9f9ff"/><stop offset="0.541" stop-color="#ffe9e9"/><stop offset="0.556" stop-color="#ffb9b9"/><stop offset="0.566" stop-color="#ff8181"/><stop offset="0.577" stop-color="#ff4949"/><stop offset="0.582" stop-color="#ff3939"/><stop offset="0.587" stop-color="#ff3939"/><stop offset="0.617" stop-color="#ff8989"/><stop offset="0.648" stop-color="#ffb5b5"/><stop offset="0.673" stop-color="#ffbdbd"/><stop offset="0.954" stop-color="#ffb5b5"/><stop offset="1" stop-color="#ffadad"/></linearGradient><linearGradient id="hh317"><stop offset="0" stop-color="#ff5d5d"/><stop offset="0.133" stop-color="#ff7575"/><stop offset="0.23" stop-color="#ff7171"/><stop offset="0.306" stop-color="#ff1111"/><stop offset="0.342" stop-color="#fe0000"/><stop offset="0.413" stop-color="#ff0505"/><stop offset="0.439" stop-color="#ff2525"/><stop offset="0.449" stop-color="#ff4545"/><stop offset="0.459" stop-color="#ff7d7d"/><stop offset="0.474" stop-color="#fffdfd"/><stop offset="0.485" stop-color="#b5b5ff"/><stop offset="0.495" stop-color="#7d7dff"/><stop offset="0.505" stop-color="#5555ff"/><stop offset="0.515" stop-color="#3d3dff"/><stop offset="0.531" stop-color="#3939ff"/><stop offset="0.541" stop-color="#5151ff"/><stop offset="0.551" stop-color="#8181ff"/><stop offset="0.566" stop-color="#fff9f9"/><stop offset="0.577" stop-color="#ffa9a9"/><stop offset="0.582" stop-color="#ff9595"/><stop offset="0.592" stop-color="#ff9595"/><stop offset="0.617" stop-color="#ffb5b5"/><stop offset="0.679" stop-color="#ffc1c1"/><stop offset="0.954" stop-color="#ffb5b5"/><stop offset="1" stop-color="#ffadad"/></linearGradient><linearGradient id="hh318"><stop offset="0" stop-color="#ff5d5d"/><stop offset="0.133" stop-color="#ff7575"/><stop offset="0.199" stop-color="#ff6d6d"/><stop offset="0.235" stop-color="#ff6d6d"/><stop offset="0.286" stop-color="#ff2d2d"/><stop offset="0.357" stop-color="#ff0101"/><stop offset="0.408" stop-color="#ff0505"/><stop offset="0.439" stop-color="#ff1d1d"/><stop offset="0.454" stop-color="#ff3d3d"/><stop offset="0.464" stop-color="#ff6d6d"/><stop offset="0.469" stop-color="#ff9191"/><stop offset="0.48" stop-color="#fff9f9"/><stop offset="0.495" stop-color="#7d7dff"/><stop offset="0.505" stop-color="#4d4dff"/><stop offset="0.515" stop-color="#2d2dff"/><stop offset="0.531" stop-color="#0909ff"/><stop offset="0.541" stop-color="#0909ff"/><stop offset="0.546" stop-color="#1919ff"/><stop offset="0.551" stop-color="#3535ff"/><stop offset="0.561" stop-color="#9595ff"/><stop offset="0.571" stop-color="#f9f9ff"/><stop offset="0.582" stop-color="#ffc9c9"/><stop offset="0.587" stop-color="#ffbdbd"/><stop offset="0.811" stop-color="#ffbdbd"/><stop offset="0.954" stop-color="#ffb5b5"/><stop offset="1" stop-color="#ffadad"/></linearGradient><linearGradient id="hh319"><stop offset="0" stop-color="#ff5d5d"/><stop offset="0.133" stop-color="#ff7575"/><stop offset="0.194" stop-color="#ff6565"/><stop offset="0.23" stop-color="#ff7171"/><stop offset="0.281" stop-color="#ff3939"/><stop offset="0.342" stop-color="#ff1d1d"/><stop offset="0.388" stop-color="#ff1d1d"/><stop offset="0.423" stop-color="#ff3939"/><stop offset="0.449" stop-color="#ff6565"/><stop offset="0.464" stop-color="#ff9595"/><stop offset="0.48" stop-color="#fff5f5"/><stop offset="0.485" stop-color="#e1e1ff"/><stop offset="0.495" stop-color="#a1a1ff"/><stop offset="0.505" stop-color="#7979ff"/><stop offset="0.541" stop-color="#4949ff"/><stop offset="0.546" stop-color="#5151ff"/><stop offset="0.556" stop-color="#8989ff"/><stop offset="0.566" stop-color="#e1e1ff"/><stop offset="0.571" stop-color="#fff9f9"/><stop offset="0.577" stop-color="#ffd9d9"/><stop offset="0.587" stop-color="#ffc1c1"/><stop offset="0.954" stop-color="#ffb5b5"/><stop offset="1" stop-color="#ffadad"/></linearGradient><linearGradient id="hh320"><stop offset="0" stop-color="#ff5d5d"/><stop offset="0.133" stop-color="#ff7575"/><stop offset="0.199" stop-color="#ff6161"/><stop offset="0.23" stop-color="#ff7171"/><stop offset="0.281" stop-color="#ff4949"/><stop offset="0.321" stop-color="#ff4141"/><stop offset="0.388" stop-color="#ff5151"/><stop offset="0.418" stop-color="#ff7171"/><stop offset="0.459" stop-color="#ffb1b1"/><stop offset="0.474" stop-color="#ffd9d9"/><stop offset="0.485" stop-color="#fdfdff"/><stop offset="0.495" stop-color="#d5d5ff"/><stop offset="0.505" stop-color="#d5d5ff"/><stop offset="0.515" stop-color="#fdfdff"/><stop offset="0.526" stop-color="#ffe5e5"/><stop offset="0.536" stop-color="#fdfdff"/><stop offset="0.546" stop-color="#e5e5ff"/><stop offset="0.556" stop-color="#f9f9ff"/><stop offset="0.566" stop-color="#ffe1e1"/><stop offset="0.577" stop-color="#ffc9c9"/><stop offset="0.587" stop-color="#ffc1c1"/><stop offset="0.954" stop-color="#ffb5b5"/><stop offset="1" stop-color="#ffadad"/></linearGradient><linearGradient id="hh321"><stop offset="0" stop-color="#ff5d5d"/><stop offset="0.133" stop-color="#ff7575"/><stop offset="0.199" stop-color="#ff5d5d"/><stop offset="0.23" stop-color="#ff7171"/><stop offset="0.286" stop-color="#ff6969"/><stop offset="0.403" stop-color="#ff8585"/><stop offset="0.485" stop-color="#fff1f1"/><stop offset="0.495" stop-color="#fff9f9"/><stop offset="0.505" stop-color="#ffe5e5"/><stop offset="0.52" stop-color="#ffa9a9"/><stop offset="0.531" stop-color="#ff9595"/><stop offset="0.566" stop-color="#ffc1c1"/><stop offset="0.735" stop-color="#ffc1c1"/><stop offset="0.954" stop-color="#ffb5b5"/><stop offset="1" stop-color="#ffadad"/></linearGradient><linearGradient id="hh322"><stop offset="0" stop-color="#ff5d5d"/><stop offset="0.138" stop-color="#ff7979"/><stop offset="0.194" stop-color="#ff6565"/><stop offset="0.24" stop-color="#ff7979"/><stop offset="0.413" stop-color="#ffa1a1"/><stop offset="0.485" stop-color="#ffe9e9"/><stop offset="0.51" stop-color="#ffdddd"/><stop offset="0.536" stop-color="#ffa9a9"/><stop offset="0.546" stop-color="#ffb1b1"/><stop offset="0.566" stop-color="#ffc5c5"/><stop offset="0.709" stop-color="#ffc5c5"/><stop offset="0.893" stop-color="#ffb9b9"/><stop offset="1" stop-color="#ffadad"/></linearGradient><linearGradient id="hh323"><stop offset="0" stop-color="#ff5d5d"/><stop offset="0.148" stop-color="#ff7979"/><stop offset="0.235" stop-color="#ff7979"/><stop offset="0.418" stop-color="#ffa1a1"/><stop offset="0.469" stop-color="#ffd1d1"/><stop offset="0.52" stop-color="#ffd1d1"/><stop offset="0.546" stop-color="#ffc5c5"/><stop offset="0.602" stop-color="#ffcdcd"/><stop offset="0.883" stop-color="#ffb9b9"/><stop offset="1" stop-color="#ffadad"/></linearGradient><linearGradient id="hh324"><stop offset="0" stop-color="#ff5d5d"/><stop offset="0.148" stop-color="#ff7979"/><stop offset="0.255" stop-color="#ff7d7d"/><stop offset="0.429" stop-color="#ffa1a1"/><stop offset="0.459" stop-color="#ffb9b9"/><stop offset="0.602" stop-color="#ffd1d1"/><stop offset="0.719" stop-color="#ffc5c5"/><stop offset="0.862" stop-color="#ffb9b9"/><stop offset="0.98" stop-color="#ffb1b1"/><stop offset="1" stop-color="#ffadad"/></linearGradient><linearGradient id="hh325"><stop offset="0" stop-color="#ff5d5d"/><stop offset="0.148" stop-color="#ff7979"/><stop offset="0.255" stop-color="#ff7d7d"/><stop offset="0.439" stop-color="#ffa1a1"/><stop offset="0.582" stop-color="#ffd1d1"/><stop offset="0.658" stop-color="#ffd1d1"/><stop offset="0.776" stop-color="#ffbdbd"/><stop offset="0.954" stop-color="#ffb5b5"/><stop offset="1" stop-color="#ffadad"/></linearGradient><linearGradient id="hh326"><stop offset="0" stop-color="#ff5d5d"/><stop offset="0.148" stop-color="#ff7979"/><stop offset="0.255" stop-color="#ff7d7d"/><stop offset="0.439" stop-color="#ff9d9d"/><stop offset="0.577" stop-color="#ffcdcd"/><stop offset="0.638" stop-color="#ffd5d5"/><stop offset="0.77" stop-color="#ffbdbd"/><stop offset="0.954" stop-color="#ffb5b5"/><stop offset="1" stop-color="#ffadad"/></linearGradient><linearGradient id="hh327"><stop offset="0" stop-color="#ff5d5d"/><stop offset="0.148" stop-color="#ff7979"/><stop offset="0.27" stop-color="#ff7d7d"/><stop offset="0.429" stop-color="#ff9999"/><stop offset="0.587" stop-color="#ffcdcd"/><stop offset="0.673" stop-color="#ffcdcd"/><stop offset="0.791" stop-color="#ffbdbd"/><stop offset="0.954" stop-color="#ffb5b5"/><stop offset="1" stop-color="#ffadad"/></linearGradient><linearGradient id="hh328"><stop offset="0" stop-color="#ff5d5d"/><stop offset="0.148" stop-color="#ff7979"/><stop offset="0.301" stop-color="#ff7d7d"/><stop offset="0.408" stop-color="#ff9191"/><stop offset="0.582" stop-color="#ffcdcd"/><stop offset="0.719" stop-color="#ffc5c5"/><stop offset="0.862" stop-color="#ffb9b9"/><stop offset="0.98" stop-color="#ffb1b1"/><stop offset="1" stop-color="#ffadad"/></linearGradient><linearGradient id="hh329"><stop offset="0" stop-color="#ff5d5d"/><stop offset="0.148" stop-color="#ff7979"/><stop offset="0.337" stop-color="#ff7d7d"/><stop offset="0.413" stop-color="#ff9191"/><stop offset="0.566" stop-color="#ffc9c9"/><stop offset="0.724" stop-color="#ffc5c5"/><stop offset="0.806" stop-color="#ffbdbd"/><stop offset="0.954" stop-color="#ffb5b5"/><stop offset="1" stop-color="#ffadad"/></linearGradient><linearGradient id="hh330"><stop offset="0" stop-color="#ff5d5d"/><stop offset="0.148" stop-color="#ff7979"/><stop offset="0.362" stop-color="#ff7d7d"/><stop offset="0.449" stop-color="#ff9d9d"/><stop offset="0.561" stop-color="#ffc9c9"/><stop offset="0.724" stop-color="#ffc5c5"/><stop offset="0.867" stop-color="#ffb9b9"/><stop offset="0.98" stop-color="#ffb1b1"/><stop offset="1" stop-color="#ffadad"/></linearGradient><linearGradient id="hh331"><stop offset="0" stop-color="#ff5d5d"/><stop offset="0.148" stop-color="#ff7979"/><stop offset="0.388" stop-color="#ff7d7d"/><stop offset="0.449" stop-color="#ff9595"/><stop offset="0.556" stop-color="#ffc9c9"/><stop offset="0.73" stop-color="#ffc5c5"/><stop offset="0.852" stop-color="#ffb9b9"/><stop offset="0.954" stop-color="#ffb5b5"/><stop offset="1" stop-color="#ffadad"/></linearGradient><linearGradient id="hh332"><stop offset="0" stop-color="#ff5d5d"/><stop offset="0.148" stop-color="#ff7979"/><stop offset="0.418" stop-color="#ff7d7d"/><stop offset="0.561" stop-color="#ffc9c9"/><stop offset="0.704" stop-color="#ffc9c9"/><stop offset="0.801" stop-color="#ffbdbd"/><stop offset="0.954" stop-color="#ffb5b5"/><stop offset="1" stop-color="#ffadad"/></linearGradient><linearGradient id="hh333"><stop offset="0" stop-color="#ff5d5d"/><stop offset="0.153" stop-color="#ff7979"/><stop offset="0.423" stop-color="#ff7979"/><stop offset="0.556" stop-color="#ffc5c5"/><stop offset="0.638" stop-color="#ffcdcd"/><stop offset="0.755" stop-color="#ffc1c1"/><stop offset="0.954" stop-color="#ffb5b5"/><stop offset="1" stop-color="#ffadad"/></linearGradient><linearGradient id="hh334"><stop offset="0" stop-color="#ff5959"/><stop offset="0.148" stop-color="#ff7979"/><stop offset="0.423" stop-color="#ff7979"/><stop offset="0.546" stop-color="#ffbdbd"/><stop offset="0.628" stop-color="#ffcdcd"/><stop offset="0.73" stop-color="#ffc5c5"/><stop offset="0.852" stop-color="#ffb9b9"/><stop offset="0.954" stop-color="#ffb5b5"/><stop offset="1" stop-color="#ffadad"/></linearGradient><linearGradient id="hh335"><stop offset="0" stop-color="#ff5959"/><stop offset="0.148" stop-color="#ff7979"/><stop offset="0.429" stop-color="#ff7979"/><stop offset="0.531" stop-color="#ffb1b1"/><stop offset="0.633" stop-color="#ffcdcd"/><stop offset="0.709" stop-color="#ffc9c9"/><stop offset="0.796" stop-color="#ffbdbd"/><stop offset="0.954" stop-color="#ffb5b5"/><stop offset="1" stop-color="#ffadad"/></linearGradient><linearGradient id="hh336"><stop offset="0" stop-color="#ff5959"/><stop offset="0.122" stop-color="#ff7575"/><stop offset="0.311" stop-color="#ff7575"/><stop offset="0.413" stop-color="#ff7575"/><stop offset="0.469" stop-color="#ff9191"/><stop offset="0.536" stop-color="#ffadad"/><stop offset="0.648" stop-color="#ffcdcd"/><stop offset="0.699" stop-color="#ffcdcd"/><stop offset="0.791" stop-color="#ffbdbd"/><stop offset="0.954" stop-color="#ffb5b5"/><stop offset="1" stop-color="#ffadad"/></linearGradient><linearGradient id="hh337"><stop offset="0" stop-color="#ff5555"/><stop offset="0.148" stop-color="#ff7979"/><stop offset="0.265" stop-color="#ff7575"/><stop offset="0.413" stop-color="#ff7575"/><stop offset="0.459" stop-color="#ff8989"/><stop offset="0.541" stop-color="#ffa9a9"/><stop offset="0.684" stop-color="#ffd1d1"/><stop offset="0.806" stop-color="#ffbdbd"/><stop offset="0.954" stop-color="#ffb5b5"/><stop offset="1" stop-color="#ffadad"/></linearGradient><linearGradient id="hh338"><stop offset="0" stop-color="#ff5555"/><stop offset="0.148" stop-color="#ff7979"/><stop offset="0.265" stop-color="#ff7575"/><stop offset="0.418" stop-color="#ff7575"/><stop offset="0.531" stop-color="#ffa1a1"/><stop offset="0.694" stop-color="#ffd5d5"/><stop offset="0.786" stop-color="#ffc1c1"/><stop offset="0.954" stop-color="#ffb5b5"/><stop offset="1" stop-color="#ffadad"/></linearGradient><linearGradient id="hh339"><stop offset="0" stop-color="#ff5151"/><stop offset="0.143" stop-color="#ff7979"/><stop offset="0.265" stop-color="#ff7575"/><stop offset="0.418" stop-color="#ff7575"/><stop offset="0.699" stop-color="#ffd9d9"/><stop offset="0.77" stop-color="#ffc5c5"/><stop offset="0.923" stop-color="#ffb9b9"/><stop offset="1" stop-color="#ffadad"/></linearGradient><linearGradient id="hh340"><stop offset="0" stop-color="#ff5151"/><stop offset="0.143" stop-color="#ff7979"/><stop offset="0.265" stop-color="#ff7575"/><stop offset="0.342" stop-color="#ff6d6d"/><stop offset="0.454" stop-color="#ff7d7d"/><stop offset="0.694" stop-color="#ffd9d9"/><stop offset="0.735" stop-color="#ffd1d1"/><stop offset="0.786" stop-color="#ffc5c5"/><stop offset="0.898" stop-color="#ffbdbd"/><stop offset="1" stop-color="#ffadad"/></linearGradient><linearGradient id="hh341"><stop offset="0" stop-color="#ff5151"/><stop offset="0.143" stop-color="#ff7979"/><stop offset="0.265" stop-color="#ff7575"/><stop offset="0.347" stop-color="#ff6d6d"/><stop offset="0.454" stop-color="#ff7d7d"/><stop offset="0.709" stop-color="#ffd9d9"/><stop offset="0.776" stop-color="#ffc9c9"/><stop offset="1" stop-color="#ffadad"/></linearGradient><linearGradient id="hh342"><stop offset="0" stop-color="#ff5151"/><stop offset="0.143" stop-color="#ff7979"/><stop offset="0.265" stop-color="#ff7575"/><stop offset="0.347" stop-color="#ff6d6d"/><stop offset="0.454" stop-color="#ff7d7d"/><stop offset="0.648" stop-color="#ffbdbd"/><stop offset="0.714" stop-color="#ffd5d5"/><stop offset="1" stop-color="#ffadad"/></linearGradient><linearGradient id="hh343"><stop offset="0" stop-color="#ff5151"/><stop offset="0.143" stop-color="#ff7979"/><stop offset="0.265" stop-color="#ff7575"/><stop offset="0.347" stop-color="#ff6d6d"/><stop offset="0.429" stop-color="#ff7575"/><stop offset="0.73" stop-color="#ffd1d1"/><stop offset="1" stop-color="#ffadad"/></linearGradient><linearGradient id="hh344"><stop offset="0" stop-color="#ff5151"/><stop offset="0.143" stop-color="#ff7979"/><stop offset="0.265" stop-color="#ff7575"/><stop offset="0.378" stop-color="#ff6d6d"/><stop offset="0.48" stop-color="#ff8585"/><stop offset="0.745" stop-color="#ffd1d1"/><stop offset="1" stop-color="#ffadad"/></linearGradient><linearGradient id="hh345"><stop offset="0" stop-color="#ff5151"/><stop offset="0.143" stop-color="#ff7979"/><stop offset="0.265" stop-color="#ff7575"/><stop offset="0.398" stop-color="#ff6d6d"/><stop offset="0.75" stop-color="#ffcdcd"/><stop offset="1" stop-color="#ffadad"/></linearGradient><linearGradient id="hh346"><stop offset="0" stop-color="#ff5151"/><stop offset="0.143" stop-color="#ff7979"/><stop offset="0.27" stop-color="#ff7575"/><stop offset="0.383" stop-color="#ff7171"/><stop offset="0.515" stop-color="#ff8989"/><stop offset="0.76" stop-color="#ffc9c9"/><stop offset="0.954" stop-color="#ffb5b5"/><stop offset="1" stop-color="#ffadad"/></linearGradient><linearGradient id="hh347"><stop offset="0" stop-color="#ff5151"/><stop offset="0.143" stop-color="#ff7979"/><stop offset="0.342" stop-color="#ff7575"/><stop offset="0.541" stop-color="#ff8d8d"/><stop offset="0.776" stop-color="#ffc5c5"/><stop offset="0.923" stop-color="#ffb9b9"/><stop offset="1" stop-color="#ffadad"/></linearGradient></defs><g filter="url(#vb)"><rect x="-12" y="-12" width="392" height="8.5" fill="url(#hh299)"/><rect x="-12" y="-4" width="392" height="8.5" fill="url(#hh300)"/><rect x="-12" y="4" width="392" height="8.5" fill="url(#hh301)"/><rect x="-12" y="12" width="392" height="8.5" fill="url(#hh302)"/><rect x="-12" y="20" width="392" height="8.5" fill="url(#hh303)"/><rect x="-12" y="28" width="392" height="8.5" fill="url(#hh304)"/><rect x="-12" y="36" width="392" height="8.5" fill="url(#hh305)"/><rect x="-12" y="44" width="392" height="8.5" fill="url(#hh306)"/><rect x="-12" y="52" width="392" height="8.5" fill="url(#hh307)"/><rect x="-12" y="60" width="392" height="8.5" fill="url(#hh308)"/><rect x="-12" y="68" width="392" height="8.5" fill="url(#hh309)"/><rect x="-12" y="76" width="392" height="8.5" fill="url(#hh310)"/><rect x="-12" y="84" width="392" height="8.5" fill="url(#hh311)"/><rect x="-12" y="92" width="392" height="8.5" fill="url(#hh312)"/><rect x="-12" y="100" width="392" height="8.5" fill="url(#hh313)"/><rect x="-12" y="108" width="392" height="8.5" fill="url(#hh314)"/><rect x="-12" y="116" width="392" height="8.5" fill="url(#hh315)"/><rect x="-12" y="124" width="392" height="8.5" fill="url(#hh316)"/><rect x="-12" y="132" width="392" height="8.5" fill="url(#hh317)"/><rect x="-12" y="140" width="392" height="8.5" fill="url(#hh318)"/><rect x="-12" y="148" width="392" height="8.5" fill="url(#hh319)"/><rect x="-12" y="156" width="392" height="8.5" fill="url(#hh320)"/><rect x="-12" y="164" width="392" height="8.5" fill="url(#hh321)"/><rect x="-12" y="172" width="392" height="8.5" fill="url(#hh322)"/><rect x="-12" y="180" width="392" height="8.5" fill="url(#hh323)"/><rect x="-12" y="188" width="392" height="8.5" fill="url(#hh324)"/><rect x="-12" y="196" width="392" height="8.5" fill="url(#hh325)"/><rect x="-12" y="204" width="392" height="8.5" fill="url(#hh326)"/><rect x="-12" y="212" width="392" height="8.5" fill="url(#hh327)"/><rect x="-12" y="220" width="392" height="8.5" fill="url(#hh328)"/><rect x="-12" y="228" width="392" height="8.5" fill="url(#hh329)"/><rect x="-12" y="236" width="392" height="8.5" fill="url(#hh330)"/><rect x="-12" y="244" width="392" height="8.5" fill="url(#hh331)"/><rect x="-12" y="252" width="392" height="8.5" fill="url(#hh332)"/><rect x="-12" y="260" width="392" height="8.5" fill="url(#hh333)"/><rect x="-12" y="268" width="392" height="8.5" fill="url(#hh334)"/><rect x="-12" y="276" width="392" height="8.5" fill="url(#hh335)"/><rect x="-12" y="284" width="392" height="8.5" fill="url(#hh336)"/><rect x="-12" y="292" width="392" height="8.5" fill="url(#hh337)"/><rect x="-12" y="300" width="392" height="8.5" fill="url(#hh338)"/><rect x="-12" y="308" width="392" height="8.5" fill="url(#hh339)"/><rect x="-12" y="316" width="392" height="8.5" fill="url(#hh340)"/><rect x="-12" y="324" width="392" height="8.5" fill="url(#hh341)"/><rect x="-12" y="332" width="392" height="8.5" fill="url(#hh342)"/><rect x="-12" y="340" width="392" height="8.5" fill="url(#hh343)"/><rect x="-12" y="348" width="392" height="8.5" fill="url(#hh344)"/><rect x="-12" y="356" width="392" height="8.5" fill="url(#hh345)"/><rect x="-12" y="364" width="392" height="8.5" fill="url(#hh346)"/><rect x="-12" y="372" width="392" height="8.5" fill="url(#hh347)"/></g><use href="#hy_land"/><use href="#hy_over"/><text x="95" y="75.4" font-size="20.3" text-anchor="end">Tacloban</text>
</g>
<rect x="0" y="0" width="36.8" height="37.2" fill="#fff" stroke="#000" stroke-width="1.1"/>
<text x="4.0" y="25.8" font-size="20" font-weight="bold">(h)</text>
<rect x="0" y="0" width="366.1" height="366.1" fill="none" stroke="#000" stroke-width="1.1"/>
</g>
<g transform="translate(123.5,896.5)"><g clip-path="url(#pc)">
<defs><linearGradient id="xi348"><stop offset="0" stop-color="#ff9800"/><stop offset="0.0867" stop-color="#ff9c00"/><stop offset="0.158" stop-color="#ffa700"/><stop offset="0.24" stop-color="#ffa300"/><stop offset="0.321" stop-color="#ff9c00"/><stop offset="0.388" stop-color="#ff8600"/><stop offset="0.418" stop-color="#ff6f00"/><stop offset="0.449" stop-color="#ff6c00"/><stop offset="0.464" stop-color="#ff5500"/><stop offset="0.485" stop-color="#ff2900"/><stop offset="0.505" stop-color="#ff1a00"/><stop offset="0.847" stop-color="#ff1600"/><stop offset="0.867" stop-color="#fa0f00"/><stop offset="0.913" stop-color="#f10800"/><stop offset="1" stop-color="#f10800"/></linearGradient><linearGradient id="xi349"><stop offset="0" stop-color="#ff9800"/><stop offset="0.0765" stop-color="#ff9c00"/><stop offset="0.122" stop-color="#ffa300"/><stop offset="0.235" stop-color="#ffa300"/><stop offset="0.316" stop-color="#ff9c00"/><stop offset="0.352" stop-color="#ff9100"/><stop offset="0.383" stop-color="#ff8600"/><stop offset="0.413" stop-color="#ff6f00"/><stop offset="0.449" stop-color="#ff6c00"/><stop offset="0.485" stop-color="#ff2200"/><stop offset="0.531" stop-color="#ff1a00"/><stop offset="0.821" stop-color="#ff1600"/><stop offset="0.883" stop-color="#f10800"/><stop offset="1" stop-color="#f10800"/></linearGradient><linearGradient id="xi350"><stop offset="0" stop-color="#ff9800"/><stop offset="0.0612" stop-color="#ff9c00"/><stop offset="0.122" stop-color="#ffa300"/><stop offset="0.23" stop-color="#ffa300"/><stop offset="0.306" stop-color="#ff9c00"/><stop offset="0.352" stop-color="#ff9100"/><stop offset="0.378" stop-color="#ff8600"/><stop offset="0.408" stop-color="#ff6f00"/><stop offset="0.444" stop-color="#ff6c00"/><stop offset="0.459" stop-color="#ff5200"/><stop offset="0.48" stop-color="#ff2500"/><stop offset="0.5" stop-color="#ff1a00"/><stop offset="0.796" stop-color="#ff1600"/><stop offset="0.857" stop-color="#f10800"/><stop offset="1" stop-color="#f10800"/></linearGradient><linearGradient id="xi351"><stop offset="0" stop-color="#ff9800"/><stop offset="0.173" stop-color="#ffa700"/><stop offset="0.301" stop-color="#ff9c00"/><stop offset="0.337" stop-color="#ff9100"/><stop offset="0.372" stop-color="#ff8600"/><stop offset="0.403" stop-color="#ff6f00"/><stop offset="0.439" stop-color="#ff6c00"/><stop offset="0.454" stop-color="#ff5200"/><stop offset="0.474" stop-color="#ff2500"/><stop offset="0.5" stop-color="#ff1a00"/><stop offset="0.77" stop-color="#ff1600"/><stop offset="0.832" stop-color="#f10800"/><stop offset="1" stop-color="#f10800"/></linearGradient><linearGradient id="xi352"><stop offset="0" stop-color="#ff9c00"/><stop offset="0.204" stop-color="#ffa300"/><stop offset="0.291" stop-color="#ff9c00"/><stop offset="0.337" stop-color="#ff9100"/><stop offset="0.367" stop-color="#ff8600"/><stop offset="0.398" stop-color="#ff6f00"/><stop offset="0.434" stop-color="#ff6c00"/><stop offset="0.449" stop-color="#ff5500"/><stop offset="0.469" stop-color="#ff2500"/><stop offset="0.495" stop-color="#ff1a00"/><stop offset="0.745" stop-color="#ff1600"/><stop offset="0.806" stop-color="#f10800"/><stop offset="1" stop-color="#f10800"/></linearGradient><linearGradient id="xi353"><stop offset="0" stop-color="#ffa300"/><stop offset="0.209" stop-color="#ff9f00"/><stop offset="0.291" stop-color="#ff9800"/><stop offset="0.337" stop-color="#ff9100"/><stop offset="0.362" stop-color="#ff8600"/><stop offset="0.393" stop-color="#ff6f00"/><stop offset="0.429" stop-color="#ff6c00"/><stop offset="0.444" stop-color="#ff5900"/><stop offset="0.464" stop-color="#ff2900"/><stop offset="0.485" stop-color="#ff1a00"/><stop offset="0.709" stop-color="#ff1600"/><stop offset="0.781" stop-color="#f10800"/><stop offset="1" stop-color="#f10800"/></linearGradient><linearGradient id="xi354"><stop offset="0" stop-color="#ffae00"/><stop offset="0.184" stop-color="#ffa700"/><stop offset="0.321" stop-color="#ff8900"/><stop offset="0.357" stop-color="#ff8200"/><stop offset="0.388" stop-color="#ff6f00"/><stop offset="0.423" stop-color="#ff6c00"/><stop offset="0.444" stop-color="#ff4e00"/><stop offset="0.464" stop-color="#ff2500"/><stop offset="0.5" stop-color="#ff1a00"/><stop offset="0.653" stop-color="#ff1600"/><stop offset="0.76" stop-color="#f10800"/><stop offset="1" stop-color="#f10800"/></linearGradient><linearGradient id="xi355"><stop offset="0" stop-color="#ffb600"/><stop offset="0.168" stop-color="#ffb200"/><stop offset="0.296" stop-color="#ff9400"/><stop offset="0.393" stop-color="#ff6c00"/><stop offset="0.423" stop-color="#ff6000"/><stop offset="0.474" stop-color="#ff1e00"/><stop offset="0.607" stop-color="#ff1300"/><stop offset="0.694" stop-color="#f10800"/><stop offset="1" stop-color="#f10800"/></linearGradient><linearGradient id="xi356"><stop offset="0" stop-color="#ffc100"/><stop offset="0.189" stop-color="#ffb600"/><stop offset="0.327" stop-color="#ff9800"/><stop offset="0.423" stop-color="#ff5900"/><stop offset="0.485" stop-color="#ff1e00"/><stop offset="0.566" stop-color="#fa0f00"/><stop offset="0.643" stop-color="#f10800"/><stop offset="1" stop-color="#f10800"/></linearGradient><linearGradient id="xi357"><stop offset="0" stop-color="#ffc800"/><stop offset="0.184" stop-color="#ffbd00"/><stop offset="0.332" stop-color="#ff9f00"/><stop offset="0.408" stop-color="#ff6f00"/><stop offset="0.5" stop-color="#ff1300"/><stop offset="0.566" stop-color="#f10800"/><stop offset="1" stop-color="#f10800"/></linearGradient><linearGradient id="xi358"><stop offset="0" stop-color="#ffd000"/><stop offset="0.173" stop-color="#ffc400"/><stop offset="0.321" stop-color="#ffab00"/><stop offset="0.393" stop-color="#ff8200"/><stop offset="0.469" stop-color="#ff3800"/><stop offset="0.51" stop-color="#fa0f00"/><stop offset="0.628" stop-color="#f60b00"/><stop offset="1" stop-color="#f10800"/></linearGradient><linearGradient id="xi359"><stop offset="0" stop-color="#ffd700"/><stop offset="0.168" stop-color="#ffcc00"/><stop offset="0.327" stop-color="#ffab00"/><stop offset="0.403" stop-color="#ff8200"/><stop offset="0.485" stop-color="#ff3400"/><stop offset="0.515" stop-color="#ff1600"/><stop offset="0.551" stop-color="#fa0f00"/><stop offset="0.607" stop-color="#ff1600"/><stop offset="0.643" stop-color="#f10800"/><stop offset="1" stop-color="#f10800"/></linearGradient><linearGradient id="xi360"><stop offset="0" stop-color="#ffde00"/><stop offset="0.179" stop-color="#ffd000"/><stop offset="0.332" stop-color="#ffab00"/><stop offset="0.413" stop-color="#ff8200"/><stop offset="0.531" stop-color="#ff1e00"/><stop offset="0.556" stop-color="#ff1300"/><stop offset="0.607" stop-color="#ff1300"/><stop offset="0.643" stop-color="#f10800"/><stop offset="1" stop-color="#f60b00"/></linearGradient><linearGradient id="xi361"><stop offset="0" stop-color="#ffe200"/><stop offset="0.199" stop-color="#ffd000"/><stop offset="0.332" stop-color="#ffae00"/><stop offset="0.434" stop-color="#ff7700"/><stop offset="0.571" stop-color="#ff1300"/><stop offset="0.658" stop-color="#f10800"/><stop offset="0.944" stop-color="#f60b00"/><stop offset="1" stop-color="#ff1600"/></linearGradient><linearGradient id="xi362"><stop offset="0" stop-color="#ffe200"/><stop offset="0.138" stop-color="#ffdb00"/><stop offset="0.301" stop-color="#ffbd00"/><stop offset="0.408" stop-color="#ff8d00"/><stop offset="0.577" stop-color="#ff1a00"/><stop offset="0.653" stop-color="#f10800"/><stop offset="0.888" stop-color="#f60b00"/><stop offset="0.944" stop-color="#ff1600"/><stop offset="1" stop-color="#ff1a00"/></linearGradient><linearGradient id="xi363"><stop offset="0" stop-color="#ffe600"/><stop offset="0.214" stop-color="#ffd300"/><stop offset="0.357" stop-color="#ffae00"/><stop offset="0.429" stop-color="#ff8600"/><stop offset="0.617" stop-color="#fa0f00"/><stop offset="0.709" stop-color="#f10800"/><stop offset="0.821" stop-color="#f60b00"/><stop offset="0.893" stop-color="#ff1600"/><stop offset="1" stop-color="#ff1a00"/></linearGradient><linearGradient id="xi364"><stop offset="0" stop-color="#ffe600"/><stop offset="0.158" stop-color="#ffde00"/><stop offset="0.332" stop-color="#ffbd00"/><stop offset="0.413" stop-color="#ff9800"/><stop offset="0.515" stop-color="#ff5900"/><stop offset="0.628" stop-color="#ff1300"/><stop offset="0.791" stop-color="#ff1300"/><stop offset="0.918" stop-color="#ff1a00"/><stop offset="1" stop-color="#ff1a00"/></linearGradient><linearGradient id="xi365"><stop offset="0" stop-color="#ffea00"/><stop offset="0.209" stop-color="#ffdb00"/><stop offset="0.383" stop-color="#ffb200"/><stop offset="0.515" stop-color="#ff6800"/><stop offset="0.587" stop-color="#ff3b00"/><stop offset="0.643" stop-color="#ff1300"/><stop offset="0.806" stop-color="#ff1a00"/><stop offset="1" stop-color="#ff1a00"/></linearGradient><linearGradient id="xi366"><stop offset="0" stop-color="#ffea00"/><stop offset="0.209" stop-color="#ffde00"/><stop offset="0.378" stop-color="#ffb900"/><stop offset="0.561" stop-color="#ff6000"/><stop offset="0.638" stop-color="#ff1e00"/><stop offset="0.679" stop-color="#ff1600"/><stop offset="1" stop-color="#ff1a00"/></linearGradient><linearGradient id="xi367"><stop offset="0" stop-color="#ffea00"/><stop offset="0.199" stop-color="#ffe200"/><stop offset="0.372" stop-color="#ffc100"/><stop offset="0.469" stop-color="#ff9c00"/><stop offset="0.566" stop-color="#ff7300"/><stop offset="0.658" stop-color="#ff1e00"/><stop offset="1" stop-color="#ff1a00"/></linearGradient><linearGradient id="xi368"><stop offset="0" stop-color="#ffea00"/><stop offset="0.214" stop-color="#ffe200"/><stop offset="0.367" stop-color="#ffc800"/><stop offset="0.454" stop-color="#ffae00"/><stop offset="0.51" stop-color="#ff9800"/><stop offset="0.556" stop-color="#ff8d00"/><stop offset="0.612" stop-color="#ff6400"/><stop offset="0.673" stop-color="#ff2200"/><stop offset="0.719" stop-color="#ff1a00"/><stop offset="1" stop-color="#ff1a00"/></linearGradient><linearGradient id="xi369"><stop offset="0" stop-color="#ffea00"/><stop offset="0.23" stop-color="#ffe200"/><stop offset="0.398" stop-color="#ffc800"/><stop offset="0.52" stop-color="#ffa300"/><stop offset="0.582" stop-color="#ff9100"/><stop offset="0.622" stop-color="#ff6c00"/><stop offset="0.673" stop-color="#ff2d00"/><stop offset="0.709" stop-color="#ff1e00"/><stop offset="1" stop-color="#ff1a00"/></linearGradient><linearGradient id="xi370"><stop offset="0" stop-color="#ffea00"/><stop offset="0.245" stop-color="#ffe200"/><stop offset="0.434" stop-color="#ffc800"/><stop offset="0.515" stop-color="#ffb200"/><stop offset="0.592" stop-color="#ff9800"/><stop offset="0.617" stop-color="#ff7e00"/><stop offset="0.653" stop-color="#ff4a00"/><stop offset="0.719" stop-color="#ff1e00"/><stop offset="1" stop-color="#ff1a00"/></linearGradient><linearGradient id="xi371"><stop offset="0" stop-color="#ffea00"/><stop offset="0.265" stop-color="#ffe200"/><stop offset="0.464" stop-color="#ffc800"/><stop offset="0.571" stop-color="#ffb200"/><stop offset="0.602" stop-color="#ffa300"/><stop offset="0.643" stop-color="#ff6000"/><stop offset="0.694" stop-color="#ff3b00"/><stop offset="0.724" stop-color="#ff1e00"/><stop offset="1" stop-color="#ff1a00"/></linearGradient><linearGradient id="xi372"><stop offset="0" stop-color="#ffea00"/><stop offset="0.255" stop-color="#ffe600"/><stop offset="0.566" stop-color="#ffc100"/><stop offset="0.602" stop-color="#ffb200"/><stop offset="0.617" stop-color="#ff9c00"/><stop offset="0.648" stop-color="#ff6f00"/><stop offset="0.684" stop-color="#ff5500"/><stop offset="0.719" stop-color="#ff2200"/><stop offset="0.765" stop-color="#ff1a00"/><stop offset="1" stop-color="#ff1a00"/></linearGradient><linearGradient id="xi373"><stop offset="0" stop-color="#ffea00"/><stop offset="0.26" stop-color="#ffe600"/><stop offset="0.592" stop-color="#ffc400"/><stop offset="0.617" stop-color="#ffab00"/><stop offset="0.643" stop-color="#ff8d00"/><stop offset="0.704" stop-color="#ff5200"/><stop offset="0.735" stop-color="#ff2200"/><stop offset="0.781" stop-color="#ff1a00"/><stop offset="1" stop-color="#ff1a00"/></linearGradient><linearGradient id="xi374"><stop offset="0" stop-color="#ffea00"/><stop offset="0.26" stop-color="#ffe600"/><stop offset="0.597" stop-color="#ffcc00"/><stop offset="0.668" stop-color="#ff8200"/><stop offset="0.704" stop-color="#ff7300"/><stop offset="0.73" stop-color="#ff4700"/><stop offset="0.745" stop-color="#ff2900"/><stop offset="0.781" stop-color="#ff1a00"/><stop offset="1" stop-color="#ff1a00"/></linearGradient><linearGradient id="xi375"><stop offset="0" stop-color="#ffea00"/><stop offset="0.26" stop-color="#ffe600"/><stop offset="0.602" stop-color="#ffd000"/><stop offset="0.638" stop-color="#ffab00"/><stop offset="0.658" stop-color="#ff9c00"/><stop offset="0.689" stop-color="#ffb900"/><stop offset="0.704" stop-color="#ffb600"/><stop offset="0.73" stop-color="#ff9100"/><stop offset="0.765" stop-color="#ff3400"/><stop offset="0.786" stop-color="#ff1e00"/><stop offset="1" stop-color="#ff1a00"/></linearGradient><linearGradient id="xi376"><stop offset="0" stop-color="#ffe600"/><stop offset="0.347" stop-color="#ffe200"/><stop offset="0.602" stop-color="#ffd300"/><stop offset="0.648" stop-color="#ffab00"/><stop offset="0.663" stop-color="#ffb600"/><stop offset="0.689" stop-color="#ffd300"/><stop offset="0.73" stop-color="#ffcc00"/><stop offset="0.75" stop-color="#ffb600"/><stop offset="0.765" stop-color="#ff8900"/><stop offset="0.791" stop-color="#ff3800"/><stop offset="0.816" stop-color="#ff1e00"/><stop offset="1" stop-color="#ff1a00"/></linearGradient><linearGradient id="xi377"><stop offset="0" stop-color="#ffe600"/><stop offset="0.495" stop-color="#ffde00"/><stop offset="0.602" stop-color="#ffd700"/><stop offset="0.643" stop-color="#ffb900"/><stop offset="0.684" stop-color="#ffd700"/><stop offset="0.76" stop-color="#ffd300"/><stop offset="0.776" stop-color="#ffbd00"/><stop offset="0.811" stop-color="#ff6800"/><stop offset="0.842" stop-color="#ff3b00"/><stop offset="0.878" stop-color="#ff2200"/><stop offset="0.99" stop-color="#ff1a00"/><stop offset="1" stop-color="#ff1a00"/></linearGradient><linearGradient id="xi378"><stop offset="0" stop-color="#ffe600"/><stop offset="0.541" stop-color="#ffde00"/><stop offset="0.612" stop-color="#ffd700"/><stop offset="0.638" stop-color="#ffc800"/><stop offset="0.679" stop-color="#ffde00"/><stop offset="0.786" stop-color="#ffde00"/><stop offset="0.827" stop-color="#ffc100"/><stop offset="0.898" stop-color="#ff4e00"/><stop offset="0.944" stop-color="#ff2500"/><stop offset="1" stop-color="#ff1a00"/></linearGradient><linearGradient id="xi379"><stop offset="0" stop-color="#ffe600"/><stop offset="0.602" stop-color="#ffde00"/><stop offset="0.638" stop-color="#ffd700"/><stop offset="0.684" stop-color="#ffe200"/><stop offset="0.852" stop-color="#ffde00"/><stop offset="0.908" stop-color="#ffb600"/><stop offset="0.98" stop-color="#ff4300"/><stop offset="1" stop-color="#ff3000"/></linearGradient><linearGradient id="xi380"><stop offset="0" stop-color="#ffe200"/><stop offset="0.929" stop-color="#ffde00"/><stop offset="0.969" stop-color="#ffc100"/><stop offset="1" stop-color="#ff9f00"/></linearGradient></defs><g filter="url(#vb)"><rect x="-12" y="-12" width="392" height="10.5" fill="url(#xi348)"/><rect x="-12" y="-2" width="392" height="10.5" fill="url(#xi349)"/><rect x="-12" y="8" width="392" height="10.5" fill="url(#xi350)"/><rect x="-12" y="18" width="392" height="10.5" fill="url(#xi351)"/><rect x="-12" y="28" width="392" height="10.5" fill="url(#xi352)"/><rect x="-12" y="38" width="392" height="10.5" fill="url(#xi353)"/><rect x="-12" y="48" width="392" height="10.5" fill="url(#xi354)"/><rect x="-12" y="58" width="392" height="10.5" fill="url(#xi355)"/><rect x="-12" y="68" width="392" height="10.5" fill="url(#xi356)"/><rect x="-12" y="78" width="392" height="10.5" fill="url(#xi357)"/><rect x="-12" y="88" width="392" height="10.5" fill="url(#xi358)"/><rect x="-12" y="98" width="392" height="10.5" fill="url(#xi359)"/><rect x="-12" y="108" width="392" height="10.5" fill="url(#xi360)"/><rect x="-12" y="118" width="392" height="10.5" fill="url(#xi361)"/><rect x="-12" y="128" width="392" height="10.5" fill="url(#xi362)"/><rect x="-12" y="138" width="392" height="10.5" fill="url(#xi363)"/><rect x="-12" y="148" width="392" height="10.5" fill="url(#xi364)"/><rect x="-12" y="158" width="392" height="10.5" fill="url(#xi365)"/><rect x="-12" y="168" width="392" height="10.5" fill="url(#xi366)"/><rect x="-12" y="178" width="392" height="10.5" fill="url(#xi367)"/><rect x="-12" y="188" width="392" height="10.5" fill="url(#xi368)"/><rect x="-12" y="198" width="392" height="10.5" fill="url(#xi369)"/><rect x="-12" y="208" width="392" height="10.5" fill="url(#xi370)"/><rect x="-12" y="218" width="392" height="10.5" fill="url(#xi371)"/><rect x="-12" y="228" width="392" height="10.5" fill="url(#xi372)"/><rect x="-12" y="238" width="392" height="10.5" fill="url(#xi373)"/><rect x="-12" y="248" width="392" height="10.5" fill="url(#xi374)"/><rect x="-12" y="258" width="392" height="10.5" fill="url(#xi375)"/><rect x="-12" y="268" width="392" height="10.5" fill="url(#xi376)"/><rect x="-12" y="278" width="392" height="10.5" fill="url(#xi377)"/><rect x="-12" y="288" width="392" height="10.5" fill="url(#xi378)"/><rect x="-12" y="298" width="392" height="10.5" fill="url(#xi379)"/><rect x="-12" y="308" width="392" height="10.5" fill="url(#xi380)"/><rect x="-12" y="318" width="392" height="10.5" fill="#ffe200"/><rect x="-12" y="328" width="392" height="10.5" fill="#ffe200"/><rect x="-12" y="338" width="392" height="10.5" fill="#ffe200"/><rect x="-12" y="348" width="392" height="10.5" fill="#ffe200"/><rect x="-12" y="358" width="392" height="10.5" fill="#ffe200"/><rect x="-12" y="368" width="392" height="10.5" fill="#ffe200"/><rect x="-12" y="378" width="392" height="2.5" fill="#ffe200"/></g><use href="#xy_land"/><path d="M36.3 18.5 42 17.8 44 20.6 42 23.8 36.3 24.2Z" fill="#ff2a00" stroke="#000" stroke-width="1"/><path d="M164.9 66.8h14l-7 14z" fill="#cd0000" stroke="#000" stroke-width="1.4"/><path d="M160.4 75.7h14l-7 14z" fill="#ff2500" stroke="#000" stroke-width="1.4"/><path d="M233.3 171.5h14l-7 14z" fill="#ff2d00" stroke="#000" stroke-width="1.4"/><path d="M226.8 225.9h14l-7 14z" fill="#ff6800" stroke="#000" stroke-width="1.4"/><path d="M205.6 295.7h14l-7 14z" fill="#f1fc06" stroke="#000" stroke-width="1.4"/><path d="M112.0 307.0h14l-7 14z" fill="#eeff09" stroke="#000" stroke-width="1.4"/><use href="#xy_over"/><text x="244.5" y="140.2" font-size="20">La Rochelle</text>
</g>
<rect x="0" y="0" width="36.8" height="37.2" fill="#fff" stroke="#000" stroke-width="1.1"/>
<text x="4.0" y="25.8" font-size="20" font-weight="bold">(i)</text>
<rect x="0" y="0" width="366.1" height="366.1" fill="none" stroke="#000" stroke-width="1.1"/>
</g>
<g transform="translate(606.6,896.5)"><g clip-path="url(#pc)">
<defs><linearGradient id="xj388"><stop offset="0" stop-color="#fff1f1"/><stop offset="0.128" stop-color="#fff5f5"/><stop offset="0.418" stop-color="#fffdfd"/><stop offset="0.464" stop-color="#fff9f9"/><stop offset="0.49" stop-color="#ffe5e5"/><stop offset="0.806" stop-color="#ffe1e1"/><stop offset="0.832" stop-color="#ffc1c1"/><stop offset="0.852" stop-color="#ffa9a9"/><stop offset="0.908" stop-color="#ffb1b1"/><stop offset="1" stop-color="#ffb1b1"/></linearGradient><linearGradient id="xj389"><stop offset="0" stop-color="#fff1f1"/><stop offset="0.122" stop-color="#fff5f5"/><stop offset="0.413" stop-color="#fffdfd"/><stop offset="0.459" stop-color="#fff9f9"/><stop offset="0.49" stop-color="#ffe5e5"/><stop offset="0.765" stop-color="#ffe1e1"/><stop offset="0.781" stop-color="#ffd1d1"/><stop offset="0.806" stop-color="#ff8d8d"/><stop offset="0.821" stop-color="#ff6969"/><stop offset="0.832" stop-color="#ff6d6d"/><stop offset="0.857" stop-color="#ffa5a5"/><stop offset="0.883" stop-color="#ffb1b1"/><stop offset="1" stop-color="#ffb1b1"/></linearGradient><linearGradient id="xj390"><stop offset="0" stop-color="#fff1f1"/><stop offset="0.128" stop-color="#fff5f5"/><stop offset="0.393" stop-color="#fffdfd"/><stop offset="0.454" stop-color="#fff9f9"/><stop offset="0.485" stop-color="#ffe5e5"/><stop offset="0.724" stop-color="#ffe1e1"/><stop offset="0.74" stop-color="#ffd1d1"/><stop offset="0.755" stop-color="#ffadad"/><stop offset="0.781" stop-color="#ff4949"/><stop offset="0.791" stop-color="#ff3535"/><stop offset="0.801" stop-color="#ff3d3d"/><stop offset="0.816" stop-color="#ff6d6d"/><stop offset="0.832" stop-color="#ff9d9d"/><stop offset="0.847" stop-color="#ffb1b1"/><stop offset="1" stop-color="#ffb1b1"/></linearGradient><linearGradient id="xj391"><stop offset="0" stop-color="#fff1f1"/><stop offset="0.112" stop-color="#fff1f1"/><stop offset="0.179" stop-color="#fff9f9"/><stop offset="0.449" stop-color="#fff9f9"/><stop offset="0.485" stop-color="#ffe5e5"/><stop offset="0.684" stop-color="#ffe1e1"/><stop offset="0.699" stop-color="#ffd1d1"/><stop offset="0.714" stop-color="#ffadad"/><stop offset="0.75" stop-color="#ff2121"/><stop offset="0.765" stop-color="#ff0909"/><stop offset="0.776" stop-color="#ff1515"/><stop offset="0.801" stop-color="#ff8989"/><stop offset="0.816" stop-color="#ffadad"/><stop offset="1" stop-color="#ffb1b1"/></linearGradient><linearGradient id="xj392"><stop offset="0" stop-color="#fff1f1"/><stop offset="0.143" stop-color="#fff5f5"/><stop offset="0.337" stop-color="#fffdfd"/><stop offset="0.449" stop-color="#fff9f9"/><stop offset="0.474" stop-color="#ffe5e5"/><stop offset="0.643" stop-color="#ffe1e1"/><stop offset="0.658" stop-color="#ffd1d1"/><stop offset="0.673" stop-color="#ffadad"/><stop offset="0.709" stop-color="#ff2121"/><stop offset="0.719" stop-color="#ff0909"/><stop offset="0.735" stop-color="#fe0000"/><stop offset="0.745" stop-color="#ff1111"/><stop offset="0.77" stop-color="#ff6969"/><stop offset="0.786" stop-color="#ff9d9d"/><stop offset="0.801" stop-color="#ffb1b1"/><stop offset="1" stop-color="#ffb1b1"/></linearGradient><linearGradient id="xj393"><stop offset="0" stop-color="#fff1f1"/><stop offset="0.209" stop-color="#fff9f9"/><stop offset="0.444" stop-color="#fff9f9"/><stop offset="0.469" stop-color="#ffe5e5"/><stop offset="0.602" stop-color="#ffe1e1"/><stop offset="0.617" stop-color="#ffd1d1"/><stop offset="0.633" stop-color="#ffadad"/><stop offset="0.668" stop-color="#ff2121"/><stop offset="0.679" stop-color="#ff0505"/><stop offset="0.699" stop-color="#fa0000"/><stop offset="0.709" stop-color="#ff0505"/><stop offset="0.719" stop-color="#ff2525"/><stop offset="0.74" stop-color="#ff7d7d"/><stop offset="0.75" stop-color="#ff9d9d"/><stop offset="0.776" stop-color="#ffb1b1"/><stop offset="1" stop-color="#ffb1b1"/></linearGradient><linearGradient id="xj394"><stop offset="0" stop-color="#ffeded"/><stop offset="0.128" stop-color="#fff1f1"/><stop offset="0.265" stop-color="#fffdfd"/><stop offset="0.439" stop-color="#fff9f9"/><stop offset="0.469" stop-color="#ffe5e5"/><stop offset="0.561" stop-color="#ffe1e1"/><stop offset="0.577" stop-color="#ffd1d1"/><stop offset="0.592" stop-color="#ffadad"/><stop offset="0.628" stop-color="#ff2121"/><stop offset="0.638" stop-color="#ff0505"/><stop offset="0.668" stop-color="#f80000"/><stop offset="0.679" stop-color="#ff0101"/><stop offset="0.694" stop-color="#ff3d3d"/><stop offset="0.714" stop-color="#ffa1a1"/><stop offset="0.719" stop-color="#ffb5b5"/><stop offset="0.735" stop-color="#ffc1c1"/><stop offset="0.765" stop-color="#ffb1b1"/><stop offset="1" stop-color="#ffb1b1"/></linearGradient><linearGradient id="xj395"><stop offset="0" stop-color="#ffeded"/><stop offset="0.133" stop-color="#fff1f1"/><stop offset="0.255" stop-color="#fffdfd"/><stop offset="0.434" stop-color="#fff9f9"/><stop offset="0.469" stop-color="#ffe5e5"/><stop offset="0.52" stop-color="#ffe1e1"/><stop offset="0.536" stop-color="#ffd1d1"/><stop offset="0.551" stop-color="#ffadad"/><stop offset="0.587" stop-color="#ff2121"/><stop offset="0.597" stop-color="#ff0505"/><stop offset="0.628" stop-color="#f60000"/><stop offset="0.643" stop-color="#fe0000"/><stop offset="0.658" stop-color="#ff2929"/><stop offset="0.689" stop-color="#ffbdbd"/><stop offset="0.699" stop-color="#ffd5d5"/><stop offset="0.709" stop-color="#ffd5d5"/><stop offset="0.735" stop-color="#ffb5b5"/><stop offset="1" stop-color="#ffb1b1"/></linearGradient><linearGradient id="xj396"><stop offset="0" stop-color="#ffeded"/><stop offset="0.102" stop-color="#ffeded"/><stop offset="0.25" stop-color="#fffdfd"/><stop offset="0.418" stop-color="#fff9f9"/><stop offset="0.48" stop-color="#ffdddd"/><stop offset="0.505" stop-color="#ffbdbd"/><stop offset="0.515" stop-color="#ff9d9d"/><stop offset="0.541" stop-color="#ff3131"/><stop offset="0.556" stop-color="#ff0505"/><stop offset="0.592" stop-color="#f40000"/><stop offset="0.607" stop-color="#fe0000"/><stop offset="0.617" stop-color="#ff1919"/><stop offset="0.653" stop-color="#ffb9b9"/><stop offset="0.668" stop-color="#ffdddd"/><stop offset="0.679" stop-color="#ffe9e9"/><stop offset="0.694" stop-color="#ffdddd"/><stop offset="0.719" stop-color="#ffb5b5"/><stop offset="1" stop-color="#ffb1b1"/></linearGradient><linearGradient id="xj397"><stop offset="0" stop-color="#ffe9e9"/><stop offset="0.102" stop-color="#ffeded"/><stop offset="0.25" stop-color="#fffdfd"/><stop offset="0.413" stop-color="#fff9f9"/><stop offset="0.454" stop-color="#ffe9e9"/><stop offset="0.474" stop-color="#ffb9b9"/><stop offset="0.515" stop-color="#ff1919"/><stop offset="0.526" stop-color="#fe0000"/><stop offset="0.551" stop-color="#f40000"/><stop offset="0.571" stop-color="#ff0505"/><stop offset="0.597" stop-color="#ff5d5d"/><stop offset="0.622" stop-color="#ffc9c9"/><stop offset="0.638" stop-color="#ffe9e9"/><stop offset="0.658" stop-color="#fff1f1"/><stop offset="0.684" stop-color="#ffd1d1"/><stop offset="0.704" stop-color="#ffb5b5"/><stop offset="1" stop-color="#ffb1b1"/></linearGradient><linearGradient id="xj398"><stop offset="0" stop-color="#ffeded"/><stop offset="0.0969" stop-color="#ffeded"/><stop offset="0.245" stop-color="#fffdfd"/><stop offset="0.423" stop-color="#fff9f9"/><stop offset="0.449" stop-color="#ffeded"/><stop offset="0.464" stop-color="#ffd5d5"/><stop offset="0.474" stop-color="#ffb1b1"/><stop offset="0.495" stop-color="#ff4545"/><stop offset="0.505" stop-color="#ff2121"/><stop offset="0.536" stop-color="#ff2121"/><stop offset="0.551" stop-color="#ff5151"/><stop offset="0.577" stop-color="#ffbdbd"/><stop offset="0.597" stop-color="#ffe5e5"/><stop offset="0.622" stop-color="#fff1f1"/><stop offset="0.648" stop-color="#ffeded"/><stop offset="0.684" stop-color="#ffb9b9"/><stop offset="0.724" stop-color="#ffb1b1"/><stop offset="1" stop-color="#ffb1b1"/></linearGradient><linearGradient id="xj399"><stop offset="0" stop-color="#ffeded"/><stop offset="0.117" stop-color="#fff1f1"/><stop offset="0.24" stop-color="#fffdfd"/><stop offset="0.439" stop-color="#fff9f9"/><stop offset="0.474" stop-color="#ffdddd"/><stop offset="0.505" stop-color="#ff8989"/><stop offset="0.536" stop-color="#ff8989"/><stop offset="0.551" stop-color="#ffa1a1"/><stop offset="0.571" stop-color="#ffdddd"/><stop offset="0.582" stop-color="#ffeded"/><stop offset="0.633" stop-color="#ffeded"/><stop offset="0.668" stop-color="#ffb9b9"/><stop offset="0.709" stop-color="#ffb1b1"/><stop offset="1" stop-color="#ffb1b1"/></linearGradient><linearGradient id="xj400"><stop offset="0" stop-color="#fff1f1"/><stop offset="0.107" stop-color="#fff1f1"/><stop offset="0.24" stop-color="#fffdfd"/><stop offset="0.469" stop-color="#fff5f5"/><stop offset="0.51" stop-color="#ffe1e1"/><stop offset="0.536" stop-color="#ffdddd"/><stop offset="0.561" stop-color="#ffb9b9"/><stop offset="0.577" stop-color="#ffc1c1"/><stop offset="0.602" stop-color="#ffe9e9"/><stop offset="0.617" stop-color="#ffe9e9"/><stop offset="0.653" stop-color="#ffb5b5"/><stop offset="0.99" stop-color="#ffadad"/><stop offset="1" stop-color="#ffa9a9"/></linearGradient><linearGradient id="xj401"><stop offset="0" stop-color="#fff1f1"/><stop offset="0.133" stop-color="#fff5f5"/><stop offset="0.245" stop-color="#fffdfd"/><stop offset="0.474" stop-color="#fff9f9"/><stop offset="0.515" stop-color="#ffeded"/><stop offset="0.556" stop-color="#ffeded"/><stop offset="0.592" stop-color="#ffd1d1"/><stop offset="0.617" stop-color="#ffd1d1"/><stop offset="0.638" stop-color="#ffb5b5"/><stop offset="0.934" stop-color="#ffadad"/><stop offset="1" stop-color="#ff8989"/></linearGradient><linearGradient id="xj402"><stop offset="0" stop-color="#fff1f1"/><stop offset="0.133" stop-color="#fff5f5"/><stop offset="0.245" stop-color="#fffdfd"/><stop offset="0.49" stop-color="#fff9f9"/><stop offset="0.577" stop-color="#ffeded"/><stop offset="0.602" stop-color="#ffd9d9"/><stop offset="0.633" stop-color="#ffb5b5"/><stop offset="0.872" stop-color="#ffadad"/><stop offset="0.959" stop-color="#ff8181"/><stop offset="1" stop-color="#ff8181"/></linearGradient><linearGradient id="xj403"><stop offset="0" stop-color="#fff1f1"/><stop offset="0.138" stop-color="#fff5f5"/><stop offset="0.25" stop-color="#fffdfd"/><stop offset="0.556" stop-color="#fff9f9"/><stop offset="0.592" stop-color="#ffe9e9"/><stop offset="0.633" stop-color="#ffb5b5"/><stop offset="0.791" stop-color="#ffb5b5"/><stop offset="0.832" stop-color="#ffb5b5"/><stop offset="0.872" stop-color="#ff8d8d"/><stop offset="0.923" stop-color="#ff8181"/><stop offset="1" stop-color="#ff8181"/></linearGradient><linearGradient id="xj404"><stop offset="0" stop-color="#fff1f1"/><stop offset="0.138" stop-color="#fff5f5"/><stop offset="0.26" stop-color="#fffdfd"/><stop offset="0.571" stop-color="#fff9f9"/><stop offset="0.597" stop-color="#ffe9e9"/><stop offset="0.622" stop-color="#ffb9b9"/><stop offset="0.689" stop-color="#ffadad"/><stop offset="0.796" stop-color="#ffd5d5"/><stop offset="0.821" stop-color="#ffb9b9"/><stop offset="0.847" stop-color="#ff8989"/><stop offset="0.872" stop-color="#ff8181"/><stop offset="1" stop-color="#ff7d7d"/></linearGradient><linearGradient id="xj405"><stop offset="0" stop-color="#fff1f1"/><stop offset="0.143" stop-color="#fff5f5"/><stop offset="0.265" stop-color="#fffdfd"/><stop offset="0.592" stop-color="#fff9f9"/><stop offset="0.607" stop-color="#ffe9e9"/><stop offset="0.628" stop-color="#ffc1c1"/><stop offset="0.638" stop-color="#ffb9b9"/><stop offset="0.658" stop-color="#ffb9b9"/><stop offset="0.684" stop-color="#ffb1b1"/><stop offset="0.714" stop-color="#ffc9c9"/><stop offset="0.745" stop-color="#ffe1e1"/><stop offset="0.776" stop-color="#ffdddd"/><stop offset="0.796" stop-color="#ffbdbd"/><stop offset="0.821" stop-color="#ff8989"/><stop offset="0.847" stop-color="#ff8181"/><stop offset="1" stop-color="#ff7d7d"/></linearGradient><linearGradient id="xj406"><stop offset="0" stop-color="#fff1f1"/><stop offset="0.148" stop-color="#fff5f5"/><stop offset="0.301" stop-color="#fffdfd"/><stop offset="0.602" stop-color="#fff9f9"/><stop offset="0.638" stop-color="#ffc5c5"/><stop offset="0.684" stop-color="#ffc1c1"/><stop offset="0.714" stop-color="#ffe1e1"/><stop offset="0.745" stop-color="#ffe1e1"/><stop offset="0.765" stop-color="#ffc9c9"/><stop offset="0.796" stop-color="#ff8989"/><stop offset="0.821" stop-color="#ff8181"/><stop offset="1" stop-color="#ff7d7d"/></linearGradient><linearGradient id="xj407"><stop offset="0" stop-color="#ffeded"/><stop offset="0.337" stop-color="#fffdfd"/><stop offset="0.592" stop-color="#fff9f9"/><stop offset="0.617" stop-color="#ffe5e5"/><stop offset="0.643" stop-color="#ffc9c9"/><stop offset="0.673" stop-color="#ffc9c9"/><stop offset="0.689" stop-color="#ffc9c9"/><stop offset="0.709" stop-color="#ffe1e1"/><stop offset="0.73" stop-color="#ffd9d9"/><stop offset="0.77" stop-color="#ff8989"/><stop offset="0.796" stop-color="#ff8181"/><stop offset="1" stop-color="#ff7d7d"/></linearGradient><linearGradient id="xj408"><stop offset="0" stop-color="#ffe9e9"/><stop offset="0.291" stop-color="#fff9f9"/><stop offset="0.571" stop-color="#fff9f9"/><stop offset="0.612" stop-color="#ffe1e1"/><stop offset="0.633" stop-color="#ffd1d1"/><stop offset="0.679" stop-color="#ffd1d1"/><stop offset="0.694" stop-color="#ffc5c5"/><stop offset="0.714" stop-color="#ffc5c5"/><stop offset="0.745" stop-color="#ff8989"/><stop offset="0.77" stop-color="#ff8181"/><stop offset="1" stop-color="#ff7d7d"/></linearGradient><linearGradient id="xj409"><stop offset="0" stop-color="#ffe9e9"/><stop offset="0.51" stop-color="#fffdfd"/><stop offset="0.577" stop-color="#fff9f9"/><stop offset="0.628" stop-color="#ffd5d5"/><stop offset="0.663" stop-color="#ffcdcd"/><stop offset="0.699" stop-color="#ffa9a9"/><stop offset="0.73" stop-color="#ff8181"/><stop offset="1" stop-color="#ff7d7d"/></linearGradient><linearGradient id="xj410"><stop offset="0" stop-color="#ffe5e5"/><stop offset="0.52" stop-color="#fffdfd"/><stop offset="0.587" stop-color="#fff9f9"/><stop offset="0.694" stop-color="#ff9d9d"/><stop offset="0.73" stop-color="#ff8181"/><stop offset="1" stop-color="#ff7d7d"/></linearGradient><linearGradient id="xj411"><stop offset="0" stop-color="#ffe1e1"/><stop offset="0.23" stop-color="#ffeded"/><stop offset="0.526" stop-color="#fffdfd"/><stop offset="0.592" stop-color="#fff9f9"/><stop offset="0.668" stop-color="#ffb5b5"/><stop offset="0.719" stop-color="#ff8181"/><stop offset="1" stop-color="#ff7d7d"/></linearGradient><linearGradient id="xj412"><stop offset="0" stop-color="#ffe1e1"/><stop offset="0.367" stop-color="#fff1f1"/><stop offset="0.515" stop-color="#fffdfd"/><stop offset="0.597" stop-color="#fff9f9"/><stop offset="0.648" stop-color="#ffc9c9"/><stop offset="0.714" stop-color="#ff8181"/><stop offset="1" stop-color="#ff7d7d"/></linearGradient><linearGradient id="xj413"><stop offset="0" stop-color="#ffe1e1"/><stop offset="0.352" stop-color="#ffeded"/><stop offset="0.505" stop-color="#fffdfd"/><stop offset="0.597" stop-color="#fff9f9"/><stop offset="0.689" stop-color="#ffa9a9"/><stop offset="0.714" stop-color="#ff8181"/><stop offset="1" stop-color="#ff7d7d"/></linearGradient><linearGradient id="xj414"><stop offset="0" stop-color="#ffdddd"/><stop offset="0.367" stop-color="#ffeded"/><stop offset="0.52" stop-color="#fffdfd"/><stop offset="0.597" stop-color="#fff9f9"/><stop offset="0.663" stop-color="#ffc5c5"/><stop offset="0.689" stop-color="#ffd9d9"/><stop offset="0.704" stop-color="#ffb5b5"/><stop offset="0.719" stop-color="#ff8d8d"/><stop offset="0.745" stop-color="#ff8181"/><stop offset="1" stop-color="#ff7d7d"/></linearGradient><linearGradient id="xj415"><stop offset="0" stop-color="#ffdddd"/><stop offset="0.337" stop-color="#ffe9e9"/><stop offset="0.515" stop-color="#fff9f9"/><stop offset="0.597" stop-color="#fff9f9"/><stop offset="0.653" stop-color="#ffcdcd"/><stop offset="0.668" stop-color="#ffd9d9"/><stop offset="0.689" stop-color="#fff9f9"/><stop offset="0.709" stop-color="#ffe9e9"/><stop offset="0.74" stop-color="#ff9595"/><stop offset="0.765" stop-color="#ff8181"/><stop offset="1" stop-color="#ff7d7d"/></linearGradient><linearGradient id="xj416"><stop offset="0" stop-color="#ffdddd"/><stop offset="0.357" stop-color="#ffe9e9"/><stop offset="0.597" stop-color="#fffdfd"/><stop offset="0.648" stop-color="#ffd9d9"/><stop offset="0.663" stop-color="#ffe5e5"/><stop offset="0.684" stop-color="#fffdfd"/><stop offset="0.719" stop-color="#fff9f9"/><stop offset="0.735" stop-color="#ffe9e9"/><stop offset="0.765" stop-color="#ff9999"/><stop offset="0.791" stop-color="#ff8585"/><stop offset="1" stop-color="#ff7d7d"/></linearGradient><linearGradient id="xj417"><stop offset="0" stop-color="#ffdddd"/><stop offset="0.321" stop-color="#ffe5e5"/><stop offset="0.541" stop-color="#fff9f9"/><stop offset="0.607" stop-color="#fff9f9"/><stop offset="0.638" stop-color="#ffe5e5"/><stop offset="0.653" stop-color="#ffe9e9"/><stop offset="0.679" stop-color="#fffdfd"/><stop offset="0.75" stop-color="#fff9f9"/><stop offset="0.832" stop-color="#ff9999"/><stop offset="0.872" stop-color="#ff8181"/><stop offset="1" stop-color="#ff7d7d"/></linearGradient><linearGradient id="xj418"><stop offset="0" stop-color="#ffdddd"/><stop offset="0.347" stop-color="#ffe5e5"/><stop offset="0.531" stop-color="#fff5f5"/><stop offset="0.597" stop-color="#fffdfd"/><stop offset="0.638" stop-color="#ffeded"/><stop offset="0.668" stop-color="#fffdfd"/><stop offset="0.806" stop-color="#fff9f9"/><stop offset="0.852" stop-color="#ffd5d5"/><stop offset="0.903" stop-color="#ff9999"/><stop offset="0.944" stop-color="#ff8181"/><stop offset="1" stop-color="#ff8181"/></linearGradient><linearGradient id="xj419"><stop offset="0" stop-color="#ffdddd"/><stop offset="0.276" stop-color="#ffe1e1"/><stop offset="0.526" stop-color="#fff1f1"/><stop offset="0.592" stop-color="#fffdfd"/><stop offset="0.638" stop-color="#fff9f9"/><stop offset="0.878" stop-color="#fff9f9"/><stop offset="0.929" stop-color="#ffd1d1"/><stop offset="0.98" stop-color="#ff9595"/><stop offset="1" stop-color="#ff8989"/></linearGradient><linearGradient id="xj420"><stop offset="0" stop-color="#ffdddd"/><stop offset="0.362" stop-color="#ffe5e5"/><stop offset="0.541" stop-color="#fff1f1"/><stop offset="0.607" stop-color="#fffdfd"/><stop offset="0.949" stop-color="#fff9f9"/><stop offset="1" stop-color="#ffd5d5"/></linearGradient><linearGradient id="xj421"><stop offset="0" stop-color="#ffe1e1"/><stop offset="0.311" stop-color="#ffe1e1"/><stop offset="0.393" stop-color="#ffe9e9"/><stop offset="0.556" stop-color="#fff1f1"/><stop offset="0.587" stop-color="#fffdfd"/><stop offset="1" stop-color="#fffdfd"/></linearGradient><linearGradient id="xj422"><stop offset="0" stop-color="#ffe1e1"/><stop offset="0.311" stop-color="#ffe1e1"/><stop offset="0.367" stop-color="#ffe9e9"/><stop offset="0.546" stop-color="#ffeded"/><stop offset="0.582" stop-color="#fffdfd"/><stop offset="1" stop-color="#fffdfd"/></linearGradient><linearGradient id="xj423"><stop offset="0" stop-color="#ffe1e1"/><stop offset="0.311" stop-color="#ffe1e1"/><stop offset="0.367" stop-color="#ffe9e9"/><stop offset="0.546" stop-color="#ffeded"/><stop offset="0.571" stop-color="#fffdfd"/><stop offset="1" stop-color="#fffdfd"/></linearGradient><linearGradient id="xj424"><stop offset="0" stop-color="#ffe1e1"/><stop offset="0.311" stop-color="#ffe1e1"/><stop offset="0.367" stop-color="#ffe9e9"/><stop offset="0.541" stop-color="#ffeded"/><stop offset="0.566" stop-color="#fffdfd"/><stop offset="1" stop-color="#fffdfd"/></linearGradient><linearGradient id="xj425"><stop offset="0" stop-color="#ffe1e1"/><stop offset="0.311" stop-color="#ffe1e1"/><stop offset="0.367" stop-color="#ffe9e9"/><stop offset="0.536" stop-color="#ffeded"/><stop offset="0.571" stop-color="#fffdfd"/><stop offset="1" stop-color="#fffdfd"/></linearGradient><linearGradient id="xj426"><stop offset="0" stop-color="#ffe1e1"/><stop offset="0.327" stop-color="#ffe5e5"/><stop offset="0.536" stop-color="#ffeded"/><stop offset="0.561" stop-color="#fffdfd"/><stop offset="1" stop-color="#fffdfd"/></linearGradient><linearGradient id="xj427"><stop offset="0" stop-color="#ffe1e1"/><stop offset="0.327" stop-color="#ffe5e5"/><stop offset="0.531" stop-color="#ffeded"/><stop offset="0.566" stop-color="#fffdfd"/><stop offset="1" stop-color="#fffdfd"/></linearGradient></defs><g filter="url(#vb)"><rect x="-12" y="-12" width="392" height="10.5" fill="url(#xj388)"/><rect x="-12" y="-2" width="392" height="10.5" fill="url(#xj389)"/><rect x="-12" y="8" width="392" height="10.5" fill="url(#xj390)"/><rect x="-12" y="18" width="392" height="10.5" fill="url(#xj391)"/><rect x="-12" y="28" width="392" height="10.5" fill="url(#xj392)"/><rect x="-12" y="38" width="392" height="10.5" fill="url(#xj393)"/><rect x="-12" y="48" width="392" height="10.5" fill="url(#xj394)"/><rect x="-12" y="58" width="392" height="10.5" fill="url(#xj395)"/><rect x="-12" y="68" width="392" height="10.5" fill="url(#xj396)"/><rect x="-12" y="78" width="392" height="10.5" fill="url(#xj397)"/><rect x="-12" y="88" width="392" height="10.5" fill="url(#xj398)"/><rect x="-12" y="98" width="392" height="10.5" fill="url(#xj399)"/><rect x="-12" y="108" width="392" height="10.5" fill="url(#xj400)"/><rect x="-12" y="118" width="392" height="10.5" fill="url(#xj401)"/><rect x="-12" y="128" width="392" height="10.5" fill="url(#xj402)"/><rect x="-12" y="138" width="392" height="10.5" fill="url(#xj403)"/><rect x="-12" y="148" width="392" height="10.5" fill="url(#xj404)"/><rect x="-12" y="158" width="392" height="10.5" fill="url(#xj405)"/><rect x="-12" y="168" width="392" height="10.5" fill="url(#xj406)"/><rect x="-12" y="178" width="392" height="10.5" fill="url(#xj407)"/><rect x="-12" y="188" width="392" height="10.5" fill="url(#xj408)"/><rect x="-12" y="198" width="392" height="10.5" fill="url(#xj409)"/><rect x="-12" y="208" width="392" height="10.5" fill="url(#xj410)"/><rect x="-12" y="218" width="392" height="10.5" fill="url(#xj411)"/><rect x="-12" y="228" width="392" height="10.5" fill="url(#xj412)"/><rect x="-12" y="238" width="392" height="10.5" fill="url(#xj413)"/><rect x="-12" y="248" width="392" height="10.5" fill="url(#xj414)"/><rect x="-12" y="258" width="392" height="10.5" fill="url(#xj415)"/><rect x="-12" y="268" width="392" height="10.5" fill="url(#xj416)"/><rect x="-12" y="278" width="392" height="10.5" fill="url(#xj417)"/><rect x="-12" y="288" width="392" height="10.5" fill="url(#xj418)"/><rect x="-12" y="298" width="392" height="10.5" fill="url(#xj419)"/><rect x="-12" y="308" width="392" height="10.5" fill="url(#xj420)"/><rect x="-12" y="318" width="392" height="10.5" fill="url(#xj421)"/><rect x="-12" y="328" width="392" height="10.5" fill="url(#xj422)"/><rect x="-12" y="338" width="392" height="10.5" fill="url(#xj423)"/><rect x="-12" y="348" width="392" height="10.5" fill="url(#xj424)"/><rect x="-12" y="358" width="392" height="10.5" fill="url(#xj425)"/><rect x="-12" y="368" width="392" height="10.5" fill="url(#xj426)"/><rect x="-12" y="378" width="392" height="2.5" fill="url(#xj427)"/></g><defs><linearGradient id="bgb" gradientUnits="userSpaceOnUse" x1="165.1" y1="0" x2="182.1" y2="0"><stop offset="0" stop-color="#ff3030" stop-opacity="0"/><stop offset="1" stop-color="#ff2020" stop-opacity="0.95"/></linearGradient></defs><path d="M167 77.8 172 79.2 172 84.9 174.8 85.6 182 86.4 184.1 89.2 180.5 94.2 174.8 96.6 170.5 94.2 166.3 89.9 164.1 83.5Z" fill="url(#bgb)" filter="url(#b1)"/><use href="#xy_land"/><path d="M36.3 18.5 42 17.8 44 20.6 42 23.8 36.3 24.2Z" fill="#fffdfd" stroke="#000" stroke-width="1"/><use href="#xy_over"/><text x="244.5" y="140.2" font-size="20">La Rochelle</text>
</g>
<rect x="0" y="0" width="36.8" height="37.2" fill="#fff" stroke="#000" stroke-width="1.1"/>
<text x="4.0" y="25.8" font-size="20" font-weight="bold">(j)</text>
<rect x="0" y="0" width="366.1" height="366.1" fill="none" stroke="#000" stroke-width="1.1"/>
</g>
<g transform="translate(995.7,896.5)"><g clip-path="url(#pc)">
<defs><linearGradient id="xk428"><stop offset="0" stop-color="#0000e4"/><stop offset="0.133" stop-color="#0000e6"/><stop offset="0.158" stop-color="#0000fd"/><stop offset="0.189" stop-color="#0101ff"/><stop offset="0.219" stop-color="#2525ff"/><stop offset="0.327" stop-color="#2121ff"/><stop offset="0.367" stop-color="#1919ff"/><stop offset="0.398" stop-color="#1515ff"/><stop offset="0.429" stop-color="#0101ff"/><stop offset="0.526" stop-color="#0000f7"/><stop offset="0.571" stop-color="#0000ec"/><stop offset="0.801" stop-color="#0000e9"/><stop offset="0.821" stop-color="#0000d6"/><stop offset="0.842" stop-color="#0000bc"/><stop offset="0.954" stop-color="#0000b7"/><stop offset="1" stop-color="#0000b7"/></linearGradient><linearGradient id="xk429"><stop offset="0" stop-color="#0000e4"/><stop offset="0.128" stop-color="#0000e6"/><stop offset="0.163" stop-color="#0000fd"/><stop offset="0.189" stop-color="#0101ff"/><stop offset="0.219" stop-color="#2525ff"/><stop offset="0.316" stop-color="#2121ff"/><stop offset="0.357" stop-color="#1919ff"/><stop offset="0.398" stop-color="#1111ff"/><stop offset="0.423" stop-color="#0101ff"/><stop offset="0.515" stop-color="#0000f7"/><stop offset="0.571" stop-color="#0000ec"/><stop offset="0.781" stop-color="#0000e9"/><stop offset="0.827" stop-color="#0000ba"/><stop offset="1" stop-color="#0000b7"/></linearGradient><linearGradient id="xk430"><stop offset="0" stop-color="#0000e4"/><stop offset="0.0918" stop-color="#0000e6"/><stop offset="0.128" stop-color="#0000e6"/><stop offset="0.153" stop-color="#0000fd"/><stop offset="0.189" stop-color="#0101ff"/><stop offset="0.219" stop-color="#2525ff"/><stop offset="0.311" stop-color="#2121ff"/><stop offset="0.352" stop-color="#1919ff"/><stop offset="0.388" stop-color="#1111ff"/><stop offset="0.418" stop-color="#0101ff"/><stop offset="0.505" stop-color="#0000f7"/><stop offset="0.561" stop-color="#0000ec"/><stop offset="0.76" stop-color="#0000e9"/><stop offset="0.806" stop-color="#0000ba"/><stop offset="1" stop-color="#0000b7"/></linearGradient><linearGradient id="xk431"><stop offset="0" stop-color="#0000e4"/><stop offset="0.0765" stop-color="#0000e9"/><stop offset="0.122" stop-color="#0000e6"/><stop offset="0.158" stop-color="#0000fd"/><stop offset="0.189" stop-color="#0101ff"/><stop offset="0.219" stop-color="#2525ff"/><stop offset="0.301" stop-color="#2121ff"/><stop offset="0.342" stop-color="#1919ff"/><stop offset="0.383" stop-color="#1111ff"/><stop offset="0.413" stop-color="#0101ff"/><stop offset="0.495" stop-color="#0000f7"/><stop offset="0.551" stop-color="#0000ec"/><stop offset="0.74" stop-color="#0000e9"/><stop offset="0.786" stop-color="#0000ba"/><stop offset="1" stop-color="#0000b7"/></linearGradient><linearGradient id="xk432"><stop offset="0" stop-color="#0000ec"/><stop offset="0.122" stop-color="#0000e9"/><stop offset="0.153" stop-color="#0000fd"/><stop offset="0.189" stop-color="#0505ff"/><stop offset="0.219" stop-color="#2525ff"/><stop offset="0.296" stop-color="#2121ff"/><stop offset="0.337" stop-color="#1919ff"/><stop offset="0.388" stop-color="#0909ff"/><stop offset="0.434" stop-color="#0000fd"/><stop offset="0.556" stop-color="#0000ec"/><stop offset="0.714" stop-color="#0000e9"/><stop offset="0.765" stop-color="#0000ba"/><stop offset="1" stop-color="#0000b7"/></linearGradient><linearGradient id="xk433"><stop offset="0" stop-color="#0101ff"/><stop offset="0.0612" stop-color="#0000ec"/><stop offset="0.133" stop-color="#0000fa"/><stop offset="0.194" stop-color="#0909ff"/><stop offset="0.219" stop-color="#2525ff"/><stop offset="0.286" stop-color="#2121ff"/><stop offset="0.327" stop-color="#1919ff"/><stop offset="0.393" stop-color="#0505ff"/><stop offset="0.469" stop-color="#0000f7"/><stop offset="0.541" stop-color="#0000ec"/><stop offset="0.694" stop-color="#0000e9"/><stop offset="0.724" stop-color="#0000ca"/><stop offset="0.75" stop-color="#0000b7"/><stop offset="1" stop-color="#0000b7"/></linearGradient><linearGradient id="xk434"><stop offset="0" stop-color="#1d1dff"/><stop offset="0.0663" stop-color="#0000fd"/><stop offset="0.112" stop-color="#0000fa"/><stop offset="0.189" stop-color="#1111ff"/><stop offset="0.235" stop-color="#2525ff"/><stop offset="0.342" stop-color="#1515ff"/><stop offset="0.413" stop-color="#0000fd"/><stop offset="0.536" stop-color="#0000ec"/><stop offset="0.673" stop-color="#0000e9"/><stop offset="0.699" stop-color="#0000d0"/><stop offset="0.719" stop-color="#0000ba"/><stop offset="1" stop-color="#0000b7"/></linearGradient><linearGradient id="xk435"><stop offset="0" stop-color="#4141ff"/><stop offset="0.0459" stop-color="#3939ff"/><stop offset="0.102" stop-color="#2525ff"/><stop offset="0.143" stop-color="#2525ff"/><stop offset="0.168" stop-color="#1d1dff"/><stop offset="0.219" stop-color="#2525ff"/><stop offset="0.286" stop-color="#1919ff"/><stop offset="0.378" stop-color="#0505ff"/><stop offset="0.49" stop-color="#0000ef"/><stop offset="0.658" stop-color="#0000e6"/><stop offset="0.699" stop-color="#0000ba"/><stop offset="1" stop-color="#0000b7"/></linearGradient><linearGradient id="xk436"><stop offset="0" stop-color="#6161ff"/><stop offset="0.0663" stop-color="#5d5dff"/><stop offset="0.224" stop-color="#1d1dff"/><stop offset="0.281" stop-color="#0d0dff"/><stop offset="0.403" stop-color="#0000fd"/><stop offset="0.515" stop-color="#0000ec"/><stop offset="0.638" stop-color="#0000e6"/><stop offset="0.673" stop-color="#0000bc"/><stop offset="0.786" stop-color="#0000b7"/><stop offset="1" stop-color="#0000b7"/></linearGradient><linearGradient id="xk437"><stop offset="0" stop-color="#7979ff"/><stop offset="0.0867" stop-color="#7575ff"/><stop offset="0.184" stop-color="#4141ff"/><stop offset="0.281" stop-color="#0101ff"/><stop offset="0.367" stop-color="#0000f7"/><stop offset="0.571" stop-color="#0000ec"/><stop offset="0.612" stop-color="#0000e9"/><stop offset="0.658" stop-color="#0000ba"/><stop offset="1" stop-color="#0000b7"/></linearGradient><linearGradient id="xk438"><stop offset="0" stop-color="#8989ff"/><stop offset="0.102" stop-color="#8585ff"/><stop offset="0.168" stop-color="#6161ff"/><stop offset="0.27" stop-color="#1919ff"/><stop offset="0.301" stop-color="#0000fd"/><stop offset="0.347" stop-color="#0000ef"/><stop offset="0.582" stop-color="#0000ec"/><stop offset="0.612" stop-color="#0000d3"/><stop offset="0.638" stop-color="#0000ba"/><stop offset="0.995" stop-color="#0000b4"/><stop offset="1" stop-color="#0000b1"/></linearGradient><linearGradient id="xk439"><stop offset="0" stop-color="#8d8dff"/><stop offset="0.138" stop-color="#8989ff"/><stop offset="0.245" stop-color="#4d4dff"/><stop offset="0.311" stop-color="#0101ff"/><stop offset="0.357" stop-color="#0000f2"/><stop offset="0.5" stop-color="#0000e9"/><stop offset="0.546" stop-color="#0000e6"/><stop offset="0.577" stop-color="#0000e4"/><stop offset="0.612" stop-color="#0000ba"/><stop offset="0.949" stop-color="#0000b1"/><stop offset="0.985" stop-color="#000095"/><stop offset="1" stop-color="#000087"/></linearGradient><linearGradient id="xk440"><stop offset="0" stop-color="#8d8dff"/><stop offset="0.168" stop-color="#8d8dff"/><stop offset="0.25" stop-color="#6161ff"/><stop offset="0.316" stop-color="#0909ff"/><stop offset="0.347" stop-color="#0000fa"/><stop offset="0.423" stop-color="#0000ec"/><stop offset="0.51" stop-color="#0000e4"/><stop offset="0.571" stop-color="#0000d3"/><stop offset="0.602" stop-color="#0000ba"/><stop offset="0.903" stop-color="#0000b1"/><stop offset="0.939" stop-color="#000092"/><stop offset="0.974" stop-color="#000071"/><stop offset="1" stop-color="#000068"/></linearGradient><linearGradient id="xk441"><stop offset="0" stop-color="#8d8dff"/><stop offset="0.179" stop-color="#8d8dff"/><stop offset="0.26" stop-color="#6565ff"/><stop offset="0.286" stop-color="#4949ff"/><stop offset="0.327" stop-color="#1111ff"/><stop offset="0.357" stop-color="#0000fa"/><stop offset="0.418" stop-color="#0000ec"/><stop offset="0.52" stop-color="#0000de"/><stop offset="0.592" stop-color="#0000c2"/><stop offset="0.638" stop-color="#0000b7"/><stop offset="0.857" stop-color="#0000b1"/><stop offset="0.908" stop-color="#000082"/><stop offset="0.954" stop-color="#000066"/><stop offset="1" stop-color="#000066"/></linearGradient><linearGradient id="xk442"><stop offset="0" stop-color="#9191ff"/><stop offset="0.179" stop-color="#8d8dff"/><stop offset="0.27" stop-color="#6969ff"/><stop offset="0.301" stop-color="#4949ff"/><stop offset="0.337" stop-color="#1919ff"/><stop offset="0.367" stop-color="#0000fd"/><stop offset="0.413" stop-color="#0000ec"/><stop offset="0.571" stop-color="#0000cd"/><stop offset="0.648" stop-color="#0000b7"/><stop offset="0.806" stop-color="#0000b1"/><stop offset="0.842" stop-color="#000095"/><stop offset="0.893" stop-color="#000068"/><stop offset="1" stop-color="#000066"/></linearGradient><linearGradient id="xk443"><stop offset="0" stop-color="#9999ff"/><stop offset="0.184" stop-color="#9191ff"/><stop offset="0.26" stop-color="#7575ff"/><stop offset="0.316" stop-color="#4545ff"/><stop offset="0.388" stop-color="#0000fa"/><stop offset="0.612" stop-color="#0000bc"/><stop offset="0.648" stop-color="#0000b1"/><stop offset="0.735" stop-color="#0000b4"/><stop offset="0.776" stop-color="#0000a0"/><stop offset="0.837" stop-color="#00006e"/><stop offset="0.898" stop-color="#000066"/><stop offset="1" stop-color="#000066"/></linearGradient><linearGradient id="xk444"><stop offset="0" stop-color="#9d9dff"/><stop offset="0.184" stop-color="#9999ff"/><stop offset="0.25" stop-color="#8585ff"/><stop offset="0.352" stop-color="#3535ff"/><stop offset="0.393" stop-color="#0000fd"/><stop offset="0.526" stop-color="#0000d8"/><stop offset="0.612" stop-color="#0000bc"/><stop offset="0.648" stop-color="#0000a6"/><stop offset="0.679" stop-color="#0000ae"/><stop offset="0.796" stop-color="#000068"/><stop offset="1" stop-color="#000066"/></linearGradient><linearGradient id="xk445"><stop offset="0" stop-color="#a5a5ff"/><stop offset="0.168" stop-color="#a1a1ff"/><stop offset="0.245" stop-color="#9191ff"/><stop offset="0.332" stop-color="#5d5dff"/><stop offset="0.378" stop-color="#2929ff"/><stop offset="0.403" stop-color="#0909ff"/><stop offset="0.434" stop-color="#0000fa"/><stop offset="0.515" stop-color="#0000de"/><stop offset="0.602" stop-color="#0000c5"/><stop offset="0.653" stop-color="#000095"/><stop offset="0.679" stop-color="#00008a"/><stop offset="0.709" stop-color="#000074"/><stop offset="0.776" stop-color="#000066"/><stop offset="1" stop-color="#000066"/></linearGradient><linearGradient id="xk446"><stop offset="0" stop-color="#adadff"/><stop offset="0.194" stop-color="#a5a5ff"/><stop offset="0.281" stop-color="#9191ff"/><stop offset="0.342" stop-color="#6d6dff"/><stop offset="0.413" stop-color="#2121ff"/><stop offset="0.469" stop-color="#0000fa"/><stop offset="0.607" stop-color="#0000ca"/><stop offset="0.653" stop-color="#00008a"/><stop offset="0.73" stop-color="#000066"/><stop offset="1" stop-color="#000066"/></linearGradient><linearGradient id="xk447"><stop offset="0" stop-color="#adadff"/><stop offset="0.209" stop-color="#a9a9ff"/><stop offset="0.301" stop-color="#9595ff"/><stop offset="0.367" stop-color="#6d6dff"/><stop offset="0.49" stop-color="#0101ff"/><stop offset="0.607" stop-color="#0000d6"/><stop offset="0.622" stop-color="#0000bf"/><stop offset="0.653" stop-color="#000084"/><stop offset="0.679" stop-color="#000074"/><stop offset="0.75" stop-color="#000066"/><stop offset="1" stop-color="#000066"/></linearGradient><linearGradient id="xk448"><stop offset="0" stop-color="#b1b1ff"/><stop offset="0.25" stop-color="#a9a9ff"/><stop offset="0.321" stop-color="#9595ff"/><stop offset="0.423" stop-color="#5d5dff"/><stop offset="0.49" stop-color="#2121ff"/><stop offset="0.546" stop-color="#0000fd"/><stop offset="0.607" stop-color="#0000e9"/><stop offset="0.628" stop-color="#0000c5"/><stop offset="0.658" stop-color="#00007f"/><stop offset="0.684" stop-color="#00006e"/><stop offset="0.786" stop-color="#000066"/><stop offset="1" stop-color="#000066"/></linearGradient><linearGradient id="xk449"><stop offset="0" stop-color="#b5b5ff"/><stop offset="0.255" stop-color="#adadff"/><stop offset="0.372" stop-color="#8d8dff"/><stop offset="0.444" stop-color="#6d6dff"/><stop offset="0.546" stop-color="#2121ff"/><stop offset="0.592" stop-color="#1111ff"/><stop offset="0.612" stop-color="#1111ff"/><stop offset="0.622" stop-color="#0000fa"/><stop offset="0.663" stop-color="#000090"/><stop offset="0.679" stop-color="#000076"/><stop offset="0.745" stop-color="#000066"/><stop offset="1" stop-color="#000066"/></linearGradient><linearGradient id="xk450"><stop offset="0" stop-color="#b9b9ff"/><stop offset="0.255" stop-color="#b1b1ff"/><stop offset="0.413" stop-color="#9191ff"/><stop offset="0.485" stop-color="#6d6dff"/><stop offset="0.577" stop-color="#4141ff"/><stop offset="0.597" stop-color="#5151ff"/><stop offset="0.612" stop-color="#5d5dff"/><stop offset="0.622" stop-color="#4545ff"/><stop offset="0.643" stop-color="#0000fa"/><stop offset="0.679" stop-color="#000095"/><stop offset="0.699" stop-color="#000079"/><stop offset="0.755" stop-color="#000066"/><stop offset="1" stop-color="#000066"/></linearGradient><linearGradient id="xk451"><stop offset="0" stop-color="#b9b9ff"/><stop offset="0.25" stop-color="#b5b5ff"/><stop offset="0.327" stop-color="#a9a9ff"/><stop offset="0.439" stop-color="#9595ff"/><stop offset="0.52" stop-color="#7d7dff"/><stop offset="0.551" stop-color="#7575ff"/><stop offset="0.577" stop-color="#6161ff"/><stop offset="0.607" stop-color="#8181ff"/><stop offset="0.617" stop-color="#7575ff"/><stop offset="0.638" stop-color="#2525ff"/><stop offset="0.643" stop-color="#0d0dff"/><stop offset="0.648" stop-color="#0000fa"/><stop offset="0.673" stop-color="#0000ba"/><stop offset="0.735" stop-color="#00006b"/><stop offset="0.847" stop-color="#000066"/><stop offset="1" stop-color="#000066"/></linearGradient><linearGradient id="xk452"><stop offset="0" stop-color="#b9b9ff"/><stop offset="0.26" stop-color="#b5b5ff"/><stop offset="0.434" stop-color="#a1a1ff"/><stop offset="0.485" stop-color="#9595ff"/><stop offset="0.541" stop-color="#9191ff"/><stop offset="0.597" stop-color="#6565ff"/><stop offset="0.607" stop-color="#6565ff"/><stop offset="0.617" stop-color="#5555ff"/><stop offset="0.643" stop-color="#0909ff"/><stop offset="0.653" stop-color="#0000f2"/><stop offset="0.699" stop-color="#0000ae"/><stop offset="0.724" stop-color="#000074"/><stop offset="0.745" stop-color="#000066"/><stop offset="1" stop-color="#000066"/></linearGradient><linearGradient id="xk453"><stop offset="0" stop-color="#bdbdff"/><stop offset="0.316" stop-color="#b5b5ff"/><stop offset="0.454" stop-color="#a5a5ff"/><stop offset="0.531" stop-color="#a1a1ff"/><stop offset="0.577" stop-color="#8585ff"/><stop offset="0.617" stop-color="#5959ff"/><stop offset="0.663" stop-color="#0000fd"/><stop offset="0.689" stop-color="#0000c8"/><stop offset="0.719" stop-color="#000071"/><stop offset="0.745" stop-color="#000066"/><stop offset="1" stop-color="#000066"/></linearGradient><linearGradient id="xk454"><stop offset="0" stop-color="#bdbdff"/><stop offset="0.332" stop-color="#b9b9ff"/><stop offset="0.48" stop-color="#adadff"/><stop offset="0.577" stop-color="#a9a9ff"/><stop offset="0.607" stop-color="#8d8dff"/><stop offset="0.633" stop-color="#5d5dff"/><stop offset="0.658" stop-color="#1919ff"/><stop offset="0.668" stop-color="#0000fa"/><stop offset="0.694" stop-color="#0000ca"/><stop offset="0.714" stop-color="#000079"/><stop offset="0.724" stop-color="#000068"/><stop offset="1" stop-color="#000066"/></linearGradient><linearGradient id="xk455"><stop offset="0" stop-color="#bdbdff"/><stop offset="0.378" stop-color="#b9b9ff"/><stop offset="0.5" stop-color="#b1b1ff"/><stop offset="0.556" stop-color="#c5c5ff"/><stop offset="0.582" stop-color="#cdcdff"/><stop offset="0.607" stop-color="#b1b1ff"/><stop offset="0.633" stop-color="#6d6dff"/><stop offset="0.663" stop-color="#1111ff"/><stop offset="0.668" stop-color="#0909ff"/><stop offset="0.679" stop-color="#2121ff"/><stop offset="0.689" stop-color="#5555ff"/><stop offset="0.694" stop-color="#6161ff"/><stop offset="0.699" stop-color="#5959ff"/><stop offset="0.704" stop-color="#3939ff"/><stop offset="0.709" stop-color="#0d0dff"/><stop offset="0.714" stop-color="#0000e1"/><stop offset="0.724" stop-color="#0000a0"/><stop offset="0.735" stop-color="#000079"/><stop offset="0.755" stop-color="#000066"/><stop offset="1" stop-color="#000066"/></linearGradient><linearGradient id="xk456"><stop offset="0" stop-color="#bdbdff"/><stop offset="0.321" stop-color="#b9b9ff"/><stop offset="0.505" stop-color="#a9a9ff"/><stop offset="0.556" stop-color="#d1d1ff"/><stop offset="0.577" stop-color="#ddddff"/><stop offset="0.602" stop-color="#c9c9ff"/><stop offset="0.617" stop-color="#a1a1ff"/><stop offset="0.648" stop-color="#3939ff"/><stop offset="0.658" stop-color="#2929ff"/><stop offset="0.663" stop-color="#3131ff"/><stop offset="0.673" stop-color="#6969ff"/><stop offset="0.684" stop-color="#b1b1ff"/><stop offset="0.689" stop-color="#c9c9ff"/><stop offset="0.699" stop-color="#d9d9ff"/><stop offset="0.709" stop-color="#c9c9ff"/><stop offset="0.719" stop-color="#9595ff"/><stop offset="0.735" stop-color="#0505ff"/><stop offset="0.75" stop-color="#00009e"/><stop offset="0.76" stop-color="#000079"/><stop offset="0.781" stop-color="#000066"/><stop offset="1" stop-color="#000066"/></linearGradient><linearGradient id="xk457"><stop offset="0" stop-color="#b9b9ff"/><stop offset="0.332" stop-color="#b5b5ff"/><stop offset="0.515" stop-color="#9d9dff"/><stop offset="0.541" stop-color="#b1b1ff"/><stop offset="0.571" stop-color="#c9c9ff"/><stop offset="0.602" stop-color="#bdbdff"/><stop offset="0.617" stop-color="#9999ff"/><stop offset="0.643" stop-color="#4d4dff"/><stop offset="0.653" stop-color="#4d4dff"/><stop offset="0.663" stop-color="#7979ff"/><stop offset="0.673" stop-color="#b5b5ff"/><stop offset="0.679" stop-color="#c9c9ff"/><stop offset="0.689" stop-color="#d9d9ff"/><stop offset="0.714" stop-color="#d1d1ff"/><stop offset="0.724" stop-color="#c9c9ff"/><stop offset="0.735" stop-color="#adadff"/><stop offset="0.745" stop-color="#7575ff"/><stop offset="0.755" stop-color="#1919ff"/><stop offset="0.76" stop-color="#0000ef"/><stop offset="0.77" stop-color="#0000b7"/><stop offset="0.786" stop-color="#00008d"/><stop offset="0.811" stop-color="#00006e"/><stop offset="0.872" stop-color="#000066"/><stop offset="1" stop-color="#000066"/></linearGradient><linearGradient id="xk458"><stop offset="0" stop-color="#b5b5ff"/><stop offset="0.337" stop-color="#b1b1ff"/><stop offset="0.505" stop-color="#8d8dff"/><stop offset="0.536" stop-color="#8d8dff"/><stop offset="0.582" stop-color="#a9a9ff"/><stop offset="0.607" stop-color="#a9a9ff"/><stop offset="0.622" stop-color="#8585ff"/><stop offset="0.638" stop-color="#5d5dff"/><stop offset="0.648" stop-color="#6161ff"/><stop offset="0.668" stop-color="#9999ff"/><stop offset="0.699" stop-color="#9999ff"/><stop offset="0.75" stop-color="#8181ff"/><stop offset="0.776" stop-color="#5151ff"/><stop offset="0.796" stop-color="#0d0dff"/><stop offset="0.801" stop-color="#0000f7"/><stop offset="0.832" stop-color="#0000a6"/><stop offset="0.857" stop-color="#000076"/><stop offset="0.898" stop-color="#000066"/><stop offset="1" stop-color="#000066"/></linearGradient><linearGradient id="xk459"><stop offset="0" stop-color="#b5b5ff"/><stop offset="0.327" stop-color="#adadff"/><stop offset="0.444" stop-color="#8989ff"/><stop offset="0.52" stop-color="#5959ff"/><stop offset="0.551" stop-color="#6161ff"/><stop offset="0.602" stop-color="#9999ff"/><stop offset="0.628" stop-color="#7979ff"/><stop offset="0.643" stop-color="#6d6dff"/><stop offset="0.668" stop-color="#8181ff"/><stop offset="0.801" stop-color="#7979ff"/><stop offset="0.827" stop-color="#5d5dff"/><stop offset="0.852" stop-color="#1515ff"/><stop offset="0.857" stop-color="#0101ff"/><stop offset="0.898" stop-color="#000090"/><stop offset="0.923" stop-color="#000071"/><stop offset="0.969" stop-color="#000066"/><stop offset="1" stop-color="#000066"/></linearGradient><linearGradient id="xk460"><stop offset="0" stop-color="#b1b1ff"/><stop offset="0.291" stop-color="#adadff"/><stop offset="0.423" stop-color="#7171ff"/><stop offset="0.449" stop-color="#6161ff"/><stop offset="0.485" stop-color="#3d3dff"/><stop offset="0.531" stop-color="#3d3dff"/><stop offset="0.582" stop-color="#6969ff"/><stop offset="0.602" stop-color="#8181ff"/><stop offset="0.617" stop-color="#8181ff"/><stop offset="0.638" stop-color="#7979ff"/><stop offset="0.76" stop-color="#8181ff"/><stop offset="0.862" stop-color="#7979ff"/><stop offset="0.883" stop-color="#6161ff"/><stop offset="0.908" stop-color="#1d1dff"/><stop offset="0.913" stop-color="#0909ff"/><stop offset="0.923" stop-color="#0000e6"/><stop offset="0.944" stop-color="#0000ac"/><stop offset="0.974" stop-color="#000076"/><stop offset="1" stop-color="#000068"/></linearGradient><linearGradient id="xk461"><stop offset="0" stop-color="#b1b1ff"/><stop offset="0.276" stop-color="#adadff"/><stop offset="0.372" stop-color="#7d7dff"/><stop offset="0.418" stop-color="#5151ff"/><stop offset="0.469" stop-color="#3939ff"/><stop offset="0.531" stop-color="#3939ff"/><stop offset="0.556" stop-color="#4d4dff"/><stop offset="0.582" stop-color="#7171ff"/><stop offset="0.622" stop-color="#7d7dff"/><stop offset="0.908" stop-color="#7d7dff"/><stop offset="0.934" stop-color="#6969ff"/><stop offset="0.954" stop-color="#4141ff"/><stop offset="0.969" stop-color="#0d0dff"/><stop offset="0.974" stop-color="#0000f7"/><stop offset="0.995" stop-color="#0000c5"/><stop offset="1" stop-color="#0000bf"/></linearGradient><linearGradient id="xk462"><stop offset="0" stop-color="#b1b1ff"/><stop offset="0.321" stop-color="#adadff"/><stop offset="0.362" stop-color="#9d9dff"/><stop offset="0.372" stop-color="#8585ff"/><stop offset="0.393" stop-color="#4949ff"/><stop offset="0.418" stop-color="#3535ff"/><stop offset="0.541" stop-color="#3131ff"/><stop offset="0.571" stop-color="#7575ff"/><stop offset="0.597" stop-color="#7d7dff"/><stop offset="0.969" stop-color="#7d7dff"/><stop offset="1" stop-color="#6969ff"/></linearGradient><linearGradient id="xk463"><stop offset="0" stop-color="#b1b1ff"/><stop offset="0.342" stop-color="#adadff"/><stop offset="0.357" stop-color="#9191ff"/><stop offset="0.378" stop-color="#4949ff"/><stop offset="0.388" stop-color="#3939ff"/><stop offset="0.429" stop-color="#3131ff"/><stop offset="0.536" stop-color="#3535ff"/><stop offset="0.546" stop-color="#4545ff"/><stop offset="0.561" stop-color="#7171ff"/><stop offset="0.577" stop-color="#7d7dff"/><stop offset="1" stop-color="#7d7dff"/></linearGradient><linearGradient id="xk464"><stop offset="0" stop-color="#b1b1ff"/><stop offset="0.337" stop-color="#adadff"/><stop offset="0.347" stop-color="#9999ff"/><stop offset="0.367" stop-color="#4545ff"/><stop offset="0.378" stop-color="#3535ff"/><stop offset="0.536" stop-color="#3535ff"/><stop offset="0.551" stop-color="#5151ff"/><stop offset="0.566" stop-color="#7979ff"/><stop offset="0.663" stop-color="#8181ff"/><stop offset="1" stop-color="#8181ff"/></linearGradient><linearGradient id="xk465"><stop offset="0" stop-color="#b1b1ff"/><stop offset="0.337" stop-color="#adadff"/><stop offset="0.347" stop-color="#9595ff"/><stop offset="0.362" stop-color="#4d4dff"/><stop offset="0.378" stop-color="#3535ff"/><stop offset="0.536" stop-color="#3535ff"/><stop offset="0.551" stop-color="#4d4dff"/><stop offset="0.566" stop-color="#7575ff"/><stop offset="0.592" stop-color="#7d7dff"/><stop offset="1" stop-color="#8181ff"/></linearGradient><linearGradient id="xk466"><stop offset="0" stop-color="#b1b1ff"/><stop offset="0.337" stop-color="#adadff"/><stop offset="0.347" stop-color="#9595ff"/><stop offset="0.362" stop-color="#4d4dff"/><stop offset="0.378" stop-color="#3535ff"/><stop offset="0.541" stop-color="#3535ff"/><stop offset="0.556" stop-color="#5151ff"/><stop offset="0.571" stop-color="#7979ff"/><stop offset="0.653" stop-color="#8181ff"/><stop offset="1" stop-color="#8181ff"/></linearGradient><linearGradient id="xk467"><stop offset="0" stop-color="#b1b1ff"/><stop offset="0.337" stop-color="#adadff"/><stop offset="0.347" stop-color="#9595ff"/><stop offset="0.362" stop-color="#4d4dff"/><stop offset="0.378" stop-color="#3535ff"/><stop offset="0.541" stop-color="#3535ff"/><stop offset="0.551" stop-color="#4545ff"/><stop offset="0.571" stop-color="#7979ff"/><stop offset="0.653" stop-color="#8181ff"/><stop offset="1" stop-color="#8181ff"/></linearGradient></defs><g filter="url(#vb)"><rect x="-12" y="-12" width="392" height="10.5" fill="url(#xk428)"/><rect x="-12" y="-2" width="392" height="10.5" fill="url(#xk429)"/><rect x="-12" y="8" width="392" height="10.5" fill="url(#xk430)"/><rect x="-12" y="18" width="392" height="10.5" fill="url(#xk431)"/><rect x="-12" y="28" width="392" height="10.5" fill="url(#xk432)"/><rect x="-12" y="38" width="392" height="10.5" fill="url(#xk433)"/><rect x="-12" y="48" width="392" height="10.5" fill="url(#xk434)"/><rect x="-12" y="58" width="392" height="10.5" fill="url(#xk435)"/><rect x="-12" y="68" width="392" height="10.5" fill="url(#xk436)"/><rect x="-12" y="78" width="392" height="10.5" fill="url(#xk437)"/><rect x="-12" y="88" width="392" height="10.5" fill="url(#xk438)"/><rect x="-12" y="98" width="392" height="10.5" fill="url(#xk439)"/><rect x="-12" y="108" width="392" height="10.5" fill="url(#xk440)"/><rect x="-12" y="118" width="392" height="10.5" fill="url(#xk441)"/><rect x="-12" y="128" width="392" height="10.5" fill="url(#xk442)"/><rect x="-12" y="138" width="392" height="10.5" fill="url(#xk443)"/><rect x="-12" y="148" width="392" height="10.5" fill="url(#xk444)"/><rect x="-12" y="158" width="392" height="10.5" fill="url(#xk445)"/><rect x="-12" y="168" width="392" height="10.5" fill="url(#xk446)"/><rect x="-12" y="178" width="392" height="10.5" fill="url(#xk447)"/><rect x="-12" y="188" width="392" height="10.5" fill="url(#xk448)"/><rect x="-12" y="198" width="392" height="10.5" fill="url(#xk449)"/><rect x="-12" y="208" width="392" height="10.5" fill="url(#xk450)"/><rect x="-12" y="218" width="392" height="10.5" fill="url(#xk451)"/><rect x="-12" y="228" width="392" height="10.5" fill="url(#xk452)"/><rect x="-12" y="238" width="392" height="10.5" fill="url(#xk453)"/><rect x="-12" y="248" width="392" height="10.5" fill="url(#xk454)"/><rect x="-12" y="258" width="392" height="10.5" fill="url(#xk455)"/><rect x="-12" y="268" width="392" height="10.5" fill="url(#xk456)"/><rect x="-12" y="278" width="392" height="10.5" fill="url(#xk457)"/><rect x="-12" y="288" width="392" height="10.5" fill="url(#xk458)"/><rect x="-12" y="298" width="392" height="10.5" fill="url(#xk459)"/><rect x="-12" y="308" width="392" height="10.5" fill="url(#xk460)"/><rect x="-12" y="318" width="392" height="10.5" fill="url(#xk461)"/><rect x="-12" y="328" width="392" height="10.5" fill="url(#xk462)"/><rect x="-12" y="338" width="392" height="10.5" fill="url(#xk463)"/><rect x="-12" y="348" width="392" height="10.5" fill="url(#xk464)"/><rect x="-12" y="358" width="392" height="10.5" fill="url(#xk465)"/><rect x="-12" y="368" width="392" height="10.5" fill="url(#xk466)"/><rect x="-12" y="378" width="392" height="2.5" fill="url(#xk467)"/></g><use href="#xy_land"/><path d="M36.3 18.5 42 17.8 44 20.6 42 23.8 36.3 24.2Z" fill="#0000d8" stroke="#000" stroke-width="1"/><use href="#xy_over"/><text x="244.5" y="140.2" font-size="20">La Rochelle</text>
</g>
<rect x="0" y="0" width="36.8" height="37.2" fill="#fff" stroke="#000" stroke-width="1.1"/>
<text x="4.0" y="25.8" font-size="20" font-weight="bold">(k)</text>
<rect x="0" y="0" width="366.1" height="366.1" fill="none" stroke="#000" stroke-width="1.1"/>
</g>
<g transform="translate(1384.7,896.5)"><g clip-path="url(#pc)">
<defs><linearGradient id="xl468"><stop offset="0" stop-color="#0000f4"/><stop offset="0.107" stop-color="#0000fa"/><stop offset="0.122" stop-color="#0d0dff"/><stop offset="0.148" stop-color="#2929ff"/><stop offset="0.163" stop-color="#4141ff"/><stop offset="0.173" stop-color="#5959ff"/><stop offset="0.199" stop-color="#6565ff"/><stop offset="0.316" stop-color="#6969ff"/><stop offset="0.347" stop-color="#7d7dff"/><stop offset="0.398" stop-color="#7979ff"/><stop offset="0.429" stop-color="#4d4dff"/><stop offset="0.505" stop-color="#4949ff"/><stop offset="0.551" stop-color="#1d1dff"/><stop offset="0.796" stop-color="#1515ff"/><stop offset="0.816" stop-color="#0000fd"/><stop offset="0.842" stop-color="#0000d0"/><stop offset="0.878" stop-color="#0000c8"/><stop offset="1" stop-color="#0000c8"/></linearGradient><linearGradient id="xl469"><stop offset="0" stop-color="#0000f4"/><stop offset="0.0867" stop-color="#0000fa"/><stop offset="0.107" stop-color="#0909ff"/><stop offset="0.133" stop-color="#2525ff"/><stop offset="0.153" stop-color="#2d2dff"/><stop offset="0.163" stop-color="#3d3dff"/><stop offset="0.173" stop-color="#5555ff"/><stop offset="0.194" stop-color="#6565ff"/><stop offset="0.311" stop-color="#6969ff"/><stop offset="0.337" stop-color="#7d7dff"/><stop offset="0.388" stop-color="#7979ff"/><stop offset="0.403" stop-color="#6969ff"/><stop offset="0.418" stop-color="#5151ff"/><stop offset="0.495" stop-color="#4949ff"/><stop offset="0.546" stop-color="#1919ff"/><stop offset="0.776" stop-color="#1515ff"/><stop offset="0.796" stop-color="#0000fa"/><stop offset="0.821" stop-color="#0000d0"/><stop offset="0.872" stop-color="#0000c8"/><stop offset="1" stop-color="#0000c8"/></linearGradient><linearGradient id="xl470"><stop offset="0" stop-color="#0000f4"/><stop offset="0.0918" stop-color="#0505ff"/><stop offset="0.122" stop-color="#2525ff"/><stop offset="0.148" stop-color="#2929ff"/><stop offset="0.168" stop-color="#4949ff"/><stop offset="0.184" stop-color="#6161ff"/><stop offset="0.301" stop-color="#6969ff"/><stop offset="0.332" stop-color="#7d7dff"/><stop offset="0.383" stop-color="#7979ff"/><stop offset="0.418" stop-color="#4d4dff"/><stop offset="0.48" stop-color="#4949ff"/><stop offset="0.541" stop-color="#1919ff"/><stop offset="0.755" stop-color="#1515ff"/><stop offset="0.765" stop-color="#0d0dff"/><stop offset="0.77" stop-color="#0101ff"/><stop offset="0.801" stop-color="#0000d0"/><stop offset="0.852" stop-color="#0000c8"/><stop offset="1" stop-color="#0000c8"/></linearGradient><linearGradient id="xl471"><stop offset="0" stop-color="#0000f7"/><stop offset="0.0765" stop-color="#0505ff"/><stop offset="0.117" stop-color="#2525ff"/><stop offset="0.148" stop-color="#2d2dff"/><stop offset="0.189" stop-color="#6161ff"/><stop offset="0.296" stop-color="#6969ff"/><stop offset="0.321" stop-color="#7d7dff"/><stop offset="0.372" stop-color="#7979ff"/><stop offset="0.413" stop-color="#4d4dff"/><stop offset="0.469" stop-color="#4949ff"/><stop offset="0.531" stop-color="#1919ff"/><stop offset="0.735" stop-color="#1515ff"/><stop offset="0.75" stop-color="#0101ff"/><stop offset="0.781" stop-color="#0000d0"/><stop offset="0.832" stop-color="#0000c8"/><stop offset="1" stop-color="#0000c8"/></linearGradient><linearGradient id="xl472"><stop offset="0" stop-color="#0000fd"/><stop offset="0.0765" stop-color="#1111ff"/><stop offset="0.102" stop-color="#2525ff"/><stop offset="0.138" stop-color="#2d2dff"/><stop offset="0.184" stop-color="#5151ff"/><stop offset="0.209" stop-color="#6565ff"/><stop offset="0.286" stop-color="#6969ff"/><stop offset="0.316" stop-color="#7d7dff"/><stop offset="0.362" stop-color="#7979ff"/><stop offset="0.408" stop-color="#4d4dff"/><stop offset="0.454" stop-color="#4949ff"/><stop offset="0.526" stop-color="#1919ff"/><stop offset="0.714" stop-color="#1515ff"/><stop offset="0.73" stop-color="#0000fd"/><stop offset="0.76" stop-color="#0000d0"/><stop offset="0.811" stop-color="#0000c8"/><stop offset="1" stop-color="#0000c8"/></linearGradient><linearGradient id="xl473"><stop offset="0" stop-color="#0909ff"/><stop offset="0.0357" stop-color="#0909ff"/><stop offset="0.184" stop-color="#4949ff"/><stop offset="0.204" stop-color="#6161ff"/><stop offset="0.281" stop-color="#6969ff"/><stop offset="0.306" stop-color="#7d7dff"/><stop offset="0.352" stop-color="#7979ff"/><stop offset="0.408" stop-color="#4d4dff"/><stop offset="0.449" stop-color="#4545ff"/><stop offset="0.515" stop-color="#1919ff"/><stop offset="0.694" stop-color="#1515ff"/><stop offset="0.709" stop-color="#0000fd"/><stop offset="0.74" stop-color="#0000cd"/><stop offset="0.908" stop-color="#0000c8"/><stop offset="1" stop-color="#0000c8"/></linearGradient><linearGradient id="xl474"><stop offset="0" stop-color="#1919ff"/><stop offset="0.051" stop-color="#1d1dff"/><stop offset="0.189" stop-color="#4d4dff"/><stop offset="0.25" stop-color="#6565ff"/><stop offset="0.281" stop-color="#7171ff"/><stop offset="0.311" stop-color="#7d7dff"/><stop offset="0.347" stop-color="#7575ff"/><stop offset="0.403" stop-color="#4d4dff"/><stop offset="0.439" stop-color="#4545ff"/><stop offset="0.464" stop-color="#3131ff"/><stop offset="0.485" stop-color="#2525ff"/><stop offset="0.515" stop-color="#1919ff"/><stop offset="0.668" stop-color="#1515ff"/><stop offset="0.689" stop-color="#0000fd"/><stop offset="0.719" stop-color="#0000cd"/><stop offset="0.888" stop-color="#0000c8"/><stop offset="1" stop-color="#0000c8"/></linearGradient><linearGradient id="xl475"><stop offset="0" stop-color="#3131ff"/><stop offset="0.051" stop-color="#3939ff"/><stop offset="0.102" stop-color="#4949ff"/><stop offset="0.204" stop-color="#4d4dff"/><stop offset="0.291" stop-color="#7171ff"/><stop offset="0.327" stop-color="#7979ff"/><stop offset="0.398" stop-color="#4d4dff"/><stop offset="0.429" stop-color="#4141ff"/><stop offset="0.459" stop-color="#3131ff"/><stop offset="0.5" stop-color="#1919ff"/><stop offset="0.648" stop-color="#1515ff"/><stop offset="0.668" stop-color="#0000fa"/><stop offset="0.694" stop-color="#0000d0"/><stop offset="0.745" stop-color="#0000c8"/><stop offset="1" stop-color="#0000c8"/></linearGradient><linearGradient id="xl476"><stop offset="0" stop-color="#4949ff"/><stop offset="0.102" stop-color="#6d6dff"/><stop offset="0.235" stop-color="#5555ff"/><stop offset="0.276" stop-color="#5d5dff"/><stop offset="0.316" stop-color="#6d6dff"/><stop offset="0.378" stop-color="#5959ff"/><stop offset="0.449" stop-color="#3131ff"/><stop offset="0.49" stop-color="#1919ff"/><stop offset="0.628" stop-color="#1515ff"/><stop offset="0.638" stop-color="#0d0dff"/><stop offset="0.643" stop-color="#0101ff"/><stop offset="0.673" stop-color="#0000d0"/><stop offset="0.724" stop-color="#0000c8"/><stop offset="1" stop-color="#0000c8"/></linearGradient><linearGradient id="xl477"><stop offset="0" stop-color="#6969ff"/><stop offset="0.0612" stop-color="#7d7dff"/><stop offset="0.0918" stop-color="#8989ff"/><stop offset="0.219" stop-color="#7575ff"/><stop offset="0.26" stop-color="#5d5dff"/><stop offset="0.301" stop-color="#6161ff"/><stop offset="0.357" stop-color="#6161ff"/><stop offset="0.459" stop-color="#3131ff"/><stop offset="0.49" stop-color="#1919ff"/><stop offset="0.607" stop-color="#1515ff"/><stop offset="0.622" stop-color="#0101ff"/><stop offset="0.653" stop-color="#0000d0"/><stop offset="0.704" stop-color="#0000c8"/><stop offset="1" stop-color="#0000c8"/></linearGradient><linearGradient id="xl478"><stop offset="0" stop-color="#8585ff"/><stop offset="0.102" stop-color="#a1a1ff"/><stop offset="0.173" stop-color="#9999ff"/><stop offset="0.214" stop-color="#9999ff"/><stop offset="0.276" stop-color="#6969ff"/><stop offset="0.378" stop-color="#5959ff"/><stop offset="0.418" stop-color="#5959ff"/><stop offset="0.444" stop-color="#5959ff"/><stop offset="0.495" stop-color="#1919ff"/><stop offset="0.587" stop-color="#1515ff"/><stop offset="0.602" stop-color="#0000fd"/><stop offset="0.633" stop-color="#0000d0"/><stop offset="0.684" stop-color="#0000c8"/><stop offset="0.995" stop-color="#0000c5"/><stop offset="1" stop-color="#0000c2"/></linearGradient><linearGradient id="xl479"><stop offset="0" stop-color="#9191ff"/><stop offset="0.143" stop-color="#b1b1ff"/><stop offset="0.214" stop-color="#b1b1ff"/><stop offset="0.332" stop-color="#5555ff"/><stop offset="0.398" stop-color="#4d4dff"/><stop offset="0.429" stop-color="#6161ff"/><stop offset="0.449" stop-color="#5151ff"/><stop offset="0.485" stop-color="#1111ff"/><stop offset="0.526" stop-color="#0505ff"/><stop offset="0.566" stop-color="#1111ff"/><stop offset="0.582" stop-color="#0000fd"/><stop offset="0.612" stop-color="#0000cd"/><stop offset="0.781" stop-color="#0000c8"/><stop offset="0.949" stop-color="#0000c2"/><stop offset="0.98" stop-color="#0000a6"/><stop offset="1" stop-color="#00008d"/></linearGradient><linearGradient id="xl480"><stop offset="0" stop-color="#9595ff"/><stop offset="0.0918" stop-color="#a5a5ff"/><stop offset="0.153" stop-color="#bdbdff"/><stop offset="0.214" stop-color="#bdbdff"/><stop offset="0.286" stop-color="#8585ff"/><stop offset="0.332" stop-color="#5151ff"/><stop offset="0.393" stop-color="#3939ff"/><stop offset="0.429" stop-color="#3535ff"/><stop offset="0.459" stop-color="#1515ff"/><stop offset="0.48" stop-color="#0101ff"/><stop offset="0.566" stop-color="#0000ef"/><stop offset="0.592" stop-color="#0000d0"/><stop offset="0.643" stop-color="#0000c8"/><stop offset="0.898" stop-color="#0000c5"/><stop offset="0.929" stop-color="#0000ac"/><stop offset="0.969" stop-color="#000076"/><stop offset="1" stop-color="#000068"/></linearGradient><linearGradient id="xl481"><stop offset="0" stop-color="#9595ff"/><stop offset="0.102" stop-color="#a9a9ff"/><stop offset="0.163" stop-color="#bdbdff"/><stop offset="0.24" stop-color="#b9b9ff"/><stop offset="0.281" stop-color="#9595ff"/><stop offset="0.342" stop-color="#5151ff"/><stop offset="0.408" stop-color="#2121ff"/><stop offset="0.454" stop-color="#0000fd"/><stop offset="0.51" stop-color="#0000ef"/><stop offset="0.582" stop-color="#0000db"/><stop offset="0.633" stop-color="#0000c8"/><stop offset="0.852" stop-color="#0000c5"/><stop offset="0.883" stop-color="#0000a9"/><stop offset="0.934" stop-color="#00006e"/><stop offset="0.995" stop-color="#000066"/><stop offset="1" stop-color="#000066"/></linearGradient><linearGradient id="xl482"><stop offset="0" stop-color="#9999ff"/><stop offset="0.122" stop-color="#adadff"/><stop offset="0.199" stop-color="#b9b9ff"/><stop offset="0.255" stop-color="#adadff"/><stop offset="0.311" stop-color="#7d7dff"/><stop offset="0.393" stop-color="#2d2dff"/><stop offset="0.449" stop-color="#0000fd"/><stop offset="0.49" stop-color="#0000e9"/><stop offset="0.658" stop-color="#0000c8"/><stop offset="0.806" stop-color="#0000c2"/><stop offset="0.837" stop-color="#0000a9"/><stop offset="0.883" stop-color="#000071"/><stop offset="0.934" stop-color="#000066"/><stop offset="1" stop-color="#000066"/></linearGradient><linearGradient id="xl483"><stop offset="0" stop-color="#9d9dff"/><stop offset="0.184" stop-color="#b1b1ff"/><stop offset="0.255" stop-color="#a5a5ff"/><stop offset="0.332" stop-color="#7575ff"/><stop offset="0.429" stop-color="#1111ff"/><stop offset="0.449" stop-color="#0000fd"/><stop offset="0.526" stop-color="#0000db"/><stop offset="0.648" stop-color="#0000c2"/><stop offset="0.73" stop-color="#0000c5"/><stop offset="0.776" stop-color="#0000ae"/><stop offset="0.842" stop-color="#00006b"/><stop offset="1" stop-color="#000066"/></linearGradient><linearGradient id="xl484"><stop offset="0" stop-color="#a5a5ff"/><stop offset="0.112" stop-color="#adadff"/><stop offset="0.204" stop-color="#adadff"/><stop offset="0.276" stop-color="#9d9dff"/><stop offset="0.327" stop-color="#8181ff"/><stop offset="0.378" stop-color="#5555ff"/><stop offset="0.454" stop-color="#0000fd"/><stop offset="0.551" stop-color="#0000d6"/><stop offset="0.622" stop-color="#0000c5"/><stop offset="0.648" stop-color="#0000b1"/><stop offset="0.679" stop-color="#0000bf"/><stop offset="0.786" stop-color="#00006b"/><stop offset="1" stop-color="#000066"/></linearGradient><linearGradient id="xl485"><stop offset="0" stop-color="#adadff"/><stop offset="0.209" stop-color="#adadff"/><stop offset="0.311" stop-color="#9999ff"/><stop offset="0.378" stop-color="#6d6dff"/><stop offset="0.444" stop-color="#2121ff"/><stop offset="0.469" stop-color="#0101ff"/><stop offset="0.571" stop-color="#0000db"/><stop offset="0.617" stop-color="#0000ca"/><stop offset="0.648" stop-color="#0000a0"/><stop offset="0.679" stop-color="#000092"/><stop offset="0.709" stop-color="#000074"/><stop offset="0.776" stop-color="#000066"/><stop offset="1" stop-color="#000066"/></linearGradient><linearGradient id="xl486"><stop offset="0" stop-color="#b1b1ff"/><stop offset="0.245" stop-color="#adadff"/><stop offset="0.327" stop-color="#9999ff"/><stop offset="0.418" stop-color="#6161ff"/><stop offset="0.48" stop-color="#1111ff"/><stop offset="0.515" stop-color="#0000fd"/><stop offset="0.607" stop-color="#0000db"/><stop offset="0.653" stop-color="#000090"/><stop offset="0.719" stop-color="#000068"/><stop offset="1" stop-color="#000066"/></linearGradient><linearGradient id="xl487"><stop offset="0" stop-color="#b5b5ff"/><stop offset="0.235" stop-color="#b1b1ff"/><stop offset="0.332" stop-color="#9d9dff"/><stop offset="0.408" stop-color="#7979ff"/><stop offset="0.439" stop-color="#5d5dff"/><stop offset="0.485" stop-color="#2929ff"/><stop offset="0.561" stop-color="#0000fd"/><stop offset="0.607" stop-color="#0000e9"/><stop offset="0.628" stop-color="#0000bf"/><stop offset="0.648" stop-color="#000090"/><stop offset="0.663" stop-color="#00007c"/><stop offset="0.74" stop-color="#000066"/><stop offset="1" stop-color="#000066"/></linearGradient><linearGradient id="xl488"><stop offset="0" stop-color="#b9b9ff"/><stop offset="0.265" stop-color="#b1b1ff"/><stop offset="0.337" stop-color="#a1a1ff"/><stop offset="0.403" stop-color="#8989ff"/><stop offset="0.48" stop-color="#4d4dff"/><stop offset="0.607" stop-color="#0000fd"/><stop offset="0.622" stop-color="#0000e1"/><stop offset="0.653" stop-color="#00008a"/><stop offset="0.673" stop-color="#000071"/><stop offset="0.765" stop-color="#000066"/><stop offset="1" stop-color="#000066"/></linearGradient><linearGradient id="xl489"><stop offset="0" stop-color="#bdbdff"/><stop offset="0.291" stop-color="#b1b1ff"/><stop offset="0.393" stop-color="#9d9dff"/><stop offset="0.48" stop-color="#6d6dff"/><stop offset="0.566" stop-color="#4545ff"/><stop offset="0.597" stop-color="#3d3dff"/><stop offset="0.607" stop-color="#4141ff"/><stop offset="0.617" stop-color="#3131ff"/><stop offset="0.628" stop-color="#0909ff"/><stop offset="0.638" stop-color="#0000e4"/><stop offset="0.663" stop-color="#000095"/><stop offset="0.684" stop-color="#000074"/><stop offset="0.765" stop-color="#000066"/><stop offset="1" stop-color="#000066"/></linearGradient><linearGradient id="xl490"><stop offset="0" stop-color="#bdbdff"/><stop offset="0.24" stop-color="#b9b9ff"/><stop offset="0.413" stop-color="#a1a1ff"/><stop offset="0.556" stop-color="#7575ff"/><stop offset="0.587" stop-color="#7979ff"/><stop offset="0.607" stop-color="#9191ff"/><stop offset="0.617" stop-color="#8585ff"/><stop offset="0.633" stop-color="#4949ff"/><stop offset="0.648" stop-color="#0000fd"/><stop offset="0.679" stop-color="#00009b"/><stop offset="0.694" stop-color="#00007f"/><stop offset="0.74" stop-color="#000068"/><stop offset="1" stop-color="#000066"/></linearGradient><linearGradient id="xl491"><stop offset="0" stop-color="#c1c1ff"/><stop offset="0.265" stop-color="#b9b9ff"/><stop offset="0.403" stop-color="#a9a9ff"/><stop offset="0.474" stop-color="#9999ff"/><stop offset="0.556" stop-color="#8d8dff"/><stop offset="0.582" stop-color="#8585ff"/><stop offset="0.607" stop-color="#9595ff"/><stop offset="0.617" stop-color="#8585ff"/><stop offset="0.633" stop-color="#4949ff"/><stop offset="0.648" stop-color="#0101ff"/><stop offset="0.668" stop-color="#0000c8"/><stop offset="0.709" stop-color="#00008a"/><stop offset="0.735" stop-color="#00006b"/><stop offset="0.847" stop-color="#000066"/><stop offset="1" stop-color="#000066"/></linearGradient><linearGradient id="xl492"><stop offset="0" stop-color="#c5c5ff"/><stop offset="0.291" stop-color="#b9b9ff"/><stop offset="0.418" stop-color="#a9a9ff"/><stop offset="0.474" stop-color="#a1a1ff"/><stop offset="0.536" stop-color="#a1a1ff"/><stop offset="0.612" stop-color="#6d6dff"/><stop offset="0.648" stop-color="#0101ff"/><stop offset="0.704" stop-color="#0000a3"/><stop offset="0.724" stop-color="#000074"/><stop offset="0.745" stop-color="#000066"/><stop offset="1" stop-color="#000066"/></linearGradient><linearGradient id="xl493"><stop offset="0" stop-color="#c5c5ff"/><stop offset="0.224" stop-color="#c1c1ff"/><stop offset="0.403" stop-color="#b1b1ff"/><stop offset="0.459" stop-color="#a9a9ff"/><stop offset="0.541" stop-color="#a9a9ff"/><stop offset="0.602" stop-color="#7979ff"/><stop offset="0.628" stop-color="#4949ff"/><stop offset="0.663" stop-color="#0000fa"/><stop offset="0.694" stop-color="#0000ba"/><stop offset="0.714" stop-color="#000079"/><stop offset="0.735" stop-color="#000066"/><stop offset="1" stop-color="#000066"/></linearGradient><linearGradient id="xl494"><stop offset="0" stop-color="#c9c9ff"/><stop offset="0.194" stop-color="#c5c5ff"/><stop offset="0.439" stop-color="#b1b1ff"/><stop offset="0.49" stop-color="#b1b1ff"/><stop offset="0.566" stop-color="#b1b1ff"/><stop offset="0.602" stop-color="#9595ff"/><stop offset="0.628" stop-color="#6565ff"/><stop offset="0.658" stop-color="#1515ff"/><stop offset="0.663" stop-color="#0505ff"/><stop offset="0.694" stop-color="#0000ca"/><stop offset="0.714" stop-color="#000079"/><stop offset="0.724" stop-color="#000068"/><stop offset="1" stop-color="#000066"/></linearGradient><linearGradient id="xl495"><stop offset="0" stop-color="#cdcdff"/><stop offset="0.209" stop-color="#c5c5ff"/><stop offset="0.311" stop-color="#b9b9ff"/><stop offset="0.485" stop-color="#b1b1ff"/><stop offset="0.566" stop-color="#c5c5ff"/><stop offset="0.592" stop-color="#c1c1ff"/><stop offset="0.607" stop-color="#a9a9ff"/><stop offset="0.633" stop-color="#6565ff"/><stop offset="0.658" stop-color="#1919ff"/><stop offset="0.668" stop-color="#0505ff"/><stop offset="0.679" stop-color="#1d1dff"/><stop offset="0.689" stop-color="#4d4dff"/><stop offset="0.694" stop-color="#5d5dff"/><stop offset="0.699" stop-color="#5555ff"/><stop offset="0.704" stop-color="#3535ff"/><stop offset="0.709" stop-color="#0505ff"/><stop offset="0.724" stop-color="#00009e"/><stop offset="0.735" stop-color="#000079"/><stop offset="0.755" stop-color="#000066"/><stop offset="1" stop-color="#000066"/></linearGradient><linearGradient id="xl496"><stop offset="0" stop-color="#d1d1ff"/><stop offset="0.122" stop-color="#cdcdff"/><stop offset="0.342" stop-color="#b5b5ff"/><stop offset="0.485" stop-color="#a9a9ff"/><stop offset="0.536" stop-color="#c1c1ff"/><stop offset="0.571" stop-color="#d9d9ff"/><stop offset="0.592" stop-color="#d1d1ff"/><stop offset="0.607" stop-color="#b5b5ff"/><stop offset="0.648" stop-color="#3535ff"/><stop offset="0.658" stop-color="#2929ff"/><stop offset="0.663" stop-color="#2d2dff"/><stop offset="0.668" stop-color="#4141ff"/><stop offset="0.684" stop-color="#a5a5ff"/><stop offset="0.689" stop-color="#bdbdff"/><stop offset="0.699" stop-color="#cdcdff"/><stop offset="0.709" stop-color="#bdbdff"/><stop offset="0.714" stop-color="#a9a9ff"/><stop offset="0.724" stop-color="#6161ff"/><stop offset="0.735" stop-color="#0000fd"/><stop offset="0.75" stop-color="#00009e"/><stop offset="0.76" stop-color="#000079"/><stop offset="0.781" stop-color="#000066"/><stop offset="1" stop-color="#000066"/></linearGradient><linearGradient id="xl497"><stop offset="0" stop-color="#d9d9ff"/><stop offset="0.0918" stop-color="#d5d5ff"/><stop offset="0.357" stop-color="#b1b1ff"/><stop offset="0.5" stop-color="#a1a1ff"/><stop offset="0.536" stop-color="#b1b1ff"/><stop offset="0.566" stop-color="#d1d1ff"/><stop offset="0.587" stop-color="#cdcdff"/><stop offset="0.607" stop-color="#adadff"/><stop offset="0.633" stop-color="#6565ff"/><stop offset="0.643" stop-color="#4949ff"/><stop offset="0.653" stop-color="#4949ff"/><stop offset="0.658" stop-color="#5959ff"/><stop offset="0.673" stop-color="#a9a9ff"/><stop offset="0.684" stop-color="#c9c9ff"/><stop offset="0.714" stop-color="#c9c9ff"/><stop offset="0.73" stop-color="#b5b5ff"/><stop offset="0.74" stop-color="#8d8dff"/><stop offset="0.75" stop-color="#4545ff"/><stop offset="0.755" stop-color="#1515ff"/><stop offset="0.76" stop-color="#0000ef"/><stop offset="0.77" stop-color="#0000b7"/><stop offset="0.786" stop-color="#00008d"/><stop offset="0.811" stop-color="#00006e"/><stop offset="0.872" stop-color="#000066"/><stop offset="1" stop-color="#000066"/></linearGradient><linearGradient id="xl498"><stop offset="0" stop-color="#e1e1ff"/><stop offset="0.133" stop-color="#d1d1ff"/><stop offset="0.464" stop-color="#9d9dff"/><stop offset="0.531" stop-color="#9d9dff"/><stop offset="0.577" stop-color="#b9b9ff"/><stop offset="0.602" stop-color="#adadff"/><stop offset="0.612" stop-color="#9d9dff"/><stop offset="0.633" stop-color="#6565ff"/><stop offset="0.643" stop-color="#5959ff"/><stop offset="0.668" stop-color="#9595ff"/><stop offset="0.704" stop-color="#9595ff"/><stop offset="0.75" stop-color="#8181ff"/><stop offset="0.776" stop-color="#5151ff"/><stop offset="0.796" stop-color="#0d0dff"/><stop offset="0.801" stop-color="#0000f7"/><stop offset="0.832" stop-color="#0000a6"/><stop offset="0.857" stop-color="#000076"/><stop offset="0.898" stop-color="#000066"/><stop offset="1" stop-color="#000066"/></linearGradient><linearGradient id="xl499"><stop offset="0" stop-color="#e5e5ff"/><stop offset="0.342" stop-color="#adadff"/><stop offset="0.51" stop-color="#8585ff"/><stop offset="0.551" stop-color="#8d8dff"/><stop offset="0.597" stop-color="#a1a1ff"/><stop offset="0.622" stop-color="#8181ff"/><stop offset="0.633" stop-color="#6d6dff"/><stop offset="0.648" stop-color="#7171ff"/><stop offset="0.668" stop-color="#8181ff"/><stop offset="0.801" stop-color="#7979ff"/><stop offset="0.827" stop-color="#5d5dff"/><stop offset="0.852" stop-color="#1515ff"/><stop offset="0.857" stop-color="#0101ff"/><stop offset="0.898" stop-color="#000090"/><stop offset="0.923" stop-color="#000071"/><stop offset="0.969" stop-color="#000066"/><stop offset="1" stop-color="#000066"/></linearGradient><linearGradient id="xl500"><stop offset="0" stop-color="#e5e5ff"/><stop offset="0.296" stop-color="#b5b5ff"/><stop offset="0.434" stop-color="#8585ff"/><stop offset="0.495" stop-color="#7171ff"/><stop offset="0.556" stop-color="#7979ff"/><stop offset="0.607" stop-color="#8989ff"/><stop offset="0.638" stop-color="#7979ff"/><stop offset="0.76" stop-color="#8181ff"/><stop offset="0.862" stop-color="#7979ff"/><stop offset="0.883" stop-color="#6161ff"/><stop offset="0.908" stop-color="#1d1dff"/><stop offset="0.913" stop-color="#0909ff"/><stop offset="0.923" stop-color="#0000e6"/><stop offset="0.944" stop-color="#0000ac"/><stop offset="0.974" stop-color="#000076"/><stop offset="1" stop-color="#000068"/></linearGradient><linearGradient id="xl501"><stop offset="0" stop-color="#e5e5ff"/><stop offset="0.235" stop-color="#c1c1ff"/><stop offset="0.321" stop-color="#a9a9ff"/><stop offset="0.383" stop-color="#8d8dff"/><stop offset="0.429" stop-color="#7575ff"/><stop offset="0.495" stop-color="#6969ff"/><stop offset="0.551" stop-color="#7575ff"/><stop offset="0.622" stop-color="#8181ff"/><stop offset="0.908" stop-color="#7d7dff"/><stop offset="0.934" stop-color="#6969ff"/><stop offset="0.954" stop-color="#4141ff"/><stop offset="0.969" stop-color="#0d0dff"/><stop offset="0.974" stop-color="#0000f7"/><stop offset="0.995" stop-color="#0000c5"/><stop offset="1" stop-color="#0000bf"/></linearGradient><linearGradient id="xl502"><stop offset="0" stop-color="#e5e5ff"/><stop offset="0.0816" stop-color="#e1e1ff"/><stop offset="0.128" stop-color="#cdcdff"/><stop offset="0.194" stop-color="#c1c1ff"/><stop offset="0.321" stop-color="#b9b9ff"/><stop offset="0.367" stop-color="#9d9dff"/><stop offset="0.398" stop-color="#6d6dff"/><stop offset="0.51" stop-color="#6565ff"/><stop offset="0.551" stop-color="#7575ff"/><stop offset="0.577" stop-color="#7d7dff"/><stop offset="0.969" stop-color="#7d7dff"/><stop offset="1" stop-color="#6969ff"/></linearGradient><linearGradient id="xl503"><stop offset="0" stop-color="#e5e5ff"/><stop offset="0.0918" stop-color="#e1e1ff"/><stop offset="0.133" stop-color="#c5c5ff"/><stop offset="0.337" stop-color="#b9b9ff"/><stop offset="0.352" stop-color="#a9a9ff"/><stop offset="0.383" stop-color="#6d6dff"/><stop offset="0.408" stop-color="#6565ff"/><stop offset="0.541" stop-color="#6969ff"/><stop offset="0.566" stop-color="#7d7dff"/><stop offset="1" stop-color="#7d7dff"/></linearGradient><linearGradient id="xl504"><stop offset="0" stop-color="#e5e5ff"/><stop offset="0.102" stop-color="#e1e1ff"/><stop offset="0.133" stop-color="#c1c1ff"/><stop offset="0.337" stop-color="#bdbdff"/><stop offset="0.347" stop-color="#adadff"/><stop offset="0.367" stop-color="#7171ff"/><stop offset="0.388" stop-color="#6565ff"/><stop offset="0.541" stop-color="#6969ff"/><stop offset="0.571" stop-color="#7d7dff"/><stop offset="1" stop-color="#8181ff"/></linearGradient><linearGradient id="xl505"><stop offset="0" stop-color="#e5e5ff"/><stop offset="0.102" stop-color="#e1e1ff"/><stop offset="0.128" stop-color="#c1c1ff"/><stop offset="0.337" stop-color="#bdbdff"/><stop offset="0.352" stop-color="#9d9dff"/><stop offset="0.367" stop-color="#6d6dff"/><stop offset="0.393" stop-color="#6565ff"/><stop offset="0.546" stop-color="#6969ff"/><stop offset="0.571" stop-color="#7d7dff"/><stop offset="1" stop-color="#8181ff"/></linearGradient><linearGradient id="xl506"><stop offset="0" stop-color="#e5e5ff"/><stop offset="0.102" stop-color="#e1e1ff"/><stop offset="0.128" stop-color="#c1c1ff"/><stop offset="0.337" stop-color="#bdbdff"/><stop offset="0.352" stop-color="#9d9dff"/><stop offset="0.367" stop-color="#6d6dff"/><stop offset="0.393" stop-color="#6565ff"/><stop offset="0.546" stop-color="#6969ff"/><stop offset="0.577" stop-color="#7d7dff"/><stop offset="1" stop-color="#8181ff"/></linearGradient><linearGradient id="xl507"><stop offset="0" stop-color="#e5e5ff"/><stop offset="0.102" stop-color="#e1e1ff"/><stop offset="0.128" stop-color="#c1c1ff"/><stop offset="0.337" stop-color="#bdbdff"/><stop offset="0.352" stop-color="#9d9dff"/><stop offset="0.367" stop-color="#6d6dff"/><stop offset="0.393" stop-color="#6565ff"/><stop offset="0.546" stop-color="#6969ff"/><stop offset="0.577" stop-color="#7d7dff"/><stop offset="1" stop-color="#8181ff"/></linearGradient></defs><g filter="url(#vb)"><rect x="-12" y="-12" width="392" height="10.5" fill="url(#xl468)"/><rect x="-12" y="-2" width="392" height="10.5" fill="url(#xl469)"/><rect x="-12" y="8" width="392" height="10.5" fill="url(#xl470)"/><rect x="-12" y="18" width="392" height="10.5" fill="url(#xl471)"/><rect x="-12" y="28" width="392" height="10.5" fill="url(#xl472)"/><rect x="-12" y="38" width="392" height="10.5" fill="url(#xl473)"/><rect x="-12" y="48" width="392" height="10.5" fill="url(#xl474)"/><rect x="-12" y="58" width="392" height="10.5" fill="url(#xl475)"/><rect x="-12" y="68" width="392" height="10.5" fill="url(#xl476)"/><rect x="-12" y="78" width="392" height="10.5" fill="url(#xl477)"/><rect x="-12" y="88" width="392" height="10.5" fill="url(#xl478)"/><rect x="-12" y="98" width="392" height="10.5" fill="url(#xl479)"/><rect x="-12" y="108" width="392" height="10.5" fill="url(#xl480)"/><rect x="-12" y="118" width="392" height="10.5" fill="url(#xl481)"/><rect x="-12" y="128" width="392" height="10.5" fill="url(#xl482)"/><rect x="-12" y="138" width="392" height="10.5" fill="url(#xl483)"/><rect x="-12" y="148" width="392" height="10.5" fill="url(#xl484)"/><rect x="-12" y="158" width="392" height="10.5" fill="url(#xl485)"/><rect x="-12" y="168" width="392" height="10.5" fill="url(#xl486)"/><rect x="-12" y="178" width="392" height="10.5" fill="url(#xl487)"/><rect x="-12" y="188" width="392" height="10.5" fill="url(#xl488)"/><rect x="-12" y="198" width="392" height="10.5" fill="url(#xl489)"/><rect x="-12" y="208" width="392" height="10.5" fill="url(#xl490)"/><rect x="-12" y="218" width="392" height="10.5" fill="url(#xl491)"/><rect x="-12" y="228" width="392" height="10.5" fill="url(#xl492)"/><rect x="-12" y="238" width="392" height="10.5" fill="url(#xl493)"/><rect x="-12" y="248" width="392" height="10.5" fill="url(#xl494)"/><rect x="-12" y="258" width="392" height="10.5" fill="url(#xl495)"/><rect x="-12" y="268" width="392" height="10.5" fill="url(#xl496)"/><rect x="-12" y="278" width="392" height="10.5" fill="url(#xl497)"/><rect x="-12" y="288" width="392" height="10.5" fill="url(#xl498)"/><rect x="-12" y="298" width="392" height="10.5" fill="url(#xl499)"/><rect x="-12" y="308" width="392" height="10.5" fill="url(#xl500)"/><rect x="-12" y="318" width="392" height="10.5" fill="url(#xl501)"/><rect x="-12" y="328" width="392" height="10.5" fill="url(#xl502)"/><rect x="-12" y="338" width="392" height="10.5" fill="url(#xl503)"/><rect x="-12" y="348" width="392" height="10.5" fill="url(#xl504)"/><rect x="-12" y="358" width="392" height="10.5" fill="url(#xl505)"/><rect x="-12" y="368" width="392" height="10.5" fill="url(#xl506)"/><rect x="-12" y="378" width="392" height="2.5" fill="url(#xl507)"/></g><use href="#xy_land"/><path d="M36.3 18.5 42 17.8 44 20.6 42 23.8 36.3 24.2Z" fill="#1c1cf0" stroke="#000" stroke-width="1"/><use href="#xy_over"/><text x="244.5" y="140.2" font-size="20">La Rochelle</text>
</g>
<rect x="0" y="0" width="36.8" height="37.2" fill="#fff" stroke="#000" stroke-width="1.1"/>
<text x="4.0" y="25.8" font-size="20" font-weight="bold">(l)</text>
<rect x="0" y="0" width="366.1" height="366.1" fill="none" stroke="#000" stroke-width="1.1"/>
</g>
<text x="306.6" y="34" font-size="20" text-anchor="middle">G1</text>
<text x="789.7" y="34" font-size="20" text-anchor="middle">G2 - G1</text>
<text x="1178.8" y="34" font-size="20" text-anchor="middle">N1 - G1</text>
<text x="1567.8" y="34" font-size="20" text-anchor="middle">N2 - G1</text>
<text transform="translate(35.5,208.6) rotate(-90)" font-size="20" text-anchor="middle">Irma</text>
<text transform="translate(35.5,635.5) rotate(-90)" font-size="20" text-anchor="middle">Haiyan</text>
<text transform="translate(35.5,1062.5) rotate(-90)" font-size="20" text-anchor="middle">Xynthia</text>
<text x="147.9" y="429.2" font-size="17.3" text-anchor="middle">85°W</text>
<text x="208.9" y="429.2" font-size="17.3" text-anchor="middle">84°W</text>
<text x="269.9" y="429.2" font-size="17.3" text-anchor="middle">83°W</text>
<text x="331.0" y="429.2" font-size="17.3" text-anchor="middle">82°W</text>
<text x="392.0" y="429.2" font-size="17.3" text-anchor="middle">81°W</text>
<text x="453.0" y="429.2" font-size="17.3" text-anchor="middle">80°W</text>
<text x="631.0" y="429.2" font-size="17.3" text-anchor="middle">85°W</text>
<text x="692.0" y="429.2" font-size="17.3" text-anchor="middle">84°W</text>
<text x="753.0" y="429.2" font-size="17.3" text-anchor="middle">83°W</text>
<text x="814.1" y="429.2" font-size="17.3" text-anchor="middle">82°W</text>
<text x="875.1" y="429.2" font-size="17.3" text-anchor="middle">81°W</text>
<text x="936.1" y="429.2" font-size="17.3" text-anchor="middle">80°W</text>
<text x="1020.1" y="429.2" font-size="17.3" text-anchor="middle">85°W</text>
<text x="1081.1" y="429.2" font-size="17.3" text-anchor="middle">84°W</text>
<text x="1142.1" y="429.2" font-size="17.3" text-anchor="middle">83°W</text>
<text x="1203.2" y="429.2" font-size="17.3" text-anchor="middle">82°W</text>
<text x="1264.2" y="429.2" font-size="17.3" text-anchor="middle">81°W</text>
<text x="1325.2" y="429.2" font-size="17.3" text-anchor="middle">80°W</text>
<text x="1409.1" y="429.2" font-size="17.3" text-anchor="middle">85°W</text>
<text x="1470.1" y="429.2" font-size="17.3" text-anchor="middle">84°W</text>
<text x="1531.1" y="429.2" font-size="17.3" text-anchor="middle">83°W</text>
<text x="1592.2" y="429.2" font-size="17.3" text-anchor="middle">82°W</text>
<text x="1653.2" y="429.2" font-size="17.3" text-anchor="middle">81°W</text>
<text x="1714.2" y="429.2" font-size="17.3" text-anchor="middle">80°W</text>
<text x="116.5" y="96.8" font-size="17.3" text-anchor="end">30°N</text>
<text x="116.5" y="157.8" font-size="17.3" text-anchor="end">29°N</text>
<text x="116.5" y="218.8" font-size="17.3" text-anchor="end">28°N</text>
<text x="116.5" y="279.9" font-size="17.3" text-anchor="end">27°N</text>
<text x="116.5" y="340.9" font-size="17.3" text-anchor="end">26°N</text>
<text x="116.5" y="401.9" font-size="17.3" text-anchor="end">25°N</text>
<text x="172.3" y="856.2" font-size="17.3" text-anchor="middle">124.5°E</text>
<text x="233.3" y="856.2" font-size="17.3" text-anchor="middle">125°E</text>
<text x="294.3" y="856.2" font-size="17.3" text-anchor="middle">125.5°E</text>
<text x="355.4" y="856.2" font-size="17.3" text-anchor="middle">126°E</text>
<text x="416.4" y="856.2" font-size="17.3" text-anchor="middle">126.5°E</text>
<text x="477.4" y="856.2" font-size="17.3" text-anchor="middle">127°E</text>
<text x="655.4" y="856.2" font-size="17.3" text-anchor="middle">124.5°E</text>
<text x="716.4" y="856.2" font-size="17.3" text-anchor="middle">125°E</text>
<text x="777.4" y="856.2" font-size="17.3" text-anchor="middle">125.5°E</text>
<text x="838.5" y="856.2" font-size="17.3" text-anchor="middle">126°E</text>
<text x="899.5" y="856.2" font-size="17.3" text-anchor="middle">126.5°E</text>
<text x="960.5" y="856.2" font-size="17.3" text-anchor="middle">127°E</text>
<text x="1044.5" y="856.2" font-size="17.3" text-anchor="middle">124.5°E</text>
<text x="1105.5" y="856.2" font-size="17.3" text-anchor="middle">125°E</text>
<text x="1166.5" y="856.2" font-size="17.3" text-anchor="middle">125.5°E</text>
<text x="1227.6" y="856.2" font-size="17.3" text-anchor="middle">126°E</text>
<text x="1288.6" y="856.2" font-size="17.3" text-anchor="middle">126.5°E</text>
<text x="1349.6" y="856.2" font-size="17.3" text-anchor="middle">127°E</text>
<text x="1433.5" y="856.2" font-size="17.3" text-anchor="middle">124.5°E</text>
<text x="1494.5" y="856.2" font-size="17.3" text-anchor="middle">125°E</text>
<text x="1555.5" y="856.2" font-size="17.3" text-anchor="middle">125.5°E</text>
<text x="1616.6" y="856.2" font-size="17.3" text-anchor="middle">126°E</text>
<text x="1677.6" y="856.2" font-size="17.3" text-anchor="middle">126.5°E</text>
<text x="1738.6" y="856.2" font-size="17.3" text-anchor="middle">127°E</text>
<text x="116.5" y="511.0" font-size="17.3" text-anchor="end">11.5°N</text>
<text x="116.5" y="572.0" font-size="17.3" text-anchor="end">11°N</text>
<text x="116.5" y="633.0" font-size="17.3" text-anchor="end">10.5°N</text>
<text x="116.5" y="694.1" font-size="17.3" text-anchor="end">10°N</text>
<text x="116.5" y="755.1" font-size="17.3" text-anchor="end">9.5°N</text>
<text x="116.5" y="816.1" font-size="17.3" text-anchor="end">9°N</text>
<text x="184.5" y="1283.2" font-size="17.3" text-anchor="middle">4°W</text>
<text x="245.5" y="1283.2" font-size="17.3" text-anchor="middle">3°W</text>
<text x="306.5" y="1283.2" font-size="17.3" text-anchor="middle">2°W</text>
<text x="367.6" y="1283.2" font-size="17.3" text-anchor="middle">1°W</text>
<text x="428.6" y="1283.2" font-size="17.3" text-anchor="middle">0°</text>
<text x="667.6" y="1283.2" font-size="17.3" text-anchor="middle">4°W</text>
<text x="728.6" y="1283.2" font-size="17.3" text-anchor="middle">3°W</text>
<text x="789.6" y="1283.2" font-size="17.3" text-anchor="middle">2°W</text>
<text x="850.7" y="1283.2" font-size="17.3" text-anchor="middle">1°W</text>
<text x="911.7" y="1283.2" font-size="17.3" text-anchor="middle">0°</text>
<text x="1056.7" y="1283.2" font-size="17.3" text-anchor="middle">4°W</text>
<text x="1117.7" y="1283.2" font-size="17.3" text-anchor="middle">3°W</text>
<text x="1178.7" y="1283.2" font-size="17.3" text-anchor="middle">2°W</text>
<text x="1239.8" y="1283.2" font-size="17.3" text-anchor="middle">1°W</text>
<text x="1300.8" y="1283.2" font-size="17.3" text-anchor="middle">0°</text>
<text x="1445.7" y="1283.2" font-size="17.3" text-anchor="middle">4°W</text>
<text x="1506.7" y="1283.2" font-size="17.3" text-anchor="middle">3°W</text>
<text x="1567.7" y="1283.2" font-size="17.3" text-anchor="middle">2°W</text>
<text x="1628.8" y="1283.2" font-size="17.3" text-anchor="middle">1°W</text>
<text x="1689.8" y="1283.2" font-size="17.3" text-anchor="middle">0°</text>
<text x="116.5" y="931.7" font-size="17.3" text-anchor="end">48°N</text>
<text x="116.5" y="992.7" font-size="17.3" text-anchor="end">47°N</text>
<text x="116.5" y="1053.7" font-size="17.3" text-anchor="end">46°N</text>
<text x="116.5" y="1114.8" font-size="17.3" text-anchor="end">45°N</text>
<text x="116.5" y="1175.8" font-size="17.3" text-anchor="end">44°N</text>
<text x="116.5" y="1236.8" font-size="17.3" text-anchor="end">43°N</text>
<rect x="505.3" y="42.5" width="18.4" height="366.1" fill="url(#gjet)" stroke="#000" stroke-width="1"/>
<path d="M523.7 408.60h4.6" stroke="#000" stroke-width="1.1"/>
<text x="534.0" y="416.2" font-size="20">0.0</text>
<path d="M523.7 347.58h4.6" stroke="#000" stroke-width="1.1"/>
<text x="534.0" y="355.2" font-size="20">0.5</text>
<path d="M523.7 286.57h4.6" stroke="#000" stroke-width="1.1"/>
<text x="534.0" y="294.2" font-size="20">1.0</text>
<path d="M523.7 225.55h4.6" stroke="#000" stroke-width="1.1"/>
<text x="534.0" y="233.2" font-size="20">1.5</text>
<path d="M523.7 164.53h4.6" stroke="#000" stroke-width="1.1"/>
<text x="534.0" y="172.1" font-size="20">2.0</text>
<path d="M523.7 103.52h4.6" stroke="#000" stroke-width="1.1"/>
<text x="534.0" y="111.1" font-size="20">2.5</text>
<path d="M523.7 42.50h4.6" stroke="#000" stroke-width="1.1"/>
<text x="534.0" y="50.1" font-size="20">3.0</text>
<text transform="translate(592.0,225.6) rotate(-90)" font-size="20" text-anchor="middle">Max. Water level [m]</text>
<rect x="1766.3" y="42.5" width="18.4" height="366.1" fill="url(#gseis)" stroke="#000" stroke-width="1"/>
<path d="M1784.7 408.60h4.6" stroke="#000" stroke-width="1.1"/>
<text x="1795.0" y="416.2" font-size="20">−0.4</text>
<path d="M1784.7 362.84h4.6" stroke="#000" stroke-width="1.1"/>
<text x="1795.0" y="370.4" font-size="20">−0.3</text>
<path d="M1784.7 317.08h4.6" stroke="#000" stroke-width="1.1"/>
<text x="1795.0" y="324.7" font-size="20">−0.2</text>
<path d="M1784.7 271.31h4.6" stroke="#000" stroke-width="1.1"/>
<text x="1795.0" y="278.9" font-size="20">−0.1</text>
<path d="M1784.7 225.55h4.6" stroke="#000" stroke-width="1.1"/>
<text x="1795.0" y="233.2" font-size="20">0.0</text>
<path d="M1784.7 179.79h4.6" stroke="#000" stroke-width="1.1"/>
<text x="1795.0" y="187.4" font-size="20">0.1</text>
<path d="M1784.7 134.02h4.6" stroke="#000" stroke-width="1.1"/>
<text x="1795.0" y="141.6" font-size="20">0.2</text>
<path d="M1784.7 88.26h4.6" stroke="#000" stroke-width="1.1"/>
<text x="1795.0" y="95.9" font-size="20">0.3</text>
<path d="M1784.7 42.50h4.6" stroke="#000" stroke-width="1.1"/>
<text x="1795.0" y="50.1" font-size="20">0.4</text>
<text transform="translate(1870.5,225.6) rotate(-90)" font-size="20" text-anchor="middle">Max. Water level difference [m]</text>
<rect x="505.3" y="469.5" width="18.4" height="366.1" fill="url(#gjet)" stroke="#000" stroke-width="1"/>
<path d="M523.7 835.60h4.6" stroke="#000" stroke-width="1.1"/>
<text x="534.0" y="843.2" font-size="20">0</text>
<path d="M523.7 794.92h4.6" stroke="#000" stroke-width="1.1"/>
<text x="534.0" y="802.5" font-size="20">1</text>
<path d="M523.7 754.24h4.6" stroke="#000" stroke-width="1.1"/>
<text x="534.0" y="761.8" font-size="20">2</text>
<path d="M523.7 713.57h4.6" stroke="#000" stroke-width="1.1"/>
<text x="534.0" y="721.2" font-size="20">3</text>
<path d="M523.7 672.89h4.6" stroke="#000" stroke-width="1.1"/>
<text x="534.0" y="680.5" font-size="20">4</text>
<path d="M523.7 632.21h4.6" stroke="#000" stroke-width="1.1"/>
<text x="534.0" y="639.8" font-size="20">5</text>
<path d="M523.7 591.53h4.6" stroke="#000" stroke-width="1.1"/>
<text x="534.0" y="599.1" font-size="20">6</text>
<path d="M523.7 550.86h4.6" stroke="#000" stroke-width="1.1"/>
<text x="534.0" y="558.5" font-size="20">7</text>
<path d="M523.7 510.18h4.6" stroke="#000" stroke-width="1.1"/>
<text x="534.0" y="517.8" font-size="20">8</text>
<path d="M523.7 469.50h4.6" stroke="#000" stroke-width="1.1"/>
<text x="534.0" y="477.1" font-size="20">9</text>
<text transform="translate(592.0,652.5) rotate(-90)" font-size="20" text-anchor="middle">Max. Water level [m]</text>
<path d="M1766.3 835.6V487.8L1775.5 469.5L1784.7 487.8V835.6Z" fill="url(#gseis)" stroke="#000" stroke-width="1" stroke-linejoin="miter"/>
<path d="M1784.7 835.60h4.6" stroke="#000" stroke-width="1.1"/>
<text x="1795.0" y="843.2" font-size="20">−0.4</text>
<path d="M1784.7 792.12h4.6" stroke="#000" stroke-width="1.1"/>
<text x="1795.0" y="799.7" font-size="20">−0.3</text>
<path d="M1784.7 748.65h4.6" stroke="#000" stroke-width="1.1"/>
<text x="1795.0" y="756.2" font-size="20">−0.2</text>
<path d="M1784.7 705.17h4.6" stroke="#000" stroke-width="1.1"/>
<text x="1795.0" y="712.8" font-size="20">−0.1</text>
<path d="M1784.7 661.70h4.6" stroke="#000" stroke-width="1.1"/>
<text x="1795.0" y="669.3" font-size="20">0.0</text>
<path d="M1784.7 618.23h4.6" stroke="#000" stroke-width="1.1"/>
<text x="1795.0" y="625.8" font-size="20">0.1</text>
<path d="M1784.7 574.75h4.6" stroke="#000" stroke-width="1.1"/>
<text x="1795.0" y="582.4" font-size="20">0.2</text>
<path d="M1784.7 531.28h4.6" stroke="#000" stroke-width="1.1"/>
<text x="1795.0" y="538.9" font-size="20">0.3</text>
<path d="M1784.7 487.80h4.6" stroke="#000" stroke-width="1.1"/>
<text x="1795.0" y="495.4" font-size="20">0.4</text>
<text transform="translate(1870.5,652.5) rotate(-90)" font-size="20" text-anchor="middle">Max. Water level difference [m]</text>
<rect x="505.3" y="896.5" width="18.4" height="366.1" fill="url(#gjet)" stroke="#000" stroke-width="1"/>
<path d="M523.7 1262.60h4.6" stroke="#000" stroke-width="1.1"/>
<text x="534.0" y="1270.2" font-size="20">0.0</text>
<path d="M523.7 1216.84h4.6" stroke="#000" stroke-width="1.1"/>
<text x="534.0" y="1224.4" font-size="20">0.5</text>
<path d="M523.7 1171.08h4.6" stroke="#000" stroke-width="1.1"/>
<text x="534.0" y="1178.7" font-size="20">1.0</text>
<path d="M523.7 1125.31h4.6" stroke="#000" stroke-width="1.1"/>
<text x="534.0" y="1132.9" font-size="20">1.5</text>
<path d="M523.7 1079.55h4.6" stroke="#000" stroke-width="1.1"/>
<text x="534.0" y="1087.1" font-size="20">2.0</text>
<path d="M523.7 1033.79h4.6" stroke="#000" stroke-width="1.1"/>
<text x="534.0" y="1041.4" font-size="20">2.5</text>
<path d="M523.7 988.02h4.6" stroke="#000" stroke-width="1.1"/>
<text x="534.0" y="995.6" font-size="20">3.0</text>
<path d="M523.7 942.26h4.6" stroke="#000" stroke-width="1.1"/>
<text x="534.0" y="949.9" font-size="20">3.5</text>
<path d="M523.7 896.50h4.6" stroke="#000" stroke-width="1.1"/>
<text x="534.0" y="904.1" font-size="20">4.0</text>
<text transform="translate(592.0,1079.5) rotate(-90)" font-size="20" text-anchor="middle">Max. Water level [m]</text>
<rect x="1766.3" y="896.5" width="18.4" height="366.1" fill="url(#gseis)" stroke="#000" stroke-width="1"/>
<path d="M1784.7 1262.60h4.6" stroke="#000" stroke-width="1.1"/>
<text x="1795.0" y="1270.2" font-size="20">−0.4</text>
<path d="M1784.7 1216.84h4.6" stroke="#000" stroke-width="1.1"/>
<text x="1795.0" y="1224.4" font-size="20">−0.3</text>
<path d="M1784.7 1171.07h4.6" stroke="#000" stroke-width="1.1"/>
<text x="1795.0" y="1178.7" font-size="20">−0.2</text>
<path d="M1784.7 1125.31h4.6" stroke="#000" stroke-width="1.1"/>
<text x="1795.0" y="1132.9" font-size="20">−0.1</text>
<path d="M1784.7 1079.55h4.6" stroke="#000" stroke-width="1.1"/>
<text x="1795.0" y="1087.1" font-size="20">0.0</text>
<path d="M1784.7 1033.79h4.6" stroke="#000" stroke-width="1.1"/>
<text x="1795.0" y="1041.4" font-size="20">0.1</text>
<path d="M1784.7 988.02h4.6" stroke="#000" stroke-width="1.1"/>
<text x="1795.0" y="995.6" font-size="20">0.2</text>
<path d="M1784.7 942.26h4.6" stroke="#000" stroke-width="1.1"/>
<text x="1795.0" y="949.9" font-size="20">0.3</text>
<path d="M1784.7 896.50h4.6" stroke="#000" stroke-width="1.1"/>
<text x="1795.0" y="904.1" font-size="20">0.4</text>
<text transform="translate(1870.5,1079.5) rotate(-90)" font-size="20" text-anchor="middle">Max. Water level difference [m]</text>
<g transform="translate(1384.7,896.5)">
<path d="M188.8 326.6h29" stroke="#000" stroke-width="2.08" stroke-dasharray="7.7 3.3" fill="none"/>
<text x="229.8" y="331.6" font-size="17.5">Storm track</text>
<path d="M196.6 344.6h14l-7 12.4z" fill="#000"/>
<text x="229.8" y="355.4" font-size="17.5">GESLA stations</text>
</g>
</svg></body></html>
